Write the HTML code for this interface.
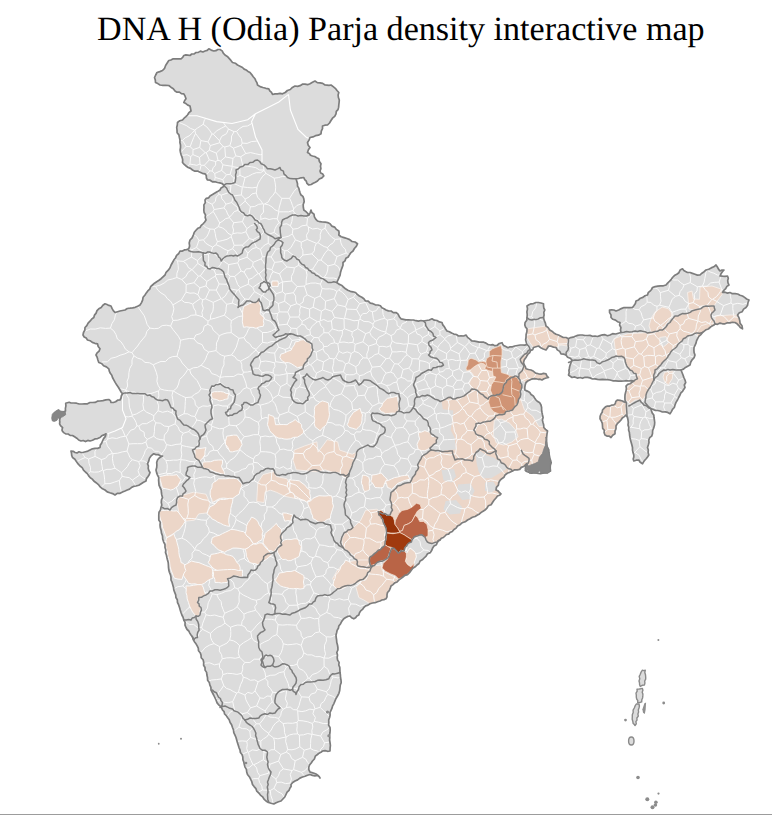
<!DOCTYPE html>
<html><head><meta charset="utf-8"><title>DNA H (Odia) Parja density interactive map</title>
<style>
html,body{margin:0;padding:0;background:#fff;}
body{width:772px;height:815px;overflow:hidden;position:relative;font-family:"Liberation Serif",serif;}
h1{position:absolute;left:0;top:9.6px;width:801.6px;text-rendering:geometricPrecision;margin:0;text-align:center;font-weight:normal;font-size:34.1px;line-height:40px;color:#000;white-space:nowrap;}
svg{position:absolute;left:0;top:0;}
.bl{position:absolute;left:0;top:813.5px;width:772px;height:1.5px;background:#9c9c9c;}
</style></head><body>
<svg width="772" height="815" viewBox="0 0 772 815">
<defs><clipPath id="c"><path d="M154.5 77.5 L155.7 75.0 L157.0 72.5 L159.8 71.6 L162.5 70.5 L164.6 68.3 L165.6 65.5 L167.2 63.0 L168.8 60.5 L170.9 60.0 L172.8 58.9 L175.0 58.8 L177.0 58.8 L179.0 58.9 L181.0 58.8 L182.7 57.4 L183.8 55.5 L185.8 54.9 L187.9 55.2 L190.0 55.5 L191.7 54.0 L194.2 53.9 L196.0 52.5 L198.3 52.4 L200.4 51.1 L202.9 52.0 L205.0 51.0 L207.2 50.4 L208.8 48.8 L211.2 50.1 L213.8 51.0 L215.9 50.7 L217.8 49.5 L220.0 49.5 L222.2 50.9 L223.3 53.2 L225.0 55.0 L227.3 56.4 L229.1 58.4 L230.9 60.4 L232.5 62.5 L235.3 63.2 L237.5 65.0 L240.0 66.2 L242.5 67.5 L244.1 69.1 L246.2 70.0 L248.0 71.4 L250.0 72.5 L251.7 74.6 L253.2 76.8 L255.0 78.8 L255.9 80.8 L257.0 82.8 L257.5 85.0 L260.1 86.6 L262.9 87.5 L265.8 88.3 L268.8 88.8 L269.8 90.8 L271.5 92.4 L272.5 94.5 L275.0 93.9 L277.5 93.8 L280.0 93.3 L282.5 93.8 L285.2 92.5 L287.4 90.5 L290.3 89.5 L292.4 87.4 L295.0 86.0 L297.6 86.3 L300.1 85.7 L302.4 84.2 L304.9 84.1 L307.6 84.7 L310.0 83.8 L312.5 82.3 L315.0 81.0 L317.3 82.6 L320.1 82.9 L322.7 83.4 L325.0 85.0 L327.0 85.2 L329.0 85.4 L331.0 85.0 L333.2 86.6 L335.3 88.3 L337.0 90.5 L338.8 92.5 L338.1 95.0 L338.4 97.5 L339.3 100.0 L339.1 102.5 L338.8 105.0 L338.6 107.4 L338.0 109.6 L336.3 111.4 L336.0 113.8 L334.7 116.3 L332.5 118.2 L331.0 120.5 L329.5 123.0 L327.5 125.0 L324.9 125.2 L322.5 126.0 L322.5 128.7 L321.3 131.1 L321.0 133.8 L318.4 135.2 L315.5 135.7 L312.9 136.9 L310.0 137.5 L309.0 140.1 L307.5 142.5 L308.2 145.3 L310.0 147.5 L308.4 149.8 L307.5 152.5 L309.3 153.4 L310.5 155.3 L312.5 156.0 L314.7 156.5 L316.7 157.7 L318.8 158.8 L319.4 161.5 L321.0 163.8 L320.5 166.1 L320.9 168.7 L320.0 171.0 L320.7 173.1 L322.8 174.1 L323.8 176.0 L321.9 177.9 L319.3 179.0 L317.5 181.0 L315.4 182.2 L313.2 183.3 L311.2 184.5 L308.8 185.0 L307.0 183.4 L306.3 181.2 L304.7 179.6 L303.8 177.5 L301.1 177.8 L298.6 178.5 L296.0 178.8 L296.8 181.2 L297.5 183.8 L297.5 186.1 L298.8 188.1 L299.3 190.3 L300.0 192.5 L300.8 194.8 L302.9 196.4 L303.8 198.8 L304.2 201.6 L303.2 204.4 L303.3 207.2 L303.8 210.0 L305.7 211.4 L307.4 213.0 L308.8 215.0 L310.2 212.6 L311.0 210.0 L311.8 212.5 L314.0 214.2 L314.4 216.9 L315.7 219.1 L317.5 221.0 L320.0 221.7 L322.5 222.0 L325.1 222.1 L327.6 222.6 L330.0 223.8 L331.8 226.1 L334.6 227.1 L336.4 229.4 L338.8 231.0 L339.1 233.0 L338.8 235.0 L341.2 236.7 L344.1 237.6 L346.9 238.5 L349.7 239.6 L352.0 241.5 L355.1 242.0 L357.5 243.8 L356.3 246.4 L354.4 248.5 L353.0 251.0 L351.0 252.6 L349.5 254.7 L348.2 257.0 L345.9 258.3 L345.0 260.9 L343.0 262.5 L343.0 265.2 L342.1 267.6 L341.2 270.0 L340.5 272.5 L340.1 275.2 L339.0 277.7 L337.9 280.1 L336.8 282.5 L338.9 284.1 L341.4 285.2 L343.4 287.0 L345.5 288.8 L347.8 290.2 L350.3 291.3 L352.9 291.8 L355.5 292.5 L357.3 294.4 L359.4 296.0 L361.8 297.2 L363.9 298.8 L365.5 301.0 L368.2 301.2 L370.3 303.1 L372.9 303.7 L375.3 304.8 L378.0 305.0 L380.4 305.7 L381.9 307.7 L384.0 308.7 L386.0 310.0 L388.4 310.9 L391.1 311.0 L393.3 312.6 L396.0 312.5 L398.1 314.2 L399.3 316.7 L401.0 318.8 L403.5 319.3 L405.9 319.8 L408.5 319.8 L411.0 320.0 L413.5 320.0 L416.0 320.7 L418.4 321.1 L421.0 320.5 L423.5 321.0 L426.4 320.5 L429.3 320.0 L432.0 318.8 L434.3 320.2 L437.0 320.5 L439.4 321.9 L442.0 322.5 L442.8 324.9 L444.4 326.8 L445.6 329.0 L447.0 331.0 L449.4 331.8 L451.6 333.1 L453.8 334.1 L456.4 334.5 L458.5 336.0 L461.0 335.9 L463.6 336.0 L466.0 335.0 L467.6 337.4 L469.8 339.2 L472.0 341.0 L474.5 341.1 L477.0 341.6 L479.2 342.1 L481.5 342.1 L483.7 342.2 L486.0 343.1 L488.0 344.5 L490.4 345.0 L492.6 344.6 L494.8 345.7 L497.0 345.5 L499.2 343.5 L502.0 342.7 L502.7 344.2 L503.6 345.5 L505.8 346.6 L508.0 347.7 L510.1 346.8 L512.5 346.8 L514.7 346.0 L517.4 345.5 L520.2 345.0 L522.4 345.0 L524.7 345.2 L526.8 344.4 L526.2 342.1 L525.6 339.9 L526.0 337.5 L526.1 334.6 L526.9 331.7 L527.0 328.8 L525.5 327.1 L524.8 325.0 L525.1 322.4 L526.8 320.2 L527.0 317.5 L527.2 314.6 L526.9 311.8 L527.5 308.9 L527.0 306.0 L528.9 304.7 L531.0 303.8 L533.5 303.6 L535.9 302.5 L538.5 302.5 L541.0 303.0 L543.5 303.8 L543.5 305.9 L543.8 308.0 L544.8 310.0 L543.8 312.4 L544.1 315.0 L543.5 317.5 L544.2 320.4 L545.4 323.1 L546.0 326.0 L548.2 327.7 L549.8 330.0 L551.9 331.2 L553.9 332.9 L556.1 334.2 L558.5 335.0 L560.9 336.2 L563.3 337.5 L566.1 337.5 L568.5 338.8 L570.7 337.6 L573.1 337.2 L575.3 336.2 L577.6 335.4 L580.0 335.0 L582.5 335.0 L585.0 335.5 L587.5 335.5 L590.0 335.4 L592.5 336.3 L595.0 336.0 L597.5 336.5 L600.0 335.6 L602.5 334.9 L605.0 334.7 L607.5 335.7 L610.0 335.0 L612.6 333.7 L615.6 334.0 L618.3 333.2 L621.0 332.5 L620.5 330.0 L620.9 327.5 L619.6 325.1 L620.0 322.5 L617.5 321.7 L615.5 320.1 L612.9 319.3 L611.0 317.5 L611.0 314.9 L609.6 312.6 L609.5 310.0 L611.7 309.8 L613.9 310.0 L616.0 311.0 L618.7 310.0 L621.3 308.6 L624.0 307.5 L626.8 307.7 L629.7 307.7 L632.5 307.5 L634.0 305.5 L635.4 303.5 L636.0 301.0 L638.4 300.0 L640.4 298.2 L642.9 297.4 L645.0 295.8 L647.5 295.0 L648.2 292.7 L650.0 291.2 L651.5 289.5 L652.5 287.5 L655.1 286.6 L657.8 286.2 L660.6 285.8 L663.4 285.8 L666.0 285.0 L667.6 283.1 L669.4 281.4 L671.1 279.6 L672.5 277.5 L674.4 275.6 L676.8 274.3 L678.9 272.7 L680.1 270.1 L682.5 268.8 L683.8 270.5 L685.6 271.5 L687.5 272.5 L690.1 272.5 L692.5 273.4 L695.0 274.2 L697.4 275.1 L700.0 275.0 L701.9 273.2 L704.1 271.7 L706.0 270.0 L708.7 269.2 L711.2 267.9 L713.8 266.8 L716.0 265.0 L717.4 267.0 L718.5 269.1 L720.0 271.0 L721.9 270.1 L724.0 270.0 L722.4 271.8 L721.0 273.8 L720.0 276.0 L722.5 276.2 L725.0 276.3 L727.5 276.0 L728.3 278.2 L727.7 280.6 L728.0 282.9 L729.0 285.0 L726.9 286.4 L725.7 288.7 L723.8 290.4 L722.5 292.5 L725.0 292.2 L727.5 293.1 L730.0 292.5 L732.4 293.7 L735.1 293.7 L737.7 294.0 L740.0 295.2 L742.5 296.0 L744.6 297.4 L746.6 299.0 L749.0 300.0 L748.0 302.5 L747.6 305.2 L746.0 307.5 L743.6 309.1 L742.2 311.7 L739.3 312.8 L737.5 315.0 L738.9 317.6 L739.7 320.4 L740.1 323.4 L742.0 325.8 L742.5 328.8 L740.3 327.6 L738.8 325.6 L737.1 323.8 L735.0 322.5 L732.4 322.3 L730.0 322.9 L727.4 322.8 L725.0 323.8 L722.5 323.8 L720.0 323.1 L717.5 324.3 L715.0 323.8 L713.6 325.3 L711.6 326.2 L710.0 327.5 L708.3 329.0 L706.1 329.7 L704.3 331.1 L702.5 332.5 L700.8 334.6 L698.8 336.4 L697.5 338.8 L696.5 340.9 L696.0 343.2 L695.0 345.4 L694.0 347.5 L693.9 350.1 L694.1 352.6 L695.0 355.0 L694.1 357.7 L692.1 359.8 L690.7 362.2 L690.0 365.0 L687.7 366.2 L685.5 367.4 L683.5 369.1 L681.0 370.0 L682.0 372.5 L683.0 375.0 L683.9 377.6 L685.0 380.0 L685.7 382.5 L684.3 385.0 L685.0 387.5 L683.7 389.4 L682.6 391.3 L680.9 392.9 L680.0 395.0 L678.7 397.5 L677.5 400.0 L676.0 402.4 L675.0 405.0 L674.3 407.5 L672.5 409.3 L671.4 411.6 L670.0 413.8 L667.7 412.4 L665.2 411.8 L662.4 412.0 L660.0 411.0 L657.7 410.5 L655.4 410.4 L653.2 409.4 L651.0 408.8 L651.5 411.0 L652.3 413.1 L653.8 415.0 L654.0 417.5 L654.4 420.0 L654.7 422.5 L654.5 425.0 L653.7 427.9 L652.6 430.7 L652.5 433.8 L651.7 436.1 L649.7 437.7 L648.8 440.0 L649.0 442.6 L648.3 445.1 L647.5 447.5 L648.3 449.9 L648.1 452.5 L648.8 455.0 L647.7 456.8 L646.4 458.5 L645.0 460.0 L643.6 461.8 L642.5 463.8 L640.2 462.3 L638.8 460.0 L636.2 460.2 L633.8 461.0 L633.2 459.0 L633.8 457.0 L633.8 455.0 L633.0 452.6 L632.5 450.1 L632.5 447.5 L631.9 445.0 L631.2 442.5 L630.5 440.0 L630.0 437.5 L629.6 435.0 L629.4 432.5 L628.6 430.1 L628.8 427.5 L628.0 425.1 L628.3 422.5 L628.0 420.0 L627.5 417.5 L626.0 415.0 L624.3 416.6 L622.3 418.0 L621.0 420.0 L619.2 421.9 L617.3 423.7 L616.0 426.0 L616.0 428.6 L615.0 431.1 L615.0 433.8 L612.7 435.3 L611.0 437.5 L609.2 436.1 L606.9 436.1 L605.0 435.0 L604.1 432.8 L604.3 430.3 L602.7 428.4 L602.5 426.0 L602.3 423.4 L601.3 421.0 L600.0 418.8 L600.1 416.4 L600.9 414.3 L602.2 412.3 L602.5 410.0 L604.0 408.4 L605.5 406.9 L607.5 406.0 L609.7 406.1 L611.6 405.2 L613.8 405.0 L615.3 403.6 L615.8 401.4 L617.5 400.0 L620.0 400.4 L622.5 401.0 L624.1 402.0 L626.0 402.5 L625.0 400.1 L624.9 397.6 L625.0 395.0 L625.5 392.8 L626.1 390.6 L626.4 388.3 L626.0 386.0 L627.7 384.4 L630.0 383.8 L631.9 382.4 L633.8 381.0 L631.3 380.6 L628.9 381.0 L626.4 380.7 L624.0 381.0 L621.2 381.2 L618.4 381.2 L615.6 380.9 L612.8 380.8 L610.0 380.0 L607.5 379.7 L605.0 379.6 L602.5 379.3 L600.0 379.7 L597.5 379.4 L595.0 378.8 L592.5 379.0 L590.0 377.9 L587.6 377.4 L585.0 377.3 L582.5 378.3 L580.0 377.5 L577.3 378.1 L574.7 376.9 L572.0 377.5 L570.2 376.3 L568.5 375.0 L569.2 372.8 L568.9 370.5 L569.4 368.2 L569.8 366.0 L570.5 364.0 L571.2 362.0 L572.0 360.0 L570.1 358.2 L567.6 357.2 L566.0 355.0 L563.6 354.1 L561.0 353.8 L559.7 351.4 L557.3 349.9 L556.0 347.5 L553.5 347.1 L551.1 346.2 L548.5 346.0 L547.4 348.1 L546.0 350.0 L543.3 349.0 L540.8 347.7 L538.5 346.0 L536.0 346.7 L533.5 347.5 L532.8 349.6 L530.6 350.5 L529.8 352.5 L528.2 353.9 L527.0 355.7 L526.0 357.5 L524.3 359.8 L523.5 362.5 L524.2 364.7 L525.3 366.6 L526.0 368.8 L528.5 369.5 L531.0 370.0 L533.5 371.3 L535.7 373.1 L538.5 373.8 L541.0 374.2 L543.5 373.4 L546.0 373.8 L546.8 375.9 L548.5 377.5 L546.2 378.0 L544.0 378.8 L542.0 380.0 L540.1 379.2 L538.0 379.3 L536.0 378.8 L533.8 378.6 L531.7 379.1 L529.8 380.0 L527.7 381.0 L526.0 382.5 L525.2 384.9 L524.8 387.4 L524.8 390.0 L527.3 391.1 L529.8 392.5 L531.1 394.6 L533.3 395.9 L534.6 398.0 L536.0 400.0 L537.7 401.6 L539.8 402.8 L541.0 405.0 L541.6 407.5 L541.6 410.0 L542.0 412.5 L542.5 415.0 L543.1 417.5 L542.4 420.1 L543.0 422.5 L543.7 425.0 L543.8 427.5 L545.5 429.4 L547.5 431.0 L547.0 433.9 L546.7 436.7 L546.5 439.6 L546.0 442.5 L546.3 445.2 L547.6 447.6 L548.8 450.0 L548.9 452.5 L549.3 455.1 L549.4 457.6 L550.5 460.0 L551.2 462.8 L550.3 465.5 L550.2 468.2 L550.5 471.0 L547.9 472.3 L545.0 473.0 L542.8 473.1 L540.5 473.6 L538.2 473.4 L536.0 473.0 L533.8 473.0 L531.6 473.2 L529.5 472.5 L527.3 471.8 L525.5 470.5 L526.1 468.8 L525.5 467.0 L526.2 465.3 L526.7 463.5 L525.2 465.0 L523.7 466.5 L521.3 467.4 L519.7 469.4 L517.3 469.8 L514.7 469.8 L512.5 471.0 L509.9 472.2 L507.3 473.3 L505.0 475.0 L503.9 477.3 L501.8 478.7 L500.0 480.4 L498.8 482.5 L498.4 485.2 L496.4 487.3 L496.0 490.0 L498.0 490.9 L499.4 492.5 L501.0 493.8 L499.5 495.3 L497.5 496.0 L495.8 498.2 L494.0 500.2 L492.5 502.5 L491.1 504.8 L488.3 505.8 L487.0 508.2 L485.0 510.0 L483.1 511.2 L481.2 512.4 L479.5 513.9 L477.5 515.0 L475.1 516.5 L472.4 517.3 L470.0 518.7 L467.5 520.0 L465.2 521.8 L462.3 522.7 L460.1 524.7 L457.5 526.0 L456.1 528.1 L454.0 529.5 L452.3 531.4 L450.0 532.5 L448.6 534.1 L446.5 534.5 L445.0 536.0 L443.4 537.5 L441.3 538.2 L440.0 540.0 L438.4 541.0 L437.3 542.5 L436.4 544.8 L434.0 546.0 L432.7 547.9 L431.8 550.2 L430.3 552.6 L427.5 553.7 L426.1 556.1 L424.1 558.0 L422.3 559.8 L420.1 561.0 L419.0 563.5 L417.0 565.0 L415.2 566.8 L412.8 568.3 L411.1 570.5 L409.5 572.7 L407.5 574.6 L404.9 575.4 L402.9 577.0 L400.8 578.6 L398.7 580.1 L397.1 582.0 L394.7 582.9 L393.0 584.6 L391.0 586.0 L390.2 588.4 L389.2 590.6 L387.5 592.5 L387.0 594.6 L387.0 596.8 L386.0 598.8 L384.0 599.6 L381.9 600.0 L380.0 601.0 L377.5 601.7 L375.1 602.7 L372.5 603.0 L370.0 603.8 L368.0 605.1 L365.6 605.9 L363.8 607.5 L362.5 609.4 L360.7 610.9 L359.5 612.8 L358.8 615.0 L356.9 616.0 L355.6 617.8 L353.8 618.8 L351.6 617.8 L350.0 616.0 L347.7 616.4 L345.7 617.5 L343.8 618.8 L341.9 621.1 L340.6 623.7 L338.8 626.0 L338.4 628.3 L337.1 630.4 L336.6 632.7 L336.0 635.0 L336.2 637.5 L336.6 640.0 L336.8 642.6 L337.5 645.0 L337.9 647.5 L337.9 650.0 L336.8 652.5 L337.5 655.0 L337.2 657.6 L337.6 660.1 L339.1 662.4 L338.8 665.0 L339.8 667.4 L339.9 669.9 L340.0 672.5 L340.4 675.0 L340.5 677.5 L341.0 680.0 L341.2 682.6 L340.3 685.0 L340.0 687.5 L339.7 690.5 L338.9 693.3 L337.5 696.0 L336.0 698.5 L334.9 701.1 L333.8 703.8 L332.6 705.9 L332.0 708.2 L331.0 710.3 L330.0 712.5 L330.1 715.1 L329.6 717.5 L328.7 720.0 L328.8 722.5 L328.6 725.1 L330.0 727.4 L330.2 729.9 L330.0 732.5 L329.6 735.0 L329.8 737.5 L329.6 740.0 L330.0 742.5 L330.4 745.3 L330.1 748.2 L330.0 751.0 L327.5 751.3 L325.0 750.6 L322.5 751.0 L320.9 752.3 L319.0 753.2 L317.5 754.5 L315.3 756.2 L314.4 759.0 L312.5 761.0 L311.2 763.0 L309.7 764.8 L308.8 767.0 L308.8 769.6 L310.0 772.0 L312.0 772.6 L314.1 773.2 L316.0 774.0 L318.4 775.6 L320.0 778.0 L319.1 776.4 L317.5 775.5 L314.9 775.8 L312.4 775.4 L310.0 774.5 L307.5 775.2 L305.0 776.2 L302.5 777.0 L299.9 778.1 L297.6 779.9 L295.0 781.0 L292.7 782.5 L291.0 784.5 L291.1 786.4 L290.0 788.0 L289.0 790.4 L287.1 792.2 L286.0 794.5 L284.8 797.0 L282.9 799.0 L281.0 801.0 L278.5 801.7 L276.1 802.7 L273.8 804.0 L271.1 803.3 L268.4 802.5 L266.0 801.0 L264.0 799.1 L262.6 796.8 L260.4 795.1 L258.8 793.0 L256.8 791.2 L255.9 788.6 L254.1 786.6 L252.5 784.5 L251.8 781.7 L250.6 779.2 L249.3 776.7 L247.5 774.5 L246.7 772.0 L246.4 769.4 L245.0 767.1 L244.3 764.6 L243.8 762.0 L242.9 759.6 L242.8 757.0 L242.0 754.6 L240.4 752.5 L240.0 750.0 L239.0 747.6 L238.2 745.1 L237.4 742.6 L236.7 740.0 L236.0 737.5 L235.0 735.1 L233.8 732.6 L233.5 730.0 L232.5 727.5 L231.6 724.8 L230.1 722.5 L229.2 719.8 L227.5 717.5 L226.3 715.6 L224.6 714.0 L224.1 711.7 L222.5 710.0 L221.3 707.2 L219.0 705.2 L217.1 702.9 L216.0 700.0 L214.8 697.5 L213.6 695.0 L212.3 692.5 L211.0 690.0 L210.9 687.3 L209.8 684.9 L209.3 682.4 L207.6 680.2 L207.5 677.5 L206.9 675.0 L206.6 672.4 L205.1 670.1 L205.0 667.5 L203.6 665.2 L203.7 662.4 L203.1 659.8 L201.2 657.7 L201.0 655.0 L200.2 652.7 L198.5 650.7 L198.3 648.1 L197.2 645.9 L196.0 643.8 L194.4 641.7 L193.2 639.6 L192.6 637.0 L191.0 635.0 L189.8 633.1 L188.8 631.0 L187.1 629.5 L186.0 627.5 L185.0 625.1 L185.1 622.3 L183.8 620.0 L183.1 617.4 L181.9 615.0 L181.0 612.5 L180.2 610.0 L179.5 607.4 L178.7 604.9 L177.5 602.5 L177.3 599.8 L175.9 597.5 L175.7 594.9 L174.7 592.4 L173.8 590.0 L173.5 587.4 L172.8 584.9 L172.1 582.4 L171.0 580.0 L171.0 577.4 L170.5 574.9 L169.5 572.5 L168.8 570.0 L168.5 567.5 L168.4 565.0 L168.2 562.4 L167.5 560.0 L166.9 557.5 L166.4 555.0 L165.5 552.6 L165.8 549.9 L165.0 547.5 L165.0 544.5 L163.6 541.8 L162.7 539.0 L162.5 536.0 L161.5 533.3 L161.1 530.5 L160.3 527.8 L160.0 525.0 L160.3 522.4 L158.8 520.1 L158.8 517.5 L158.8 515.0 L159.0 512.3 L160.4 510.1 L161.0 507.5 L161.8 505.1 L161.3 502.4 L161.5 499.9 L162.5 497.5 L161.8 495.0 L161.4 492.5 L161.2 489.9 L160.0 487.5 L159.0 485.1 L158.8 482.6 L158.6 480.1 L158.8 477.5 L157.5 475.1 L156.6 472.6 L156.0 470.0 L156.7 467.5 L156.9 465.0 L156.7 462.4 L157.5 460.0 L158.9 458.3 L160.6 457.1 L162.5 456.0 L160.2 455.9 L158.2 454.5 L155.9 454.6 L153.8 453.8 L152.3 454.8 L151.0 456.0 L149.4 458.4 L148.7 461.2 L147.5 463.8 L148.4 465.8 L148.2 468.3 L148.8 470.5 L150.0 472.5 L149.2 474.7 L147.9 476.7 L146.4 478.6 L146.0 481.0 L143.5 482.3 L141.2 483.8 L138.8 485.3 L136.0 486.0 L133.5 486.4 L131.4 487.6 L129.5 489.1 L127.2 490.0 L125.0 491.0 L122.5 492.0 L120.1 493.3 L117.2 493.4 L115.0 495.0 L112.6 493.6 L109.8 492.8 L107.2 491.9 L105.0 490.0 L102.5 488.8 L100.2 486.9 L98.4 484.6 L96.1 482.7 L93.8 481.0 L92.3 479.1 L90.3 477.7 L88.7 475.9 L87.5 473.8 L85.4 472.0 L83.5 470.1 L82.2 467.6 L80.0 466.0 L78.1 463.9 L76.4 461.6 L74.9 459.2 L72.5 457.5 L71.7 455.4 L71.5 453.2 L71.0 451.0 L73.2 451.3 L75.0 452.5 L77.0 452.9 L79.0 451.8 L81.0 452.5 L83.4 452.3 L85.6 451.7 L87.9 451.1 L90.0 450.0 L92.4 448.8 L94.9 448.4 L97.6 448.4 L100.0 447.5 L100.3 445.1 L101.6 443.2 L102.5 441.0 L103.6 438.6 L105.4 436.4 L106.0 433.8 L103.9 434.9 L101.7 435.8 L100.0 437.5 L97.6 438.6 L94.9 438.9 L92.5 440.2 L90.0 441.0 L87.8 440.4 L85.5 441.6 L83.2 440.5 L81.0 441.0 L78.7 440.0 L76.8 438.2 L74.6 436.8 L72.5 435.5 L70.1 435.4 L68.1 434.0 L65.7 433.9 L63.7 432.6 L62.1 430.8 L62.1 429.2 L62.6 427.6 L60.5 425.6 L59.6 423.9 L59.8 421.9 L59.6 420.1 L60.0 418.3 L60.5 415.4 L61.0 412.5 L63.3 412.0 L65.5 411.0 L65.4 408.4 L65.9 405.9 L65.7 403.3 L67.3 402.8 L69.2 402.3 L71.0 403.0 L73.8 403.0 L76.5 403.2 L79.2 404.0 L82.0 404.0 L84.7 403.8 L87.5 403.8 L89.9 402.5 L92.5 402.5 L95.1 402.4 L97.4 401.2 L100.0 401.0 L102.9 400.6 L105.8 399.9 L108.8 399.5 L110.4 400.6 L111.0 402.5 L113.4 402.5 L115.6 401.7 L117.6 400.2 L120.0 400.0 L121.0 398.0 L121.4 395.7 L122.5 393.8 L121.1 392.0 L120.0 390.0 L118.5 387.5 L116.8 385.1 L115.3 382.6 L113.9 380.1 L112.5 377.5 L111.8 375.2 L110.3 373.3 L109.3 371.1 L108.8 368.8 L106.4 366.9 L103.6 365.8 L101.6 363.5 L98.8 362.5 L97.9 360.0 L97.2 357.4 L96.0 355.0 L97.1 352.8 L99.1 351.1 L100.0 348.8 L98.2 346.5 L97.5 343.8 L94.8 343.3 L92.3 342.4 L90.1 340.7 L87.5 340.0 L86.2 338.1 L84.2 337.0 L83.0 335.0 L83.5 332.5 L84.8 330.1 L85.0 327.5 L86.8 325.6 L88.1 323.1 L90.0 321.2 L91.6 319.2 L93.8 317.5 L94.5 315.1 L96.1 313.1 L97.0 310.6 L98.8 308.8 L101.2 307.5 L102.9 305.3 L105.0 303.8 L107.0 304.5 L108.9 305.4 L111.0 306.0 L112.0 308.4 L113.3 310.6 L115.0 312.5 L117.5 311.7 L119.9 311.0 L122.5 310.5 L125.0 310.0 L127.3 308.5 L130.0 308.2 L132.6 307.8 L135.2 307.3 L137.6 306.2 L140.0 305.0 L141.5 302.6 L142.6 300.1 L143.1 297.2 L145.0 295.0 L146.3 292.9 L147.8 290.9 L149.7 289.1 L150.6 286.7 L152.5 285.0 L154.5 283.2 L156.7 281.7 L159.0 280.3 L161.1 278.7 L163.0 276.8 L165.0 275.0 L166.1 272.3 L168.3 270.2 L170.0 267.8 L171.1 265.0 L172.5 262.5 L173.8 260.1 L175.5 257.9 L176.6 255.3 L178.8 253.5 L180.0 251.0 L182.4 251.1 L184.4 249.9 L186.6 249.6 L188.8 248.8 L189.6 245.9 L189.2 242.9 L190.0 240.0 L192.1 237.8 L193.3 235.1 L194.3 232.3 L196.2 230.0 L197.8 228.3 L200.0 227.5 L201.2 225.4 L203.1 223.8 L204.7 222.0 L206.0 220.0 L205.2 217.6 L205.5 214.9 L204.1 212.5 L203.8 210.0 L204.0 207.5 L203.9 204.9 L205.3 202.6 L205.0 200.0 L206.3 198.3 L208.7 197.8 L210.0 196.0 L212.5 194.6 L215.0 193.1 L217.5 191.6 L220.0 190.0 L221.0 188.1 L223.0 187.0 L223.8 185.0 L221.9 183.5 L219.7 182.9 L217.5 182.5 L215.0 181.7 L212.4 181.8 L210.1 180.2 L207.5 180.0 L206.4 178.0 L206.3 175.6 L205.0 173.8 L202.4 173.3 L200.0 172.2 L197.6 171.1 L194.9 171.2 L192.5 170.0 L190.5 168.4 L188.1 167.5 L186.1 166.0 L184.2 164.4 L182.5 162.5 L182.7 159.9 L182.1 157.4 L181.2 155.0 L180.5 152.5 L180.1 150.0 L180.5 147.5 L180.5 145.0 L179.9 142.5 L180.0 140.0 L179.4 137.5 L178.9 134.9 L177.1 132.7 L177.0 130.0 L176.7 127.5 L177.3 125.0 L177.5 122.5 L179.8 120.8 L182.5 120.0 L184.1 118.2 L185.9 116.7 L187.5 115.0 L188.9 112.7 L191.0 111.0 L190.5 108.5 L190.0 106.0 L187.8 105.1 L185.9 103.6 L183.8 102.5 L184.7 100.5 L186.0 98.8 L185.1 96.2 L183.8 93.8 L181.4 93.7 L179.4 92.1 L177.0 92.2 L175.0 91.0 L173.3 88.7 L170.9 87.2 L168.8 85.5 L165.8 85.4 L162.9 85.3 L160.0 85.0 L157.8 83.6 L155.5 82.5 L155.3 79.9Z"/></clipPath></defs>
<path d="M154.5 77.5 L155.7 75.0 L157.0 72.5 L159.8 71.6 L162.5 70.5 L164.6 68.3 L165.6 65.5 L167.2 63.0 L168.8 60.5 L170.9 60.0 L172.8 58.9 L175.0 58.8 L177.0 58.8 L179.0 58.9 L181.0 58.8 L182.7 57.4 L183.8 55.5 L185.8 54.9 L187.9 55.2 L190.0 55.5 L191.7 54.0 L194.2 53.9 L196.0 52.5 L198.3 52.4 L200.4 51.1 L202.9 52.0 L205.0 51.0 L207.2 50.4 L208.8 48.8 L211.2 50.1 L213.8 51.0 L215.9 50.7 L217.8 49.5 L220.0 49.5 L222.2 50.9 L223.3 53.2 L225.0 55.0 L227.3 56.4 L229.1 58.4 L230.9 60.4 L232.5 62.5 L235.3 63.2 L237.5 65.0 L240.0 66.2 L242.5 67.5 L244.1 69.1 L246.2 70.0 L248.0 71.4 L250.0 72.5 L251.7 74.6 L253.2 76.8 L255.0 78.8 L255.9 80.8 L257.0 82.8 L257.5 85.0 L260.1 86.6 L262.9 87.5 L265.8 88.3 L268.8 88.8 L269.8 90.8 L271.5 92.4 L272.5 94.5 L275.0 93.9 L277.5 93.8 L280.0 93.3 L282.5 93.8 L285.2 92.5 L287.4 90.5 L290.3 89.5 L292.4 87.4 L295.0 86.0 L297.6 86.3 L300.1 85.7 L302.4 84.2 L304.9 84.1 L307.6 84.7 L310.0 83.8 L312.5 82.3 L315.0 81.0 L317.3 82.6 L320.1 82.9 L322.7 83.4 L325.0 85.0 L327.0 85.2 L329.0 85.4 L331.0 85.0 L333.2 86.6 L335.3 88.3 L337.0 90.5 L338.8 92.5 L338.1 95.0 L338.4 97.5 L339.3 100.0 L339.1 102.5 L338.8 105.0 L338.6 107.4 L338.0 109.6 L336.3 111.4 L336.0 113.8 L334.7 116.3 L332.5 118.2 L331.0 120.5 L329.5 123.0 L327.5 125.0 L324.9 125.2 L322.5 126.0 L322.5 128.7 L321.3 131.1 L321.0 133.8 L318.4 135.2 L315.5 135.7 L312.9 136.9 L310.0 137.5 L309.0 140.1 L307.5 142.5 L308.2 145.3 L310.0 147.5 L308.4 149.8 L307.5 152.5 L309.3 153.4 L310.5 155.3 L312.5 156.0 L314.7 156.5 L316.7 157.7 L318.8 158.8 L319.4 161.5 L321.0 163.8 L320.5 166.1 L320.9 168.7 L320.0 171.0 L320.7 173.1 L322.8 174.1 L323.8 176.0 L321.9 177.9 L319.3 179.0 L317.5 181.0 L315.4 182.2 L313.2 183.3 L311.2 184.5 L308.8 185.0 L307.0 183.4 L306.3 181.2 L304.7 179.6 L303.8 177.5 L301.1 177.8 L298.6 178.5 L296.0 178.8 L296.8 181.2 L297.5 183.8 L297.5 186.1 L298.8 188.1 L299.3 190.3 L300.0 192.5 L300.8 194.8 L302.9 196.4 L303.8 198.8 L304.2 201.6 L303.2 204.4 L303.3 207.2 L303.8 210.0 L305.7 211.4 L307.4 213.0 L308.8 215.0 L310.2 212.6 L311.0 210.0 L311.8 212.5 L314.0 214.2 L314.4 216.9 L315.7 219.1 L317.5 221.0 L320.0 221.7 L322.5 222.0 L325.1 222.1 L327.6 222.6 L330.0 223.8 L331.8 226.1 L334.6 227.1 L336.4 229.4 L338.8 231.0 L339.1 233.0 L338.8 235.0 L341.2 236.7 L344.1 237.6 L346.9 238.5 L349.7 239.6 L352.0 241.5 L355.1 242.0 L357.5 243.8 L356.3 246.4 L354.4 248.5 L353.0 251.0 L351.0 252.6 L349.5 254.7 L348.2 257.0 L345.9 258.3 L345.0 260.9 L343.0 262.5 L343.0 265.2 L342.1 267.6 L341.2 270.0 L340.5 272.5 L340.1 275.2 L339.0 277.7 L337.9 280.1 L336.8 282.5 L338.9 284.1 L341.4 285.2 L343.4 287.0 L345.5 288.8 L347.8 290.2 L350.3 291.3 L352.9 291.8 L355.5 292.5 L357.3 294.4 L359.4 296.0 L361.8 297.2 L363.9 298.8 L365.5 301.0 L368.2 301.2 L370.3 303.1 L372.9 303.7 L375.3 304.8 L378.0 305.0 L380.4 305.7 L381.9 307.7 L384.0 308.7 L386.0 310.0 L388.4 310.9 L391.1 311.0 L393.3 312.6 L396.0 312.5 L398.1 314.2 L399.3 316.7 L401.0 318.8 L403.5 319.3 L405.9 319.8 L408.5 319.8 L411.0 320.0 L413.5 320.0 L416.0 320.7 L418.4 321.1 L421.0 320.5 L423.5 321.0 L426.4 320.5 L429.3 320.0 L432.0 318.8 L434.3 320.2 L437.0 320.5 L439.4 321.9 L442.0 322.5 L442.8 324.9 L444.4 326.8 L445.6 329.0 L447.0 331.0 L449.4 331.8 L451.6 333.1 L453.8 334.1 L456.4 334.5 L458.5 336.0 L461.0 335.9 L463.6 336.0 L466.0 335.0 L467.6 337.4 L469.8 339.2 L472.0 341.0 L474.5 341.1 L477.0 341.6 L479.2 342.1 L481.5 342.1 L483.7 342.2 L486.0 343.1 L488.0 344.5 L490.4 345.0 L492.6 344.6 L494.8 345.7 L497.0 345.5 L499.2 343.5 L502.0 342.7 L502.7 344.2 L503.6 345.5 L505.8 346.6 L508.0 347.7 L510.1 346.8 L512.5 346.8 L514.7 346.0 L517.4 345.5 L520.2 345.0 L522.4 345.0 L524.7 345.2 L526.8 344.4 L526.2 342.1 L525.6 339.9 L526.0 337.5 L526.1 334.6 L526.9 331.7 L527.0 328.8 L525.5 327.1 L524.8 325.0 L525.1 322.4 L526.8 320.2 L527.0 317.5 L527.2 314.6 L526.9 311.8 L527.5 308.9 L527.0 306.0 L528.9 304.7 L531.0 303.8 L533.5 303.6 L535.9 302.5 L538.5 302.5 L541.0 303.0 L543.5 303.8 L543.5 305.9 L543.8 308.0 L544.8 310.0 L543.8 312.4 L544.1 315.0 L543.5 317.5 L544.2 320.4 L545.4 323.1 L546.0 326.0 L548.2 327.7 L549.8 330.0 L551.9 331.2 L553.9 332.9 L556.1 334.2 L558.5 335.0 L560.9 336.2 L563.3 337.5 L566.1 337.5 L568.5 338.8 L570.7 337.6 L573.1 337.2 L575.3 336.2 L577.6 335.4 L580.0 335.0 L582.5 335.0 L585.0 335.5 L587.5 335.5 L590.0 335.4 L592.5 336.3 L595.0 336.0 L597.5 336.5 L600.0 335.6 L602.5 334.9 L605.0 334.7 L607.5 335.7 L610.0 335.0 L612.6 333.7 L615.6 334.0 L618.3 333.2 L621.0 332.5 L620.5 330.0 L620.9 327.5 L619.6 325.1 L620.0 322.5 L617.5 321.7 L615.5 320.1 L612.9 319.3 L611.0 317.5 L611.0 314.9 L609.6 312.6 L609.5 310.0 L611.7 309.8 L613.9 310.0 L616.0 311.0 L618.7 310.0 L621.3 308.6 L624.0 307.5 L626.8 307.7 L629.7 307.7 L632.5 307.5 L634.0 305.5 L635.4 303.5 L636.0 301.0 L638.4 300.0 L640.4 298.2 L642.9 297.4 L645.0 295.8 L647.5 295.0 L648.2 292.7 L650.0 291.2 L651.5 289.5 L652.5 287.5 L655.1 286.6 L657.8 286.2 L660.6 285.8 L663.4 285.8 L666.0 285.0 L667.6 283.1 L669.4 281.4 L671.1 279.6 L672.5 277.5 L674.4 275.6 L676.8 274.3 L678.9 272.7 L680.1 270.1 L682.5 268.8 L683.8 270.5 L685.6 271.5 L687.5 272.5 L690.1 272.5 L692.5 273.4 L695.0 274.2 L697.4 275.1 L700.0 275.0 L701.9 273.2 L704.1 271.7 L706.0 270.0 L708.7 269.2 L711.2 267.9 L713.8 266.8 L716.0 265.0 L717.4 267.0 L718.5 269.1 L720.0 271.0 L721.9 270.1 L724.0 270.0 L722.4 271.8 L721.0 273.8 L720.0 276.0 L722.5 276.2 L725.0 276.3 L727.5 276.0 L728.3 278.2 L727.7 280.6 L728.0 282.9 L729.0 285.0 L726.9 286.4 L725.7 288.7 L723.8 290.4 L722.5 292.5 L725.0 292.2 L727.5 293.1 L730.0 292.5 L732.4 293.7 L735.1 293.7 L737.7 294.0 L740.0 295.2 L742.5 296.0 L744.6 297.4 L746.6 299.0 L749.0 300.0 L748.0 302.5 L747.6 305.2 L746.0 307.5 L743.6 309.1 L742.2 311.7 L739.3 312.8 L737.5 315.0 L738.9 317.6 L739.7 320.4 L740.1 323.4 L742.0 325.8 L742.5 328.8 L740.3 327.6 L738.8 325.6 L737.1 323.8 L735.0 322.5 L732.4 322.3 L730.0 322.9 L727.4 322.8 L725.0 323.8 L722.5 323.8 L720.0 323.1 L717.5 324.3 L715.0 323.8 L713.6 325.3 L711.6 326.2 L710.0 327.5 L708.3 329.0 L706.1 329.7 L704.3 331.1 L702.5 332.5 L700.8 334.6 L698.8 336.4 L697.5 338.8 L696.5 340.9 L696.0 343.2 L695.0 345.4 L694.0 347.5 L693.9 350.1 L694.1 352.6 L695.0 355.0 L694.1 357.7 L692.1 359.8 L690.7 362.2 L690.0 365.0 L687.7 366.2 L685.5 367.4 L683.5 369.1 L681.0 370.0 L682.0 372.5 L683.0 375.0 L683.9 377.6 L685.0 380.0 L685.7 382.5 L684.3 385.0 L685.0 387.5 L683.7 389.4 L682.6 391.3 L680.9 392.9 L680.0 395.0 L678.7 397.5 L677.5 400.0 L676.0 402.4 L675.0 405.0 L674.3 407.5 L672.5 409.3 L671.4 411.6 L670.0 413.8 L667.7 412.4 L665.2 411.8 L662.4 412.0 L660.0 411.0 L657.7 410.5 L655.4 410.4 L653.2 409.4 L651.0 408.8 L651.5 411.0 L652.3 413.1 L653.8 415.0 L654.0 417.5 L654.4 420.0 L654.7 422.5 L654.5 425.0 L653.7 427.9 L652.6 430.7 L652.5 433.8 L651.7 436.1 L649.7 437.7 L648.8 440.0 L649.0 442.6 L648.3 445.1 L647.5 447.5 L648.3 449.9 L648.1 452.5 L648.8 455.0 L647.7 456.8 L646.4 458.5 L645.0 460.0 L643.6 461.8 L642.5 463.8 L640.2 462.3 L638.8 460.0 L636.2 460.2 L633.8 461.0 L633.2 459.0 L633.8 457.0 L633.8 455.0 L633.0 452.6 L632.5 450.1 L632.5 447.5 L631.9 445.0 L631.2 442.5 L630.5 440.0 L630.0 437.5 L629.6 435.0 L629.4 432.5 L628.6 430.1 L628.8 427.5 L628.0 425.1 L628.3 422.5 L628.0 420.0 L627.5 417.5 L626.0 415.0 L624.3 416.6 L622.3 418.0 L621.0 420.0 L619.2 421.9 L617.3 423.7 L616.0 426.0 L616.0 428.6 L615.0 431.1 L615.0 433.8 L612.7 435.3 L611.0 437.5 L609.2 436.1 L606.9 436.1 L605.0 435.0 L604.1 432.8 L604.3 430.3 L602.7 428.4 L602.5 426.0 L602.3 423.4 L601.3 421.0 L600.0 418.8 L600.1 416.4 L600.9 414.3 L602.2 412.3 L602.5 410.0 L604.0 408.4 L605.5 406.9 L607.5 406.0 L609.7 406.1 L611.6 405.2 L613.8 405.0 L615.3 403.6 L615.8 401.4 L617.5 400.0 L620.0 400.4 L622.5 401.0 L624.1 402.0 L626.0 402.5 L625.0 400.1 L624.9 397.6 L625.0 395.0 L625.5 392.8 L626.1 390.6 L626.4 388.3 L626.0 386.0 L627.7 384.4 L630.0 383.8 L631.9 382.4 L633.8 381.0 L631.3 380.6 L628.9 381.0 L626.4 380.7 L624.0 381.0 L621.2 381.2 L618.4 381.2 L615.6 380.9 L612.8 380.8 L610.0 380.0 L607.5 379.7 L605.0 379.6 L602.5 379.3 L600.0 379.7 L597.5 379.4 L595.0 378.8 L592.5 379.0 L590.0 377.9 L587.6 377.4 L585.0 377.3 L582.5 378.3 L580.0 377.5 L577.3 378.1 L574.7 376.9 L572.0 377.5 L570.2 376.3 L568.5 375.0 L569.2 372.8 L568.9 370.5 L569.4 368.2 L569.8 366.0 L570.5 364.0 L571.2 362.0 L572.0 360.0 L570.1 358.2 L567.6 357.2 L566.0 355.0 L563.6 354.1 L561.0 353.8 L559.7 351.4 L557.3 349.9 L556.0 347.5 L553.5 347.1 L551.1 346.2 L548.5 346.0 L547.4 348.1 L546.0 350.0 L543.3 349.0 L540.8 347.7 L538.5 346.0 L536.0 346.7 L533.5 347.5 L532.8 349.6 L530.6 350.5 L529.8 352.5 L528.2 353.9 L527.0 355.7 L526.0 357.5 L524.3 359.8 L523.5 362.5 L524.2 364.7 L525.3 366.6 L526.0 368.8 L528.5 369.5 L531.0 370.0 L533.5 371.3 L535.7 373.1 L538.5 373.8 L541.0 374.2 L543.5 373.4 L546.0 373.8 L546.8 375.9 L548.5 377.5 L546.2 378.0 L544.0 378.8 L542.0 380.0 L540.1 379.2 L538.0 379.3 L536.0 378.8 L533.8 378.6 L531.7 379.1 L529.8 380.0 L527.7 381.0 L526.0 382.5 L525.2 384.9 L524.8 387.4 L524.8 390.0 L527.3 391.1 L529.8 392.5 L531.1 394.6 L533.3 395.9 L534.6 398.0 L536.0 400.0 L537.7 401.6 L539.8 402.8 L541.0 405.0 L541.6 407.5 L541.6 410.0 L542.0 412.5 L542.5 415.0 L543.1 417.5 L542.4 420.1 L543.0 422.5 L543.7 425.0 L543.8 427.5 L545.5 429.4 L547.5 431.0 L547.0 433.9 L546.7 436.7 L546.5 439.6 L546.0 442.5 L546.3 445.2 L547.6 447.6 L548.8 450.0 L548.9 452.5 L549.3 455.1 L549.4 457.6 L550.5 460.0 L551.2 462.8 L550.3 465.5 L550.2 468.2 L550.5 471.0 L547.9 472.3 L545.0 473.0 L542.8 473.1 L540.5 473.6 L538.2 473.4 L536.0 473.0 L533.8 473.0 L531.6 473.2 L529.5 472.5 L527.3 471.8 L525.5 470.5 L526.1 468.8 L525.5 467.0 L526.2 465.3 L526.7 463.5 L525.2 465.0 L523.7 466.5 L521.3 467.4 L519.7 469.4 L517.3 469.8 L514.7 469.8 L512.5 471.0 L509.9 472.2 L507.3 473.3 L505.0 475.0 L503.9 477.3 L501.8 478.7 L500.0 480.4 L498.8 482.5 L498.4 485.2 L496.4 487.3 L496.0 490.0 L498.0 490.9 L499.4 492.5 L501.0 493.8 L499.5 495.3 L497.5 496.0 L495.8 498.2 L494.0 500.2 L492.5 502.5 L491.1 504.8 L488.3 505.8 L487.0 508.2 L485.0 510.0 L483.1 511.2 L481.2 512.4 L479.5 513.9 L477.5 515.0 L475.1 516.5 L472.4 517.3 L470.0 518.7 L467.5 520.0 L465.2 521.8 L462.3 522.7 L460.1 524.7 L457.5 526.0 L456.1 528.1 L454.0 529.5 L452.3 531.4 L450.0 532.5 L448.6 534.1 L446.5 534.5 L445.0 536.0 L443.4 537.5 L441.3 538.2 L440.0 540.0 L438.4 541.0 L437.3 542.5 L436.4 544.8 L434.0 546.0 L432.7 547.9 L431.8 550.2 L430.3 552.6 L427.5 553.7 L426.1 556.1 L424.1 558.0 L422.3 559.8 L420.1 561.0 L419.0 563.5 L417.0 565.0 L415.2 566.8 L412.8 568.3 L411.1 570.5 L409.5 572.7 L407.5 574.6 L404.9 575.4 L402.9 577.0 L400.8 578.6 L398.7 580.1 L397.1 582.0 L394.7 582.9 L393.0 584.6 L391.0 586.0 L390.2 588.4 L389.2 590.6 L387.5 592.5 L387.0 594.6 L387.0 596.8 L386.0 598.8 L384.0 599.6 L381.9 600.0 L380.0 601.0 L377.5 601.7 L375.1 602.7 L372.5 603.0 L370.0 603.8 L368.0 605.1 L365.6 605.9 L363.8 607.5 L362.5 609.4 L360.7 610.9 L359.5 612.8 L358.8 615.0 L356.9 616.0 L355.6 617.8 L353.8 618.8 L351.6 617.8 L350.0 616.0 L347.7 616.4 L345.7 617.5 L343.8 618.8 L341.9 621.1 L340.6 623.7 L338.8 626.0 L338.4 628.3 L337.1 630.4 L336.6 632.7 L336.0 635.0 L336.2 637.5 L336.6 640.0 L336.8 642.6 L337.5 645.0 L337.9 647.5 L337.9 650.0 L336.8 652.5 L337.5 655.0 L337.2 657.6 L337.6 660.1 L339.1 662.4 L338.8 665.0 L339.8 667.4 L339.9 669.9 L340.0 672.5 L340.4 675.0 L340.5 677.5 L341.0 680.0 L341.2 682.6 L340.3 685.0 L340.0 687.5 L339.7 690.5 L338.9 693.3 L337.5 696.0 L336.0 698.5 L334.9 701.1 L333.8 703.8 L332.6 705.9 L332.0 708.2 L331.0 710.3 L330.0 712.5 L330.1 715.1 L329.6 717.5 L328.7 720.0 L328.8 722.5 L328.6 725.1 L330.0 727.4 L330.2 729.9 L330.0 732.5 L329.6 735.0 L329.8 737.5 L329.6 740.0 L330.0 742.5 L330.4 745.3 L330.1 748.2 L330.0 751.0 L327.5 751.3 L325.0 750.6 L322.5 751.0 L320.9 752.3 L319.0 753.2 L317.5 754.5 L315.3 756.2 L314.4 759.0 L312.5 761.0 L311.2 763.0 L309.7 764.8 L308.8 767.0 L308.8 769.6 L310.0 772.0 L312.0 772.6 L314.1 773.2 L316.0 774.0 L318.4 775.6 L320.0 778.0 L319.1 776.4 L317.5 775.5 L314.9 775.8 L312.4 775.4 L310.0 774.5 L307.5 775.2 L305.0 776.2 L302.5 777.0 L299.9 778.1 L297.6 779.9 L295.0 781.0 L292.7 782.5 L291.0 784.5 L291.1 786.4 L290.0 788.0 L289.0 790.4 L287.1 792.2 L286.0 794.5 L284.8 797.0 L282.9 799.0 L281.0 801.0 L278.5 801.7 L276.1 802.7 L273.8 804.0 L271.1 803.3 L268.4 802.5 L266.0 801.0 L264.0 799.1 L262.6 796.8 L260.4 795.1 L258.8 793.0 L256.8 791.2 L255.9 788.6 L254.1 786.6 L252.5 784.5 L251.8 781.7 L250.6 779.2 L249.3 776.7 L247.5 774.5 L246.7 772.0 L246.4 769.4 L245.0 767.1 L244.3 764.6 L243.8 762.0 L242.9 759.6 L242.8 757.0 L242.0 754.6 L240.4 752.5 L240.0 750.0 L239.0 747.6 L238.2 745.1 L237.4 742.6 L236.7 740.0 L236.0 737.5 L235.0 735.1 L233.8 732.6 L233.5 730.0 L232.5 727.5 L231.6 724.8 L230.1 722.5 L229.2 719.8 L227.5 717.5 L226.3 715.6 L224.6 714.0 L224.1 711.7 L222.5 710.0 L221.3 707.2 L219.0 705.2 L217.1 702.9 L216.0 700.0 L214.8 697.5 L213.6 695.0 L212.3 692.5 L211.0 690.0 L210.9 687.3 L209.8 684.9 L209.3 682.4 L207.6 680.2 L207.5 677.5 L206.9 675.0 L206.6 672.4 L205.1 670.1 L205.0 667.5 L203.6 665.2 L203.7 662.4 L203.1 659.8 L201.2 657.7 L201.0 655.0 L200.2 652.7 L198.5 650.7 L198.3 648.1 L197.2 645.9 L196.0 643.8 L194.4 641.7 L193.2 639.6 L192.6 637.0 L191.0 635.0 L189.8 633.1 L188.8 631.0 L187.1 629.5 L186.0 627.5 L185.0 625.1 L185.1 622.3 L183.8 620.0 L183.1 617.4 L181.9 615.0 L181.0 612.5 L180.2 610.0 L179.5 607.4 L178.7 604.9 L177.5 602.5 L177.3 599.8 L175.9 597.5 L175.7 594.9 L174.7 592.4 L173.8 590.0 L173.5 587.4 L172.8 584.9 L172.1 582.4 L171.0 580.0 L171.0 577.4 L170.5 574.9 L169.5 572.5 L168.8 570.0 L168.5 567.5 L168.4 565.0 L168.2 562.4 L167.5 560.0 L166.9 557.5 L166.4 555.0 L165.5 552.6 L165.8 549.9 L165.0 547.5 L165.0 544.5 L163.6 541.8 L162.7 539.0 L162.5 536.0 L161.5 533.3 L161.1 530.5 L160.3 527.8 L160.0 525.0 L160.3 522.4 L158.8 520.1 L158.8 517.5 L158.8 515.0 L159.0 512.3 L160.4 510.1 L161.0 507.5 L161.8 505.1 L161.3 502.4 L161.5 499.9 L162.5 497.5 L161.8 495.0 L161.4 492.5 L161.2 489.9 L160.0 487.5 L159.0 485.1 L158.8 482.6 L158.6 480.1 L158.8 477.5 L157.5 475.1 L156.6 472.6 L156.0 470.0 L156.7 467.5 L156.9 465.0 L156.7 462.4 L157.5 460.0 L158.9 458.3 L160.6 457.1 L162.5 456.0 L160.2 455.9 L158.2 454.5 L155.9 454.6 L153.8 453.8 L152.3 454.8 L151.0 456.0 L149.4 458.4 L148.7 461.2 L147.5 463.8 L148.4 465.8 L148.2 468.3 L148.8 470.5 L150.0 472.5 L149.2 474.7 L147.9 476.7 L146.4 478.6 L146.0 481.0 L143.5 482.3 L141.2 483.8 L138.8 485.3 L136.0 486.0 L133.5 486.4 L131.4 487.6 L129.5 489.1 L127.2 490.0 L125.0 491.0 L122.5 492.0 L120.1 493.3 L117.2 493.4 L115.0 495.0 L112.6 493.6 L109.8 492.8 L107.2 491.9 L105.0 490.0 L102.5 488.8 L100.2 486.9 L98.4 484.6 L96.1 482.7 L93.8 481.0 L92.3 479.1 L90.3 477.7 L88.7 475.9 L87.5 473.8 L85.4 472.0 L83.5 470.1 L82.2 467.6 L80.0 466.0 L78.1 463.9 L76.4 461.6 L74.9 459.2 L72.5 457.5 L71.7 455.4 L71.5 453.2 L71.0 451.0 L73.2 451.3 L75.0 452.5 L77.0 452.9 L79.0 451.8 L81.0 452.5 L83.4 452.3 L85.6 451.7 L87.9 451.1 L90.0 450.0 L92.4 448.8 L94.9 448.4 L97.6 448.4 L100.0 447.5 L100.3 445.1 L101.6 443.2 L102.5 441.0 L103.6 438.6 L105.4 436.4 L106.0 433.8 L103.9 434.9 L101.7 435.8 L100.0 437.5 L97.6 438.6 L94.9 438.9 L92.5 440.2 L90.0 441.0 L87.8 440.4 L85.5 441.6 L83.2 440.5 L81.0 441.0 L78.7 440.0 L76.8 438.2 L74.6 436.8 L72.5 435.5 L70.1 435.4 L68.1 434.0 L65.7 433.9 L63.7 432.6 L62.1 430.8 L62.1 429.2 L62.6 427.6 L60.5 425.6 L59.6 423.9 L59.8 421.9 L59.6 420.1 L60.0 418.3 L60.5 415.4 L61.0 412.5 L63.3 412.0 L65.5 411.0 L65.4 408.4 L65.9 405.9 L65.7 403.3 L67.3 402.8 L69.2 402.3 L71.0 403.0 L73.8 403.0 L76.5 403.2 L79.2 404.0 L82.0 404.0 L84.7 403.8 L87.5 403.8 L89.9 402.5 L92.5 402.5 L95.1 402.4 L97.4 401.2 L100.0 401.0 L102.9 400.6 L105.8 399.9 L108.8 399.5 L110.4 400.6 L111.0 402.5 L113.4 402.5 L115.6 401.7 L117.6 400.2 L120.0 400.0 L121.0 398.0 L121.4 395.7 L122.5 393.8 L121.1 392.0 L120.0 390.0 L118.5 387.5 L116.8 385.1 L115.3 382.6 L113.9 380.1 L112.5 377.5 L111.8 375.2 L110.3 373.3 L109.3 371.1 L108.8 368.8 L106.4 366.9 L103.6 365.8 L101.6 363.5 L98.8 362.5 L97.9 360.0 L97.2 357.4 L96.0 355.0 L97.1 352.8 L99.1 351.1 L100.0 348.8 L98.2 346.5 L97.5 343.8 L94.8 343.3 L92.3 342.4 L90.1 340.7 L87.5 340.0 L86.2 338.1 L84.2 337.0 L83.0 335.0 L83.5 332.5 L84.8 330.1 L85.0 327.5 L86.8 325.6 L88.1 323.1 L90.0 321.2 L91.6 319.2 L93.8 317.5 L94.5 315.1 L96.1 313.1 L97.0 310.6 L98.8 308.8 L101.2 307.5 L102.9 305.3 L105.0 303.8 L107.0 304.5 L108.9 305.4 L111.0 306.0 L112.0 308.4 L113.3 310.6 L115.0 312.5 L117.5 311.7 L119.9 311.0 L122.5 310.5 L125.0 310.0 L127.3 308.5 L130.0 308.2 L132.6 307.8 L135.2 307.3 L137.6 306.2 L140.0 305.0 L141.5 302.6 L142.6 300.1 L143.1 297.2 L145.0 295.0 L146.3 292.9 L147.8 290.9 L149.7 289.1 L150.6 286.7 L152.5 285.0 L154.5 283.2 L156.7 281.7 L159.0 280.3 L161.1 278.7 L163.0 276.8 L165.0 275.0 L166.1 272.3 L168.3 270.2 L170.0 267.8 L171.1 265.0 L172.5 262.5 L173.8 260.1 L175.5 257.9 L176.6 255.3 L178.8 253.5 L180.0 251.0 L182.4 251.1 L184.4 249.9 L186.6 249.6 L188.8 248.8 L189.6 245.9 L189.2 242.9 L190.0 240.0 L192.1 237.8 L193.3 235.1 L194.3 232.3 L196.2 230.0 L197.8 228.3 L200.0 227.5 L201.2 225.4 L203.1 223.8 L204.7 222.0 L206.0 220.0 L205.2 217.6 L205.5 214.9 L204.1 212.5 L203.8 210.0 L204.0 207.5 L203.9 204.9 L205.3 202.6 L205.0 200.0 L206.3 198.3 L208.7 197.8 L210.0 196.0 L212.5 194.6 L215.0 193.1 L217.5 191.6 L220.0 190.0 L221.0 188.1 L223.0 187.0 L223.8 185.0 L221.9 183.5 L219.7 182.9 L217.5 182.5 L215.0 181.7 L212.4 181.8 L210.1 180.2 L207.5 180.0 L206.4 178.0 L206.3 175.6 L205.0 173.8 L202.4 173.3 L200.0 172.2 L197.6 171.1 L194.9 171.2 L192.5 170.0 L190.5 168.4 L188.1 167.5 L186.1 166.0 L184.2 164.4 L182.5 162.5 L182.7 159.9 L182.1 157.4 L181.2 155.0 L180.5 152.5 L180.1 150.0 L180.5 147.5 L180.5 145.0 L179.9 142.5 L180.0 140.0 L179.4 137.5 L178.9 134.9 L177.1 132.7 L177.0 130.0 L176.7 127.5 L177.3 125.0 L177.5 122.5 L179.8 120.8 L182.5 120.0 L184.1 118.2 L185.9 116.7 L187.5 115.0 L188.9 112.7 L191.0 111.0 L190.5 108.5 L190.0 106.0 L187.8 105.1 L185.9 103.6 L183.8 102.5 L184.7 100.5 L186.0 98.8 L185.1 96.2 L183.8 93.8 L181.4 93.7 L179.4 92.1 L177.0 92.2 L175.0 91.0 L173.3 88.7 L170.9 87.2 L168.8 85.5 L165.8 85.4 L162.9 85.3 L160.0 85.0 L157.8 83.6 L155.5 82.5 L155.3 79.9Z" fill="#dcdcdc"/>
<g clip-path="url(#c)">
<path d="M431.0 450.0 L423.8 455.0 L418.8 462.5 L417.5 470.0 L412.5 477.5 L410.0 482.5 L397.5 486.0 L391.0 492.5 L390.0 500.0 L392.5 510.0 L390.0 515.0 L382.5 513.8 L378.2 511.6 L378.8 514.9 L381.0 516.5 L382.7 519.3 L383.8 523.7 L386.0 528.1 L386.5 533.0 L386.0 539.2 L384.9 544.5 L382.1 547.5 L378.2 550.2 L374.4 553.6 L370.0 557.0 L369.4 561.3 L370.5 565.7 L372.5 566.0 L375.5 564.0 L380.0 561.3 L384.3 560.2 L387.6 558.0 L389.3 553.6 L392.0 548.0 L395.4 549.7 L398.1 553.0 L400.9 550.3 L404.2 550.8 L405.3 547.0 L407.5 544.2 L411.4 542.0 L412.0 539.8 L414.1 537.0 L417.5 535.9 L421.9 534.8 L425.2 537.5 L427.4 542.0 L431.8 543.6 L437.3 542.0 L440.0 540.0 L445.0 536.0 L450.0 532.5 L457.5 526.0 L467.5 520.0 L477.5 515.0 L485.0 510.0 L492.5 502.5 L497.5 496.0 L501.0 493.8 L496.0 490.0 L498.8 482.5 L505.0 475.0 L512.5 471.0 L508.8 468.8 L503.8 463.8 L497.5 458.8 L496.0 451.0 L490.0 453.8 L480.0 448.8 L476.0 452.5 L472.5 461.0 L462.5 458.8 L455.0 460.0 L452.5 451.0 L440.0 451.0 L431.0 450.0Z" fill="#ecd6c8"/>
<path d="M413.1 407.9 L417.0 411.8 L422.2 417.0 L427.4 420.9 L429.9 427.4 L431.2 433.8 L437.7 437.7 L436.4 442.9 L429.9 448.1 L431.0 450.0 L440.0 451.0 L452.5 451.0 L455.0 460.0 L462.5 458.8 L472.5 461.0 L476.0 452.5 L480.0 448.8 L490.0 453.8 L496.0 451.0 L491.0 446.0 L487.5 440.0 L477.5 435.0 L473.8 430.0 L476.0 423.8 L482.6 422.3 L488.1 421.2 L493.7 419.0 L495.9 415.7 L499.2 414.5 L504.7 414.0 L507.0 411.2 L512.5 410.0 L514.7 406.8 L518.0 402.4 L520.2 397.0 L520.2 391.4 L521.9 387.0 L520.2 382.5 L518.5 378.0 L515.2 375.9 L511.4 377.5 L506.9 380.3 L503.6 385.8 L502.5 391.4 L499.2 394.7 L493.1 395.2 L490.4 396.3 L488.1 399.1 L484.8 396.9 L480.4 393.6 L477.1 390.2 L471.6 389.1 L468.3 392.5 L461.6 396.9 L455.0 399.0 L448.1 397.6 L440.3 401.5 L432.5 397.6 L427.4 395.0 L417.0 396.9 L415.7 397.6 L414.4 401.5Z" fill="#ecd6c8"/>
<path d="M476.7 449.2 L480.8 451.3 L487.0 455.5 L493.3 457.5 L503.6 463.8 L507.8 467.9 L501.6 472.0 L491.2 478.3 L482.9 478.3 L478.8 472.0 L476.7 463.8 L475.6 455.5Z" fill="#dcdcdc"/>
<path d="M441.5 470.0 L453.9 468.9 L456.0 476.2 L451.8 482.4 L443.5 480.3Z" fill="#dcdcdc"/>
<path d="M458.0 484.5 L470.5 483.4 L474.6 490.7 L470.5 499.0 L462.2 500.0 L457.0 492.8Z" fill="#dcdcdc"/>
<path d="M445.6 501.1 L456.0 500.0 L462.2 507.3 L460.1 513.5 L449.7 514.5 L443.5 509.4Z" fill="#dcdcdc"/>
<path d="M485.0 482.4 L493.3 481.4 L497.4 488.6 L491.2 492.8 L485.0 490.7Z" fill="#dcdcdc"/>
<path d="M415.5 396.4 L429.0 394.3 L441.6 401.5 L442.9 409.2 L453.3 410.5 L452.6 418.3 L450.7 430.0 L454.6 437.7 L455.9 449.4 L445.6 450.3 L438.3 452.4 L431.0 450.0 L429.9 448.1 L436.4 442.9 L437.7 437.7 L431.2 433.8 L429.9 427.4 L427.4 420.9 L422.2 417.0 L417.0 411.8 L413.1 407.9 L414.4 401.5Z" fill="#dcdcdc"/>
<path d="M294.1 450.1 L304.5 446.0 L316.9 441.8 L318.0 452.2 L327.3 439.7 L337.7 441.8 L339.7 450.1 L352.2 454.2 L356.3 452.2 L352.2 464.6 L346.0 479.1 L339.7 472.9 L331.5 471.9 L325.2 469.8 L316.9 471.9 L306.6 470.8 L296.2 469.8 L293.1 460.5Z" fill="#ecd6c8" stroke="#f7f1ee" stroke-width="0.8" stroke-linejoin="round"/>
<path d="M365.6 510.2 L377.0 509.2 L380.0 512.0 L381.0 516.5 L382.7 519.3 L383.8 523.7 L386.0 528.1 L386.5 533.0 L386.0 539.2 L384.9 544.5 L382.1 547.5 L378.0 550.2 L372.0 556.0 L368.0 565.0 L358.0 565.0 L353.0 555.0 L343.0 547.5 L341.8 539.2 L346.0 530.9 L354.2 526.8 L360.5 520.6Z" fill="#ecd6c8" stroke="#f7f1ee" stroke-width="0.8" stroke-linejoin="round"/>
<path d="M179.0 496.3 L193.5 492.2 L206.0 494.2 L210.1 503.6 L207.0 512.9 L198.7 513.9 L194.6 520.2 L185.2 521.2 L179.0 512.9 L176.9 502.5Z" fill="#ecd6c8" stroke="#f7f1ee" stroke-width="0.8" stroke-linejoin="round"/>
<path d="M257.8 482.8 L263.0 474.6 L274.4 471.5 L276.4 476.6 L286.8 478.7 L293.0 490.1 L295.1 498.4 L284.7 496.3 L276.4 492.2 L270.2 490.1 L265.0 492.2 L264.0 502.5 L256.7 501.5Z" fill="#ecd6c8" stroke="#f7f1ee" stroke-width="0.8" stroke-linejoin="round"/>
<path d="M332.5 578.8 L337.5 570.0 L345.0 562.5 L357.5 560.0 L370.0 560.0 L372.5 566.0 L381.0 565.0 L382.5 571.0 L392.5 576.0 L398.8 580.0 L391.0 586.0 L387.5 592.5 L386.0 598.8 L380.0 601.0 L370.0 603.8 L363.8 600.0 L358.8 597.5 L356.0 587.5 L365.0 577.5 L355.0 583.8 L345.0 586.0 L337.5 585.0Z" fill="#ecd6c8" stroke="#f7f1ee" stroke-width="0.8" stroke-linejoin="round"/>
<path d="M520.2 397.0 L518.0 402.4 L514.7 406.8 L512.5 410.0 L507.0 411.2 L504.7 414.0 L499.2 414.5 L495.9 415.7 L493.7 419.0 L488.1 421.2 L482.6 422.3 L476.0 423.8 L473.8 430.0 L477.5 435.0 L487.5 440.0 L491.0 446.0 L496.0 451.0 L497.5 458.8 L503.8 463.8 L508.8 468.8 L512.5 471.0 L519.7 469.4 L523.7 466.5 L526.7 463.5 L530.0 466.0 L537.5 463.8 L541.0 457.5 L543.0 451.3 L545.1 447.2 L546.1 438.9 L548.2 430.6 L543.0 426.5 L538.9 426.5 L532.6 416.1 L524.4 409.9 L522.3 403.7Z" fill="#ecd6c8" stroke="#f7f1ee" stroke-width="0.8" stroke-linejoin="round"/>
<path d="M494.3 420.2 L501.6 419.2 L509.8 423.3 L516.1 430.6 L518.1 436.8 L511.9 442.0 L503.6 445.1 L496.4 443.0 L493.3 434.7Z" fill="#dcdcdc" stroke="#f7f1ee" stroke-width="0.8" stroke-linejoin="round"/>
<path d="M529.8 352.5 L526.0 357.5 L523.5 362.5 L526.0 368.8 L531.0 370.0 L538.5 373.8 L546.0 373.8 L548.5 377.5 L542.0 380.0 L536.0 378.8 L529.8 380.0 L526.0 382.5 L522.0 380.0 L518.5 378.0 L519.0 373.7 L522.4 370.4 L524.0 366.0 L521.3 362.6 L520.2 359.3 L523.0 356.0 L526.8 353.2Z" fill="#ecd6c8" stroke="#f7f1ee" stroke-width="0.8" stroke-linejoin="round"/>
<path d="M527.0 328.8 L546.0 326.0 L549.8 330.0 L558.5 335.0 L568.5 338.8 L567.0 346.0 L561.0 345.0 L556.0 347.5 L548.5 346.0 L546.0 350.0 L538.5 346.0 L533.5 347.5 L529.8 342.5 L527.0 337.5Z" fill="#ecd6c8" stroke="#f7f1ee" stroke-width="0.8" stroke-linejoin="round"/>
<path d="M466.6 370.4 L470.5 369.8 L473.8 367.0 L477.1 364.8 L481.0 363.2 L483.7 363.7 L485.9 365.4 L484.8 368.7 L488.1 370.4 L492.6 371.5 L493.1 375.9 L495.9 377.0 L493.7 381.4 L491.5 384.7 L490.4 390.2 L492.6 395.2 L490.4 396.3 L488.1 399.1 L484.8 396.9 L480.4 393.6 L477.1 390.2 L471.6 389.1 L469.4 383.6 L470.5 379.2 L473.8 375.9 L471.6 372.6Z" fill="#ecd6c8" stroke="#f7f1ee" stroke-width="0.8" stroke-linejoin="round"/>
<path d="M613.8 338.8 L627.5 333.8 L650.0 332.5 L662.5 330.0 L670.0 322.5 L675.0 316.0 L685.0 313.8 L695.0 310.0 L706.0 306.0 L714.0 306.0 L715.0 310.0 L711.0 315.0 L714.0 321.0 L710.0 327.5 L702.5 332.5 L694.0 333.8 L687.5 336.0 L680.0 342.5 L672.5 350.0 L667.5 357.5 L662.5 362.5 L655.0 370.0 L653.8 380.0 L650.0 387.5 L646.0 395.0 L642.5 400.0 L635.0 400.0 L630.0 403.8 L626.0 400.0 L626.0 390.0 L630.0 383.8 L636.0 378.8 L636.0 373.8 L630.0 370.0 L626.0 363.8 L624.0 357.5 L616.0 356.0 L615.0 347.5Z" fill="#ecd6c8" stroke="#f7f1ee" stroke-width="0.8" stroke-linejoin="round"/>
<path d="M700.0 287.0 L712.0 286.0 L721.0 289.0 L722.5 294.0 L718.0 300.0 L714.3 305.5 L705.7 306.3 L701.0 307.1 L695.0 310.0 L689.0 309.0 L687.5 292.5 L692.0 291.0 L693.5 299.0 L699.5 299.3Z" fill="#ecd6c8" stroke="#f7f1ee" stroke-width="0.8" stroke-linejoin="round"/>
<path d="M651.3 318.0 L655.2 311.8 L662.2 307.1 L668.4 308.7 L673.1 314.9 L665.3 325.0 L660.6 331.2 L651.3 332.7 L649.0 325.8Z" fill="#ecd6c8" stroke="#f7f1ee" stroke-width="0.8" stroke-linejoin="round"/>
<path d="M715.0 316.0 L730.0 315.0 L737.5 315.0 L742.5 328.8 L735.0 322.5 L725.0 323.8 L715.0 323.8Z" fill="#ecd6c8" stroke="#f7f1ee" stroke-width="0.8" stroke-linejoin="round"/>
<path d="M701.0 325.8 L708.8 323.4 L714.3 323.4 L715.0 323.8 L710.0 327.5 L702.5 332.5 L697.5 338.8 L697.2 332.0Z" fill="#ecd6c8" stroke="#f7f1ee" stroke-width="0.8" stroke-linejoin="round"/>
<path d="M659.8 337.4 L666.0 336.6 L668.4 342.8 L663.7 346.7 L659.8 344.4Z" fill="#dcdcdc" stroke="#f7f1ee" stroke-width="0.8" stroke-linejoin="round"/>
<path d="M664.5 372.4 L673.1 370.8 L672.3 378.6 L668.4 384.8 L664.5 381.7 L663.0 377.0Z" fill="#ecd6c8" stroke="#f7f1ee" stroke-width="0.8" stroke-linejoin="round"/>
<path d="M621.0 420.0 L616.0 426.0 L615.0 433.8 L611.0 437.5 L605.0 435.0 L602.5 426.0 L600.0 418.8 L602.5 410.0 L607.5 406.0 L613.8 405.0 L617.5 400.0 L622.5 401.0 L626.0 402.5 L626.0 415.0Z" fill="#ecd6c8" stroke="#f7f1ee" stroke-width="0.8" stroke-linejoin="round"/>
<path d="M-1436.3 1073.8 L-1431.7 1072.0 L-1427.7 1068.7 L-1422.1 1069.0 L-1417.7 1066.7 L-1413.9 1062.9 L-1408.7 1062.5 L-1404.0 1060.7 L-1400.0 1057.4 L-1395.5 1055.1 L-1390.1 1055.1 L-1386.4 1051.2 L-1381.1 1050.8 L-1376.8 1048.2 L-1372.3 1046.0 L-1367.7 1044.1 L-1363.4 1041.6 L-1358.8 1039.5 L-1353.8 1038.6 L-1349.7 1035.6 L-1344.4 1035.2 L-1339.9 1033.0 L-1335.9 1029.7 L-1331.4 1027.5 L-1326.9 1025.4 L-1321.8 1024.7 L-1317.1 1022.9 L-1312.4 1021.3 L-1307.8 1019.3 L-1303.0 1017.8 L-1299.3 1013.9 L-1294.4 1012.7 L-1290.0 1010.2 L-1285.1 1009.0 L-1280.2 1007.9 L-1275.9 1005.1 L-1271.4 1003.1 L-1266.7 1001.2 L-1262.1 999.3 L-1257.7 997.0 L-1253.1 995.0 L-1248.3 993.7 L-1244.2 990.5 L-1239.7 988.5 L-1235.0 986.8 L-1230.3 984.9 L-1226.0 982.2 L-1220.8 981.8 L-1217.0 978.1 L-1212.2 976.6 L-1207.1 975.9 L-1202.7 973.4 L-1197.7 972.3 L-1193.4 969.9 L-1188.7 968.0 L-1184.0 966.4 L-1179.4 964.4 L-1175.1 961.9 L-1171.0 958.7 L-1165.7 958.4 L-1161.8 954.9 L-1156.7 954.1 L-1152.5 951.3 L-1148.0 949.2 L-1143.1 947.9 L-1139.1 944.7 L-1133.7 944.6 L-1129.5 941.8 L-1124.9 939.7 L-1120.1 938.2 L-1115.4 936.7 L-1111.0 934.3 L-1106.3 932.6 L-1102.3 929.1 L-1097.7 927.4 L-1093.1 925.2 L-1088.6 923.2 L-1083.6 922.2 L-1079.6 919.0 L-1074.1 919.1 L-1069.7 916.7 L-1065.7 913.4 L-1060.4 913.0 L-1056.0 910.6 L-1051.3 908.9 L-1047.0 906.4 L-1042.8 903.5 L-1038.1 901.9 L-1033.3 900.4 L-1029.2 897.2 L-1024.5 895.5 L-1019.9 893.6 L-1014.6 893.4 L-1010.9 889.4 L-1005.5 889.2 L-1001.1 886.9 L-996.6 884.6 L-992.3 882.2 L-987.2 881.4 L-983.0 878.4 L-978.6 876.1 L-973.4 875.4 L-969.0 873.1 L-964.9 870.0 L-960.4 868.0 L-955.7 866.2 L-950.8 865.1 L-946.1 863.3 L-941.7 860.9 L-937.1 859.0 L-932.5 857.1 L-927.6 855.9 L-922.9 854.2 L-918.8 850.9 L-914.3 849.0 L-909.8 846.8 L-904.6 846.1 L-900.5 843.1 L-896.0 841.0 L-891.8 838.0 L-886.8 837.2 L-882.3 835.0 L-877.3 834.0 L-872.8 831.7 L-868.8 828.4 L-863.5 828.2 L-859.6 824.7 L-854.9 822.8 L-850.3 821.0 L-845.5 819.5 L-841.3 816.7 L-836.3 815.6 L-831.7 813.8 L-827.5 810.8 L-823.1 808.6 L-817.7 808.4 L-813.1 806.6 L-808.9 803.6 L-804.6 800.9 L-799.3 800.7 L-795.4 797.3 L-790.4 796.1 L-785.5 794.9 L-781.5 791.6 L-776.5 790.7 L-772.3 787.7 L-767.8 785.7 L-762.8 784.6 L-758.4 782.3 L-754.4 778.9 L-749.0 778.8 L-744.9 775.9 L-740.2 774.2 L-735.3 772.9 L-730.8 770.6 L-726.4 768.2 L-721.5 767.2 L-716.9 765.3 L-712.4 763.1 L-707.7 761.3 L-703.2 759.1 L-699.0 756.4 L-694.4 754.3 L-689.6 752.9 L-685.1 750.7 L-680.4 749.0 L-675.6 747.5 L-671.3 745.1 L-667.1 742.1 L-662.7 739.8 L-657.7 738.6 L-652.8 737.5 L-648.7 734.4 L-643.6 733.6 L-639.6 730.2 L-635.1 728.1 L-630.1 727.3 L-626.2 723.7 L-621.1 723.0 L-616.4 721.1 L-612.3 718.1 L-607.3 717.1 L-602.3 716.0 L-598.1 713.2 L-593.7 710.8 L-588.8 709.6 L-584.7 706.5 L-580.2 704.4 L-575.4 703.0 L-571.2 700.1 L-565.6 700.4 L-561.1 698.4 L-556.9 695.5 L-552.1 694.0 L-547.4 692.3 L-543.8 688.1 L-538.8 687.1 L-534.5 684.5 L-529.8 682.7 L-525.4 680.2 L-520.7 678.7 L-515.8 677.4 L-511.0 676.0 L-506.7 673.4 L-501.9 672.0 L-497.8 668.8 L-493.2 667.0 L-488.5 665.2 L-484.2 662.6 L-478.6 662.9 L-474.1 660.8 L-470.3 656.9 L-465.3 655.9 L-460.6 654.3 L-456.7 650.7 L-451.2 650.9 L-447.0 648.0 L-442.5 645.9 L-438.0 643.7 L-433.5 641.7 L-428.8 640.0 L-423.9 638.7 L-419.7 635.9 L-414.7 634.8 L-410.6 631.8 L-406.2 629.3 L-401.1 628.6 L-396.6 626.5 L-391.8 625.0 L-387.8 621.6 L-383.1 619.9 L-378.8 617.4 L-374.3 615.3 L-369.5 613.7 L-364.2 613.5 L-360.1 610.4 L-355.5 608.3 L-350.7 606.9 L-346.0 605.2 L-341.9 602.3 L-337.5 599.8 L-332.5 598.8 L-327.5 597.8 L-323.2 595.2 L-318.6 593.2 L-313.9 591.6 L-310.0 588.1 L-305.1 586.9 L-300.3 585.3 L-295.4 584.0 L-291.8 579.9 L-287.0 578.3 L-282.5 576.3 L-277.4 575.4 L-272.7 573.8 L-268.7 570.4 L-264.3 568.1 L-259.6 566.3 L-254.5 565.6 L-249.8 564.0 L-245.1 562.2 L-240.9 559.3 L-235.9 558.3 L-232.1 554.7 L-226.8 554.3 L-223.1 550.3 L-217.8 549.9 L-213.5 547.4 L-208.6 546.1 L-204.4 543.2 L-199.6 541.9 L-194.7 540.7 L-190.9 536.8 L-186.4 534.6 L-181.2 534.2 L-176.4 532.6 L-172.1 530.1 L-167.7 527.5 L-163.0 525.9 L-158.8 523.0 L-154.3 520.8 L-149.1 520.5 L-145.1 517.1 L-140.0 516.3 L-135.5 514.0 L-131.2 511.6 L-126.8 509.1 L-122.3 506.9 L-117.6 505.2 L-113.0 503.4 L-108.2 501.8 L-103.9 499.3 L-99.4 497.2 L-94.3 496.4 L-89.8 494.2 L-85.3 492.1 L-81.0 489.5 L-76.4 487.4 L-71.6 486.1 L-66.8 484.6 L-62.8 481.3 L-57.6 480.8 L-53.2 478.3 L-49.1 475.4 L-44.3 473.9 L-39.9 471.4 L-35.0 470.2 L-30.0 469.2 L-25.6 466.9 L-21.1 464.7 L-16.1 463.5 L-11.7 461.2 L-7.1 459.3 L-2.7 456.9 L1.8 454.7 L6.6 453.4 L10.6 449.9 L15.1 447.8 L20.5 447.9 L25.1 445.9 L29.0 442.3 L33.5 440.2 L38.6 439.5 L43.1 437.2 L47.3 434.3 L52.2 433.2 L57.2 432.1 L61.5 429.5 L66.2 427.7 L70.5 425.1M-19.4 332.9 L-15.2 335.5 L-12.7 340.1 L-7.9 342.1 L-3.9 345.1 L-0.3 348.4 L3.1 352.0 L6.7 355.4 L10.0 359.0 L14.2 361.7 L17.0 366.0 L20.2 369.8 L24.6 372.2 L28.7 375.0 L32.7 377.9 L35.0 382.7 L39.3 385.3 L43.3 388.2 L46.8 391.7 L49.8 395.7 L53.5 399.0 L58.3 400.9 L61.9 404.3 L65.2 408.0 L68.8 411.4M70.5 425.1 L70.4 420.5 L70.1 415.9 L68.8 411.4M-953.4 1811.2 L-949.4 1808.2 L-945.5 1805.1 L-942.3 1801.0 L-938.0 1798.4 L-934.7 1794.6 L-929.8 1792.7 L-927.4 1787.8 L-923.2 1785.0 L-919.7 1781.4 L-914.5 1779.8 L-911.0 1776.2 L-907.9 1772.2 L-904.3 1768.7 L-899.7 1766.4 L-895.3 1763.8 L-891.5 1760.6 L-887.7 1757.3 L-884.4 1753.6 L-881.3 1749.5 L-876.6 1747.3 L-872.5 1744.5 L-868.5 1741.4 L-864.9 1738.0 L-861.2 1734.6 L-857.7 1731.0 L-853.5 1728.2 L-850.5 1724.1 L-846.3 1721.2 L-843.2 1717.2 L-838.5 1715.1 L-834.4 1712.2 L-830.8 1708.7 L-826.4 1706.2 L-822.6 1703.0 L-819.2 1699.2 L-815.1 1696.3 L-811.8 1692.5 L-808.2 1689.0 L-804.6 1685.5 L-799.7 1683.6 L-795.8 1680.5 L-793.6 1675.4 L-789.6 1672.3 L-784.4 1670.7 L-781.1 1667.0 L-777.4 1663.5 L-774.2 1659.7 L-769.3 1657.7 L-766.5 1653.3 L-762.9 1649.8 L-758.1 1647.8 L-754.3 1644.5 L-750.6 1641.2 L-747.3 1637.3 L-743.2 1634.5 L-739.5 1631.0 L-735.8 1627.8 L-731.4 1625.3 L-727.4 1622.3 L-723.7 1618.9 L-720.8 1614.6 L-716.6 1611.8 L-713.2 1608.1 L-708.4 1606.0 L-705.0 1602.2 L-701.4 1598.8 L-696.9 1596.4 L-694.2 1591.9 L-688.8 1590.5 L-685.0 1587.3 L-682.1 1583.0 L-677.4 1580.8 L-675.0 1576.0 L-670.4 1573.6 L-666.8 1570.2 L-663.3 1566.5 L-659.8 1562.9 L-656.0 1559.7 L-651.4 1557.5 L-647.0 1554.9 L-644.1 1550.6 L-640.1 1547.5 L-635.7 1545.1 L-632.2 1541.4 L-628.5 1538.1 L-624.1 1535.6 L-620.7 1531.9 L-616.6 1529.0 L-612.3 1526.3 L-609.7 1521.7 L-605.1 1519.4 L-601.9 1515.5 L-597.9 1512.4 L-594.2 1509.0 L-590.8 1505.4 L-586.3 1502.9 L-582.9 1499.3 L-578.9 1496.3 L-574.3 1494.0 L-570.7 1490.5 L-566.7 1487.5 L-562.7 1484.5 L-559.5 1480.5 L-554.9 1478.2 L-551.4 1474.7 L-548.3 1470.6 L-543.8 1468.2 L-541.1 1463.6 L-536.0 1462.0 L-533.5 1457.1 L-528.2 1455.7 L-525.9 1450.7 L-521.6 1448.0 L-517.6 1445.0 L-513.4 1442.2 L-510.5 1438.0 L-506.5 1435.0 L-502.4 1432.0 L-499.0 1428.3 L-494.7 1425.7 L-491.2 1422.1 L-487.7 1418.5 L-483.1 1416.2 L-479.4 1412.9 L-475.4 1409.9 L-471.2 1407.2 L-468.0 1403.1 L-463.9 1400.2 L-460.4 1396.6 L-456.7 1393.4 L-452.4 1390.7 L-447.9 1388.3 L-444.2 1384.9 L-440.4 1381.7 L-436.8 1378.2 L-433.4 1374.5 L-430.3 1370.4 L-425.5 1368.4 L-422.4 1364.2 L-417.7 1362.2 L-414.8 1357.8 L-411.3 1354.2 L-406.7 1351.9 L-402.7 1348.9 L-399.4 1345.2 L-395.2 1342.3 L-391.4 1339.2 L-386.9 1336.7 L-384.5 1331.8 L-379.7 1329.7 L-376.8 1325.5 L-371.8 1323.6 L-369.1 1319.1 L-364.3 1317.0 L-361.3 1312.8 L-357.2 1310.0 L-353.2 1307.0 L-348.5 1304.8 L-346.0 1299.9 L-341.5 1297.5 L-337.0 1295.1 L-333.5 1291.6 L-330.3 1287.6 L-327.2 1283.6 L-323.0 1280.7 L-319.1 1277.7 L-314.8 1275.0 L-311.7 1271.0 L-306.6 1269.2 L-303.4 1265.3 L-298.9 1262.9 L-295.3 1259.5 L-291.4 1256.3 L-288.7 1251.7 L-284.9 1248.5 L-280.7 1245.7 L-276.5 1243.0 L-272.3 1240.2 L-269.8 1235.5 L-265.9 1232.3 L-260.6 1230.9 L-257.4 1226.9 L-253.6 1223.7 L-249.8 1220.5 L-246.8 1216.3 L-243.0 1213.1 L-238.8 1210.3 L-234.1 1208.1 L-230.1 1205.1 L-226.4 1201.7 L-222.6 1198.5 L-220.2 1193.6 L-215.4 1191.6 L-211.8 1188.0 L-207.9 1184.9 L-203.4 1182.6 L-199.8 1179.1 L-196.1 1175.7 L-192.8 1171.9 L-189.4 1168.2 L-184.5 1166.2 L-181.8 1161.7 L-177.2 1159.4 L-172.7 1157.0 L-169.5 1153.1 L-165.4 1150.1 L-162.8 1145.5 L-158.1 1143.3 L-153.5 1141.0 L-149.7 1137.8 L-146.0 1134.4 L-143.0 1130.2 L-138.5 1127.8 L-135.4 1123.8 L-131.2 1121.1 L-127.3 1117.9 L-123.8 1114.3 L-119.5 1111.6 L-116.1 1107.9 L-112.0 1105.1 L-108.8 1101.2 L-104.9 1098.0 L-100.1 1096.0 L-96.4 1092.6 L-92.4 1089.6 L-90.1 1084.5 L-86.0 1081.6 L-81.5 1079.2 L-78.4 1075.2 L-73.8 1072.8 L-70.1 1069.5 L-65.7 1067.1 L-62.0 1063.7 L-59.0 1059.5 L-55.5 1055.9 L-51.3 1053.1 L-47.5 1049.8 L-43.3 1047.1 L-39.4 1044.0 L-36.7 1039.5 L-32.6 1036.6 L-28.5 1033.7 L-23.7 1031.7 L-19.9 1028.4 L-17.4 1023.6 L-12.6 1021.6 L-8.5 1018.7 L-5.2 1014.9 L-1.1 1012.0 L2.0 1007.9 L6.5 1005.5 L10.8 1002.8 L13.3 998.1 L17.2 994.9 L22.0 992.9 L24.8 988.5 L29.0 985.7 L32.7 982.4 L36.6 979.2 L40.4 976.0 L44.6 973.2 L48.6 970.2 L51.8 966.2 L55.6 963.0 L59.7 960.2 L63.8 957.3 L66.8 953.1 L71.8 951.2 L74.9 947.2 L79.6 945.0 L82.1 940.3 L87.0 938.4 L89.6 933.7 L94.1 931.3 L97.3 927.3 L101.3 924.3 L105.5 921.5 L109.5 918.5 L113.9 916.0 L117.8 912.9 L121.5 909.5 L124.2 905.0 L128.9 902.8 L131.7 898.4 L136.3 896.0 L140.2 892.9 L143.8 889.5 L148.1 886.9 L151.0 882.6 L155.9 880.6 L158.9 876.4 L162.7 873.2 L167.3 870.9 L170.6 867.1 L174.3 863.7 L179.0 861.6 L182.3 857.7 L185.2 853.4 L189.4 850.6 L193.9 848.2 L197.1 844.3 L201.3 841.5 L204.6 837.7 L208.5 834.6 L212.1 831.1 L216.5 828.5 L219.9 824.8 L224.4 822.4 L228.6 819.6 L232.6 816.6 L235.2 812.0 L238.7 808.4 L243.7 806.5 L246.3 801.9 L250.9 799.6 L254.3 795.9 L257.9 792.4 L262.4 790.0M550.8 3244.5 L551.3 3239.4 L549.2 3234.6 L548.8 3229.6 L549.0 3224.6 L547.7 3219.7 L546.2 3214.8 L546.1 3209.8 L547.1 3204.6 L546.2 3199.7 L543.9 3194.9 L544.0 3189.9 L543.3 3184.9 L544.6 3179.8 L543.0 3174.9 L542.0 3170.0 L542.8 3164.9 L541.7 3160.0 L540.5 3155.1 L540.9 3150.0 L539.3 3145.1 L537.7 3140.3 L539.3 3135.1 L536.5 3130.4 L538.0 3125.2 L536.8 3120.3 L534.8 3115.5 L534.6 3110.5 L534.5 3105.4 L533.5 3100.5 L534.1 3095.4 L532.5 3090.6 L531.9 3085.6 L531.4 3080.6 L530.7 3075.7 L531.8 3070.5 L529.9 3065.7 L531.1 3060.5 L529.8 3055.6 L529.7 3050.6 L529.0 3045.7 L527.9 3040.8 L527.4 3035.8 L527.2 3030.8 L525.8 3025.9 L526.5 3020.8 L523.7 3016.1 L524.6 3010.9 L523.5 3006.0 L523.4 3001.0 L523.5 2996.0 L521.0 2991.2 L520.1 2986.3 L521.2 2981.1 L519.6 2976.3 L519.8 2971.2 L519.7 2966.2 L519.4 2961.2 L518.6 2956.3 L516.5 2951.5 L516.8 2946.4 L515.2 2941.6 L516.6 2936.4 L514.8 2931.6 L513.7 2926.6 L513.4 2921.7 L513.4 2916.6 L513.2 2911.6 L512.0 2906.7 L512.2 2901.6 L511.8 2896.7 L509.6 2891.9 L510.8 2886.7 L510.1 2881.8 L508.2 2876.9 L507.1 2872.0 L507.6 2866.9 L507.4 2861.9 L505.4 2857.1 L504.7 2852.2 L506.4 2847.0 L505.4 2842.0 L504.1 2837.2 L504.8 2832.0 L502.6 2827.3 L503.5 2822.1 L503.1 2817.1 L501.0 2812.3 L500.5 2807.4 L499.4 2802.5 L500.9 2797.3 L499.7 2792.4 L499.8 2787.3 L498.1 2782.5 L498.4 2777.4 L497.8 2772.5 L495.5 2767.7 L496.4 2762.6 L495.0 2757.7 L493.6 2752.8 L495.1 2747.6 L494.0 2742.7 L492.2 2737.9 L491.7 2732.9 L491.7 2727.9 L490.9 2722.9 L490.5 2717.9 L489.9 2713.0 L488.5 2708.1 L488.6 2703.1 L488.6 2698.0 L487.7 2693.1 L487.2 2688.1 L485.5 2683.3 L485.3 2678.3 L485.1 2673.3 L483.8 2668.4 L484.1 2663.3 L483.3 2658.4 L483.8 2653.3 L482.2 2648.4 L481.5 2643.5 L480.8 2638.5 L480.9 2633.5 L480.8 2628.5 L478.9 2623.6 L480.0 2618.5 L478.1 2613.7 L478.0 2608.6 L478.7 2603.5 L476.0 2598.8 L477.1 2593.7 L474.7 2588.9 L475.0 2583.8 L474.6 2578.8 L473.8 2573.9 L474.1 2568.8 L471.9 2564.1 L471.3 2559.1 L473.0 2553.9 L472.1 2548.9 L470.8 2544.1 L469.8 2539.1 L469.5 2534.1 L469.3 2529.1 L468.9 2524.1 L467.5 2519.3 L468.2 2514.2 L466.0 2509.4 L465.9 2504.4 L464.4 2499.5 L464.4 2494.5 L464.6 2489.4 L463.4 2484.5 L463.0 2479.5 L462.1 2474.6 L462.1 2469.6 L460.8 2464.7 L461.5 2459.6 L460.2 2454.7 L459.9 2449.7 L460.2 2444.6 L458.8 2439.7 L459.0 2434.7 L456.8 2429.9 L457.0 2424.9 L455.4 2420.0 L456.8 2414.8 L456.1 2409.9 L456.1 2404.8 L455.0 2399.9 L453.8 2395.0 L452.3 2390.2 L453.0 2385.0 L452.3 2380.1 L451.7 2375.1 L450.6 2370.2 L451.5 2365.1 L450.5 2360.2 L448.7 2355.3 L447.9 2350.4 L448.8 2345.3 L448.5 2340.3 L447.3 2335.4 L445.4 2330.6 L446.0 2325.5 L444.8 2320.6 L444.1 2315.6 L445.2 2310.4 L443.2 2305.6 L444.0 2300.5 L442.2 2295.7 L440.6 2290.8 L441.8 2285.7 L440.1 2280.8 L441.2 2275.7 L440.7 2270.7 L439.8 2265.8 L437.2 2261.0 L436.6 2256.1 L436.9 2251.0 L436.7 2246.0 L435.7 2241.1 L436.3 2236.0 L435.4 2231.0 L434.1 2226.2 L433.8 2221.2 L434.4 2216.1 L433.1 2211.2 L432.1 2206.3 L431.7 2201.3 L430.4 2196.4 L430.0 2191.4 L429.6 2186.4 L429.6 2181.4 L428.7 2176.5 L428.1 2171.5 L428.2 2166.5 L425.8 2161.7 L426.0 2156.6 L426.8 2151.5 L424.4 2146.8 L425.7 2141.6 L425.1 2136.6 L422.9 2131.8 L422.4 2126.9 L421.3 2121.9 L421.8 2116.9 L421.2 2111.9 L421.3 2106.8 L420.7 2101.9 L418.4 2097.1 L418.2 2092.1 L418.5 2087.0 L419.2 2081.9 L417.5 2077.1 L415.7 2072.3 L417.2 2067.1 L414.6 2062.3 L415.7 2057.2 L413.3 2052.4 L412.7 2047.4 L412.2 2042.5 L413.1 2037.3 L412.9 2032.3 L410.6 2027.6 L411.1 2022.5 L409.3 2017.6 L410.5 2012.5 L409.4 2007.6 L407.8 2002.7 L407.8 1997.7 L406.5 1992.8 L407.9 1987.6 L406.3 1982.8 L405.1 1977.9 L405.3 1972.8 L406.1 1967.7 L403.4 1963.0 L403.7 1957.9 L402.5 1953.0 L403.0 1947.9 L401.2 1943.1 L402.4 1937.9 L401.8 1932.9 L400.4 1928.1 L400.2 1923.1 L398.0 1918.3 L398.6 1913.2 L397.9 1908.2 L396.7 1903.3 L397.5 1898.2 L396.8 1893.3 L396.3 1888.3 L396.0 1883.3 L395.7 1878.3 L395.1 1873.3 L393.3 1868.5 L392.5 1863.6 L393.4 1858.4 L391.4 1853.6 L391.2 1848.6 L391.7 1843.5 L390.0 1838.7 L389.5 1833.7 L390.1 1828.6 L388.4 1823.8 L388.8 1818.7 L387.8 1813.8 L387.6 1808.8 L385.2 1804.0 L385.5 1798.9 L384.5 1794.0 L384.7 1789.0 L383.0 1784.1 L382.2 1779.2 L383.7 1774.0 L382.0 1769.1 L382.9 1764.0 L381.9 1759.1 L380.3 1754.2 L380.7 1749.2 L380.0 1744.2 L378.5 1739.3 L377.6 1734.4 L378.5 1729.3 L376.3 1724.5 L375.4 1719.6 L376.5 1714.4 L376.2 1709.4 L374.0 1704.6 L375.3 1699.4 L374.7 1694.5 L373.0 1689.7 L373.8 1684.5 L372.5 1679.6 L372.0 1674.7 L371.4 1669.7 L371.0 1664.7 L369.8 1659.8 L368.5 1654.9 L368.9 1649.9 L366.8 1645.1 L367.0 1640.0 L366.9 1635.0 L365.5 1630.1 L366.4 1625.0 L365.8 1620.0 L364.1 1615.2 L365.1 1610.0 L363.3 1605.2 L363.9 1600.1 L363.0 1595.2 L361.0 1590.4 L362.1 1585.2 L361.8 1580.2 L360.7 1575.3 L358.6 1570.5 L359.8 1565.3 L359.3 1560.4 L357.2 1555.6 L356.9 1550.6 L356.9 1545.5 L355.8 1540.6 L354.6 1535.7 L354.1 1530.8 L354.4 1525.7 L354.5 1520.7 L352.7 1515.8 L352.9 1510.8 L350.9 1506.0 L351.4 1500.9 L351.7 1495.8 L351.2 1490.8 L350.8 1485.9 L350.5 1480.9 L349.0 1476.0 L347.1 1471.2 L347.6 1466.1 L346.0 1461.2 L346.4 1456.2 L346.8 1451.1 L346.5 1446.1 L345.1 1441.2 L343.9 1436.3 L343.6 1431.3 L344.0 1426.2 L342.4 1421.4 L341.2 1416.5 L342.6 1411.3 L341.4 1406.4 L340.7 1401.5 L338.7 1396.6 L339.0 1391.6 L337.6 1386.7 L338.8 1381.5 L337.9 1376.6 L335.7 1371.8 L336.7 1366.7 L336.7 1361.7 L335.6 1356.8 L333.8 1351.9 L334.8 1346.8 L333.5 1341.9 L332.6 1337.0 L332.2 1332.0 L332.3 1326.9 L330.5 1322.1 L330.0 1317.1 L331.1 1312.0 L330.1 1307.1 L328.4 1302.2 L328.0 1297.2 L328.0 1292.2 L325.9 1287.4 L327.1 1282.2 L325.3 1277.4 L325.5 1272.4 L324.2 1267.5 L323.9 1262.5 L323.2 1257.5 L322.4 1252.6 L322.7 1247.5 L322.8 1242.5 L321.4 1237.6 L320.7 1232.6 L320.7 1227.6 L320.2 1222.6 L318.2 1217.8 L318.9 1212.7 L319.0 1207.7 L316.2 1203.0 L316.7 1197.9 L315.5 1193.0 L315.6 1187.9 L314.7 1183.0 L314.7 1178.0 L314.4 1173.0 L312.9 1168.1 L314.0 1163.0 L311.3 1158.2 L312.5 1153.1 L312.1 1148.1 L309.7 1143.3 L309.5 1138.3 L309.5 1133.3 L309.1 1128.3 L307.8 1123.4 L307.9 1118.4 L307.5 1113.4 L306.1 1108.5 L305.6 1103.5 L306.3 1098.4 L304.6 1093.6 L304.3 1088.6 L304.7 1083.5 L303.9 1078.6 L301.4 1073.8 L302.3 1068.7 L301.3 1063.8 L299.9 1058.9 L301.3 1053.7 L300.7 1048.7 L298.6 1043.9 L297.8 1039.0 L298.3 1033.9 L296.4 1029.1 L297.4 1023.9 L297.3 1018.9 L295.6 1014.1 L296.2 1009.0 L295.2 1004.1 L293.2 999.3 L294.9 994.0 L293.4 989.2 L292.5 984.2 L291.5 979.3 L292.6 974.2 L289.9 969.4 L291.0 964.3 L288.7 959.5 L289.6 954.4 L289.3 949.4 L288.4 944.5 L288.5 939.4 L286.7 934.6 L286.9 929.5 L286.0 924.6 L284.0 919.8 L283.2 914.8 L284.1 909.7 L282.3 904.9 L282.4 899.9 L283.5 894.7 L281.0 889.9 L281.8 884.8 L279.3 880.1 L279.0 875.1 L279.5 870.0 L279.2 865.0 L279.3 859.9 L277.3 855.1 L277.5 850.1 L277.0 845.1 L274.9 840.3 L275.3 835.2 L274.0 830.4 L274.8 825.2 L273.4 820.4 L272.4 815.4 L273.2 810.3 L272.2 805.4 L272.5 800.3 L270.8 795.5 L270.3 790.5M262.4 790.0 L270.3 790.5M290.0 783.1 L293.3 786.8 L297.2 790.0 L298.9 795.0 L302.5 798.4 L305.3 802.5 L308.4 806.4 L312.1 809.7 L315.2 813.6 L318.3 817.4 L322.6 820.2 L325.6 824.2 L328.2 828.5M290.0 783.1 L285.5 783.6 L281.2 782.1 L276.7 782.5M273.9 788.4 L276.7 782.5M273.9 788.4 L277.6 791.5 L282.0 793.8 L284.7 798.1 L288.8 800.8 L292.9 803.4 L296.8 806.3 L299.9 810.1 L303.8 813.0 L308.3 815.1 L311.3 819.1 L316.3 820.6 L319.6 824.2 L323.9 826.6 L328.0 829.1 L331.2 833.0M270.3 790.5 L273.9 788.4M70.5 425.1 L76.7 428.5M74.6 443.6 L75.2 439.8 L74.9 435.9 L76.3 432.3 L76.7 428.5M328.2 828.5 L326.3 824.1 L324.5 819.6 L320.9 816.0 L319.0 811.6 L317.9 806.8 L316.8 802.1 L313.4 798.4 L312.3 793.6 L308.9 789.9 L308.5 784.8 L305.1 781.1 L304.5 776.2 L301.3 772.3M324.8 765.4 L319.8 766.1 L314.9 763.9 L309.9 764.6M301.3 772.3 L305.0 770.7 L307.6 767.8 L309.9 764.6M275.9 779.0 L276.7 782.5M262.4 790.0 L261.8 785.9 L259.5 782.5 L258.6 778.6M275.9 779.0 L268.5 773.2M268.5 773.2 L259.8 775.7M258.6 778.6 L259.8 775.7M2890.1 153.5 L2885.1 153.6 L2880.2 155.4 L2875.1 154.5 L2870.2 155.2 L2865.1 154.1 L2860.1 154.7 L2855.2 156.5 L2850.3 157.4 L2845.2 155.4 L2840.2 155.8 L2835.3 157.0 L2830.3 157.4 L2825.3 157.2 L2820.4 158.8 L2815.3 158.6 L2810.4 158.9 L2805.3 158.7 L2800.4 159.5 L2795.3 158.9 L2790.4 159.9 L2785.4 160.6 L2780.5 161.8 L2775.6 162.7 L2770.5 162.0 L2765.5 162.1 L2760.5 161.9 L2755.6 163.6 L2750.6 164.0 L2745.7 164.6 L2740.6 163.9 L2735.6 163.7 L2730.7 165.2 L2725.6 164.6 L2720.7 166.1 L2715.8 166.4 L2710.6 164.8 L2705.7 166.0 L2700.7 166.5 L2695.8 167.0 L2690.7 166.5 L2685.9 168.6 L2680.9 169.2 L2675.8 167.5 L2670.8 167.5 L2665.9 169.7 L2660.9 168.8 L2655.9 169.9 L2651.0 171.4 L2646.0 171.0 L2640.9 170.2 L2636.0 171.0 L2630.9 170.4 L2626.1 172.5 L2621.1 173.0 L2616.0 171.7 L2611.1 172.9 L2606.0 172.5 L2601.2 174.2 L2596.1 172.8 L2591.2 175.6 L2586.1 174.3 L2581.2 175.0 L2576.3 176.7 L2571.2 175.7 L2566.2 176.2 L2561.2 175.2 L2556.2 175.9 L2551.4 178.0 L2546.4 178.8 L2541.4 178.9 L2536.3 177.0 L2531.4 178.8 L2526.3 178.1 L2521.4 179.1 L2516.4 179.2 L2511.4 178.7 L2506.5 181.3 L2501.6 181.7 L2496.6 182.0 L2491.6 182.2 L2486.5 181.9 L2481.6 182.8 L2476.6 182.2 L2471.6 182.3 L2466.7 184.3 L2461.5 182.2 L2456.7 184.8 L2451.7 185.4 L2446.7 184.6 L2441.7 184.8 L2436.6 184.0 L2431.6 184.3 L2426.7 185.5 L2421.8 186.4 L2416.9 187.6 L2411.9 187.6 L2406.9 187.8 L2401.9 188.8 L2396.8 187.3 L2392.0 189.4 L2386.8 187.4 L2381.9 189.1 L2377.0 190.5 L2371.9 189.4 L2366.9 188.9 L2362.0 190.7 L2357.0 191.0 L2352.0 190.6 L2347.0 190.2 L2342.1 192.4 L2337.0 191.4 L2332.1 192.6 L2327.1 192.7 L2322.2 193.9 L2317.2 193.8 L2312.1 193.3 L2307.2 194.0 L2302.3 195.6 L2297.2 194.7 L2292.3 196.5 L2287.3 195.8 L2282.3 196.8 L2277.3 195.9 L2272.4 197.3 L2267.3 197.3 L2262.4 198.5 L2257.4 198.4 L2252.3 196.9 L2247.4 198.7 L2242.5 199.7 L2237.5 200.1 L2232.5 199.9 L2227.4 199.2 L2222.5 200.4 L2217.6 201.8 L2212.5 200.2 L2207.6 202.0 L2202.5 200.3 L2197.6 202.4 L2192.5 201.2 L2187.7 203.2 L2182.6 203.1 L2177.7 203.6 L2172.6 202.8 L2167.7 203.9 L2162.7 204.3 L2157.8 205.9 L2152.8 205.5 L2147.8 206.5 L2142.7 204.7 L2137.8 205.8 L2132.7 205.3 L2127.9 207.6 L2122.9 208.1 L2118.0 208.7 L2112.9 207.5 L2107.9 208.4 L2103.0 209.6 L2098.0 209.1 L2092.9 208.2 L2087.9 208.3 L2083.0 210.3 L2078.1 211.3 L2072.9 209.3 L2068.1 211.9 L2063.1 212.2 L2058.2 212.8 L2053.1 212.4 L2048.2 212.9 L2043.1 211.7 L2038.1 212.7 L2033.1 212.9 L2028.2 213.3 L2023.3 214.9 L2018.3 215.2 L2013.2 214.0 L2008.3 215.1 L2003.3 215.1 L1998.4 217.0 L1993.3 215.8 L1988.3 216.2 L1983.4 217.2 L1978.3 216.7 L1973.4 217.5 L1968.5 218.6 L1963.5 218.6 L1958.5 219.3 L1953.4 218.2 L1948.5 220.2 L1943.5 220.3 L1938.5 219.7 L1933.5 220.2 L1928.5 219.9 L1923.5 220.4 L1918.6 221.9 L1913.6 221.3 L1908.7 223.3 L1903.7 222.5 L1898.6 221.8 L1893.7 223.8 L1888.7 222.9 L1883.8 224.9 L1878.8 224.4 L1873.8 224.5 L1868.7 224.2 L1863.9 226.1 L1858.8 225.0 L1853.9 227.1 L1848.9 226.7 L1843.9 227.2 L1838.8 226.1 L1833.9 227.2 L1828.9 227.6 L1823.9 227.7 L1819.0 228.7 L1813.9 228.1 L1809.1 230.0 L1804.0 229.4 L1799.1 230.3 L1794.1 230.9 L1789.1 230.5 L1784.0 229.6 L1779.1 230.8 L1774.1 231.3 L1769.2 232.3 L1764.1 232.1 L1759.1 231.3 L1754.2 233.0 L1749.3 234.4 L1744.3 234.9 L1739.2 232.9 L1734.3 235.4 L1729.3 235.1 L1724.3 235.7 L1719.4 236.2 L1714.4 235.9 L1709.4 236.7 L1704.4 237.5 L1699.5 237.9 L1694.4 237.0 L1689.4 236.7 L1684.5 238.8 L1679.4 237.9 L1674.5 238.8 L1669.5 239.3 L1664.5 238.6 L1659.5 239.7 L1654.6 241.2 L1649.5 239.3 L1644.5 239.7 L1639.6 241.3 L1634.6 241.4 L1629.6 240.4 L1624.7 243.2 L1619.7 242.7 L1614.6 241.5 L1609.6 242.0 L1604.8 244.1 L1599.7 243.6 L1594.7 243.6 L1589.8 244.4 L1584.9 245.6 L1579.9 245.6 L1574.8 244.5 L1569.8 244.7 L1564.8 245.7 L1559.8 245.3 L1554.9 246.4 L1549.9 247.0 L1545.0 248.0 L1540.0 248.6 L1534.9 247.0 L1530.1 249.6 L1525.0 249.1 L1520.1 250.2 L1515.0 249.1 L1510.1 250.7 L1505.1 250.2 L1500.1 250.4 L1495.1 251.2 L1490.1 251.4 L1485.1 251.2 L1480.2 251.9 L1475.1 251.3 L1470.1 251.6 L1465.3 254.0 L1460.2 253.1 L1455.3 254.6 L1450.4 255.1 L1445.2 253.5 L1440.4 255.9 L1435.4 256.5 L1430.3 254.5 L1425.4 256.2 L1420.4 255.6 L1415.5 257.5 L1410.4 256.9 L1405.5 258.1 L1400.4 257.2 L1395.6 258.9 L1390.5 258.1 L1385.6 259.9 L1380.6 259.2 L1375.5 259.0 L1370.5 258.7 L1365.7 261.2 L1360.5 259.2 L1355.5 259.6 L1350.6 260.4 L1345.6 261.1 L1340.7 261.6 L1335.7 262.2 L1330.7 262.7 L1325.8 263.7 L1320.8 263.2 L1315.9 264.8 L1310.7 263.2 L1305.8 263.9 L1300.8 263.9 L1295.9 265.3 L1290.8 264.4 L1285.8 264.8 L1280.8 265.0 L1276.0 266.7 L1271.0 267.9 L1266.0 267.0 L1260.9 267.0 L1256.1 268.7 L1251.0 268.6 L1246.0 267.3 L1241.0 268.4 L1236.0 268.2 L1231.0 268.2 L1226.2 270.8 L1221.1 269.3 L1216.2 271.8 L1211.1 270.3 L1206.2 272.0 L1201.2 271.9 L1196.2 271.7 L1191.2 271.4 L1186.3 273.3 L1181.3 273.5 L1176.2 272.4 L1171.4 274.8 L1166.4 275.3 L1161.3 273.7 L1156.3 274.0 L1151.3 274.3 L1146.4 275.4 L1141.4 276.1 L1136.5 276.7 L1131.4 276.2 L1126.4 275.7 L1121.5 277.5 L1116.6 278.5 L1111.5 277.2 L1106.5 277.3 L1101.6 278.8 L1096.6 279.6 L1091.6 279.0 L1086.7 280.6 L1081.6 279.5 L1076.7 281.4 L1071.7 281.1 L1066.7 281.2 L1061.7 281.0 L1056.7 280.9 L1051.8 283.3 L1046.7 281.7 L1041.8 282.7 L1036.8 283.9 L1031.8 284.0 L1026.7 282.6 L1021.9 284.3 L1016.9 285.2 L1011.8 284.3 L1006.8 284.3 L1001.9 284.8 L996.9 285.6 L992.0 286.8 L986.9 286.2 L982.0 286.5 L977.0 286.9 L971.9 286.4 L967.0 287.6 L962.0 288.0 L957.1 289.2 L952.1 288.8 L947.1 289.8 L942.1 289.2 L937.2 290.9 L932.1 289.7 L927.2 290.7 L922.3 291.9 L917.3 292.5 L912.3 292.4 L907.2 291.0 L902.3 293.0 L897.2 291.7 L892.3 292.9 L887.3 293.8 L882.4 295.2 L877.4 294.0 L872.3 293.6 L867.5 296.2 L862.5 296.3 L857.5 295.8 L852.5 297.2 L847.6 297.5 L842.4 295.9 L837.5 297.0 L832.6 298.5 L827.5 297.5 L822.5 297.7 L817.5 297.8 L812.6 298.2 L807.7 300.1 L802.6 298.8 L797.6 299.7 L792.7 300.6 L787.6 299.4 L782.7 300.2 L777.8 302.5 L772.7 301.2 L767.8 301.9 L762.8 301.9 L757.8 303.2 L752.9 304.0 L747.8 302.7 L742.9 304.3 L737.8 303.3 L732.9 304.4M3000.4 705.2 L2995.3 705.5 L2990.5 704.1 L2985.8 701.6 L2980.5 703.0 L2975.9 700.4 L2971.0 699.2 L2965.9 699.4 L2960.9 699.3 L2956.3 696.6 L2951.1 697.1 L2946.4 695.1 L2941.4 694.7 L2936.2 695.1 L2931.4 693.7 L2926.5 692.4 L2921.6 691.8 L2916.7 691.0 L2911.9 689.3 L2906.8 689.1 L2901.8 688.8 L2897.1 686.7 L2892.2 685.7 L2887.1 685.8 L2882.4 683.9 L2877.5 682.8 L2872.2 684.0 L2867.4 682.4 L2862.6 681.1 L2857.6 680.5 L2852.5 680.5 L2847.7 678.8 L2842.8 677.7 L2837.7 678.3 L2832.7 677.5 L2828.0 675.8 L2822.9 675.8 L2818.0 675.0 L2813.0 674.1 L2808.2 672.7 L2803.5 670.6 L2798.2 671.7 L2793.6 669.0 L2788.6 668.5 L2783.7 667.5 L2778.5 668.3 L2774.0 665.4 L2768.9 665.1 L2763.8 665.2 L2758.9 664.6 L2754.3 661.9 L2749.0 662.9 L2744.4 660.3 L2739.5 659.1 L2734.6 658.3 L2729.4 658.8 L2724.7 656.9 L2719.4 657.9 L2714.6 656.6 L2709.7 655.7 L2704.8 654.8 L2699.9 653.6 L2695.0 652.9 L2690.1 651.6 L2684.9 652.3 L2680.1 650.7 L2675.3 649.3 L2670.2 649.4 L2665.2 648.7 L2660.7 645.7 L2655.6 645.6 L2650.6 645.2 L2645.8 643.8 L2640.8 643.5 L2635.7 643.5 L2631.1 640.9 L2626.0 641.1 L2621.0 640.7 L2616.3 638.3 L2611.1 639.1 L2606.2 637.9 L2601.4 636.6 L2596.3 636.7 L2591.5 635.2 L2586.5 634.9 L2581.6 633.6 L2576.9 631.8 L2571.9 631.0 L2566.7 632.0 L2561.9 630.0 L2556.9 630.0 L2551.9 629.5 L2547.0 628.1 L2542.2 626.7 L2537.5 624.8 L2532.4 624.9 L2527.7 622.9 L2522.6 622.9 L2517.7 621.7 L2512.6 621.7 L2507.8 620.1 L2502.9 619.6 L2497.9 618.9 L2493.2 616.9 L2488.1 616.8 L2482.9 617.6 L2478.3 615.1 L2473.2 614.9 L2468.5 613.2 L2463.5 612.7 L2458.4 612.9 L2453.5 611.5 L2448.6 610.9 L2443.7 609.7 L2438.9 608.2 L2433.9 607.4 L2429.1 606.3 L2424.0 606.2 L2418.9 606.4 L2414.1 604.9 L2409.3 603.4 L2404.1 604.1 L2399.5 601.3 L2394.3 602.0 L2389.3 601.7 L2384.6 599.7 L2379.6 598.8 L2374.7 597.7 L2369.9 596.2 L2364.7 597.1 L2359.8 596.2 L2355.0 594.7 L2350.0 594.0 L2345.2 592.3 L2340.0 593.2 L2335.2 591.8 L2330.3 590.8 L2325.5 589.2 L2320.7 587.6 L2315.6 587.6 L2310.8 586.3 L2305.8 585.6 L2300.9 584.9 L2295.8 584.7 L2291.2 582.3 L2286.0 582.8 L2281.3 580.7 L2276.0 582.2 L2271.2 580.3 L2266.2 579.8 L2261.2 579.8 L2256.3 578.6 L2251.7 576.1 L2246.6 576.2 L2241.8 574.4 L2236.8 573.8 L2231.9 572.8 L2226.8 573.2 L2221.9 572.0 L2217.2 570.2 L2212.1 570.2 L2207.2 569.1 L2202.2 568.9 L2197.3 567.9 L2192.5 566.0 L2187.3 566.9 L2182.6 564.7 L2177.7 563.5 L2172.8 562.9 L2167.6 563.2 L2163.0 561.0 L2157.7 562.0 L2153.0 559.6 L2147.9 560.2 L2143.3 557.4 L2138.4 556.2 L2133.3 556.6 L2128.3 556.1 L2123.5 554.5 L2118.5 553.9 L2113.4 554.4 L2108.6 552.6 L2103.7 551.8 L2098.7 551.5 L2093.8 550.1 L2088.9 549.4 L2084.1 547.7 L2079.2 546.7 L2074.2 546.1 L2069.2 545.7 L2064.3 544.6 L2059.2 545.1 L2054.4 543.4 L2049.7 541.2 L2044.7 540.6 L2039.5 541.5 L2034.6 540.6 L2029.8 539.1 L2025.0 537.6 L2020.1 536.4 L2015.1 536.2 L2010.0 536.1 L2005.0 535.9 L2000.1 534.6 L1995.4 532.4 L1990.5 531.5 L1985.4 531.7 L1980.4 531.4 L1975.6 529.7 L1970.6 529.1 L1965.8 527.7 L1960.6 528.2 L1955.9 526.4 L1950.9 525.6 L1945.9 525.7 L1941.0 524.1 L1936.1 523.5 L1931.2 522.4 L1926.5 520.2 L1921.4 520.1 L1916.7 518.4 L1911.6 518.3 L1906.7 517.5 L1901.8 516.6 L1896.6 517.3 L1892.0 514.1 L1886.9 514.6 L1881.9 513.9 L1877.2 512.2 L1872.0 512.4 L1867.1 511.9 L1862.5 509.0 L1857.5 508.8 L1852.4 508.6 L1847.3 508.7 L1842.4 507.6 L1837.8 505.3 L1832.9 504.4 L1827.9 503.7 L1822.8 503.8 L1817.9 502.7 L1813.2 500.7 L1808.2 500.4 L1803.1 500.2 L1798.4 498.5 L1793.4 497.9 L1788.2 498.7 L1783.4 497.2 L1778.7 495.0 L1773.5 495.6 L1768.7 493.9 L1763.8 493.0 L1758.9 492.0 L1753.9 491.6 L1748.8 491.7 L1744.1 489.3 L1739.2 488.6 L1734.2 488.0 L1729.4 486.3 L1724.1 487.6 L1719.3 486.2 L1714.3 485.9 L1709.4 485.0 L1704.5 483.7 L1699.9 481.4 L1695.0 480.4 L1689.8 481.1 L1684.8 480.7 L1680.0 478.9 L1675.1 477.9 L1670.2 477.0 L1665.1 476.8 L1660.4 475.1 L1655.5 474.0 L1650.3 474.6 L1645.4 473.6 L1640.6 472.3 L1635.5 472.4 L1630.7 470.6 L1625.7 470.1 L1620.7 469.9 L1616.0 467.9 L1611.1 466.5 L1606.0 466.7 L1601.0 466.4 L1596.2 464.7 L1591.4 463.0 L1586.5 462.1 L1581.4 462.4 L1576.3 462.3 L1571.4 461.6 L1566.8 459.0 L1561.8 458.3 L1556.7 458.3 L1552.1 456.0 L1547.0 455.8 L1542.2 454.3 L1537.1 454.4 L1532.1 453.9 L1527.3 452.4 L1522.5 450.7 L1517.6 449.8 L1512.4 450.9 L1507.7 448.4 L1502.6 448.5 L1497.8 446.8 L1492.7 447.0 L1488.0 445.1 L1482.9 445.0 L1478.1 443.9 L1473.1 443.5 L1468.2 442.0 L1463.2 441.6 L1458.2 441.6 L1453.5 439.5 L1448.6 438.4 L1443.6 438.0 L1438.5 437.9 L1433.6 437.2 L1428.8 435.6 L1423.9 434.2 L1418.8 434.4 L1414.0 432.9 L1408.9 433.1 L1404.1 431.7 L1399.3 429.8 L1394.3 429.7 L1389.2 429.5 L1384.2 429.1 L1379.6 426.3 L1374.3 427.7 L1369.5 426.2 L1364.5 425.9 L1359.8 423.4 L1354.6 424.3 L1350.1 421.3 L1345.1 420.5 L1340.2 419.5 L1335.2 419.2 L1330.2 419.1 L1325.4 417.5 L1320.4 416.7 L1315.4 416.2 L1310.4 415.7 L1305.6 414.7 L1300.6 414.3 L1295.7 413.0 L1290.7 412.7 L1285.9 410.7 L1280.7 411.6 L1276.0 409.7 L1271.0 409.0 L1266.2 407.9 L1261.3 406.6 L1256.4 405.5 L1251.2 406.2 L1246.3 405.1 L1241.4 404.3 L1236.6 403.0 L1231.5 403.1 L1226.6 401.7 L1222.0 399.1 L1216.8 400.0 L1211.9 399.1 L1206.8 398.8 L1202.2 396.6 L1196.9 397.4 L1192.1 396.0 L1187.1 395.5 L1182.6 392.5 L1177.4 393.3 L1172.6 391.3 L1167.5 391.6 L1162.7 389.7 L1157.8 388.8 L1152.8 388.7 L1147.7 388.9 L1142.9 387.3 L1137.9 386.6 L1133.0 385.8 L1128.3 383.8 L1123.3 383.1 L1118.1 383.7 L1113.4 381.7 L1108.4 381.5 L1103.7 379.0 L1098.4 380.4 L1093.8 377.7 L1088.9 376.5 L1083.8 376.6 L1079.1 375.0 L1074.2 374.0 L1069.1 374.0 L1064.2 372.9 L1059.3 372.2 L1054.3 371.7 L1049.5 370.0 L1044.5 369.2 L1039.3 370.3 L1034.6 368.1 L1029.8 366.8 L1024.7 366.7 L1019.9 364.9 L1015.1 363.7 L1010.0 363.6 L1004.9 363.8 L999.9 363.6 L995.3 360.5 L990.0 361.9 L985.5 358.6 L980.5 358.5 L975.5 357.8 L970.7 356.1 L965.7 355.7 L960.4 356.8 L955.7 355.2 L950.8 354.2 L945.8 353.3 L941.0 351.8 L936.1 350.7 L931.1 350.4 L926.3 349.0 L921.4 348.0 L916.2 348.5 L911.3 347.4 L906.7 345.2 L901.5 345.9 L896.6 344.7 L891.9 342.7 L886.8 342.5 L881.6 343.2 L877.1 340.1 L872.2 339.2 L867.2 338.7 L862.3 337.7 L857.3 337.4 L852.5 335.9 L847.5 335.1 L842.4 335.2 L837.5 334.5 L832.4 334.8 L827.6 332.9 L822.8 331.2 L817.6 332.2 L813.1 329.1 L808.1 328.6 L803.2 327.5 L797.9 328.5 L793.0 327.7 L788.1 326.9 L783.1 326.4 L778.2 325.6 L773.6 322.5 L768.4 323.2 L763.4 322.9 L758.5 322.1 L753.9 319.2 L748.9 318.8 L743.9 318.5 L739.0 317.4 L734.0 316.8M734.0 316.8 L733.3 312.7 L732.8 308.6 L732.9 304.4M110.4 328.1 L113.8 330.9 L116.0 334.7 L117.4 339.0 L120.9 341.7 L123.4 345.3 L125.4 349.1 L129.0 351.8M110.4 328.1 L105.4 328.4 L100.3 327.8 L95.4 329.1 L90.4 329.0 L85.6 330.9 L80.6 331.1 L75.6 331.6 L70.5 330.9 L65.6 332.2 L60.6 332.2 L55.8 334.1 L50.6 332.4 L45.8 334.6 L40.7 333.4 L35.7 333.7 L30.7 334.5 L25.9 335.9 L20.8 334.9 L15.9 337.3 L11.0 337.9 L5.9 337.4 L0.9 337.7M129.0 351.8 L124.7 353.9 L120.2 355.2 L115.8 357.2 L111.1 358.3 L107.4 361.8 L102.3 361.9 L98.3 364.6 L93.6 365.7 L89.5 368.0 L85.3 370.6 L80.5 371.3M68.8 411.4 L72.7 411.7 L76.6 411.5 L80.5 412.2 L84.4 410.8M84.4 410.8 L85.4 406.0 L85.7 401.0 L86.5 396.2 L87.0 391.3 L86.6 386.2 L88.5 381.5M84.4 410.8 L84.7 411.3M76.7 428.5 L81.9 426.8M84.7 411.3 L84.1 415.2 L83.4 419.1 L83.3 423.0 L81.9 426.8M270.0 764.2 L278.6 761.1M268.5 773.2 L270.0 764.2M275.9 779.0 L278.5 775.7 L279.9 771.5 L283.4 768.9M278.6 761.1 L283.4 768.9M290.0 783.1 L291.4 779.0 L290.3 774.5 L292.0 770.5M283.4 768.9 L292.0 770.5M309.9 764.6 L307.4 762.2 L305.7 759.0 L302.5 757.3M302.5 757.3 L295.2 760.8M301.3 772.3 L293.6 769.6M295.2 760.8 L293.6 769.6M292.0 770.5 L293.6 769.6M259.8 775.7 L257.5 772.2 L256.6 767.9 L253.7 764.7M270.0 764.2 L263.4 759.7M263.4 759.7 L260.2 761.4 L257.1 763.3 L253.7 764.7M1799.3 1746.1 L1796.8 1741.6 L1792.4 1738.9 L1790.0 1734.3 L1785.7 1731.5 L1783.0 1727.2 L1778.5 1724.5 L1775.3 1720.8 L1772.0 1716.9 L1768.7 1713.2 L1765.8 1709.1 L1763.0 1704.9 L1760.1 1700.8 L1755.8 1698.0 L1752.8 1694.0 L1749.3 1690.5 L1745.0 1687.5 L1743.1 1682.6 L1738.3 1680.2 L1735.9 1675.7 L1732.7 1671.8 L1728.3 1669.0 L1725.4 1665.0 L1722.2 1661.1 L1720.1 1656.4 L1715.4 1653.9 L1711.8 1650.4 L1709.5 1645.7 L1706.7 1641.6 L1702.8 1638.4 L1698.9 1635.1 L1696.8 1630.3 L1692.4 1627.5 L1688.6 1624.3 L1686.7 1619.3 L1683.1 1615.9 L1679.4 1612.4 L1675.7 1609.1 L1671.7 1606.0 L1669.4 1601.3 L1665.5 1598.2 L1662.6 1594.0 L1660.0 1589.6 L1656.1 1586.5 L1652.2 1583.2 L1649.7 1578.8 L1645.8 1575.6 L1642.7 1571.6 L1639.8 1567.5 L1635.2 1565.0 L1631.5 1561.6 L1628.9 1557.2 L1625.1 1554.0 L1622.2 1549.9 L1620.0 1545.1 L1616.7 1541.4 L1611.6 1539.3 L1608.8 1535.1 L1605.3 1531.5 L1603.3 1526.6 L1598.4 1524.3 L1595.9 1519.9 L1591.7 1516.9 L1589.3 1512.3 L1584.8 1509.7 L1583.3 1504.4 L1579.5 1501.1 L1576.4 1497.2 L1572.7 1493.7 L1569.2 1490.2 L1565.5 1486.8 L1562.3 1483.0 L1559.2 1479.0 L1555.1 1476.0 L1552.9 1471.3 L1548.7 1468.4 L1546.2 1463.9 L1543.2 1459.9 L1539.3 1456.7 L1536.6 1452.4 L1532.1 1449.8 L1529.7 1445.2 L1525.5 1442.3 L1523.1 1437.7 L1519.1 1434.6 L1515.4 1431.3 L1513.0 1426.7 L1509.4 1423.3 L1506.0 1419.6 L1503.1 1415.4 L1499.0 1412.5 L1496.5 1408.0 L1492.0 1405.4 L1488.2 1402.1 L1484.7 1398.5 L1483.0 1393.3 L1478.4 1390.8 L1475.9 1386.3 L1472.4 1382.7 L1468.3 1379.7 L1465.9 1375.2 L1462.9 1371.2 L1458.2 1368.7 L1455.2 1364.7 L1451.6 1361.2 L1448.5 1357.3 L1444.9 1353.8 L1441.7 1350.0 L1438.3 1346.3 L1434.6 1342.9 L1432.6 1338.1 L1428.6 1334.9 L1425.0 1331.5 L1421.5 1327.9 L1419.5 1323.0 L1414.8 1320.5 L1411.5 1316.8 L1408.2 1313.0 L1405.8 1308.5 L1402.4 1304.8 L1399.4 1300.8 L1395.2 1297.8 L1392.5 1293.6 L1389.6 1289.5 L1385.4 1286.6 L1381.5 1283.3 L1379.0 1278.9 L1375.5 1275.4 L1372.0 1271.8 L1369.2 1267.6 L1365.0 1264.7 L1361.4 1261.2 L1359.4 1256.3 L1355.7 1252.9 L1352.6 1249.0 L1349.5 1245.1 L1346.3 1241.3 L1341.8 1238.6 L1339.0 1234.4 L1336.1 1230.3 L1333.0 1226.4 L1327.9 1224.3 L1324.6 1220.5 L1321.9 1216.2 L1318.4 1212.7 L1315.0 1209.1 L1311.4 1205.5 L1309.5 1200.6 L1305.1 1197.8 L1301.8 1194.1 L1298.9 1190.0 L1295.1 1186.7 L1292.5 1182.3 L1288.5 1179.2 L1286.3 1174.5 L1282.8 1170.9 L1279.6 1167.1 L1274.5 1164.9 L1272.5 1160.1 L1269.7 1155.8 L1265.6 1152.8 L1261.8 1149.5 L1259.0 1145.4 L1255.9 1141.4 L1253.0 1137.4 L1248.6 1134.6 L1246.0 1130.2 L1242.5 1126.7 L1239.6 1122.5 L1234.7 1120.2 L1232.7 1115.4 L1229.0 1112.0 L1224.5 1109.3 L1222.9 1104.0 L1219.6 1100.3 L1214.8 1098.0 L1212.0 1093.7 L1209.3 1089.4 L1204.7 1086.9 L1201.1 1083.4 L1198.3 1079.2 L1195.3 1075.2 L1192.8 1070.8 L1188.6 1067.8 L1185.9 1063.5 L1182.9 1059.5 L1179.6 1055.8 L1175.8 1052.5 L1172.6 1048.6 L1168.7 1045.5 L1166.1 1041.1 L1162.3 1037.8 L1159.1 1034.0 L1154.7 1031.2 L1151.1 1027.7 L1148.9 1023.0 L1145.7 1019.2 L1142.8 1015.1 L1138.0 1012.7 L1136.0 1007.8 L1131.9 1004.7 L1129.5 1000.2 L1125.2 997.4 L1121.2 994.3 L1118.6 989.9 L1115.6 985.9 L1112.7 981.8 L1108.0 979.4 L1105.1 975.2 L1102.7 970.7 L1099.4 966.9 L1096.2 963.1 L1091.8 960.4 L1088.2 956.9 L1085.9 952.3 L1081.7 949.3 L1079.0 945.1 L1076.0 941.1 L1072.6 937.3 L1068.5 934.4 L1065.9 930.0 L1061.8 927.0 L1059.3 922.5 L1056.1 918.7 L1051.9 915.8 L1048.8 911.9 L1045.1 908.4 L1041.8 904.7 L1039.5 900.1 L1035.4 897.1 L1031.0 894.3 L1028.4 890.0 L1024.6 886.6 L1021.9 882.3 L1019.1 878.1 L1015.8 874.4 L1011.6 871.5 L1007.9 868.1 L1005.0 864.0 L1001.5 860.5 L998.5 856.5 L994.3 853.5 L991.4 849.4 L988.9 845.0 L985.6 841.3 L981.9 837.9 L977.9 834.8 L975.9 829.8 L972.2 826.4 L968.1 823.4 L964.4 820.0 L961.8 815.6 L959.1 811.4 L955.3 808.1 L951.3 805.0 L949.2 800.2 L945.3 797.0 L941.0 794.1 L938.4 789.8 L935.9 785.3 L931.8 782.3 L927.6 779.4 L925.5 774.6 L922.1 770.9 L917.6 768.2 L915.0 763.9 L912.2 759.7 L907.9 756.8 L904.7 753.0 L902.2 748.6 L898.7 745.0 L895.4 741.2 L892.0 737.6 L888.1 734.4 L885.1 730.3 L882.2 726.2 L878.0 723.4 L874.4 719.9 L872.5 714.9 L868.3 711.9 L865.3 708.0 L861.8 704.4 L858.7 700.5 L854.7 697.4 L852.1 693.0 L849.1 688.9 L845.4 685.6 L841.9 682.1 L838.9 678.0 L834.2 675.5 L831.6 671.1 L828.8 667.0 L825.5 663.2 L821.6 660.0 L818.8 655.9 L814.6 652.9 L812.2 648.4 L807.7 645.7 L805.3 641.1 L801.7 637.7 L797.6 634.7 L795.8 629.6 L791.4 626.8 L788.2 623.0 L784.9 619.3 L781.2 615.9 L779.1 611.1 L775.8 607.3 L770.7 605.2 L769.1 599.9 L765.7 596.3 L762.1 592.8 L758.6 589.2 L755.5 585.3 L752.1 581.7 L748.6 578.1 L745.7 574.1 L741.3 571.3 L737.5 568.0 L734.9 563.6 L731.3 560.1 L728.3 556.2 L724.2 553.1 L721.5 548.9 L717.8 545.5 L714.9 541.3 L712.2 537.1 L708.3 533.9 L705.5 529.7 L700.6 527.4 L697.6 523.3 L694.0 519.9 L692.1 515.0 L687.9 511.9 L684.2 508.6 L680.9 504.9 L678.1 500.7 L674.5 497.2 L671.6 493.1 L668.1 489.6 L665.1 485.6 L662.2 481.4 L657.9 478.6 L655.2 474.3 L652.1 470.4 L647.2 468.1 L644.7 463.6 L641.4 459.9 L639.1 455.3 L634.8 452.4M634.8 452.4 L639.9 446.6M639.9 446.6 L643.7 449.8 L647.7 452.8 L651.8 455.7 L656.7 457.3 L660.0 461.4 L664.3 463.9 L668.7 466.4 L673.6 468.0 L676.6 472.4 L681.2 474.6 L686.0 476.5 L689.2 480.6 L694.0 482.4 L697.1 486.8 L701.6 489.1 L705.6 492.1 L709.6 495.0 L714.6 496.6 L718.4 499.9 L722.8 502.3 L727.1 504.8 L731.0 508.0 L735.2 510.7 L738.7 514.4 L743.6 516.2 L748.0 518.5 L751.4 522.5 L755.4 525.4 L760.5 526.7 L764.4 529.9 L767.4 534.4 L772.7 535.5 L777.0 538.0 L780.1 542.3 L784.2 545.2 L789.3 546.6 L793.0 550.1 L797.0 553.1 L801.4 555.5 L805.8 557.9 L809.4 561.4 L813.5 564.3 L817.4 567.4 L822.0 569.6 L826.4 572.0 L830.9 574.3 L834.3 578.2 L837.9 581.8 L843.2 582.8 L846.6 586.8 L850.4 590.0 L854.8 592.5 L859.3 594.8 L863.3 597.7 L867.7 600.1 L872.2 602.5 L875.8 606.0 L880.5 608.0 L884.2 611.5 L888.3 614.2 L892.6 616.8 L897.0 619.2 L900.1 623.5 L904.7 625.7 L909.0 628.2 L913.5 630.4 L917.4 633.6 L921.7 636.2 L926.0 638.8 L929.1 643.0 L933.9 645.0 L938.4 647.2 L942.0 650.7 L945.5 654.6 L950.0 656.8 L954.1 659.7 L958.1 662.7 L963.0 664.3 L966.9 667.4 L971.5 669.5 L975.5 672.6 L979.9 675.0 L983.2 679.1 L987.2 682.0 L991.4 684.7 L995.8 687.1 L999.8 690.1 L1004.4 692.3 L1008.3 695.5 L1011.6 699.4 L1016.3 701.4 L1021.0 703.3 L1024.1 707.7 L1028.6 710.0 L1032.4 713.4 L1036.8 715.6 L1041.7 717.4 L1046.1 719.8 L1050.1 722.7 L1054.0 726.0 L1057.7 729.3 L1061.9 732.1 L1065.4 735.8 L1070.2 737.7 L1074.0 740.9 L1079.0 742.5 L1081.9 747.1 L1086.4 749.3 L1090.3 752.5 L1095.3 754.0 L1099.0 757.4 L1103.0 760.5 L1107.1 763.3 L1110.9 766.7 L1115.4 768.9 L1120.4 770.4 L1123.5 774.7 L1128.0 777.0 L1132.8 778.8 L1137.0 781.5 L1140.6 785.1 L1145.4 787.0 L1148.6 791.2 L1153.2 793.3 L1157.8 795.3 L1161.5 798.9 L1165.0 802.6 L1170.1 804.0 L1174.1 807.0 L1177.4 811.0 L1181.6 813.7 L1185.7 816.6 L1190.1 819.0 L1194.7 821.0 L1198.3 824.7 L1203.2 826.3 L1207.0 829.7 L1211.2 832.4 L1214.8 835.9 L1219.7 837.6 L1223.3 841.2 L1227.6 843.8 L1231.5 847.0 L1236.1 849.1 L1240.6 851.4 L1243.9 855.3 L1248.2 858.0 L1252.4 860.6 L1256.2 863.9 L1261.0 865.7 L1265.2 868.4 L1268.4 872.6 L1273.4 874.1 L1276.7 878.1 L1281.6 879.9 L1285.1 883.7 L1290.2 884.9 L1293.6 888.8 L1298.1 891.2 L1301.6 894.9 L1305.4 898.1 L1309.8 900.6 L1314.0 903.3 L1318.8 905.2 L1322.9 908.0 L1327.3 910.4 L1330.5 914.5 L1335.3 916.4 L1338.5 920.5 L1343.1 922.6 L1348.2 924.1 L1352.1 927.1 L1356.0 930.4 L1359.7 933.8 L1363.3 937.4 L1368.3 939.0 L1372.3 941.9 L1376.3 944.9 L1380.3 947.9 L1384.2 951.1 L1388.6 953.4 L1393.2 955.6 L1397.8 957.7 L1400.9 962.1 L1405.9 963.6 L1409.2 967.6 L1413.4 970.3 L1418.3 972.0 L1421.8 975.7 L1426.4 977.9 L1429.9 981.6 L1434.9 983.2 L1439.0 986.0 L1442.8 989.3 L1446.7 992.4 L1450.2 996.1 L1455.7 996.9 L1458.7 1001.4 L1462.8 1004.2 L1467.4 1006.4 L1472.3 1008.1 L1476.3 1011.1 L1479.7 1014.9 L1484.2 1017.2 L1488.2 1020.2 L1491.7 1024.1 L1496.9 1025.2 L1500.2 1029.3 L1504.0 1032.5 L1508.6 1034.7 L1513.0 1037.1 L1517.8 1038.9 L1520.9 1043.2 L1525.9 1044.8 L1529.2 1048.8 L1534.3 1050.2 L1537.4 1054.5 L1541.4 1057.5 L1546.7 1058.6 L1549.9 1062.8 L1553.9 1065.7 L1558.8 1067.5 L1562.9 1070.2 L1566.1 1074.6 L1571.6 1075.2 L1575.8 1078.0 L1579.0 1082.2 L1583.6 1084.3 L1587.8 1086.9 L1591.5 1090.5 L1595.8 1093.0 L1600.5 1094.9 L1604.4 1098.1 L1608.3 1101.3 L1612.1 1104.6 L1616.1 1107.6 L1620.9 1109.3 L1624.4 1113.1 L1629.0 1115.2 L1633.2 1118.0 L1636.7 1121.7 L1640.9 1124.4 L1645.9 1125.9 L1650.0 1128.7 L1653.0 1133.2 L1658.3 1134.3 L1661.5 1138.6 L1665.6 1141.3 L1670.0 1143.8 L1674.9 1145.5 L1678.5 1149.0 L1682.1 1152.7 L1686.9 1154.5 L1691.3 1156.8 L1695.6 1159.4 L1698.7 1163.8 L1702.9 1166.5 L1707.8 1168.1 L1712.3 1170.4 L1715.8 1174.2 L1719.7 1177.4 L1723.8 1180.2 L1728.0 1182.8 L1732.5 1185.1 L1736.6 1188.1 L1740.5 1191.1 L1744.3 1194.5 L1749.2 1196.1 L1753.0 1199.3 L1756.7 1202.8 L1761.4 1204.8 L1765.2 1208.2 L1770.1 1209.8 L1774.3 1212.4 L1778.4 1215.3 L1782.6 1218.1 L1786.2 1221.6 L1789.9 1225.1 L1793.8 1228.3 L1798.7 1229.9 L1802.9 1232.7 L1806.3 1236.6 L1810.5 1239.3 L1815.1 1241.4 L1819.7 1243.4 L1822.8 1247.9 L1827.8 1249.3 L1831.6 1252.6 L1835.6 1255.6 L1840.0 1258.0 L1843.7 1261.5 L1847.6 1264.6 L1852.0 1267.1 L1856.7 1269.0 L1860.7 1272.0 L1864.6 1275.2 L1868.3 1278.6 L1873.2 1280.2 L1877.6 1282.8 L1880.9 1286.7 L1885.9 1288.2 L1889.5 1291.8 L1893.4 1295.0 L1897.6 1297.7 L1901.6 1300.7 L1905.7 1303.5 L1910.7 1305.1 L1913.7 1309.6 L1918.7 1311.1 L1923.0 1313.7 L1927.1 1316.6 L1931.1 1319.5 L1935.0 1322.6 L1939.8 1324.5 L1943.1 1328.5 L1947.4 1331.0 L1952.3 1332.7 L1956.2 1335.8 L1960.6 1338.4 L1963.5 1343.0 L1967.5 1346.0 L1972.4 1347.6 L1976.4 1350.7 L1980.3 1353.7 L1984.4 1356.6 L1988.2 1359.9 L1993.0 1361.8M911.4 139.1 L907.7 142.3 L903.8 145.4 L901.0 149.7 L896.5 152.1 L892.4 154.9 L889.3 159.0 L885.7 162.3 L881.7 165.4 L876.7 167.1 L873.2 170.6 L870.4 174.9 L866.4 177.9 L862.5 181.0 L859.0 184.4 L855.0 187.5 L850.5 189.8 L847.7 194.2 L843.5 196.9 L838.8 199.0 L836.4 203.8 L832.6 207.0 L829.1 210.5 L824.8 213.1 L820.5 215.7 L816.9 219.2 L812.5 221.6 L810.1 226.4 L806.4 229.7 L801.5 231.5 L798.0 235.1 L793.5 237.5 L790.8 241.9 L786.9 245.0 L782.3 247.3 L779.5 251.6 L775.0 253.9 L771.3 257.3 L768.4 261.5 L764.0 263.9 L761.2 268.3 L757.4 271.5 L753.6 274.7 L749.6 277.6 L745.2 280.1 L741.6 283.5 L737.9 286.8 L733.4 289.2 L730.1 293.0M732.9 304.4 L730.9 303.0M730.1 293.0 L730.4 296.3 L731.2 299.7 L730.9 303.0M69.2 194.1 L73.8 192.5 L78.1 190.2 L83.3 190.3 L87.7 188.0 L92.2 186.0 L96.6 184.0 L100.9 181.5 L105.9 180.9 L110.0 177.9 L115.4 178.5 L119.6 175.7 L124.1 174.0 L128.4 171.4 L133.5 171.1 L138.2 169.9 L142.9 168.5 L147.0 165.6 L151.6 163.8 L156.1 161.9 L161.0 161.3 L165.0 157.8 L170.3 158.1 L174.3 155.0 L179.1 153.9M-42.3 97.8 L-37.4 98.4 L-32.4 99.0 L-27.8 101.2 L-23.0 102.7 L-17.9 102.8 L-12.8 102.4 L-8.0 103.9 L-3.1 104.7 L1.5 107.1 L6.7 106.4 L11.5 107.8 L16.4 108.7 L21.4 108.9 L26.1 110.6 L31.0 111.5 L36.0 112.0 L40.6 114.2 L45.8 113.8 L50.6 115.0 L55.2 117.4 L60.4 116.9 L65.3 117.5 L70.1 118.9 L74.9 120.3 L79.8 121.1 L84.6 122.7 L89.4 123.9 L94.7 122.9 L99.3 125.2 L104.2 126.0 L109.2 126.3 L113.9 128.0 L118.9 128.6 L123.8 129.6 L128.7 130.5 L133.8 130.3 L138.4 132.7 L143.6 131.9 L148.2 134.1 L153.2 134.5 L157.9 136.7 L163.0 136.4 L167.8 137.6 L172.6 139.2 L177.4 140.3 L182.5 140.4M182.5 140.4 L186.2 146.5M179.1 153.9 L181.6 151.6 L183.7 148.8 L186.2 146.5M258.6 778.6 L253.5 778.6 L248.9 780.6 L244.1 782.3 L238.9 781.3 L234.3 783.9 L229.5 785.0 L224.6 785.7 L219.7 786.4 L214.6 786.2 L210.0 788.6 L204.9 788.5M253.7 764.7 L252.9 764.5M252.9 764.5 L249.0 767.7 L244.0 768.5 L240.3 772.1 L235.3 772.9 L230.9 775.0 L226.8 777.7 L221.8 778.7 L218.6 783.1 L213.2 783.3 L209.4 786.6 L204.9 788.5M252.9 764.5 L251.1 760.6 L249.4 756.6 L248.5 752.3M72.4 791.7 L77.4 791.5 L81.9 788.4 L87.2 789.5 L91.6 786.1 L96.6 785.5 L101.8 786.0 L106.2 782.8 L111.2 782.2 L116.1 781.3 L121.1 780.8 L126.1 780.1 L131.0 779.0 L135.5 776.3 L140.4 775.4 L145.2 774.0 L150.2 773.4 L155.0 772.1 L159.8 770.6 L165.2 771.8 L169.9 769.7 L174.8 768.8 L179.9 768.6 L184.6 766.8 L189.3 765.2 L194.1 763.5 L199.2 763.6 L203.7 760.8 L209.1 761.9 L213.6 759.0 L218.7 759.3 L223.2 756.5 L228.3 756.3 L233.1 754.7 L237.9 753.5 L243.1 753.8 L247.8 751.9M247.8 751.9 L248.5 752.3M84.7 411.3 L89.2 411.4 L93.0 413.6 L97.1 415.2M99.5 388.4 L101.4 392.7 L100.7 397.4 L101.7 401.9 L102.8 406.4M97.1 415.2 L98.0 411.6 L101.6 409.7 L102.8 406.4M129.0 351.8 L132.0 352.7M125.9 284.2 L127.2 288.7 L129.5 292.6 L133.1 295.8 L133.7 300.7 L135.9 304.7 L138.9 308.2 L141.6 312.0 L144.2 315.7 L145.8 320.0 L147.1 324.5 L149.9 328.1M125.9 284.2 L125.0 288.9 L122.5 292.9 L120.1 297.0 L119.4 301.7 L117.9 306.1 L117.5 310.9 L115.4 315.1 L114.4 319.7 L111.9 323.7 L110.4 328.1M149.9 328.1 L146.9 331.3 L145.6 335.7 L142.8 339.1 L140.0 342.4 L137.6 346.0 L134.7 349.3 L132.0 352.7M639.2 440.4 L635.3 439.1 L631.3 438.5 L627.3 438.2 L623.2 438.4M639.9 446.6 L639.2 440.4M634.8 452.4 L630.9 453.5 L626.8 453.4 L622.7 454.0 L618.8 455.2 L614.6 454.7M734.0 316.8 L728.8 321.6M730.9 303.0 L723.6 305.6M728.8 321.6 L726.3 318.9 L723.8 316.3 L720.3 314.9M723.6 305.6 L720.3 314.9M911.4 139.1 L907.3 141.9 L903.6 145.2 L899.6 148.2 L894.8 150.0 L890.7 152.8 L887.3 156.6 L883.3 159.6 L879.7 163.1 L875.1 165.2 L871.7 169.0 L867.0 171.0 L863.0 174.0 L859.3 177.4 L855.0 179.8 L850.2 181.7 L846.2 184.7 L843.0 188.8 L839.1 191.8 L833.9 193.2 L830.6 197.0 L826.3 199.6 L822.9 203.4 L818.6 206.0 L814.2 208.3 L810.7 212.0 L806.2 214.2 L802.3 217.3 L798.6 220.7 L794.8 223.9 L789.4 224.9 L785.7 228.4 L782.2 232.0 L778.5 235.4 L773.9 237.4 L770.3 241.0 L765.4 242.7 L761.7 246.0 L757.8 249.2 L753.9 252.3 L749.8 255.1 L746.2 258.6 L741.3 260.3 L738.2 264.5 L732.9 265.6 L729.6 269.6 L725.2 271.9 L721.4 275.2M721.4 275.2 L719.1 282.1M730.1 293.0 L721.7 289.3M719.1 282.1 L721.7 289.3M723.6 305.6 L719.9 303.5 L716.4 301.2 L712.6 299.3M721.7 289.3 L719.3 293.2 L716.4 296.7 L712.6 299.3M172.9 304.9 L181.4 299.9M172.9 304.9 L170.6 301.3 L167.3 298.6 L164.8 295.1 L160.9 292.9 L157.8 290.1 L155.5 286.4M186.2 284.5 L181.8 279.5M181.8 279.5 L176.8 277.5M186.0 292.2 L181.4 299.9M186.0 292.2 L186.2 284.5M155.5 286.4 L160.0 285.2 L164.1 283.1 L167.8 280.0 L172.4 279.0 L176.8 277.5M172.9 304.9 L173.9 308.8 L173.1 312.7 L171.7 316.6 L173.0 320.4M173.0 320.4 L170.6 326.0M149.9 328.1 L154.2 328.7 L158.3 328.3 L162.2 325.6 L166.4 325.2 L170.6 326.0M155.5 286.4 L150.8 286.2 L146.6 284.7 L142.9 281.4 L138.2 281.2 L133.9 279.9 L129.8 278.1 L125.4 277.1M223.7 685.4 L221.3 678.9M214.8 701.0 L217.4 697.4 L218.5 692.8 L221.3 689.2 L223.7 685.4M67.5 793.4 L71.9 791.2 L75.7 787.9 L79.8 785.1 L84.0 782.3 L88.6 780.5 L93.3 778.5 L96.8 774.8 L101.3 772.6 L105.0 769.2 L109.1 766.2 L113.8 764.4 L117.3 760.7 L122.7 759.9 L126.6 756.7 L131.0 754.4 L134.5 750.7 L139.4 749.1 L143.5 746.4 L147.1 742.7 L151.1 739.7 L156.1 738.4 L159.8 735.0 L164.2 732.6 L169.1 731.0 L172.1 726.5 L176.4 724.0 L180.9 721.7 L184.9 718.8 L189.7 717.1 L194.4 715.3 L197.8 711.3 L202.4 709.3 L205.9 705.5 L210.6 703.7 L214.8 701.0M64.3 715.9 L68.8 713.8 L73.8 713.5 L78.8 713.5 L83.2 710.7 L88.0 709.8 L93.1 710.4 L97.4 707.2 L102.5 707.3 L107.3 706.6 L112.1 705.7 L116.6 703.2 L121.5 702.9 L126.0 700.9 L130.7 699.4 L135.7 699.1 L140.6 698.6 L145.4 697.9 L149.7 694.7 L154.7 694.5 L159.7 694.5 L164.4 693.3 L168.7 690.3 L173.7 690.1 L178.6 689.5 L183.3 688.1 L188.2 687.6 L192.5 684.6 L197.3 683.9 L202.1 683.0 L206.9 682.0 L211.5 680.0 L216.4 679.6 L221.3 678.9M81.9 426.8 L90.3 430.1M97.1 415.2 L99.3 421.9M90.3 430.1 L93.5 427.5 L96.4 424.7 L99.3 421.9M713.9 460.6 L711.1 456.7 L707.2 453.6 L704.9 449.4 L702.8 445.0 L698.7 442.0 L697.6 436.9 L694.6 433.1 L691.7 429.3 L687.6 426.4 L685.5 421.9 L681.3 419.1 L679.8 414.2 L677.5 409.9 L674.1 406.5 L670.8 403.0M916.4 526.6 L912.0 524.2 L908.1 520.9 L903.2 519.5 L899.3 516.2 L894.7 514.2 L889.6 513.2 L885.0 511.2 L881.4 507.4 L877.2 504.6 L872.5 502.8 L867.8 501.1 L864.1 497.3 L859.7 494.9 L855.3 492.7 L850.6 490.8 L846.0 488.8 L842.0 485.8 L836.7 485.1 L832.9 481.6 L828.8 478.7 L823.5 478.0 L820.3 473.4 L814.9 472.9 L811.3 469.1 L806.3 467.8 L802.6 464.3 L797.6 463.0 L792.8 461.4 L789.6 456.8 L785.1 454.6 L779.7 454.1 L775.5 451.4 L770.9 449.3 L767.5 445.1 L762.6 443.7 L758.5 440.8 L753.8 439.0 L749.2 437.0 L744.7 434.8 L740.6 431.9 L736.2 429.7 L731.7 427.4 L727.5 424.6 L723.2 422.2 L719.2 419.0 L714.1 418.0 L710.5 414.2 L705.9 412.1 L700.7 411.3 L696.8 407.9 L692.5 405.5 L688.4 402.6 L683.0 402.0 L678.7 399.4 L674.7 396.4M670.8 403.0 L674.7 396.4M697.4 286.8 L702.4 286.1M697.4 286.8 L697.0 290.9 L694.2 294.4 L694.7 298.7 L693.2 302.6M702.8 286.3 L705.1 289.5 L707.9 292.4 L708.5 296.9 L711.8 299.4M702.8 286.3 L702.4 286.1M699.8 306.4 L693.2 302.6M699.8 306.4 L707.3 305.1M707.3 305.1 L711.8 299.4M719.1 282.1 L714.8 282.3 L710.6 283.0 L707.1 286.2 L702.8 286.3M712.6 299.3 L711.8 299.4M721.4 275.2 L717.3 275.0 L713.7 273.1 L709.9 271.9 L706.5 269.8M706.5 269.8 L705.7 273.9 L704.9 278.1 L704.1 282.2 L702.4 286.1M697.9 320.8 L697.8 320.9M697.9 320.8 L698.3 316.0 L700.4 311.4 L699.8 306.4M688.6 318.4 L697.8 320.9M685.8 309.1 L688.9 303.6M688.9 303.6 L693.2 302.6M685.8 309.1 L688.6 318.4M709.4 323.7 L705.8 321.7 L701.5 322.5 L697.9 320.8M709.4 323.7 L713.1 316.8M713.1 316.8 L710.7 313.1 L709.3 309.0 L707.3 305.1M713.1 316.8 L720.3 314.9M706.5 269.8 L703.1 266.3 L702.6 261.1 L698.6 258.0 L696.6 253.7 L694.9 249.2 L693.1 244.7 L689.8 241.2M697.4 286.8 L690.2 282.6M690.2 282.6 L690.7 278.0 L689.6 273.4 L689.8 268.8 L689.0 264.2 L689.6 259.6 L690.7 255.0 L690.3 250.4 L689.9 245.8 L689.8 241.2M302.9 255.0 L311.9 253.9M302.9 255.0 L299.1 259.2M318.3 260.2 L311.9 253.9M299.1 259.2 L298.6 265.3M298.6 265.3 L306.1 270.5M318.3 260.2 L316.5 263.3 L314.6 266.2 L312.7 269.2M306.1 270.5 L312.7 269.2M-52.2 -1861.6 L-50.8 -1856.7 L-51.8 -1851.6 L-49.5 -1846.8 L-48.6 -1841.9 L-48.9 -1836.8 L-49.2 -1831.8 L-47.5 -1827.0 L-48.0 -1821.9 L-45.9 -1817.1 L-47.0 -1811.9 L-44.7 -1807.2 L-44.0 -1802.2 L-45.0 -1797.1 L-43.8 -1792.2 L-43.7 -1787.2 L-42.9 -1782.2 L-42.1 -1777.3 L-41.4 -1772.4 L-40.3 -1767.5 L-39.0 -1762.6 L-39.8 -1757.5 L-39.1 -1752.5 L-37.5 -1747.7 L-36.6 -1742.8 L-34.7 -1738.0 L-35.2 -1732.9 L-33.9 -1728.0 L-34.8 -1722.9 L-34.3 -1717.9 L-33.1 -1713.0 L-32.6 -1708.1 L-30.2 -1703.3 L-31.0 -1698.2 L-30.3 -1693.2 L-28.8 -1688.4 L-30.0 -1683.2 L-27.8 -1678.5 L-28.1 -1673.4 L-26.7 -1668.5 L-26.6 -1663.5 L-24.6 -1658.7 L-24.4 -1653.7 L-24.0 -1648.7 L-23.7 -1643.7 L-24.0 -1638.7 L-22.8 -1633.8 L-22.1 -1628.8 L-21.6 -1623.9 L-20.0 -1619.0 L-19.0 -1614.1 L-18.1 -1609.2 L-18.8 -1604.1 L-18.8 -1599.1 L-16.9 -1594.3 L-16.3 -1589.3 L-16.2 -1584.3 L-14.2 -1579.5 L-14.8 -1574.4 L-13.3 -1569.6 L-13.3 -1564.5 L-11.6 -1559.7 L-11.2 -1554.7 L-11.8 -1549.6 L-10.9 -1544.7 L-9.0 -1539.9 L-9.7 -1534.8 L-7.9 -1530.0 L-8.6 -1524.9 L-6.4 -1520.1 L-7.1 -1515.0 L-5.6 -1510.1 L-4.5 -1505.3 L-4.8 -1500.2 L-4.5 -1495.2 L-4.0 -1490.2 L-3.8 -1485.2 L-2.7 -1480.3 L-2.1 -1475.4 L-0.8 -1470.5 L-1.4 -1465.4 L0.7 -1460.6 L0.2 -1455.5 L0.5 -1450.5 L1.7 -1445.6 L2.0 -1440.6 L3.8 -1435.8 L4.9 -1430.9 L5.6 -1426.0 L6.1 -1421.0 L5.8 -1416.0 L6.7 -1411.0 L8.0 -1406.2 L7.0 -1401.0 L8.1 -1396.1 L8.4 -1391.1 L9.7 -1386.3 L11.3 -1381.4 L11.2 -1376.4 L12.9 -1371.6 L13.2 -1366.6 L12.4 -1361.4 L13.1 -1356.5 L13.4 -1351.5 L15.9 -1346.8 L16.2 -1341.8 L17.4 -1336.9 L16.2 -1331.7 L17.1 -1326.8 L18.4 -1321.9 L18.0 -1316.8 L19.2 -1312.0 L21.0 -1307.2 L20.5 -1302.0 L21.4 -1297.1 L22.3 -1292.2 L22.5 -1287.2 L24.2 -1282.4 L23.8 -1277.3 L24.5 -1272.4 L26.7 -1267.6 L27.1 -1262.6 L27.9 -1257.7 L27.0 -1252.5 L28.4 -1247.7 L29.1 -1242.8 L30.4 -1237.9 L30.0 -1232.8 L30.6 -1227.8 L32.2 -1223.0 L32.6 -1218.0 L32.7 -1213.0 L34.2 -1208.2 L32.9 -1203.0 L33.8 -1198.0 L35.3 -1193.2 L37.0 -1188.4 L35.8 -1183.2 L36.6 -1178.3 L39.1 -1173.6 L39.5 -1168.6 L38.1 -1163.4 L40.9 -1158.7 L40.0 -1153.5 L42.0 -1148.7 L43.1 -1143.9 L42.6 -1138.8 L42.2 -1133.7 L44.1 -1128.9 L44.9 -1124.0 L44.6 -1118.9 L46.7 -1114.1 L45.1 -1108.9 L46.8 -1104.1 L48.6 -1099.3 L47.8 -1094.1 L50.0 -1089.4 L48.5 -1084.1 L49.7 -1079.3 L50.8 -1074.4 L51.2 -1069.4 L53.4 -1064.6 L53.2 -1059.6 L54.5 -1054.7 L53.0 -1049.5 L54.1 -1044.6 L54.8 -1039.6 L55.3 -1034.7 L57.6 -1029.9 L56.8 -1024.8 L57.0 -1019.8 L58.3 -1014.9 L58.5 -1009.9 L59.1 -1005.0 L60.7 -1000.1 L61.4 -995.2 L60.9 -990.1 L62.0 -985.2 L62.3 -980.2 L64.5 -975.4 L64.1 -970.4 L66.1 -965.6 L65.4 -960.5 L66.6 -955.6 L65.9 -950.5 L67.5 -945.6 L69.3 -940.8 L69.7 -935.8 L70.4 -930.9 L70.6 -925.9 L72.1 -921.0 L72.8 -916.1 L71.6 -910.9 L72.0 -905.9 L74.3 -901.2 L73.8 -896.1 L75.4 -891.3 L75.5 -886.2 L76.3 -881.3 L76.7 -876.3 L78.5 -871.5 L79.1 -866.6 L79.8 -861.6 L79.0 -856.5 L79.9 -851.6 L80.9 -846.7 L81.9 -841.8 L82.4 -836.8 L82.3 -831.7 L84.5 -827.0 L83.3 -821.8 L83.8 -816.8 L85.4 -812.0 L85.0 -806.9 L87.2 -802.2 L87.5 -797.2 L88.7 -792.3 L89.0 -787.3 L89.1 -782.3 L89.1 -777.2 L89.5 -772.2 L90.9 -767.4 L91.9 -762.5 L92.5 -757.5 L91.9 -752.4 L92.8 -747.5 L94.9 -742.7 L93.9 -737.6 L96.2 -732.8 L97.2 -727.9 L96.2 -722.8 L97.6 -717.9 L99.5 -713.1 L98.2 -707.9 L99.6 -703.1 L101.4 -698.3 L100.6 -693.1 L101.8 -688.2 L102.8 -683.3 L103.4 -678.4 L104.5 -673.5 L103.3 -668.3 L105.8 -663.6 L104.4 -658.4 L107.1 -653.7 L107.8 -648.7 L106.2 -643.5 L106.8 -638.5 L108.0 -633.7 L110.3 -628.9 L109.9 -623.8 L110.3 -618.9 L110.7 -613.9 L110.7 -608.8 L111.5 -603.9 L114.2 -599.2 L113.5 -594.1 L115.6 -589.3 L116.0 -584.3 L115.3 -579.2 L116.1 -574.3 L118.2 -569.5 L118.8 -564.6 L118.0 -559.4 L118.1 -554.4 L119.3 -549.5 L120.9 -544.7 L121.4 -539.7 L122.3 -534.8 L122.1 -529.7 L124.0 -525.0 L124.2 -520.0 L123.7 -514.9 L125.1 -510.0 L124.7 -504.9 L125.3 -500.0 L127.7 -495.2 L126.4 -490.0 L127.1 -485.1 L129.9 -480.4 L129.7 -475.4 L128.9 -470.2 L129.7 -465.3 L130.7 -460.4 L132.9 -455.6 L133.4 -450.6 L132.1 -445.4 L134.2 -440.7 L135.7 -435.9 L135.5 -430.8 L135.3 -425.7 L137.4 -421.0 L137.4 -415.9 L138.1 -411.0 L138.1 -405.9 L139.5 -401.1 L138.9 -396.0 L141.0 -391.2 L141.3 -386.2 L142.9 -381.4 L142.9 -376.4 L144.3 -371.5 L144.6 -366.5 L143.3 -361.3 L146.3 -356.7 L145.6 -351.5 L146.7 -346.6 L148.0 -341.8 L147.1 -336.6 L149.5 -331.9 L149.9 -326.9 L148.9 -321.8 L150.1 -316.9 L150.6 -311.9 L150.8 -306.9 L152.3 -302.0 L154.0 -297.2 L154.2 -292.2 L153.5 -287.1 L155.8 -282.4 L155.1 -277.2 L156.3 -272.4 L155.7 -267.2 L156.5 -262.3 L157.9 -257.5 L158.7 -252.5 L158.4 -247.5 L159.5 -242.6 L159.9 -237.6 L161.6 -232.8 L161.2 -227.7 L163.3 -222.9 L163.0 -217.8 L162.8 -212.8 L163.6 -207.9 L165.0 -203.0 L165.7 -198.1 L166.4 -193.1 L167.7 -188.2 L167.4 -183.2 L167.1 -178.1 L168.2 -173.2 L168.5 -168.2 L170.7 -163.5 L170.6 -158.4 L171.1 -153.4 L172.4 -148.6 L172.2 -143.5 L174.4 -138.8 L173.5 -133.6 L175.7 -128.9 L174.9 -123.7 L175.3 -118.7 L177.2 -113.9 L177.5 -108.9 L177.3 -103.9 L177.8 -98.9 L178.2 -93.9 L179.8 -89.1 L179.7 -84.1 L180.7 -79.2 L180.7 -74.1 L181.9 -69.2 L183.9 -64.5 L183.0 -59.3 L183.7 -54.4 L185.2 -49.5 L186.8 -44.7 L187.3 -39.7 L186.6 -34.6 L186.6 -29.6 L189.1 -24.9 L189.5 -19.9 L188.9 -14.8 L191.2 -10.0 L191.5 -5.0 L192.5 -0.1 L192.9 4.9 L192.1 10.0 L192.8 15.0 L195.5 19.6 L194.8 24.8 L196.5 29.6 L197.0 34.5 L196.7 39.6 L198.7 44.4 L197.7 49.6 L199.9 54.3 L199.5 59.4 L199.6 64.4 L201.7 69.2 L202.3 74.1 L201.5 79.3 L201.5 84.3 L204.6 88.9 L204.1 94.0M204.1 94.0 L199.4 94.7 L194.7 95.5 L190.1 96.9 L185.5 98.2 L180.5 97.5 L176.2 100.4 L171.1 99.0 L166.9 101.9 L161.9 101.2 L157.3 102.5 L152.7 103.8 L148.0 104.6M204.1 94.0 L207.4 96.5 L210.7 98.9 L214.7 100.2M214.7 100.2 L215.1 100.2M280.6 -34.0 L277.8 -29.8 L277.4 -24.8 L275.9 -20.1 L274.3 -15.5 L271.7 -11.3 L268.8 -7.3 L267.3 -2.6 L264.8 1.6 L264.5 6.7 L262.9 11.3 L261.0 15.8 L258.0 19.9 L255.5 24.1 L253.7 28.6 L253.4 33.7 L251.2 38.1 L249.9 42.8 L246.8 46.8 L244.3 51.0 L243.8 56.1 L241.2 60.3 L240.5 65.2 L238.2 69.5 L236.2 74.0 L233.4 78.1 L231.5 82.6 L229.8 87.1 L229.0 92.0 L226.6 96.3M215.1 100.2 L218.7 98.2 L222.6 97.1 L226.6 96.3M324.8 765.4 L322.9 761.5 L320.8 757.7 L320.0 753.3M446.0 734.8 L441.1 734.6 L436.2 735.1 L431.5 736.9 L426.6 736.4 L421.7 736.1 L416.9 737.4 L412.0 736.9 L407.1 737.8 L402.3 738.1 L397.5 739.2 L392.5 738.3 L387.6 737.7 L382.9 739.9 L377.9 738.5 L373.0 738.7 L368.2 740.1 L363.4 740.9 L358.6 741.1 L353.7 741.1 L348.8 740.5 L343.9 740.6 L339.0 740.6 L334.2 742.2 L329.3 742.1 L324.5 742.8M320.0 753.3 L320.7 749.4 L323.5 746.5 L324.5 742.8M241.5 673.3 L236.9 674.4 L232.2 673.6 L227.5 673.3 L222.9 674.6M241.5 673.3 L242.7 669.7 L242.7 665.7 L244.8 662.4M244.8 662.4 L239.6 657.2M239.6 657.2 L235.3 658.3 L230.9 657.7 L226.5 657.9 L222.2 658.8M222.9 674.6 L222.4 670.8 L219.5 667.7 L219.5 663.8M222.2 658.8 L219.5 663.8M221.3 678.9 L222.9 674.6M180.0 662.6 L184.9 663.8 L189.9 663.0 L194.8 661.9 L199.7 664.2 L204.7 663.3 L209.6 662.8 L214.5 664.8 L219.5 663.8M285.3 294.0 L293.4 292.7M296.8 303.7 L295.6 300.1 L295.6 296.1 L293.4 292.7M296.8 303.7 L290.8 305.9M285.3 294.0 L284.6 301.3M284.6 301.3 L290.8 305.9M173.0 320.4 L177.8 320.2 L182.3 318.7 L187.0 317.9 L191.2 315.3 L196.0 314.9M181.4 299.9 L184.7 302.4 L188.9 302.7 L192.7 304.0M196.0 314.9 L195.6 311.1 L193.5 307.7 L192.7 304.0M285.3 294.0 L282.4 291.7M297.1 286.5 L293.4 292.7M282.4 291.7 L282.7 281.9M297.1 286.5 L291.7 281.0M291.7 281.0 L282.7 281.9M90.3 430.1 L91.9 433.2 L91.3 436.9 L93.0 440.0M93.0 440.0 L89.2 442.1 L84.9 443.3 L81.5 446.0M-1476.8 1306.9 L-1471.9 1305.4 L-1467.9 1302.3 L-1463.8 1299.5 L-1459.6 1296.7 L-1455.3 1294.1 L-1450.8 1292.0 L-1445.6 1291.1 L-1441.2 1288.7 L-1437.9 1284.3 L-1432.8 1283.2 L-1428.2 1281.4 L-1424.3 1278.1 L-1419.5 1276.3 L-1415.1 1274.0 L-1411.2 1270.8 L-1407.1 1267.8 L-1402.4 1265.9 L-1398.2 1263.2 L-1393.3 1261.8 L-1389.0 1259.3 L-1384.5 1257.1 L-1380.5 1253.9 L-1375.7 1252.4 L-1371.3 1250.1 L-1367.1 1247.3 L-1363.3 1243.8 L-1358.8 1241.7 L-1354.4 1239.2 L-1349.4 1238.0 L-1345.4 1235.0 L-1341.3 1232.0 L-1336.1 1231.1 L-1331.7 1228.7 L-1327.8 1225.5 L-1323.1 1223.7 L-1318.5 1221.7 L-1314.9 1217.8 L-1309.7 1217.0 L-1306.0 1213.4 L-1301.1 1211.8 L-1297.0 1208.9 L-1292.1 1207.5 L-1287.9 1204.8 L-1284.0 1201.5 L-1279.2 1199.8 L-1275.0 1197.1 L-1270.4 1195.1 L-1265.8 1193.2 L-1261.3 1190.9 L-1257.4 1187.6 L-1253.0 1185.2 L-1248.1 1183.8 L-1243.7 1181.5 L-1239.4 1178.9 L-1235.2 1176.2 L-1230.5 1174.3 L-1226.5 1171.3 L-1221.8 1169.4 L-1217.4 1167.1 L-1213.9 1163.2 L-1209.3 1161.1 L-1204.2 1160.0 L-1200.9 1155.7 L-1195.8 1154.6 L-1191.9 1151.3 L-1186.9 1150.1 L-1182.5 1147.7 L-1178.9 1143.9 L-1173.7 1143.0 L-1170.1 1139.1 L-1165.0 1138.0 L-1160.8 1135.3 L-1156.9 1132.0 L-1152.0 1130.6 L-1148.1 1127.4 L-1142.8 1126.6 L-1138.4 1124.2 L-1134.5 1121.0 L-1129.7 1119.3 L-1126.1 1115.4 L-1121.2 1114.1 L-1116.6 1112.1 L-1113.1 1108.1 L-1108.5 1106.0 L-1104.4 1103.1 L-1099.3 1102.0 L-1094.7 1100.1 L-1090.6 1097.1 L-1086.4 1094.3 L-1082.2 1091.7 L-1077.6 1089.7 L-1072.7 1088.3 L-1069.0 1084.6 L-1064.3 1082.8 L-1060.0 1080.3 L-1055.7 1077.6 L-1051.8 1074.4 L-1047.4 1072.1 L-1042.6 1070.4 L-1038.4 1067.7 L-1033.2 1066.9 L-1029.2 1063.7 L-1025.3 1060.5 L-1019.9 1059.9 L-1016.6 1055.5 L-1012.1 1053.3 L-1007.2 1051.8 L-1002.7 1049.8 L-998.6 1046.8 L-994.4 1044.1 L-990.2 1041.4 L-986.0 1038.7 L-981.1 1037.1 L-976.8 1034.7 L-972.2 1032.6 L-967.7 1030.5 L-963.7 1027.3 L-959.5 1024.6 L-954.9 1022.6 L-950.8 1019.8 L-946.0 1018.0 L-941.1 1016.7 L-937.6 1012.7 L-933.1 1010.4 L-927.8 1009.7 L-924.4 1005.5 L-919.6 1004.0 L-915.5 1001.1 L-910.9 998.9 L-906.9 995.9 L-901.6 995.2 L-897.5 992.3 L-893.5 989.1 L-889.1 986.9 L-884.3 985.2 L-880.3 982.1 L-875.7 980.2 L-870.8 978.7 L-867.0 975.1 L-862.0 973.9 L-857.8 971.2 L-854.4 967.0 L-849.0 966.4 L-845.5 962.5 L-840.2 961.7 L-836.0 959.0 L-832.1 955.8 L-827.8 953.2 L-823.4 950.9 L-819.1 948.2 L-813.9 947.5 L-809.9 944.2 L-805.7 941.5 L-801.4 938.9 L-796.2 938.1 L-791.9 935.5 L-788.0 932.2 L-783.9 929.4 L-779.9 926.4 L-774.4 926.0 L-770.9 921.8 L-765.8 920.9 L-761.2 918.9 L-757.5 915.1 L-752.8 913.5 L-748.0 911.7 L-744.0 908.7 L-739.7 906.1 L-735.7 903.1 L-730.8 901.7 L-726.4 899.2 L-722.4 896.1 L-717.6 894.4 L-713.7 891.3 L-709.5 888.4 L-704.9 886.6 L-700.2 884.7 L-695.3 883.2 L-691.2 880.4 L-687.4 876.8 L-682.2 876.0 L-678.6 872.1 L-673.5 871.1 L-669.0 868.9 L-665.1 865.6 L-660.5 863.5 L-656.7 860.1 L-651.4 859.3 L-647.4 856.3 L-643.0 854.0 L-639.2 850.5 L-633.9 849.8 L-630.4 845.8 L-626.0 843.3 L-621.4 841.4 L-617.0 839.1 L-612.1 837.7 L-607.8 835.1 L-603.7 832.1 L-599.1 830.1 L-595.4 826.4 L-591.1 824.0 L-586.4 822.1 L-581.9 819.9 L-577.1 818.3 L-573.1 815.3 L-568.1 814.0 L-563.9 811.2 L-559.4 809.0 L-555.5 805.9 L-551.7 802.3 L-546.7 801.1 L-542.7 797.9 L-538.4 795.5 L-533.3 794.4 L-529.5 791.0 L-525.4 788.0 L-520.5 786.4 L-515.8 784.7 L-511.0 783.1 L-506.7 780.5 L-502.3 778.2 L-498.4 774.8 L-493.8 772.9 L-490.1 769.3 L-484.8 768.5 L-480.9 765.3 L-476.2 763.5 L-472.6 759.6 L-468.3 757.1 L-463.1 756.2 L-459.0 753.3 L-454.3 751.4 L-450.2 748.6 L-446.2 745.4 L-441.3 744.0 L-437.2 741.0 L-433.2 738.1 L-428.0 737.0 L-423.3 735.2 L-418.9 732.9 L-414.9 729.7 L-410.2 728.1 L-406.9 723.6 L-402.5 721.2 L-397.6 719.8 L-393.0 717.8 L-388.7 715.2 L-384.7 712.1 L-379.7 710.9 L-375.1 709.0 L-371.7 704.7 L-366.8 703.3 L-362.2 701.3 L-358.5 697.6 L-353.6 696.2 L-348.8 694.5 L-345.3 690.5 L-340.4 689.1 L-335.9 686.9 L-331.8 684.0 L-327.9 680.8 L-323.1 679.0 L-318.0 678.1 L-314.3 674.3 L-309.7 672.3 L-305.5 669.6 L-301.3 667.0 L-296.6 665.2 L-292.2 662.8 L-287.3 661.2 L-283.0 658.8 L-279.0 655.7 L-274.5 653.4 L-270.2 651.0 L-265.5 649.1 L-261.3 646.4 L-257.4 643.1 L-253.0 640.8 L-248.9 637.8 L-243.6 637.1 L-239.6 633.9 L-235.4 631.3 L-230.8 629.4 L-226.2 627.2 L-221.5 625.5 L-217.0 623.2 L-213.0 620.2 L-208.4 618.3 L-204.2 615.5 L-200.7 611.5 L-195.9 609.9 L-191.8 607.0 L-187.2 604.9 L-182.4 603.4 L-178.1 600.8 L-174.2 597.5 L-170.0 594.8 L-165.2 593.1 L-161.1 590.3 L-156.0 589.2 L-151.8 586.4 L-148.0 582.9 L-142.8 581.9 L-138.5 579.4 L-134.4 576.6 L-130.2 573.9 L-124.9 573.1 L-121.8 568.5 L-117.3 566.2 L-112.4 564.8 L-108.4 561.6 L-103.6 560.1 L-98.6 558.7 L-94.5 555.9 L-91.0 551.8 L-86.0 550.7 L-81.2 548.9 L-77.5 545.3 L-72.4 544.1 L-68.2 541.5 L-63.9 538.9 L-59.9 535.9 L-55.6 533.3 L-50.9 531.5 L-46.6 528.9 L-42.0 527.0 L-38.2 523.6 L-33.5 521.7 L-28.4 520.6 L-24.9 516.5 L-20.5 514.2 L-16.0 512.1 L-11.4 510.1 L-7.1 507.5 L-3.3 504.1 L1.9 503.1 L6.3 500.8 L10.8 498.5 L14.9 495.7 L18.7 492.2 L24.1 491.7 L28.4 489.2 L31.9 485.1 L36.5 483.1 L40.8 480.6 L45.9 479.6 L50.2 476.9 L54.9 475.2 L58.6 471.5 L62.8 468.8 L68.1 468.0 L72.4 465.6 L76.2 462.1 L80.5 459.6 L85.1 457.5M81.5 446.0 L83.6 449.5 L82.7 454.0 L85.1 457.5M99.5 388.4 L103.8 389.2 L108.3 388.2 L112.7 388.3 L117.0 389.0 L121.4 389.0 L125.7 390.1M102.8 406.4 L107.3 406.9 L111.1 409.2 L114.8 411.3M114.8 411.3 L117.7 407.4 L118.7 402.6 L122.0 398.9 L123.4 394.3 L125.7 390.1M99.3 421.9 L107.2 424.9M114.8 411.3 L117.1 418.6M117.1 418.6 L116.2 420.3M107.2 424.9 L110.4 423.7 L112.6 420.7 L116.2 420.3M85.1 457.5 L88.6 459.0M88.6 459.0 L89.0 463.3 L90.5 467.4 L90.3 471.7M90.3 471.7 L86.6 475.1 L85.1 480.3 L80.1 482.6 L78.4 487.5 L74.8 491.0 L72.8 495.7 L68.7 498.8 L65.6 502.6 L63.6 507.3 L60.3 511.0 L55.9 513.9 L53.8 518.5 L50.3 522.0 L48.0 526.5 L44.6 530.1 L40.6 533.2 L38.1 537.6 L34.9 541.3 L33.1 546.2 L28.8 549.1 L26.5 553.6 L22.7 556.8 L20.5 561.4 L17.2 565.1 L13.3 568.3 L11.2 572.9 L8.2 576.9 L4.5 580.2 L2.5 585.0 L-0.4 589.0 L-3.8 592.6 L-7.6 595.9 L-9.9 600.3 L-13.2 604.0 L-15.7 608.4 L-18.9 612.2 L-23.3 614.9 L-24.9 620.0 L-28.2 623.7 L-32.1 626.8 L-35.6 630.4 L-39.1 634.0 L-42.1 637.9 L-44.8 642.0 L-47.3 646.4 L-50.7 650.0 L-52.5 654.8 L-57.0 657.6 L-60.3 661.3 L-62.6 665.8 L-66.3 669.1 L-68.6 673.6 L-71.7 677.4M299.3 386.8 L308.9 389.2M299.3 386.8 L301.0 383.3 L300.9 379.6 L300.7 375.8M300.7 375.8 L305.4 375.9 L309.9 376.5 L314.4 377.9M308.9 389.2 L310.6 385.4 L313.2 382.0 L314.4 377.9M674.3 395.2 L666.0 392.0M674.3 395.2 L678.4 388.3M678.4 388.3 L676.7 384.4M676.7 384.4 L672.8 383.2 L668.8 385.6 L664.9 384.6M666.0 392.0 L664.5 389.1M664.9 384.6 L664.5 389.1M664.7 403.0 L670.8 403.0M664.7 403.0 L663.2 401.8M663.2 401.8 L664.5 398.6 L664.6 395.1 L666.0 392.0M674.7 396.4 L674.3 395.2M782.9 418.6 L778.1 417.2 L773.7 414.8 L768.9 413.5 L763.8 413.5 L759.1 411.7 L754.7 409.2 L749.5 409.4 L744.8 407.8 L740.4 405.4 L735.0 406.0 L730.9 402.5 L725.6 403.1 L721.2 400.3 L716.5 398.9 L711.4 398.7 L707.1 395.8 L701.8 396.3 L697.5 393.5 L692.7 392.1 L688.1 390.5 L682.8 390.8 L678.4 388.3M678.6 380.1 L673.2 373.2M669.3 373.3 L673.2 373.2M678.6 380.1 L676.7 384.4M664.3 383.6 L664.9 384.6M669.3 373.3 L666.7 376.2 L666.7 380.5 L664.3 383.6M663.2 401.8 L655.5 401.9M664.9 419.6 L666.1 415.4 L665.4 411.3 L663.6 407.2 L664.7 403.0M661.2 417.5 L658.9 414.0 L657.2 410.2 L654.5 407.0M655.5 401.9 L654.5 407.0M661.2 417.5 L657.2 417.3 L653.3 418.3 L649.3 418.4 L645.4 417.2M645.4 417.2 L645.1 417.0M645.1 417.0 L645.9 411.8M654.5 407.0 L645.9 411.8M641.2 438.6 L641.7 431.5M641.2 438.6 L645.7 439.1 L650.1 440.7 L654.7 441.2 L659.3 441.6 L663.8 442.6 L668.3 443.6 L672.9 444.0 L677.5 444.9 L682.2 444.1 L686.6 446.1 L691.1 446.8M641.7 431.5 L644.7 429.8 L648.2 429.7 L651.4 428.3M651.4 428.3 L655.7 430.0 L659.9 432.1 L664.2 434.1 L668.6 435.7 L673.3 436.4 L677.9 437.5 L682.1 439.6M639.2 440.4 L641.2 438.6M645.4 417.2 L648.0 420.6 L649.4 424.6 L651.4 428.3M631.1 427.2 L633.2 423.9 L633.1 420.0 L634.0 416.4M631.1 427.2 L639.8 428.8M639.8 428.8 L639.7 424.8 L640.9 421.2 L643.0 417.9M634.0 416.4 L643.0 417.9M622.7 431.9 L631.1 427.2M641.7 431.5 L639.8 428.8M645.1 417.0 L643.0 417.9M632.5 414.6 L634.0 416.4M633.3 408.4 L632.5 414.6M645.9 411.8 L641.9 404.8M633.3 408.4 L641.9 404.8M688.6 318.4 L685.2 320.1 L683.5 323.9 L680.0 325.5M697.8 320.9 L696.4 324.8 L695.9 329.2 L693.3 332.8M680.0 325.5 L680.1 328.6M680.1 328.6 L683.4 331.2 L687.3 332.2 L691.1 333.5M691.1 333.5 L693.3 332.8M709.4 323.7 L712.2 327.9 L712.2 333.3 L715.8 337.2 L715.8 342.6 L718.5 346.9M693.3 332.8 L696.9 336.1 L701.8 337.2 L705.4 340.7 L709.6 343.0 L714.0 345.0 L718.5 346.9M728.8 321.6 L728.1 326.2 L729.3 331.0 L727.1 335.6 L727.1 340.3 L727.7 345.1 L725.9 349.7 L726.7 354.5M672.6 351.0 L673.3 345.6M679.6 342.3 L673.3 345.6M679.6 342.3 L683.9 344.8M672.6 351.0 L679.8 354.3M683.9 344.8 L683.7 348.5 L681.9 351.4 L679.8 354.3M677.2 332.2 L680.1 328.6M677.2 332.2 L676.7 335.9 L678.2 339.0 L679.6 342.3M691.1 333.5 L689.2 336.9 L688.1 340.5 L687.9 344.4M683.9 344.8 L687.9 344.4M719.4 348.1 L714.4 349.0 L709.6 346.8 L704.7 347.1 L699.8 346.5 L694.9 347.1 L690.0 346.2M687.9 344.4 L690.0 346.2M487.4 493.4 L487.3 489.3 L486.4 485.3 L486.5 481.2M523.9 498.2 L519.5 496.4 L515.0 495.7 L510.4 495.1 L505.8 494.6 L501.1 495.2 L496.6 494.0 L492.1 492.9 L487.4 493.4M506.9 479.6 L502.9 481.0 L498.8 481.4 L494.6 480.6 L490.5 479.8 L486.5 481.2M486.5 481.2 L480.4 475.1M484.5 466.7 L480.4 475.1M506.9 479.6 L505.8 475.6M484.5 466.7 L488.7 467.1 L493.0 465.9 L497.3 466.3M497.3 466.3 L500.7 468.9 L503.2 472.3 L505.8 475.6M589.0 468.7 L584.2 468.8 L579.4 467.7 L574.5 468.2 L569.7 467.3 L564.9 466.6 L560.2 465.7 L555.3 466.2 L550.6 464.6 L545.7 464.8M531.1 505.5 L533.2 501.5 L533.2 497.0 L534.5 492.7 L533.9 488.1 L534.9 483.8 L536.9 479.7 L537.2 475.3M545.7 464.8 L542.9 468.3 L540.2 471.9 L537.2 475.3M545.7 464.8 L542.7 456.9M537.2 475.3 L537.0 471.0 L535.5 467.2 L532.4 464.0 L531.7 459.9M542.7 456.9 L534.1 454.5M534.1 454.5 L531.7 459.9M524.4 498.6 L523.0 493.7 L523.1 488.7 L523.8 483.6 L523.6 478.6 L522.7 473.7 L522.2 468.7 L521.6 463.7M531.7 459.9 L528.3 461.1 L524.6 461.4 L521.6 463.7M410.9 564.3 L411.8 555.4M423.8 550.0 L420.2 552.7 L415.9 553.8 L411.8 555.4M423.8 550.0 L428.2 550.4 L431.8 553.5 L436.2 553.7M647.7 779.8 L644.8 775.7 L641.2 772.3 L637.0 769.6 L632.5 767.3 L629.4 763.3 L625.4 760.4 L621.6 757.2 L618.9 752.9 L614.6 750.4 L610.7 747.3 L607.6 743.4 L604.6 739.4 L600.9 736.1 L596.5 733.6 L592.9 730.2 L589.3 726.8 L585.5 723.7 L581.4 720.9 L579.1 716.1 L574.2 714.3 L571.9 709.4 L567.3 707.1 L563.5 704.0 L560.9 699.6 L556.2 697.4 L553.0 693.6 L548.8 690.9 L546.4 686.3 L541.6 684.2 L538.7 680.1 L534.6 677.2 L531.0 673.8 L526.9 671.0 L523.0 668.0 L520.1 663.9 L517.1 659.9 L513.4 656.6 L509.7 653.3 L506.2 649.9 L502.7 646.4 L499.1 643.1 L494.9 640.3 L490.3 638.0 L487.9 633.4 L484.5 629.8 L479.4 628.1 L475.8 624.7 L472.8 620.7 L469.6 616.9 L465.6 614.0 L462.1 610.5 L458.3 607.4 L453.9 605.0 L451.4 600.4 L448.1 596.6 L443.9 593.9 L440.5 590.4 L436.3 587.7 L432.9 584.1 L428.4 581.7 L426.3 576.7 L422.3 573.7 L418.1 571.0 L413.7 568.6 L410.9 564.3M487.4 493.4 L484.0 497.0M487.7 517.6 L486.4 513.6 L485.6 509.4 L485.7 505.2 L485.6 500.9 L484.0 497.0M297.1 286.5 L304.4 286.1M298.6 265.3 L294.4 267.8M291.7 281.0 L291.4 276.4 L293.6 272.2 L294.4 267.8M306.1 270.5 L307.0 275.1 L306.2 279.8 L306.0 284.4M304.4 286.1 L306.0 284.4M312.7 269.2 L315.8 272.5 L319.6 275.0 L323.0 278.0M306.0 284.4 L310.8 283.1 L315.6 283.0 L320.4 284.1M323.0 278.0 L320.4 284.1M176.8 277.5 L176.9 273.3 L178.4 269.2 L178.1 265.1 L177.5 260.9M154.4 234.1 L157.7 237.0 L159.9 241.0 L162.1 245.0 L165.0 248.3 L167.9 251.6 L172.5 253.5 L173.8 258.2 L177.5 260.9M179.1 153.9 L182.8 155.4 L187.0 154.7 L190.7 156.6M190.7 156.6 L189.9 164.1M189.9 164.1 L186.3 167.4 L183.8 171.6 L179.0 173.8 L177.4 178.9 L172.7 181.1 L169.4 184.6 L166.7 188.6 L163.3 192.0 L160.7 196.3 L156.8 199.2M302.5 757.3 L304.2 750.2M320.0 753.3 L317.2 750.9 L313.5 750.1 L310.4 748.4M304.2 750.2 L310.4 748.4M263.4 759.7 L264.0 752.0M248.5 752.3 L252.2 749.9 L257.0 750.5 L260.8 748.4M264.0 752.0 L260.8 748.4M267.8 556.0 L264.2 558.0 L261.9 561.8 L257.9 563.3 L254.6 565.7M267.8 556.0 L268.8 551.6 L267.0 547.1 L269.0 542.8 L268.4 538.4M242.3 546.5 L243.4 550.4 L244.4 554.3 L244.4 558.4M254.6 565.7 L251.7 562.6 L247.4 561.4 L244.4 558.4M242.3 546.5 L246.3 544.0 L249.9 541.0 L253.1 537.7 L255.9 533.8 L260.1 531.6M268.4 538.4 L265.0 536.9 L262.1 534.8 L260.1 531.6M187.4 565.3 L189.1 571.5M187.4 565.3 L182.6 564.3 L178.0 562.5 L173.0 562.7 L168.1 562.5 L163.6 559.8 L158.5 560.3 L153.7 559.7 L148.9 558.7 L144.2 557.2 L139.3 556.3 L134.5 555.4 L129.5 555.9 L124.9 553.9 L119.8 554.3 L115.1 552.7M3.8 627.8 L8.4 625.7 L13.5 625.5 L18.0 623.1 L23.4 624.2 L27.9 621.7 L32.6 619.8 L37.8 620.6 L42.3 617.8 L47.3 617.5 L52.0 615.9 L56.9 614.7 L61.9 614.3 L66.9 614.2 L71.8 613.2 L76.1 609.7 L81.3 610.0 L86.1 608.9 L90.9 607.7 L95.7 606.5 L100.3 604.1 L105.2 603.4 L110.0 602.1 L115.3 602.9 L120.0 601.1 L124.9 600.6 L129.8 599.4 L134.6 598.1 L139.1 595.5 L144.3 596.0 L148.7 593.2 L153.9 593.7 L158.5 591.4 L163.4 590.4 L168.5 590.6 L173.2 589.1 L177.8 586.7 L182.7 586.0M182.7 586.0 L184.9 582.6 L186.6 579.1 L186.8 574.9 L189.1 571.5M412.3 483.5 L416.4 482.4 L420.0 479.8 L424.6 480.0 L428.2 477.5M412.3 483.5 L412.3 493.1M412.3 493.1 L416.2 494.1 L419.5 496.7 L423.5 497.5 L427.5 497.9M428.2 477.5 L428.8 481.6 L428.5 485.7 L427.9 489.7 L427.3 493.8 L427.5 497.9M351.4 588.3 L350.5 592.1 L348.9 595.6 L348.4 599.4M351.4 588.3 L360.0 583.4M360.0 583.4 L363.6 586.1 L366.0 590.1 L370.6 591.6 L373.6 595.0M350.9 603.9 L348.4 599.4M350.9 603.9 L355.7 604.2 L360.2 606.3 L365.3 604.8 L370.1 605.1 L374.7 607.0M374.7 607.0 L374.7 602.9 L374.0 599.0 L373.6 595.0M345.6 622.3 L342.3 619.3 L338.4 617.6 L333.8 617.1 L330.6 614.0 L326.6 612.5M345.6 622.3 L347.7 617.9 L349.4 613.4 L348.5 608.2 L350.9 603.9M330.3 598.9 L328.5 603.3 L328.3 608.1 L326.6 612.5M330.3 598.9 L334.8 600.1 L339.3 598.7 L343.8 600.1 L348.4 599.4M330.3 598.9 L329.0 596.8M309.2 601.2 L311.4 605.3 L315.5 608.0 L317.5 612.2 L320.3 615.9M326.6 612.5 L320.3 615.9M309.2 601.2 L313.8 592.8M329.0 596.8 L325.0 596.3 L321.1 595.7 L317.5 594.1 L313.8 592.8M341.5 580.8 L338.2 582.3 L335.3 584.7 L331.5 585.1M341.5 580.8 L345.5 582.4 L348.6 585.2 L351.4 588.3M329.0 596.8 L330.3 593.0 L329.7 588.7 L331.5 585.1M362.8 573.4 L362.6 577.0 L359.9 579.8 L360.0 583.4M362.7 573.3 L362.8 573.4M362.7 573.3 L359.4 570.9 L356.3 568.1 L352.5 566.3 L349.7 563.2M341.5 580.8 L341.6 577.4 L340.2 573.9 L341.5 570.5M349.7 563.2 L347.2 565.9 L344.5 568.3 L341.5 570.5M290.8 305.9 L287.7 312.0M278.3 303.5 L279.3 311.9M284.6 301.3 L278.3 303.5M287.7 312.0 L279.3 311.9M186.0 292.2 L190.0 293.2 L194.1 292.9 L197.9 294.7M192.7 304.0 L200.3 298.6M197.9 294.7 L200.3 298.6M194.0 282.7 L199.9 287.8M186.2 284.5 L194.0 282.7M197.9 294.7 L199.9 287.8M231.4 320.6 L230.9 324.7 L231.2 328.7 L231.2 332.7M238.9 338.3 L231.2 332.7M243.9 337.6 L246.5 333.8 L248.4 329.4 L251.4 325.8M238.9 338.3 L243.9 337.6M231.4 320.6 L234.9 318.5 L238.5 316.6 L242.6 315.9M242.6 315.9 L244.9 319.8 L248.7 322.3 L251.4 325.8M278.9 325.1 L278.0 321.2 L276.9 317.3 L277.9 313.3M277.9 313.3 L273.8 313.8 L269.8 312.4 L265.8 312.3M275.6 327.9 L278.9 325.1M275.6 327.9 L273.3 324.0 L270.0 321.1 L265.4 319.6 L262.9 316.0M265.8 312.3 L263.3 314.1M262.9 316.0 L263.3 314.1M287.3 250.6 L290.9 247.7 L293.1 243.7 L295.4 239.8M299.1 259.2 L295.1 256.4 L291.1 253.6 L287.3 250.6M302.9 255.0 L302.9 250.7 L301.2 246.6 L301.3 242.2M295.4 239.8 L301.3 242.2M311.9 253.9 L314.4 250.8 L314.8 246.8 L316.4 243.3M316.4 243.3 L307.2 239.4M301.3 242.2 L307.2 239.4M321.6 230.2 L317.4 228.3 L312.5 229.0 L308.3 226.9M321.6 230.2 L320.2 234.3 L320.3 238.9 L318.0 242.7M318.0 242.7 L316.4 243.3M307.2 239.4 L306.4 235.2 L308.8 231.2 L308.3 226.9M249.3 238.5 L242.3 245.1M242.3 245.1 L247.8 253.3M253.0 239.7 L249.3 238.5M253.0 239.7 L256.5 247.5M256.5 247.5 L252.9 248.5 L250.2 250.6 L247.8 253.3M239.1 260.0 L247.0 257.2M237.7 262.9 L239.1 260.0M241.1 271.0 L237.7 262.9M244.1 272.1 L246.2 268.9 L250.5 268.6 L252.7 265.5M244.1 272.1 L241.1 271.0M252.7 265.5 L253.2 262.3M253.2 262.3 L247.0 257.2M232.6 248.7 L235.8 251.9 L237.8 255.7 L239.1 260.0M232.6 248.7 L234.2 245.3M234.2 245.3 L242.3 245.1M247.0 257.2 L247.8 253.3M244.1 272.1 L248.6 279.6M252.7 265.5 L258.1 273.5M248.6 279.6 L252.2 278.2 L255.1 275.7 L258.1 273.5M88.6 459.0 L95.1 456.4M93.0 440.0 L97.4 442.4M97.4 442.4 L97.6 447.2 L94.9 451.6 L95.1 456.4M102.6 470.1 L98.6 471.9 L94.5 472.2 L90.3 471.7M102.6 470.1 L102.2 466.6 L101.5 463.1 L101.4 459.6M101.4 459.6 L95.1 456.4M275.1 454.4 L275.8 458.5 L275.8 462.7 L275.7 467.0M275.1 454.4 L270.4 452.3 L265.4 451.8 L260.4 451.7M260.4 451.7 L258.6 454.7 L255.1 456.1 L253.5 459.2M275.7 467.0 L272.0 470.6M272.0 470.6 L268.7 468.1 L264.3 468.0 L260.9 465.8 L257.8 462.9 L253.6 462.3M253.5 459.2 L253.6 462.3M143.8 409.6 L140.2 411.8 L136.5 413.9 L132.4 415.2M132.4 415.2 L130.9 411.2 L129.5 407.2 L129.1 403.0 L128.9 398.7 L126.6 394.9 L126.4 390.6M143.8 409.6 L142.9 404.8 L143.6 399.9 L143.3 395.0M143.3 395.0 L138.8 394.8 L135.0 392.1 L130.5 392.0 L126.4 390.6M117.1 418.6 L120.7 417.3 L124.4 416.5 L128.3 416.9 L132.0 416.1M132.0 416.1 L132.4 415.2M125.7 390.1 L125.7 390.1M125.7 390.1 L126.4 390.6M132.0 352.7 L133.9 355.8M125.7 390.1 L127.6 386.0 L127.1 381.3 L128.7 377.2 L128.9 372.7 L129.8 368.4 L132.0 364.4 L132.0 359.9 L133.9 355.8M170.6 326.0 L173.0 329.6 L175.8 333.0 L178.5 336.4 L180.5 340.3M177.0 356.3 L178.0 352.3 L179.4 348.4 L180.1 344.4 L180.5 340.3M177.0 356.3 L172.6 356.6 L168.7 358.2 L165.5 361.6 L161.0 361.4 L157.1 363.0 L153.3 364.8M133.9 355.8 L137.6 358.1 L141.7 359.4 L145.0 362.4 L149.6 362.8 L153.3 364.8M143.8 409.6 L146.7 412.3 L150.4 413.8 L153.8 415.8M136.9 425.7 L138.9 426.2M138.9 426.2 L142.2 423.7 L146.6 423.7 L150.1 421.6 L153.6 419.6M132.0 416.1 L134.3 419.0 L136.0 422.2 L136.9 425.7M153.8 415.8 L153.6 419.6M173.1 390.9 L172.0 395.3 L172.8 399.7 L173.4 404.2 L172.6 408.6 L172.2 413.0M173.1 390.9 L168.8 390.7 L164.5 390.1 L160.4 389.0M158.4 390.9 L160.4 389.0M158.4 390.9 L158.9 395.9 L157.0 400.8 L158.7 405.9 L158.0 410.8M158.0 410.8 L162.6 412.3 L167.6 411.1 L172.2 413.0M187.9 369.3 L185.1 366.1 L182.2 363.0 L180.1 359.2 L177.0 356.3M173.3 390.9 L176.8 388.0 L178.6 384.0 L179.6 379.4 L182.9 376.4 L185.6 373.0 L187.9 369.3M173.3 390.9 L173.1 390.9M153.3 364.8 L154.9 368.7 L156.4 372.7 L157.4 376.7 L156.9 381.3 L158.1 385.3 L160.4 389.0M143.3 395.0 L147.1 394.0 L151.0 393.5 L154.7 392.3 L158.4 390.9M153.8 415.8 L158.0 410.8M102.6 470.1 L103.2 470.6M3.8 627.8 L7.1 624.2 L8.5 619.2 L11.8 615.5 L14.1 611.1 L17.1 607.3 L20.1 603.4 L23.1 599.6 L26.9 596.2 L29.5 592.1 L32.3 588.0 L34.6 583.7 L38.2 580.3 L40.8 576.1 L44.1 572.5 L45.1 567.2 L49.3 564.2 L50.5 559.0 L54.4 555.8 L57.0 551.7 L59.2 547.2 L63.1 544.0 L66.3 540.3 L69.0 536.2 L70.2 531.0 L73.7 527.5 L76.8 523.7 L79.5 519.6 L82.8 515.9 L85.5 511.9 L88.0 507.6 L90.7 503.5 L94.3 500.2 L97.4 496.3 L99.6 491.9 L101.3 487.1 L104.9 483.7M103.2 470.6 L104.1 474.9 L104.6 479.3 L104.9 483.7M291.0 468.2 L291.6 464.4 L291.4 460.5 L293.6 457.0 L293.9 453.2M291.0 468.2 L287.1 469.2 L283.4 466.6 L279.5 468.4 L275.7 467.0M279.9 449.7 L283.8 449.0 L287.7 450.2 L291.6 450.4M279.9 449.7 L275.1 454.4M291.6 450.4 L293.9 453.2M312.1 465.6 L309.5 467.9 L307.1 470.5 L304.6 472.9M312.1 465.6 L308.7 462.0 L305.1 458.4 L303.2 453.6M293.9 453.2 L303.2 453.6M291.0 468.2 L292.8 470.9M304.6 472.9 L300.5 473.0 L296.6 472.3 L292.8 470.9M271.2 480.3 L272.0 470.6M271.2 480.3 L275.5 481.2 L279.1 483.9 L283.3 484.9 L287.4 486.3M292.8 470.9 L290.9 474.6 L291.1 479.0 L287.7 482.1 L287.4 486.3M104.9 483.7 L110.0 483.6 L114.7 482.0 L119.4 480.4M125.3 523.6 L125.0 518.8 L122.9 514.2 L123.9 509.1 L123.2 504.3 L122.9 499.5 L121.9 494.7 L120.9 490.0 L119.8 485.3 L119.4 480.4M103.2 470.6 L107.0 469.3 L111.1 469.3 L115.0 468.2M115.0 468.2 L121.5 472.7M121.5 472.7 L122.1 476.3M119.4 480.4 L122.1 476.3M656.0 379.9 L664.3 383.6M656.0 379.9 L655.2 383.7 L651.7 386.0 L650.8 389.6M664.5 389.1 L661.0 391.7 L656.6 392.4 L652.9 394.5M652.9 394.5 L650.8 389.6M655.5 401.9 L652.3 397.9M652.9 394.5 L652.3 397.9M641.9 404.8 L642.9 400.2M652.3 397.9 L642.9 400.2M628.1 369.5 L633.8 365.4M628.1 369.5 L630.5 375.5M630.5 375.5 L639.7 374.8M633.8 365.4 L641.4 368.5M641.4 368.5 L639.7 374.8M609.0 417.2 L604.9 414.8 L600.8 412.2 L595.8 411.4 L592.0 408.4 L588.2 405.2 L583.0 404.8 L579.1 401.9M609.0 417.2 L609.9 416.8M609.9 416.8 L610.6 406.9M610.6 406.9 L608.9 403.5 L605.7 401.1 L604.0 397.7 L602.0 394.4M611.2 417.3 L615.1 417.2 L618.7 415.9 L622.2 414.3M611.2 417.3 L613.7 420.6 L616.3 424.0 L619.3 426.9 L621.1 430.8M622.4 431.5 L623.5 427.6 L623.8 423.6 L624.4 419.6 L623.7 415.5M623.7 415.5 L622.2 414.3M621.0 406.8 L617.5 407.8 L614.1 405.6 L610.6 406.9M621.0 406.8 L622.2 414.3M609.9 416.8 L611.2 417.3M606.9 420.3 L609.0 417.2M607.9 429.5 L606.9 420.3M607.9 429.5 L612.3 429.6 L616.8 429.3 L621.1 430.8M607.9 429.5 L604.2 432.6 L601.3 436.7 L597.0 439.1 L592.9 441.7 L588.8 444.4 L586.2 448.8 L582.1 451.5M632.5 414.6 L623.7 415.5M628.3 402.2 L623.6 402.6M621.0 406.8 L623.6 402.6M633.3 408.4 L628.3 402.2M688.9 303.6 L685.2 301.4 L682.9 297.6 L679.2 295.4M690.2 282.6 L684.1 284.9M684.1 284.9 L682.6 288.5 L680.1 291.6 L679.2 295.4M684.8 358.7 L689.6 355.8M684.8 358.7 L686.8 362.7 L688.8 366.6 L689.4 371.0M689.6 355.8 L694.3 357.2 L698.8 358.9 L703.9 359.0 L708.3 361.3 L713.3 361.5 L717.6 364.2 L722.6 364.5 L727.3 365.8 L732.0 367.1 L736.4 369.3M690.0 346.2 L689.6 355.8M681.3 357.7 L679.8 354.3M681.3 357.7 L684.8 358.7M676.1 362.3 L677.2 368.7M676.1 362.3 L681.3 357.7M677.2 368.7 L681.4 368.8 L685.1 371.4 L689.4 371.0M678.6 380.1 L682.3 378.6 L686.3 377.7 L690.0 376.3 L693.9 375.2M673.2 373.2 L677.2 368.7M505.8 475.6 L508.7 472.3 L508.9 467.8 L510.9 464.1 L512.8 460.3M521.6 463.7 L516.9 460.0M512.8 460.3 L516.9 460.0M418.0 535.0 L416.8 531.0 L413.3 528.3 L412.3 524.3M418.0 535.0 L421.4 533.1 L425.0 531.6 L428.8 531.0 L432.7 530.2M412.3 524.3 L415.2 521.6 L418.5 519.5 L422.5 518.6M422.5 518.6 L426.6 521.4 L429.6 525.4 L433.6 528.1M432.7 530.2 L433.7 528.2M433.6 528.1 L433.7 528.2M436.2 553.7 L434.5 549.2 L435.5 544.2 L432.9 539.8 L434.1 534.8 L432.7 530.2M423.8 550.0 L420.9 546.4 L420.0 541.6 L416.8 538.1M416.8 538.1 L418.0 535.0M428.7 504.6 L423.2 509.5M440.3 513.4 L436.5 510.5 L432.7 507.4 L428.7 504.6M423.2 509.5 L422.5 518.6M440.3 513.4 L438.6 517.1 L437.2 520.9 L434.8 524.2 L433.6 528.1M460.7 533.2 L456.5 531.1 L451.9 530.3 L447.0 531.9 L442.6 530.2 L438.2 529.1 L433.7 528.2M445.2 512.4 L440.3 513.4M445.2 512.4 L447.5 515.9 L450.0 519.3 L453.1 522.1 L456.7 524.4 L459.4 527.6M459.4 527.6 L460.7 533.2M365.7 498.1 L364.5 506.8M365.7 498.1 L370.6 499.0 L375.4 497.8 L380.2 497.6M380.2 497.6 L386.2 505.1M386.2 505.1 L384.2 508.8M384.2 508.8 L379.9 510.6 L375.4 511.9 L370.9 512.9M364.5 506.8 L370.9 512.9M411.8 555.4 L406.3 550.3M416.8 538.1 L408.2 541.1M406.3 550.3 L408.2 541.1M381.3 559.3 L385.4 557.9 L389.5 556.4 L393.9 556.4M381.3 559.3 L381.1 563.7 L383.8 567.6 L383.3 572.0 L383.7 576.3M393.9 556.4 L396.8 559.5 L397.7 563.6 L399.5 567.3M399.5 567.3 L396.5 571.1 L395.1 575.7 L393.3 580.2M393.3 580.2 L386.7 579.2M383.7 576.3 L386.7 579.2M371.7 558.0 L378.6 557.4M378.6 557.4 L381.3 559.3M362.7 573.3 L364.9 569.5 L367.2 565.7 L370.2 562.3 L371.7 558.0M362.8 573.4 L367.1 573.3 L371.2 574.1 L375.4 574.4 L379.6 574.9 L383.7 576.3M406.3 550.3 L402.9 551.3 L399.5 552.1 L395.9 552.0M395.9 552.0 L393.9 556.4M410.9 564.3 L406.9 564.4 L403.2 565.9 L399.5 567.3M533.8 727.1 L530.9 723.1 L526.5 720.4 L523.5 716.4 L519.2 713.6 L517.2 708.7 L513.6 705.3 L509.4 702.4 L505.5 699.3 L502.9 695.0 L499.7 691.1 L495.9 687.9 L493.6 683.2 L488.6 681.2 L486.4 676.4 L483.3 672.5 L478.3 670.4 L476.2 665.6 L472.7 662.0 L468.8 658.9 L465.5 655.2 L462.4 651.3 L458.7 648.0 L454.4 645.2 L451.8 640.9 L448.6 637.1 L444.3 634.4 L440.5 631.1 L437.7 626.9 L434.2 623.4 L431.1 619.5 L426.8 616.7 L424.4 612.2 L420.9 608.7 L417.5 605.1 L414.6 601.0 L411.4 597.2 L406.5 595.0 L403.7 590.8 L399.5 588.0 L396.3 584.2 L393.3 580.2M373.6 595.0 L376.9 592.4 L378.7 588.6 L381.6 585.7 L384.2 582.4 L386.7 579.2M371.7 558.0 L368.1 556.0 L365.1 553.2 L362.8 549.8M378.6 557.4 L378.6 553.5 L379.2 549.6 L381.1 546.0 L380.8 542.0M380.8 542.0 L376.6 542.2 L373.0 540.2 L369.4 538.2 L365.3 537.9M365.3 537.9 L363.9 539.3M362.8 549.8 L363.3 546.3 L364.1 542.9 L363.9 539.3M349.7 563.2 L349.4 558.6M362.8 549.8 L359.6 552.2 L355.6 553.5 L353.4 557.5 L349.4 558.6M470.3 495.2 L470.2 499.4 L469.4 503.5 L467.4 507.2M470.3 495.2 L468.9 492.8M468.9 492.8 L465.5 490.8 L461.3 492.3 L457.9 490.5M464.9 508.7 L460.9 508.6 L457.3 507.4 L453.9 505.6 L450.5 503.7M464.9 508.7 L467.4 507.2M457.9 490.5 L455.8 494.1 L452.2 496.4 L449.9 499.8M450.5 503.7 L449.9 499.8M487.7 517.6 L483.3 516.2 L479.5 513.6 L475.5 511.4 L471.8 508.6 L467.4 507.2M484.0 497.0 L479.3 497.3 L474.7 496.6 L470.3 495.2M480.4 475.1 L474.6 476.6M474.6 476.6 L472.0 480.2 L470.7 484.3 L470.7 488.9 L468.9 492.8M453.8 481.7 L457.9 490.5M466.3 472.5 L462.5 473.9 L460.3 477.4 L457.0 479.5 L453.8 481.7M466.3 472.5 L474.6 476.6M445.2 512.4 L446.6 509.2 L448.5 506.4 L450.5 503.7M459.4 527.6 L461.2 523.0 L462.4 518.2 L463.9 513.5 L464.9 508.7M441.1 494.6 L437.3 496.8 L432.8 497.6 L428.9 499.9M428.7 504.6 L428.9 499.9M441.1 494.6 L444.6 495.4 L447.0 498.1 L449.9 499.8M305.7 356.9 L309.2 364.4M305.7 356.9 L297.9 356.0M297.9 356.0 L295.2 359.8M295.2 359.8 L296.6 363.4 L299.5 366.2 L300.3 370.0M300.3 370.0 L303.0 367.7 L306.2 366.3 L309.2 364.4M316.2 352.2 L317.1 359.4M316.2 352.2 L323.0 348.8M323.0 348.8 L324.6 352.4 L327.9 354.8 L329.6 358.3M317.1 359.4 L323.5 361.9M329.6 358.3 L323.5 361.9M310.6 364.8 L317.1 359.4M309.2 364.4 L310.6 364.8M310.5 350.0 L316.2 352.2M310.5 350.0 L305.7 356.9M295.2 359.8 L287.6 360.8M296.9 351.4 L289.3 347.7M289.3 347.7 L285.1 349.4M297.9 356.0 L296.9 351.4M285.1 349.4 L285.7 353.2 L286.6 357.0 L287.6 360.8M276.6 342.0 L271.9 341.4 L267.3 343.0 L262.6 342.4M276.6 342.0 L277.9 337.9M277.9 337.9 L275.4 328.8M275.4 328.8 L271.4 331.1 L267.2 332.5 L262.5 332.5M262.5 332.5 L262.6 342.4M256.1 349.4 L262.6 342.4M256.1 350.1 L256.1 349.4M278.5 347.2 L274.7 353.1M258.1 352.5 L262.3 352.5 L266.4 351.8 L270.6 352.8 L274.7 353.1M256.1 350.1 L258.1 352.5M278.5 347.2 L276.6 342.0M289.3 347.7 L292.0 340.4M288.4 336.5 L292.0 340.4M278.5 347.2 L285.1 349.4M288.4 336.5 L284.9 336.8 L281.3 336.6 L277.9 337.9M254.5 325.3 L256.5 321.5 L259.3 318.4 L262.9 316.0M254.5 325.3 L257.0 327.9 L259.7 330.3 L262.5 332.5M275.6 327.9 L275.4 328.8M243.9 337.6 L246.1 341.4 L249.7 343.7 L252.1 347.4 L256.1 349.4M254.5 325.3 L251.4 325.8M334.6 342.8 L330.8 343.7 L327.6 346.3 L323.7 346.6M334.6 342.8 L333.6 338.8 L330.7 336.0 L328.5 332.9M323.7 346.6 L322.7 343.3 L319.7 341.1 L318.7 337.7M318.7 337.7 L323.9 332.7M328.5 332.9 L323.9 332.7M314.0 337.5 L310.5 334.7M314.0 337.5 L311.6 340.8 L310.3 344.5 L309.9 348.5M310.5 334.7 L306.9 335.5 L303.7 337.3 L300.4 338.7M309.9 348.5 L301.6 345.2M301.6 345.2 L300.0 339.4M300.4 338.7 L300.0 339.4M310.5 350.0 L309.9 348.5M323.0 348.8 L323.7 346.6M318.7 337.7 L314.0 337.5M296.9 351.4 L301.6 345.2M292.0 340.4 L300.0 339.4M466.3 472.5 L465.5 468.2 L462.3 465.1 L461.1 461.1M484.5 466.7 L482.1 457.6M461.1 461.1 L461.2 460.5M461.2 460.5 L465.1 458.8 L468.9 456.9 L472.0 454.0M482.1 457.6 L478.4 457.4 L475.7 454.0 L472.0 454.0M323.0 278.0 L324.2 277.3M318.3 260.2 L321.0 260.0M324.2 277.3 L326.6 273.8 L327.7 270.0 L328.0 265.9M321.0 260.0 L328.0 265.9M219.7 223.0 L217.6 219.1 L215.5 215.2 L213.2 211.5M218.3 226.7 L219.7 223.0M198.0 219.3 L201.5 216.8 L206.2 216.5 L209.8 214.1 L213.2 211.5M218.3 226.7 L214.3 229.3M198.0 219.3 L201.5 221.1 L203.2 225.1 L206.2 227.6 L210.0 229.0M210.0 229.0 L214.3 229.3M231.3 236.7 L231.5 235.2M218.3 226.7 L222.2 227.8 L225.5 230.0 L228.0 233.3 L231.5 235.2M231.3 236.7 L227.0 239.3 L222.2 240.6 L217.4 241.6M214.3 229.3 L215.2 233.4 L215.9 237.6 L217.4 241.6M228.1 250.8 L224.0 248.9 L220.2 246.5 L216.1 244.7M228.1 250.8 L232.6 248.7M231.3 236.7 L234.2 245.3M216.1 244.7 L217.4 241.6M213.2 211.5 L214.1 209.5M188.3 190.9 L192.4 192.8 L196.1 195.5 L199.6 198.6 L204.3 199.5 L208.0 202.2 L212.1 204.3M212.1 204.3 L214.1 209.5M217.0 190.6 L209.9 186.9M217.0 190.6 L219.1 194.2M212.1 204.3 L215.3 201.5 L216.1 197.1 L219.1 194.2M242.8 165.7 L240.7 156.8M242.8 165.7 L247.2 166.2 L251.5 166.8 L255.7 167.6 L259.6 170.0 L264.1 170.0M265.1 153.6 L263.7 157.6 L263.8 161.8 L263.2 165.9 L264.1 170.0M265.1 153.6 L260.2 154.8 L255.4 153.7 L250.6 152.6 L245.8 153.5M245.8 153.5 L240.7 156.8M214.7 100.2 L213.9 104.7 L210.3 107.9 L208.4 111.9 L207.8 116.6 L204.4 119.9 L203.2 124.3M148.0 104.6 L152.0 107.4 L156.5 109.3 L161.2 110.9 L164.8 114.3 L169.6 115.7 L173.4 118.8 L177.3 121.8 L181.8 123.6 L186.3 125.5 L190.3 128.3 L194.8 130.1M203.2 124.3 L200.4 126.2 L197.5 128.0 L194.8 130.1M182.5 140.4 L185.4 137.7 L189.1 135.9 L192.1 133.2 L194.8 130.1M194.8 130.1 L194.8 130.1M296.5 625.2 L297.3 629.1 L300.8 631.6 L301.3 635.7 L303.5 638.9M296.5 625.2 L301.1 618.3M301.1 618.3 L305.5 618.3 L309.9 617.3 L314.3 618.8 L318.7 618.3M318.7 618.3 L318.8 622.9 L319.2 627.4 L319.6 631.9M303.5 638.9 L307.4 637.0 L311.9 636.2 L315.2 632.8 L319.6 631.9M318.7 618.3 L320.3 615.9M349.3 632.0 L344.6 632.8 L340.0 633.9 L335.5 635.1 L331.0 637.0 L326.2 636.8M319.6 631.9 L326.2 636.8M373.5 650.1 L369.1 651.4 L364.4 650.8 L360.2 653.2 L355.4 652.2 L350.9 653.1 L346.7 655.2 L342.2 655.9 L337.4 655.0 L333.0 656.1 L328.7 658.2 L324.1 658.0M326.2 636.8 L326.4 641.1 L324.5 645.2 L324.5 649.5 L325.5 653.8 L324.1 658.0M333.2 677.0 L329.6 674.0 L327.9 669.2 L324.1 666.3M333.2 677.0 L338.0 677.9 L342.8 676.2 L347.6 676.5 L352.4 676.5 L357.2 677.0 L361.9 677.1 L366.7 676.3 L371.5 674.8 L376.3 675.8 L381.1 675.7 L385.8 675.5 L390.6 674.6 L395.4 674.2 L400.2 674.5 L405.0 674.4 L409.8 675.1 L414.5 673.7 L419.4 675.9 L424.1 673.3 L428.9 674.3M324.1 666.3 L324.0 658.0M324.1 658.0 L324.0 658.0M301.5 696.8 L296.0 688.6M301.5 696.8 L300.2 701.2 L299.0 705.7 L296.9 709.9M286.4 707.5 L290.2 707.0 L293.3 709.6 L296.9 709.9M286.4 707.5 L287.4 703.2 L285.3 698.9 L286.1 694.6 L286.6 690.3M296.0 688.6 L289.2 687.8M289.2 687.8 L286.6 690.3M265.2 678.3 L267.8 681.4 L267.9 685.8 L270.6 688.8 L272.7 692.2M272.7 692.2 L277.5 692.8 L282.1 692.0 L286.6 690.3M284.0 671.7 L279.3 672.6 L275.1 675.0 L270.3 675.3 L265.8 676.9M265.2 678.3 L265.8 676.9M284.0 671.7 L284.8 675.9 L286.6 679.7 L288.2 683.7 L289.2 687.8M317.3 689.1 L315.4 692.8 L311.2 694.0 L309.0 697.3M317.3 689.1 L326.4 691.7M326.4 691.7 L327.7 694.4M327.7 694.4 L325.7 697.5 L324.3 701.1 L321.1 703.6 L320.1 707.3M309.0 697.3 L310.1 701.6 L313.7 704.7 L314.9 708.9M320.1 707.3 L314.9 708.9M308.1 678.1 L309.4 678.3M308.1 678.1 L305.3 681.0 L301.9 683.2 L299.8 686.8 L296.0 688.6M309.4 678.3 L312.5 681.6 L315.2 685.1 L317.3 689.1M301.5 696.8 L309.0 697.3M333.2 677.0 L331.2 680.6 L330.4 684.7 L329.2 688.5 L326.4 691.7M324.1 666.3 L321.1 670.1 L317.2 672.9 L312.4 674.5 L309.4 678.3M384.6 722.4 L380.0 720.6 L375.9 717.9 L371.8 715.2 L366.7 714.6 L362.4 712.2 L358.3 709.5 L353.7 707.9 L349.7 704.9 L345.1 703.3 L340.9 700.7 L336.5 698.6 L332.3 696.1 L327.7 694.4M337.1 721.7 L333.3 719.4 L329.6 716.8 L326.6 713.5 L323.3 710.5 L320.1 707.3M297.1 664.1 L298.3 659.7 L302.3 657.1 L303.8 652.9M297.1 664.1 L293.6 665.4 L289.7 665.5 L286.2 667.3M286.2 667.3 L283.9 663.6 L281.1 660.1 L278.7 656.5M278.7 656.5 L281.2 652.6 L282.6 648.3 L283.3 643.8M283.3 643.8 L287.7 644.8 L292.3 644.4 L296.8 643.7 L301.2 645.3M303.8 652.9 L301.2 645.3M324.0 658.0 L320.1 656.6 L315.7 656.7 L311.9 654.9 L307.6 654.9 L303.8 652.9M308.1 678.1 L306.2 673.9 L303.3 670.5 L298.9 668.4 L297.1 664.1M284.0 671.7 L286.2 667.3M259.3 659.2 L261.2 656.2M261.2 656.2 L265.6 656.9 L270.0 655.3 L274.3 655.9 L278.7 656.5M265.8 676.9 L264.9 672.2 L262.8 668.0 L261.9 663.3 L259.3 659.2M261.2 656.2 L261.4 652.2 L259.9 648.4 L260.1 644.4M260.1 644.4 L264.3 642.0 L268.8 640.0 L272.4 636.5 L276.9 634.6M276.9 634.6 L279.4 637.4 L281.9 640.2 L283.3 643.8M276.9 634.6 L278.0 624.7M296.5 625.2 L291.9 625.0 L287.3 624.7 L282.7 625.1 L278.0 624.7M303.5 638.9 L301.2 645.3M244.8 662.4 L249.9 662.5 L254.3 659.2 L259.3 659.2M265.2 678.3 L258.1 681.8M241.5 673.3 L243.3 677.1M243.3 677.1 L247.0 678.3 L250.4 680.3 L254.7 679.8 L258.1 681.8M286.4 707.5 L283.2 709.1M270.9 696.3 L272.2 701.9M272.7 692.2 L270.9 696.3M283.2 709.1 L280.0 706.0 L275.6 704.8 L272.2 701.9M296.9 709.9 L297.7 710.9M314.9 708.9 L314.1 709.9M314.1 709.9 L309.9 709.1 L305.9 710.8 L301.9 711.6 L297.7 710.9M170.9 514.8 L174.7 515.3 L178.1 517.5 L182.0 517.9 L185.6 519.2M133.9 545.2 L137.1 541.6 L141.6 539.4 L145.5 536.7 L149.2 533.7 L152.0 529.5 L156.3 527.2 L159.2 523.2 L163.1 520.4 L167.4 518.1 L170.9 514.8M133.9 545.2 L138.7 544.1 L143.6 543.9 L148.5 543.8 L153.3 543.3 L157.8 540.5 L162.8 541.7 L167.7 541.4 L172.3 539.4 L177.2 539.3 L181.9 538.1M181.9 538.1 L183.6 533.5 L184.9 528.9 L185.8 524.1 L185.6 519.2M188.7 499.4 L179.2 496.4M167.9 503.3 L171.8 501.2 L175.1 498.0 L179.2 496.4M170.9 514.8 L170.6 510.8 L169.6 507.0 L167.9 503.3M188.7 499.4 L187.8 504.1 L188.2 508.9 L188.3 513.7 L186.8 518.3M185.6 519.2 L186.8 518.3M236.1 519.6 L235.5 517.2M236.1 519.6 L240.0 521.7 L244.0 523.7 L247.7 526.2 L251.6 528.1 L256.4 528.3 L259.9 531.1M235.5 517.2 L238.9 513.6 L242.7 510.3 L245.9 506.6 L249.0 502.7M259.9 531.1 L261.0 527.1 L261.8 522.9 L264.5 519.3 L264.2 514.8 L266.8 511.2 L267.1 506.9M249.0 502.7 L253.3 502.1 L257.4 502.8 L261.2 505.6 L265.4 505.2M267.1 506.9 L265.4 505.2M228.1 537.7 L232.2 539.0 L235.0 542.5 L239.2 543.5 L242.3 546.5M260.1 531.6 L259.9 531.1M228.1 537.7 L229.0 532.7 L231.9 528.6 L234.5 524.3 L236.1 519.6M178.2 663.0 L181.3 659.6 L184.2 656.0 L187.1 652.3 L188.0 647.3 L192.2 644.6 L193.9 640.1 L197.9 637.3 L199.3 632.6 L202.5 629.3M177.5 619.7 L181.8 620.0 L185.7 621.7 L189.3 624.5 L193.7 624.4 L197.2 627.3 L201.7 627.3M202.5 629.3 L201.7 627.3M177.5 619.7 L180.3 616.6 L183.2 613.5 L186.0 610.3 L189.2 607.5M206.0 614.8 L204.4 619.0 L202.8 623.1 L201.7 627.3M206.0 614.8 L204.7 612.2M204.7 612.2 L200.5 612.1 L197.3 608.8 L193.2 608.2 L189.2 607.5M182.7 586.0 L185.7 588.6 L187.9 591.8 L190.1 595.0M189.2 607.5 L189.9 603.3 L190.3 599.2 L190.1 595.0M216.9 594.7 L221.5 593.3 L225.8 591.3 L230.7 590.6 L234.7 587.7M216.9 594.7 L212.3 593.8M212.3 593.8 L211.3 592.9M211.3 592.9 L210.8 589.0 L208.7 585.4 L209.7 581.1 L208.0 577.5M234.7 587.7 L233.6 582.9 L230.3 579.2 L228.6 574.7 L227.1 570.1 L224.3 566.2M208.0 577.5 L210.3 573.5 L215.0 571.8 L216.6 567.0 L220.6 564.7M224.3 566.2 L220.6 564.7M204.7 612.2 L207.5 607.9 L208.2 602.8 L210.5 598.4 L212.3 593.8M206.0 614.8 L210.2 615.7 L214.7 615.0 L218.9 616.3 L223.2 617.3M224.6 613.3 L223.2 617.3M224.6 613.3 L223.2 609.5 L221.7 605.8 L221.1 601.6 L218.5 598.3 L216.9 594.7M190.1 595.0 L194.4 594.5 L198.6 594.1 L202.8 593.7 L206.9 592.0 L211.3 592.9M189.1 571.5 L193.5 573.9 L198.5 574.7 L203.6 575.0 L208.0 577.5M239.6 657.2 L238.3 653.4 L238.7 649.6 L239.7 645.8M260.1 644.4 L257.1 642.3 L253.8 640.7 L251.8 637.5M239.7 645.8 L243.5 642.7 L247.8 640.3 L251.8 637.5M243.9 614.2 L244.1 618.1 L242.0 621.5 L241.6 625.3M243.9 614.2 L247.7 612.4 L251.6 611.4 L255.6 610.3M263.6 619.4 L260.1 622.2 L256.8 625.2 L254.0 628.8 L250.8 631.9M255.6 610.3 L258.5 613.2 L260.6 616.7 L263.6 619.4M241.6 625.3 L245.1 627.0 L247.1 630.7 L250.8 631.9M263.6 619.4 L267.5 619.2 L271.4 619.3 L275.2 620.1M278.0 624.7 L275.2 620.1M250.8 631.9 L251.8 637.5M243.9 614.2 L237.2 606.7M237.2 606.7 L239.2 602.1 L239.0 597.1 L239.5 592.3M255.6 610.3 L254.6 606.9 L256.9 603.7 L256.2 600.3M256.2 600.3 L251.6 599.2 L247.5 597.0 L243.3 595.1 L239.5 592.3M244.4 558.4 L240.2 559.5 L236.8 562.7 L232.2 562.6 L228.0 563.7 L224.3 566.2M234.7 587.7 L237.7 588.7M254.6 565.7 L254.9 572.8M254.9 572.8 L250.9 575.4 L248.4 579.6 L244.7 582.5 L241.9 586.4 L237.7 588.7M224.6 613.3 L228.9 611.3 L233.4 609.7 L237.2 606.7M237.7 588.7 L239.5 592.3M254.9 572.8 L258.3 575.2 L260.9 578.5 L263.8 581.5 L267.3 583.7M277.6 560.5 L274.6 558.5 L271.4 556.7 L267.8 556.0M277.6 560.5 L279.9 564.7 L280.8 569.5 L283.6 573.4M283.6 573.4 L280.1 577.0 L275.6 578.8 L271.2 580.9 L267.3 583.7M256.2 600.3 L260.9 598.9 L264.3 595.2 L268.5 592.9M267.3 583.7 L268.5 592.9M429.1 476.0 L433.0 474.5 L436.0 471.7 L439.9 470.2 L442.7 467.1M429.1 476.0 L429.0 476.5M429.0 476.5 L433.5 478.6 L437.7 481.2 L441.4 484.4M447.9 469.1 L442.7 467.1M447.9 469.1 L449.5 472.8 L450.8 476.7 L451.4 480.7M451.4 480.7 L447.7 480.8 L444.4 482.2 L441.4 484.4M424.5 467.3 L429.1 476.0M424.5 467.3 L426.2 459.6M426.2 459.6 L429.6 457.9 L433.6 457.7 L436.9 455.7 L440.4 454.3M440.4 454.3 L442.1 458.4 L440.9 463.0 L442.7 467.1M411.4 465.9 L410.0 470.3 L406.7 473.6 L404.9 477.8M412.3 483.5 L404.9 477.8M428.2 477.5 L429.0 476.5M424.5 467.3 L420.3 465.6 L415.8 466.5 L411.4 465.9M428.9 499.9 L427.5 497.9M441.1 494.6 L441.2 491.2 L442.1 487.8 L441.4 484.4M461.1 461.1 L457.7 462.9 L454.1 464.4 L451.6 467.7 L447.9 469.1M453.8 481.7 L451.4 480.7M341.5 570.5 L337.3 569.4 L333.4 567.3 L329.0 567.4M331.5 585.1 L328.8 581.9 L326.1 578.6 L322.8 575.8M329.0 567.4 L326.3 569.8 L325.7 573.6 L322.8 575.8M313.8 592.8 L310.4 584.7M311.1 582.0 L316.0 576.9M310.4 584.7 L311.1 582.0M322.8 575.8 L316.0 576.9M229.8 288.8 L227.4 292.4 L225.2 296.2 L221.5 298.8M229.8 288.8 L237.3 290.2M237.3 290.2 L235.1 294.3 L233.4 298.6 L232.3 303.2M232.3 303.2 L226.7 304.3M226.7 304.3 L221.5 298.8M238.9 338.3 L237.6 342.7 L236.3 347.1 L234.1 351.2 L231.4 355.0M256.1 350.1 L252.4 353.0 L249.1 356.6 L244.9 358.8 L240.6 361.1M231.4 355.0 L234.8 356.6 L237.1 359.8 L240.6 361.1M260.7 361.8 L258.1 352.5M260.7 361.8 L258.8 368.4M240.6 361.1 L241.8 364.7 L241.9 368.7 L243.5 372.2M258.8 368.4 L254.6 368.1 L251.3 371.2 L247.5 372.0 L243.5 372.2M262.6 295.6 L269.9 301.3M262.6 295.6 L264.6 292.0 L266.7 288.6 L269.1 285.3M269.1 285.3 L271.2 288.3 L274.0 290.7 L276.1 293.7M269.1 285.3 L269.1 285.3M276.1 293.7 L273.4 300.4M273.4 300.4 L269.9 301.3M255.6 306.9 L258.1 309.3 L260.9 311.5 L263.3 314.1M261.6 295.7 L260.2 299.7 L257.4 303.1 L255.6 306.9M261.6 295.7 L262.6 295.6M265.8 312.3 L266.4 308.4 L269.5 305.3 L269.9 301.3M282.5 281.7 L282.7 281.9M282.4 291.7 L276.1 293.7M282.5 281.7 L278.4 284.2 L273.6 284.2 L269.1 285.3M278.3 303.5 L273.4 300.4M277.9 313.3 L279.3 311.9M224.3 315.2 L225.9 311.8 L226.1 308.0 L226.7 304.3M242.6 315.9 L242.9 314.1M231.4 320.6 L224.3 315.2M232.3 303.2 L238.7 305.9M238.7 305.9 L242.9 314.1M255.6 306.9 L253.2 306.6M242.9 314.1 L246.3 311.5 L249.8 309.1 L253.2 306.6M246.9 228.7 L245.9 231.8M246.9 228.7 L242.4 221.7M245.9 231.8 L241.7 233.2 L237.2 232.9 L232.8 233.7M242.4 221.7 L233.7 222.7M233.7 222.7 L232.5 226.3 L233.6 230.1 L232.8 233.7M253.0 239.7 L256.7 237.5 L260.7 235.6 L263.7 232.3M259.1 222.3 L260.0 226.0 L262.6 228.8 L263.7 232.3M259.1 222.3 L255.0 224.3 L250.6 225.9 L246.9 228.7M249.3 238.5 L245.9 231.8M231.5 235.2 L232.8 233.7M229.5 217.7 L225.7 218.6 L222.8 221.0 L219.7 223.0M229.5 217.7 L233.7 222.7M295.4 239.8 L292.3 233.9M308.3 226.9 L306.8 225.1M306.8 225.1 L302.0 225.8 L297.8 228.5 L292.9 229.2M292.3 233.9 L292.9 229.2M294.4 267.8 L286.9 267.0M282.5 281.7 L279.6 273.9M286.9 267.0 L284.2 269.1 L281.7 271.3 L279.6 273.9M268.1 234.5 L268.3 243.3M263.7 232.3 L268.1 234.5M256.5 247.5 L260.5 249.5M268.3 243.3 L265.2 244.7 L262.6 246.8 L260.5 249.5M253.2 262.3 L261.0 259.0M261.0 259.0 L262.4 256.7M260.5 249.5 L262.4 256.7M248.3 284.2 L252.8 287.4M248.3 284.2 L240.3 287.7M254.5 291.6 L252.8 287.4M254.5 291.6 L248.5 299.4M240.3 287.7 L238.9 289.6M238.9 289.6 L240.3 293.1 L242.3 296.2 L244.9 299.0M248.5 299.4 L244.9 299.0M241.1 271.0 L234.6 276.5M248.6 279.6 L248.3 284.2M234.6 276.5 L236.2 280.4 L237.6 284.4 L240.3 287.7M261.6 295.7 L254.5 291.6M253.2 306.6 L248.5 299.4M238.7 305.9 L244.9 299.0M237.3 290.2 L238.9 289.6M259.1 273.8 L263.6 281.1M259.1 273.8 L265.4 268.2M265.4 268.2 L271.9 269.6M267.3 282.4 L263.6 281.1M267.3 282.4 L269.6 279.0 L270.9 275.1 L273.0 271.6M273.0 271.6 L271.9 269.6M252.8 287.4 L256.2 285.1 L259.7 282.7 L263.6 281.1M258.1 273.5 L259.1 273.8M261.0 259.0 L263.3 261.7 L264.7 264.8 L265.4 268.2M269.1 285.3 L267.3 282.4M279.6 273.9 L273.0 271.6M107.7 439.1 L112.0 437.8 L116.6 438.5 L120.8 437.0 L125.1 436.2M107.7 439.1 L106.1 441.5M106.1 441.5 L107.4 445.9 L110.1 449.5 L112.5 453.4M127.0 451.1 L122.3 451.9 L117.7 453.2 L113.0 453.6M127.0 451.1 L128.9 444.0M112.5 453.4 L113.0 453.6M128.9 444.0 L126.2 436.7M125.1 436.2 L126.2 436.7M107.2 424.9 L107.0 429.7 L108.6 434.3 L107.7 439.1M116.2 420.3 L118.0 424.5 L121.3 427.9 L123.4 431.9 L125.1 436.2M97.4 442.4 L106.1 441.5M101.4 459.6 L105.5 458.3 L108.4 454.8 L112.5 453.4M132.4 459.7 L129.4 462.7 L127.4 466.6 L124.6 469.7 L121.5 472.7M132.4 459.7 L129.8 457.4 L128.6 454.1 L127.0 451.1M115.0 468.2 L113.2 463.5 L112.4 458.6 L113.0 453.6M132.4 459.7 L138.6 461.5M145.9 442.1 L141.8 443.7 L137.5 443.7 L133.2 443.7 L128.9 444.0M147.7 447.6 L145.9 442.1M140.4 460.9 L138.6 461.5M147.7 447.6 L145.3 450.6 L144.1 454.3 L142.5 457.7 L140.4 460.9M147.2 439.4 L144.5 436.5 L144.1 432.1 L140.2 430.0 L138.9 426.2M136.9 425.7 L134.7 428.9 L130.6 430.3 L128.4 433.5 L126.2 436.7M145.9 442.1 L147.2 439.4M229.2 425.1 L236.0 425.8M244.3 436.7 L241.2 433.3 L238.6 429.6 L236.0 425.8M223.5 428.3 L229.2 425.1M244.3 436.7 L241.8 439.9 L241.1 443.9 L239.5 447.5M223.5 428.3 L222.9 433.1 L223.5 437.7 L225.1 442.3M225.1 442.3 L228.4 444.4 L232.5 444.3 L236.0 445.8 L239.5 447.5M280.2 428.8 L274.3 435.7M280.2 428.8 L280.6 425.1 L278.6 421.8 L278.3 418.2M278.3 418.2 L274.1 418.2 L270.0 418.7 L265.8 417.4 L261.7 418.8M274.3 435.7 L269.8 436.8 L265.2 436.0 L260.7 436.8M260.7 436.8 L258.4 434.7M258.4 434.7 L258.8 430.6 L259.1 426.5 L258.3 422.4M258.3 422.4 L261.7 418.8M291.6 450.4 L292.9 446.3 L292.2 441.8 L294.9 438.0 L295.1 433.7M295.1 433.7 L291.6 432.0 L287.6 431.5 L283.9 430.2 L280.2 428.8M279.9 449.7 L278.9 446.0 L276.8 442.8 L276.3 438.9 L274.3 435.7M295.1 433.7 L299.3 431.4M297.2 416.4 L298.7 420.1 L299.1 423.8 L299.5 427.6 L299.3 431.4M288.6 411.8 L297.2 416.4M288.6 411.8 L279.9 414.9M279.9 414.9 L278.3 418.2M260.4 451.7 L260.5 446.7 L259.8 441.7 L260.7 436.8M253.5 459.2 L249.9 457.2 L246.3 455.1 L243.2 452.4 L240.0 449.8M244.3 436.7 L249.0 436.0 L253.6 434.7 L258.4 434.7M239.5 447.5 L240.0 449.8M236.0 425.8 L239.9 423.7 L242.9 420.7 L245.1 417.0M245.1 417.0 L249.9 417.7 L254.0 420.3 L258.3 422.4M147.2 439.4 L153.7 436.2M153.6 419.6 L155.8 422.8M153.7 436.2 L154.4 431.7 L154.5 427.1 L155.8 422.8M166.4 472.9 L162.2 473.8 L158.2 474.9 L154.0 475.5M166.4 472.9 L167.2 468.7 L167.2 464.5 L165.8 460.4M154.0 475.5 L151.6 472.1 L151.0 468.1 L150.5 464.2M150.5 464.2 L155.0 462.5 L157.6 458.1 L162.0 456.4M165.8 460.4 L162.0 456.4M147.7 447.6 L151.6 448.1 L154.4 451.2 L158.6 451.3 L161.6 453.9M161.6 453.9 L162.0 456.4M140.4 460.9 L144.1 461.0 L147.2 463.0 L150.5 464.2M139.6 475.1 L142.9 477.7 L146.6 479.4 L150.6 480.4M139.6 475.1 L132.3 480.1M132.3 480.1 L135.0 484.5 L136.6 489.2 L137.4 494.1 L139.4 498.7 L140.0 503.7M138.6 461.5 L140.2 465.9 L138.0 470.7 L139.6 475.1M122.1 476.3 L125.7 477.1 L129.3 477.7 L132.3 480.1M154.6 495.9 L158.1 497.5 L161.8 498.6 L164.9 500.9 L167.9 503.3M194.7 495.5 L195.8 491.4 L194.7 487.4 L193.7 483.3 L194.6 479.2M194.7 495.5 L198.7 497.9 L203.0 499.6 L207.7 500.3 L211.5 503.1 L216.2 503.7M194.6 479.2 L198.5 477.8 L202.4 477.1 L206.4 476.9 L210.6 477.9 L214.4 476.1M214.4 476.1 L215.1 480.3 L215.6 484.6 L216.2 488.9 L217.2 493.0 L219.2 497.0M219.2 497.0 L216.2 503.7M206.5 520.3 L201.6 520.0 L196.7 519.1 L191.8 518.5 L186.8 518.3M216.5 505.4 L216.2 503.7M216.5 505.4 L214.7 509.6 L212.0 513.2 L209.4 516.9 L206.5 520.3M188.7 499.4 L194.7 495.5M168.7 484.6 L176.3 487.3M168.7 484.6 L167.3 481.0 L167.3 477.2 L167.0 473.4M176.3 487.3 L179.0 483.8 L182.8 481.3 L185.2 477.6M167.0 473.4 L171.5 473.6 L175.8 471.5 L180.3 472.5M180.3 472.5 L185.2 477.6M179.2 496.4 L176.3 487.3M154.6 495.9 L157.3 492.1 L161.4 490.0 L165.1 487.3 L168.7 484.6M166.4 472.9 L167.0 473.4M194.3 478.9 L185.2 477.6M194.6 479.2 L194.3 478.9M181.1 459.7 L180.1 463.9 L180.1 468.2 L180.3 472.5M180.8 459.2 L181.1 459.7M180.8 459.2 L177.1 460.2 L173.3 460.1 L169.6 460.6 L165.8 460.4M181.1 459.7 L185.7 460.2 L190.2 461.5 L194.8 461.8M194.3 478.9 L193.8 474.6 L195.6 470.4 L193.5 466.0 L194.8 461.8M650.8 389.6 L647.4 388.6 L644.6 386.0 L640.8 385.9M642.9 400.2 L639.6 396.7M640.8 385.9 L640.3 386.3M640.3 386.3 L640.3 389.8 L639.0 393.2 L639.6 396.7M628.3 402.2 L631.7 397.7M639.6 396.7 L631.7 397.7M615.8 326.6 L619.2 334.6M619.2 334.6 L616.1 337.3 L613.3 340.3 L611.4 344.0M611.4 344.0 L603.0 338.9M603.0 338.9 L600.7 334.9 L599.2 330.6 L598.8 325.9M623.6 402.6 L621.8 398.2 L617.7 395.5 L615.6 391.3M615.7 350.0 L617.7 359.4M615.7 350.0 L622.9 348.0M625.2 349.3 L622.9 348.0M625.2 349.3 L625.9 357.6M617.7 359.4 L623.3 360.1M625.9 357.6 L623.3 360.1M612.4 348.7 L615.7 350.0M611.4 344.0 L612.4 348.7M622.2 336.7 L619.2 334.6M622.2 336.7 L621.1 340.5 L621.5 344.3 L622.9 348.0M622.2 336.7 L631.9 336.6M634.3 346.8 L635.4 341.6M631.9 336.6 L635.4 341.6M634.3 346.8 L625.2 349.3M634.3 346.8 L638.8 353.6M633.4 358.8 L638.8 353.6M633.4 358.8 L625.9 357.6M633.4 358.8 L633.8 365.4M628.1 369.5 L625.5 368.5M625.5 368.5 L623.3 360.1M631.9 336.6 L633.2 333.1 L634.6 329.6 L635.6 326.0M615.8 326.6 L619.5 325.2 L622.8 323.4 L625.9 321.0M625.9 321.0 L628.8 323.3 L632.6 323.9 L635.6 326.0M635.4 341.6 L639.1 341.2 L642.9 340.8 L646.3 338.8M646.3 338.8 L648.2 334.9M648.2 334.9 L645.3 331.8 L643.9 327.5 L640.7 324.5M635.6 326.0 L640.7 324.5M685.8 309.1 L681.0 309.2 L676.5 310.7 L672.0 312.4M679.2 295.4 L675.5 296.3M675.5 296.3 L672.1 299.3 L670.6 303.4 L668.8 307.3M668.8 307.3 L672.0 312.4M680.0 325.5 L677.6 322.2 L674.2 319.9 L671.9 316.6M671.9 316.6 L672.0 312.4M654.2 333.7 L656.5 331.1 L657.5 327.5 L660.4 325.3M654.2 333.7 L656.4 336.9 L659.4 339.6 L661.6 342.8M669.5 333.9 L666.5 340.4M669.5 333.9 L666.2 331.4 L663.6 328.2 L660.8 325.3M660.8 325.3 L660.4 325.3M666.5 340.4 L661.6 342.8M677.2 332.2 L669.5 333.9M673.3 345.6 L666.5 340.4M671.9 316.6 L668.0 319.2 L664.5 322.4 L660.8 325.3M642.6 380.4 L639.7 374.8M642.6 380.4 L652.1 377.4M644.6 366.5 L648.4 367.7M641.4 368.5 L644.6 366.5M648.4 367.7 L649.8 370.9 L650.8 374.1 L652.1 377.4M656.0 379.9 L655.2 378.7M640.8 385.9 L642.6 380.4M655.2 378.7 L652.1 377.4M566.9 343.7 L570.8 348.3M566.9 343.7 L568.6 340.3 L571.0 337.2 L571.9 333.4M571.9 333.4 L576.9 339.4M576.9 339.4 L575.6 346.8M575.6 346.8 L570.8 348.3M557.2 341.6 L558.2 337.2 L560.3 333.2 L561.6 328.9 L563.8 325.0 L566.8 321.4 L568.3 317.2M558.4 344.1 L557.2 341.6M558.4 344.1 L566.9 343.7M583.3 339.8 L586.1 336.2 L586.3 331.4 L588.3 327.5 L589.8 323.3 L593.3 320.1 L594.7 315.8M583.3 339.8 L576.9 339.4M567.3 357.9 L571.0 356.4 L575.0 357.3 L578.7 355.9M567.3 357.9 L568.1 354.5 L570.4 351.8 L570.8 348.3M579.8 349.5 L578.7 355.9M579.8 349.5 L575.6 346.8M668.8 307.3 L659.6 305.2M659.6 305.2 L661.0 301.1 L660.5 296.8 L660.3 292.6M675.5 296.3 L668.4 290.3M660.3 292.6 L668.4 290.3M684.1 284.9 L680.8 282.8 L677.7 280.0 L673.1 280.0 L670.2 277.0M668.4 290.3 L669.6 285.9 L669.8 281.4 L670.2 277.0M670.2 277.0 L667.6 272.8 L665.0 268.6 L663.3 264.0 L660.0 260.2 L659.1 255.0 L655.5 251.5 L652.9 247.2 L650.5 243.0 L648.0 238.7 L645.5 234.5 L644.8 229.3 L641.0 225.8 L639.3 221.1 L637.4 216.5 L635.5 212.0 L631.0 208.8 L628.9 204.4 L626.4 200.2 L625.9 194.9 L622.3 191.2 L619.3 187.3 L618.7 182.0 L615.8 178.0 L613.3 173.8 L609.5 170.2 L607.0 166.0 L605.1 161.5 L604.3 156.2 L601.5 152.2 L598.7 148.1 L597.1 143.4 L593.4 139.8 L592.0 135.0 L588.6 131.3 L586.9 126.6 L583.5 122.9 L581.6 118.3 L579.1 114.1 L577.5 109.4 L573.9 105.7 L572.6 100.8 L569.8 96.7 L566.8 92.8 L565.4 88.0 L562.7 83.9M542.7 456.9 L546.8 454.3 L550.3 450.8 L554.4 448.2 L558.3 445.3M606.9 420.3 L602.7 421.7 L598.1 421.8 L594.2 424.1 L590.0 425.5 L585.6 426.2 L581.2 426.9 L577.4 429.5 L573.0 430.4M516.9 460.0 L517.2 456.3 L520.7 454.1 L521.1 450.6M534.1 454.5 L533.2 452.2M521.1 450.6 L525.0 452.2 L529.0 452.8 L533.2 452.2M558.3 445.3 L553.8 444.6 L549.2 444.0 L544.5 445.1 L540.0 443.4 L535.4 443.4M533.2 452.2 L535.4 443.4M497.3 466.3 L500.3 458.2M512.8 460.3 L508.1 456.5M500.3 458.2 L508.1 456.5M517.0 443.3 L508.8 445.8M521.1 450.6 L517.0 443.3M508.1 456.5 L508.2 452.9 L507.6 449.3 L508.8 445.8M412.3 507.8 L410.5 504.5 L409.1 501.2 L408.3 497.5M412.3 507.8 L409.4 511.1 L406.2 514.2 L403.9 518.1M403.9 518.1 L401.6 514.3 L399.4 510.4 L397.1 506.6 L393.9 503.4M408.3 497.5 L404.9 498.0 L401.4 497.3 L398.0 498.2M398.0 498.2 L393.9 503.4M423.2 509.5 L419.5 509.4 L415.9 508.3 L412.3 507.8M412.3 493.1 L408.3 497.5M412.3 524.3 L403.8 521.5M403.8 521.5 L403.9 518.1M399.8 477.9 L404.9 477.8M393.4 483.7 L399.8 477.9M393.4 483.7 L393.7 487.6 L395.5 491.0 L397.6 494.3 L398.0 498.2M383.2 483.3 L386.6 483.4 L390.0 482.4 L393.4 483.7M383.2 483.3 L381.7 488.0 L382.3 493.1 L380.2 497.6M386.2 505.1 L393.9 503.4M402.5 522.6 L398.8 524.1 L395.0 523.4 L391.2 523.3 L387.5 523.3M402.5 522.6 L401.5 526.9 L401.2 531.2 L401.1 535.6M401.1 535.6 L398.3 538.3 L394.4 539.3 L391.2 541.4M385.1 525.9 L387.5 523.3M385.1 525.9 L386.4 530.3 L384.4 534.9 L385.7 539.3M385.7 539.3 L391.2 541.4M403.8 521.5 L402.5 522.6M384.2 508.8 L385.1 513.7 L386.0 518.6 L387.5 523.3M408.2 541.1 L401.1 535.6M395.9 552.0 L394.8 548.3 L391.6 545.5 L391.2 541.4M370.9 512.9 L372.0 516.7 L369.8 520.4 L370.5 524.2M370.5 524.2 L375.5 523.6 L380.3 525.1 L385.1 525.9M365.3 537.9 L366.4 528.0M366.4 528.0 L370.5 524.2M380.8 542.0 L385.7 539.3M287.7 312.0 L290.0 317.1M278.9 325.1 L287.1 324.2M287.1 324.2 L290.0 317.1M288.4 336.5 L291.2 328.2M287.1 324.2 L291.2 328.2M300.4 338.7 L298.0 335.7 L297.1 332.2 L296.8 328.5M291.2 328.2 L296.8 328.5M309.9 330.2 L310.5 334.7M309.9 330.2 L306.8 328.7 L305.2 325.3 L301.9 324.1M296.8 328.5 L301.9 324.1M274.7 353.1 L275.7 361.7M287.6 360.8 L285.4 363.1M285.4 363.1 L275.7 361.7M299.2 373.0 L300.3 370.0M299.2 373.0 L295.3 373.4 L291.3 373.5 L287.3 373.4M285.4 363.1 L286.6 366.5 L285.4 370.2 L287.3 373.4M258.8 368.4 L262.1 372.8M262.1 372.8 L265.8 372.0 L269.5 372.0 L273.2 372.9M260.7 361.8 L265.4 361.0 L270.0 361.7 L274.5 362.9M273.2 372.9 L273.3 369.5 L275.0 366.4 L274.5 362.9M274.5 362.9 L275.7 361.7M323.9 332.7 L323.7 328.5 L320.6 325.3 L319.5 321.4M309.9 330.2 L311.7 326.8 L314.4 324.1 L317.4 321.7M317.4 321.7 L319.5 321.4M322.1 288.5 L325.8 289.0 L329.7 288.8 L333.5 289.4 L336.9 291.4M322.1 288.5 L320.1 296.0M320.1 296.0 L325.5 301.2M325.5 301.2 L334.3 298.6M334.3 298.6 L336.9 291.4M337.5 304.9 L332.1 311.4M332.1 311.4 L325.1 308.9M325.1 308.9 L325.5 301.2M337.5 304.9 L334.3 298.6M321.4 311.2 L320.2 320.8M320.2 320.8 L323.9 319.5 L327.6 321.4 L331.4 320.9M325.1 308.9 L321.4 311.2M332.1 311.4 L334.5 317.5M334.5 317.5 L331.4 320.9M320.2 320.8 L319.5 321.4M328.5 332.9 L332.3 329.0M331.4 320.9 L332.3 329.0M461.2 460.5 L455.5 453.8M440.4 454.3 L440.8 453.5M455.5 453.8 L450.6 455.0 L445.7 454.4 L440.8 453.5M336.9 291.4 L338.8 290.0M320.4 284.1 L322.1 288.5M324.2 277.3 L328.9 278.1 L333.8 278.0 L338.4 279.4 L343.1 280.2M338.8 290.0 L341.2 287.2 L340.9 283.1 L343.1 280.2M328.0 265.9 L334.5 264.3M334.5 264.3 L338.4 266.8 L340.3 271.0 L342.7 275.0 L346.6 277.4M327.6 247.5 L328.0 249.6M327.6 247.5 L330.1 244.8 L333.3 242.7 L335.2 239.4M328.0 249.6 L331.5 251.2 L333.8 254.5 L337.0 256.5M335.2 239.4 L340.2 238.9M340.2 238.9 L340.9 242.8 L342.4 246.3 L345.3 249.2 L346.2 253.0M346.2 253.0 L337.0 256.5M318.0 242.7 L321.0 244.7 L324.1 246.6 L327.6 247.5M321.0 260.0 L323.0 256.3 L325.2 252.8 L328.0 249.6M325.0 228.2 L321.6 230.2M325.0 228.2 L327.1 231.4 L329.3 234.5 L331.8 237.3 L335.2 239.4M334.5 264.3 L337.0 256.5M399.2 173.0 L394.9 175.8 L392.3 180.0 L388.5 183.2 L385.3 186.9 L382.9 191.4 L379.4 194.8 L376.5 198.8 L372.4 201.8 L369.1 205.4 L365.7 209.0 L363.3 213.4 L360.3 217.4 L357.2 221.1 L353.4 224.4 L349.7 227.7 L346.4 231.2 L343.9 235.6 L340.2 238.9M325.0 228.2 L326.0 223.8 L327.7 219.7 L329.1 215.5 L333.0 212.4 L333.1 207.6 L334.9 203.6 L337.0 199.7M380.0 265.2 L375.8 263.6 L371.2 263.1 L367.5 260.2 L362.9 259.6 L358.7 258.2 L354.5 256.5 L350.0 255.7 L346.2 253.0M405.4 257.2 L403.0 261.5 L401.0 266.0 L399.7 270.8 L397.2 275.1 L394.2 279.1 L393.3 284.1 L391.5 288.7 L389.0 293.0 L386.7 297.3 L383.2 301.1 L382.2 306.0M365.6 302.4 L367.9 298.4 L369.9 294.3 L371.7 290.1 L374.1 286.2 L376.9 282.5 L378.7 278.3 L381.2 274.5 L383.9 270.7 L387.2 267.4 L389.2 263.3M365.6 302.4 L369.3 310.6M382.2 306.0 L378.5 307.3 L376.2 310.7 L372.4 311.7M369.3 310.6 L372.4 311.7M177.5 260.9 L183.3 261.4M181.8 279.5 L185.7 276.8 L188.0 272.4 L191.9 269.7M183.3 261.4 L186.5 263.9 L188.4 267.6 L191.9 269.7M194.0 282.7 L198.4 276.2M198.4 276.2 L192.1 269.7M191.9 269.7 L192.1 269.7M174.1 215.7 L176.9 219.1 L180.0 222.1 L183.0 225.3 L186.8 227.7 L189.1 231.6 L192.7 234.2 L196.6 236.5 L198.9 240.4M210.0 229.0 L208.6 233.1 L206.7 236.9 L203.4 239.8M198.9 240.4 L203.4 239.8M216.1 244.7 L212.6 247.1M203.4 239.8 L205.7 243.2 L209.1 245.3 L212.6 247.1M231.6 202.6 L225.9 204.2M231.6 202.6 L237.7 207.6M229.6 217.0 L227.6 214.0 L226.3 210.6 L223.9 207.9M229.6 217.0 L232.0 214.5 L234.2 211.7 L237.7 210.4M223.9 207.9 L225.9 204.2M237.7 210.4 L237.7 207.6M234.0 195.9 L230.3 192.0M230.3 192.0 L221.2 195.2M234.0 195.9 L231.6 202.6M221.2 195.2 L221.8 198.7 L224.1 201.3 L225.9 204.2M245.2 199.0 L241.4 194.9M234.0 195.9 L241.4 194.9M245.2 201.1 L245.2 199.0M245.2 201.1 L237.7 207.6M214.1 209.5 L223.9 207.9M229.5 217.7 L229.6 217.0M244.7 215.5 L242.4 221.7M244.7 215.5 L237.7 210.4M219.1 194.2 L221.2 195.2M214.7 173.5 L212.1 171.1M212.1 171.1 L209.8 170.8M209.9 186.9 L212.1 184.0 L214.5 181.2 L215.2 177.4M215.2 177.4 L214.7 173.5M192.9 186.1 L196.4 183.2 L200.4 180.8 L203.7 177.6 L206.9 174.3 L209.8 170.8M261.2 140.2 L260.4 136.2 L257.4 133.0 L256.4 129.0 L254.5 125.4 L254.0 121.2M261.2 140.2 L263.0 143.2 L264.1 146.6 L267.2 148.7M267.2 148.7 L271.5 148.1 L275.3 145.6 L279.9 145.7 L283.8 143.5 L288.0 142.2M288.0 142.2 L288.4 137.5 L290.0 133.1 L292.2 128.9 L294.4 124.7 L293.8 119.6 L296.0 115.4M296.0 115.4 L291.6 113.4 L287.5 110.8 L282.9 109.3 L279.7 105.1 L274.7 104.3 L270.7 101.5M270.7 101.5 L267.0 103.0 L263.7 105.3 L260.6 108.2 L256.5 109.0M256.5 109.0 L255.6 113.1 L253.9 117.0 L254.0 121.2M242.2 143.1 L247.1 143.4 L251.7 141.5 L256.5 141.2 L261.2 140.2M242.2 143.1 L241.4 138.6 L238.7 135.1 L236.5 131.4M236.5 131.4 L239.6 128.6 L243.0 126.4 L247.4 126.0 L251.0 124.0 L254.0 121.2M241.2 145.3 L245.8 153.5M242.2 143.1 L241.2 145.3M265.1 153.6 L267.2 148.7M304.5 160.4 L301.1 156.8 L297.1 153.8 L294.0 150.1 L290.6 146.5 L288.0 142.2M371.6 152.8 L366.8 153.6 L362.1 155.0 L357.1 153.6 L352.3 154.0 L347.7 156.5 L342.7 155.0 L337.9 155.7 L333.2 156.6 L328.5 158.3 L323.8 159.3 L318.8 157.8 L314.0 158.6 L309.4 160.5 L304.5 160.4M312.0 110.8 L307.8 111.1 L303.7 112.0 L299.8 113.5 L296.0 115.4M312.0 110.8 L316.1 113.4 L320.2 116.0 L323.5 119.7 L328.2 121.5 L332.2 124.3 L336.0 127.3 L340.1 129.9 L344.3 132.5 L347.1 136.9 L351.7 138.8 L356.4 140.6 L360.1 143.7 L364.2 146.4 L366.9 151.0 L371.6 152.8M312.0 110.8 L313.4 106.0 L314.9 101.2 L314.7 96.0 L315.2 91.0 L317.6 86.4 L317.8 81.4 L320.6 76.9 L320.2 71.7 L321.9 66.9 L323.6 62.2 L324.0 57.2 L324.2 52.1 L327.0 47.6 L326.2 42.3 L327.1 37.4 L330.7 33.1 L331.0 28.0 L330.4 22.8 L332.8 18.2 L332.8 13.1 L334.2 8.3 L335.5 3.4 L337.2 -1.3 L337.5 -6.3 L338.6 -11.2 L339.8 -16.0 L342.7 -20.5 L343.1 -25.5 L342.5 -30.8 L344.3 -35.5 L344.6 -40.6 L347.8 -45.0 L348.7 -49.9 L349.4 -54.9 L351.3 -59.5 L351.1 -64.7 L353.1 -69.4 L353.6 -74.4 L353.5 -79.5 L355.6 -84.1 L356.6 -89.1 L358.5 -93.7 L358.1 -98.9 L359.0 -103.9 L361.8 -108.4 L361.0 -113.6 L362.5 -118.4 L365.4 -122.9 L364.8 -128.1 L365.4 -133.1 L368.6 -137.5 L369.8 -142.4 L369.1 -147.7 L370.1 -152.6 L372.8 -157.1 L373.0 -162.1 L373.1 -167.2 L375.7 -171.8 L376.0 -176.8 L377.5 -181.6 L378.6 -186.5 L378.8 -191.5 L381.6 -196.0 L381.2 -201.2 L383.7 -205.8 L383.6 -210.9 L384.1 -215.9 L385.9 -220.7 L387.2 -225.5 L388.6 -230.3 L389.8 -235.1 L391.5 -239.9 L390.6 -245.2 L392.1 -250.0 L392.6 -255.0 L395.0 -259.6 L395.9 -264.5 L397.1 -269.3 L397.3 -274.4 L400.0 -278.9 L400.5 -283.9 L401.9 -288.7 L402.8 -293.6 L403.2 -298.6 L403.4 -303.7 L406.9 -308.1 L407.2 -313.1 L407.3 -318.2 L409.1 -322.9 L410.1 -327.8 L410.1 -332.9 L411.6 -337.7 L414.3 -342.2 L415.3 -347.1 L414.7 -352.4 L417.7 -356.8 L417.2 -362.0 L419.0 -366.8 L420.9 -371.4 L421.0 -376.5 L421.6 -381.5 L423.5 -386.2 L423.4 -391.3 L426.5 -395.8 L426.1 -401.0 L428.2 -405.6 L427.6 -410.9 L429.9 -415.5 L431.5 -420.3 L431.8 -425.3 L432.3 -430.3 L434.0 -435.0 L434.7 -440.0 L435.4 -445.0 L438.4 -449.4 L438.5 -454.5 L440.1 -459.2 L439.6 -464.5 L440.6 -469.4 L442.9 -474.0 L443.4 -479.0 L444.9 -483.8 L446.8 -488.4 L446.9 -493.5 L447.7 -498.5 L448.7 -503.4 L450.8 -508.0 L451.7 -512.9 L452.3 -517.9 L453.1 -522.9 L455.4 -527.5 L456.3 -532.4 L455.7 -537.6 L458.3 -542.2 L459.2 -547.1 L461.3 -551.7 L461.1 -556.9 L462.5 -561.7 L462.2 -566.9 L463.8 -571.6 L466.7 -576.1 L467.1 -581.1 L467.6 -586.1 L468.0 -591.2 L470.0 -595.8 L470.4 -600.9 L472.6 -605.5 L472.3 -610.7 L475.4 -615.1 L475.8 -620.1 L476.3 -625.1 L476.7 -630.2 L479.3 -634.7 L480.3 -639.6 L480.0 -644.8 L480.9 -649.7 L483.0 -654.3 L483.8 -659.3 L486.3 -663.8 L487.3 -668.7 L488.0 -673.7 L489.2 -678.5 L490.7 -683.3 L491.4 -688.3 L491.2 -693.4 L493.2 -698.1 L492.6 -703.4 L495.4 -707.8 L497.3 -712.5 L496.0 -717.9 L498.9 -722.4 L498.6 -727.6 L501.5 -732.1 L501.0 -737.3 L503.5 -741.8 L502.7 -747.1 L504.6 -751.8 L506.8 -756.5 L508.2 -761.3 L508.8 -766.3 L508.7 -771.4 L510.7 -776.0 L511.1 -781.1 L512.1 -786.0 L512.2 -791.1 L513.5 -795.9 L516.2 -800.4 L516.9 -805.4 L518.5 -810.1 L519.3 -815.1 L519.1 -820.2 L519.9 -825.2 L521.3 -830.0 L523.5 -834.6 L525.2 -839.3 L524.5 -844.6 L526.7 -849.2 L527.8 -854.1 L529.0 -858.9 L529.3 -864.0 L529.8 -869.0 L532.5 -873.5 L531.9 -878.8 L533.4 -883.6 L535.0 -888.3 L535.3 -893.4 L537.9 -897.9 L538.6 -902.8 L538.7 -908.0 L541.8 -912.4 L540.5 -917.8 L542.3 -922.5 L545.0 -927.0 L546.1 -931.9 L547.1 -936.8 L546.9 -941.9 L547.6 -946.9 L549.2 -951.6 L550.1 -956.6 L552.7 -961.1 L553.6 -966.0 L554.7 -970.9 L553.9 -976.2 L556.0 -980.8 L555.8 -986.0 L558.5 -990.5 L558.4 -995.6 L560.6 -1000.3 L561.9 -1005.1 L562.1 -1010.2 L564.4 -1014.8 L564.6 -1019.8 L566.5 -1024.5 L566.7 -1029.6 L566.8 -1034.7 L567.8 -1039.6 L569.6 -1044.3 L571.0 -1049.1 L573.4 -1053.7 L573.0 -1058.9 L575.0 -1063.6 L576.6 -1068.3 L576.0 -1073.6 L577.7 -1078.3 L578.6 -1083.2 L578.7 -1088.3 L581.1 -1092.9 L582.0 -1097.8 L584.1 -1102.4 L585.1 -1107.3 L585.8 -1112.3 L586.8 -1117.2 L586.8 -1122.3 L588.6 -1127.0 L589.4 -1132.0 L591.8 -1136.6 L590.8 -1141.9 L592.6 -1146.6 L594.5 -1151.3 L594.4 -1156.4 L595.4 -1161.3 L598.0 -1165.9 L598.4 -1170.9 L598.7 -1175.9 L600.9 -1180.6 L601.0 -1185.7 L602.7 -1190.4 L603.1 -1195.4 L604.1 -1200.3 L605.6 -1205.1 L607.4 -1209.8 L607.8 -1214.9 L609.4 -1219.6 L609.6 -1224.7 L612.2 -1229.2 L611.6 -1234.5 L613.4 -1239.2 L614.6 -1244.0 L617.0 -1248.6 L617.8 -1253.5 L618.4 -1258.5 L618.3 -1263.7 L620.7 -1268.2 L621.0 -1273.3 L622.4 -1278.1 L622.8 -1283.1 L623.7 -1288.1 L624.8 -1292.9 L627.2 -1297.5 L627.2 -1302.6 L628.6 -1307.4 L630.6 -1312.1 L631.3 -1317.0 L631.5 -1322.1 L633.9 -1326.7 L634.6 -1331.7 L635.4 -1336.6 L636.6 -1341.4 L636.8 -1346.5 L638.5 -1351.3 L640.9 -1355.8 L640.3 -1361.1 L643.1 -1365.6 L642.1 -1370.9 L643.4 -1375.7 L645.9 -1380.3 L646.6 -1385.3 L646.9 -1390.3 L647.9 -1395.2 L648.8 -1400.1 L650.5 -1404.9 L651.6 -1409.7 L651.7 -1414.8 L654.3 -1419.3 L654.6 -1424.4 L656.6 -1429.1 L657.6 -1434.0 L657.8 -1439.0 L658.5 -1444.0 L659.5 -1448.9 L660.8 -1453.7 L663.3 -1458.3 L662.4 -1463.6 L664.8 -1468.2 L665.7 -1473.1 L666.4 -1478.0 L668.4 -1482.7 L669.7 -1487.5 L670.3 -1492.5 L671.8 -1497.3 L672.7 -1502.2 L672.8 -1507.3 L673.8 -1512.2 L675.6 -1516.9 L676.1 -1521.9 L677.8 -1526.7 L677.6 -1531.8 L680.6 -1536.3 L680.4 -1541.4 L681.1 -1546.4 L682.0 -1551.3 L683.3 -1556.1 L684.7 -1560.9 L685.6 -1565.8 L688.5 -1570.3 L689.0 -1575.3 L690.8 -1580.0 L691.6 -1585.0 L692.5 -1589.9 L693.8 -1594.7 L692.9 -1600.0 L694.4 -1604.8 L696.5 -1609.5 L696.2 -1614.6 L697.4 -1619.5 L699.4 -1624.2 L700.4 -1629.1 L700.9 -1634.1 L703.3 -1638.6 L703.6 -1643.7 L704.2 -1648.7 L705.1 -1653.6 L707.2 -1658.2 L708.3 -1663.1 L709.5 -1668.0 L710.4 -1672.9 L710.7 -1677.9 L712.8 -1682.6 L714.7 -1687.3 L715.0 -1692.3 L716.7 -1697.0 L718.0 -1701.9 L719.2 -1706.7 L718.8 -1711.9 L720.0 -1716.8 L720.4 -1721.8 L723.7 -1726.2 L723.9 -1731.2 L723.4 -1736.5 L726.9 -1740.8 L726.8 -1745.9 L726.8 -1751.1 L729.2 -1755.7 L729.0 -1760.8 L730.0 -1765.7 L731.6 -1770.5 L734.3 -1775.0 L735.2 -1779.9 L735.3 -1785.0 L736.5 -1789.8 L737.1 -1794.8 L738.9 -1799.5 L740.6 -1804.3 L741.0 -1809.3 L742.8 -1814.0 L743.4 -1819.0 L744.6 -1823.8 L745.0 -1828.9 L747.0 -1833.5 L747.3 -1838.6 L748.5 -1843.4 L749.9 -1848.2 L751.0 -1853.1 L751.1 -1858.2 L752.6 -1863.0 L754.6 -1867.7 L755.5 -1872.6 L756.9 -1877.4 L758.2 -1882.2 L757.5 -1887.5 L760.4 -1891.9 L761.0 -1896.9 L761.8 -1901.9 L763.6 -1906.6 L764.9 -1911.4 L764.0 -1916.7 L765.1 -1921.6 L767.7 -1926.1 L767.4 -1931.3 L769.3 -1936.0 L771.0 -1940.7 L772.3 -1945.6 L773.7 -1950.4 L773.0 -1955.7 L774.9 -1960.4 L776.3 -1965.1 L775.7 -1970.4 L779.1 -1974.7 L780.0 -1979.7 L781.0 -1984.6 L781.3 -1989.6 L782.2 -1994.5 L782.6 -1999.6 L784.7 -2004.2 L785.7 -2009.1 L786.1 -2014.1 L787.3 -2019.0 L789.4 -2023.6 L789.2 -2028.8 L790.3 -2033.6 L792.4 -2038.3 L794.4 -2043.0 L794.2 -2048.1 L796.3 -2052.8 L796.5 -2057.9M280.6 -34.0 L279.5 -29.2 L279.7 -24.3 L280.5 -19.4 L279.0 -14.6 L279.9 -9.7 L277.5 -5.0 L278.5 -0.1 L278.3 4.8 L278.6 9.7 L277.7 14.5 L277.5 19.3 L276.4 24.1 L275.7 28.9 L275.0 33.7 L275.0 38.6 L276.1 43.5 L274.6 48.3 L275.6 53.2 L274.5 58.0 L274.2 62.8 L273.4 67.6 L271.7 72.4 L272.6 77.3 L273.0 82.2 L272.2 87.0 L272.2 91.9 L270.7 96.6 L270.7 101.5M226.6 96.3 L231.3 97.1 L235.6 98.9 L239.6 101.3 L243.5 104.0 L247.9 105.5 L252.2 107.3 L256.5 109.0M241.2 145.3 L233.4 148.2M240.7 156.8 L235.8 155.9M235.8 155.9 L233.4 148.2M234.1 131.7 L236.5 131.4M234.1 131.7 L231.6 136.0 L231.3 141.0 L229.8 145.7M233.4 148.2 L229.8 145.7M195.5 133.4 L200.9 140.6M195.5 133.4 L193.6 137.7 L191.8 142.1 L190.2 146.6M200.9 140.6 L199.7 147.4M199.7 147.4 L193.0 149.6M190.2 146.6 L193.0 149.6M186.2 146.5 L190.2 146.6M194.8 130.1 L195.5 133.4M190.7 156.6 L192.9 154.6M192.9 154.6 L193.0 149.6M223.1 146.4 L219.8 142.7M223.1 146.4 L216.3 153.1M209.3 150.2 L216.3 153.1M209.3 150.2 L210.3 145.6M219.8 142.7 L210.3 145.6M203.2 124.3 L206.8 126.9 L209.6 130.3 L212.0 133.9M200.9 140.6 L208.0 141.9M212.0 133.9 L208.0 141.9M264.1 170.3 L264.1 170.0M265.9 173.4 L274.1 178.2M264.1 170.3 L265.9 173.4M304.5 160.4 L302.7 164.5 L299.2 167.8 L297.0 171.7 L295.5 176.1M274.1 178.2 L278.4 177.6 L282.6 176.4 L286.9 176.6 L291.1 175.5 L295.5 176.1M260.8 748.4 L260.8 741.2M246.8 741.3 L247.3 744.8 L246.7 748.5 L247.8 751.9M246.8 741.3 L250.5 737.3M260.8 741.2 L257.4 739.8 L253.9 738.6 L250.5 737.3M250.5 737.3 L249.8 731.1M249.8 731.1 L246.5 728.8 L242.4 728.6 L238.9 727.1M246.8 741.3 L242.1 740.9 L237.4 741.3 L232.9 739.6 L228.3 738.2 L223.6 737.9 L218.9 738.0M238.9 727.1 L235.3 730.0 L231.3 732.3 L227.0 733.9 L222.4 734.8 L218.9 738.0M179.6 748.3 L183.7 745.8 L187.0 742.2 L191.0 739.5 L195.3 737.2 L199.4 734.8 L203.1 731.8 L206.7 728.6 L211.2 726.7 L214.2 722.6 L219.3 721.6 L223.4 719.0 L227.3 716.2 L230.2 712.1 L234.5 709.9M238.9 727.1 L240.3 722.7 L241.7 718.3 L242.5 713.7M242.5 713.7 L234.5 709.9M214.8 701.0 L219.3 700.8 L223.7 702.2 L228.2 702.7 L232.7 701.6M234.5 709.9 L232.7 701.6M223.7 685.4 L226.3 688.4 L230.1 689.5 L233.2 691.5 L236.7 693.0M232.7 701.6 L236.7 693.0M243.3 677.1 L242.4 681.0 L240.6 684.6 L239.4 688.5 L238.4 692.3M236.7 693.0 L238.4 692.3M260.8 741.2 L263.4 738.9 L266.5 737.1 L268.7 734.3M268.7 734.3 L273.6 738.0M264.0 752.0 L267.8 752.4 L270.9 749.8 L274.6 749.7M273.6 738.0 L274.5 741.9 L274.5 745.8 L274.6 749.7M278.6 761.1 L280.8 754.5M274.6 749.7 L280.8 754.5M295.2 760.8 L291.6 758.5 L289.9 754.4 L286.3 752.1M286.3 752.1 L280.8 754.5M226.1 538.4 L225.1 542.9 L222.1 546.6 L221.6 551.2 L219.4 555.3 L218.1 559.6M226.1 538.4 L222.2 535.9 L217.7 535.2 L213.7 533.1 L209.3 531.9M209.3 531.9 L206.9 535.8 L203.4 538.8 L200.9 542.6 L197.0 545.1 L194.7 549.2M218.1 559.6 L214.0 558.5 L210.1 556.9 L206.4 554.9 L202.4 553.4 L199.1 550.5 L194.9 549.8M194.9 549.8 L194.7 549.2M228.1 537.7 L226.1 538.4M220.6 564.7 L218.1 559.6M216.5 505.4 L220.1 508.2 L224.5 509.4 L228.6 511.4 L231.8 514.6 L235.5 517.2M206.5 520.3 L206.2 524.5 L208.6 528.0 L209.3 531.9M181.9 538.1 L185.9 540.0 L189.1 542.7 L192.2 545.7 L194.7 549.2M187.4 565.3 L188.9 561.2 L192.1 558.0 L192.1 553.2 L194.9 549.8M252.8 463.8 L248.6 464.4 L246.0 468.3 L242.1 469.4 L238.7 471.6 L234.6 472.4M252.8 463.8 L253.8 468.0 L252.3 472.4 L255.2 476.5 L254.4 480.8M254.4 480.8 L250.6 481.9 L248.0 485.0 L244.3 486.4 L241.1 488.4M234.6 472.4 L235.0 476.8 L237.4 480.5 L239.2 484.5 L241.0 488.4M241.0 488.4 L241.1 488.4M253.6 462.3 L252.8 463.8M271.2 480.3 L265.8 485.0M265.8 485.0 L261.6 484.8 L258.0 482.9 L254.4 480.8M265.8 485.0 L266.4 489.1 L265.7 493.1 L266.6 497.2 L265.6 501.2 L265.4 505.2M249.0 502.7 L246.9 499.2 L244.0 496.2 L244.1 491.4 L241.1 488.4M219.2 497.0 L224.0 496.4 L228.0 493.7 L232.6 492.6 L236.9 490.9 L241.0 488.4M225.0 623.2 L221.4 625.8 L217.2 627.5 L213.7 630.2 L210.5 633.4M225.0 623.2 L230.4 627.3M230.4 627.3 L230.8 631.6 L230.7 635.8 L229.6 639.9M229.6 639.9 L227.0 643.1 L223.3 644.9 L219.7 646.7M210.5 633.4 L210.6 637.2 L211.8 640.5 L214.0 643.6M214.0 643.6 L219.7 646.7M223.2 617.3 L225.0 623.2M202.5 629.3 L210.5 633.4M241.6 625.3 L237.7 625.0 L234.0 625.9 L230.4 627.3M239.7 645.8 L236.9 642.8 L233.6 640.9 L229.6 639.9M222.2 658.8 L221.6 654.7 L219.3 651.0 L219.7 646.7M180.0 662.6 L183.9 659.7 L188.6 658.0 L192.8 655.5 L196.8 652.9 L201.8 651.7 L205.1 647.7 L209.3 645.2 L214.0 643.6M275.2 620.1 L276.2 617.0M268.5 592.9 L269.0 593.3M276.2 617.0 L274.6 612.3 L273.2 607.5 L270.8 603.1 L271.5 597.7 L269.0 593.3M303.2 453.6 L305.8 449.8 L310.3 447.8 L312.9 443.9M319.7 465.1 L321.9 462.4 L323.7 459.5 L324.3 455.9M312.1 465.6 L319.7 465.1M324.3 455.9 L321.8 452.5 L318.3 450.1 L316.0 446.6 L312.9 443.9M303.5 432.0 L299.3 431.4M303.5 432.0 L306.0 435.6 L309.0 438.6 L312.9 440.7M312.9 443.9 L312.9 440.7M411.4 465.9 L407.9 459.1M394.0 465.8 L396.2 463.1 L399.3 461.3 L400.6 457.9M394.0 465.8 L396.7 469.4 L398.4 473.6 L399.8 477.9M407.9 459.1 L400.6 457.9M426.2 459.6 L423.6 456.4 L421.7 452.9 L419.9 449.3M439.1 446.2 L440.8 453.5M439.1 446.2 L434.7 445.0 L430.5 443.3 L426.2 441.9M426.2 441.9 L419.9 449.3M407.9 459.1 L409.4 455.1 L413.8 453.3 L415.5 449.4M419.9 449.3 L415.5 449.4M394.0 465.8 L384.8 464.3M383.2 483.3 L377.0 478.2M384.8 464.3 L382.0 467.3 L380.2 470.8 L379.6 475.1 L377.0 478.2M365.7 498.1 L363.3 493.7M363.3 493.7 L366.4 490.1 L369.2 486.1 L372.7 482.8 L374.5 478.1M377.0 478.2 L374.5 478.1M384.8 464.3 L381.0 456.5M381.0 456.5 L381.8 453.6M400.6 457.9 L397.7 454.3 L396.8 449.7 L394.7 445.7M381.8 453.6 L384.7 451.1 L388.3 449.7 L391.3 447.4 L394.7 445.7M407.8 441.8 L410.1 444.6 L412.1 447.7 L415.5 449.4M407.8 441.8 L403.4 442.8 L399.3 444.6 L394.8 445.3M394.7 445.7 L394.8 445.3M374.5 478.1 L371.1 474.8 L366.3 473.5 L363.2 469.8M359.1 492.2 L358.4 488.1 L355.1 485.4 L354.7 481.2 L352.1 478.1M363.3 493.7 L359.1 492.2M352.1 478.1 L356.4 476.1 L360.2 473.5 L363.2 469.8M310.6 364.8 L312.8 367.4 L314.1 370.7 L316.6 373.1M323.5 361.9 L322.4 370.0M322.4 370.0 L316.6 373.1M314.4 377.9 L315.4 377.4M300.7 375.8 L299.2 373.0M315.4 377.4 L316.6 373.1M329.6 358.3 L333.9 359.0M332.6 373.6 L329.2 372.3 L325.8 371.2 L322.4 370.0M332.6 373.6 L333.6 372.5M333.6 372.5 L332.5 368.0 L333.6 363.5 L333.9 359.0M338.9 351.3 L337.8 343.8M337.8 343.8 L334.6 342.8M338.9 351.3 L335.6 357.9M333.9 359.0 L335.6 357.9M219.3 335.7 L223.0 334.0 L227.0 332.9 L231.2 332.7M207.8 324.3 L211.6 326.3 L213.3 330.3 L216.3 332.9 L219.3 335.7M207.8 324.3 L208.0 321.2M224.3 315.2 L219.7 316.7 L215.1 318.2 L210.4 319.3M208.0 321.2 L210.4 319.3M180.5 340.3 L184.9 339.2 L189.4 338.5 L194.0 338.8M207.8 324.3 L204.1 326.3 L203.1 330.9 L200.2 333.7 L195.8 335.0 L194.0 338.8M196.0 314.9 L202.6 316.8M208.0 321.2 L202.6 316.8M200.3 298.6 L202.8 299.6M202.6 316.8 L201.9 312.5 L203.3 308.2 L201.9 303.9 L202.8 299.6M237.7 262.9 L228.7 264.6M228.1 250.8 L226.9 254.3 L225.2 257.6 L222.7 260.5M228.7 264.6 L222.7 260.5M211.2 252.3 L212.6 247.1M211.2 252.3 L215.2 254.6 L218.5 257.8 L222.2 260.5M222.7 260.5 L222.2 260.5M199.9 287.8 L206.0 285.9M198.4 276.2 L200.3 275.9M206.0 285.9 L206.8 281.4M200.3 275.9 L206.8 281.4M244.7 410.5 L241.9 407.9 L239.0 405.3 L235.2 404.2 L232.3 401.6M245.1 417.0 L244.7 410.5M229.2 425.1 L228.9 420.3 L228.7 415.5 L228.0 410.8 L227.4 406.0M227.4 406.0 L232.3 401.6M211.9 426.2 L215.6 427.6 L219.4 428.8 L223.5 428.3M211.9 426.2 L211.4 425.4M211.4 425.4 L212.9 420.6 L213.1 415.7 L212.8 410.8 L213.3 405.9M227.4 406.0 L222.7 406.0 L218.0 404.8 L213.3 405.9M246.8 387.6 L245.9 383.1 L244.4 378.9 L242.5 374.7M246.8 387.6 L243.0 389.2 L240.4 392.7 L237.0 395.0 L233.2 396.7M242.5 374.7 L237.9 374.0 L233.7 376.5 L229.1 376.6 L224.6 376.7 L220.2 377.4M233.2 396.7 L229.5 394.6 L228.4 390.0 L224.9 387.7 L222.8 384.2 L219.0 382.2M220.2 377.4 L219.0 382.2M306.8 225.1 L307.5 218.4M307.5 218.4 L310.7 214.9 L314.2 211.7 L317.8 208.6 L320.3 204.6 L323.1 200.7M299.7 186.1 L298.2 182.8 L297.0 179.4 L295.5 176.1M299.7 186.1 L303.6 188.4 L306.5 191.7 L310.1 194.4 L313.5 197.2M289.6 198.3 L291.7 194.9 L293.9 191.5 L296.5 188.5 L299.7 186.1M289.6 198.3 L291.2 201.8 L292.4 205.3 L293.7 208.9M313.5 197.2 L309.1 198.8 L306.2 202.8 L301.5 203.9 L297.0 205.4 L293.7 208.9M290.4 225.8 L286.9 223.8 L282.6 224.4 L279.0 222.6M290.4 225.8 L291.9 221.5 L292.4 216.9 L294.3 212.8M293.2 210.5 L294.3 212.8M293.2 210.5 L288.5 211.8 L283.7 211.8 L278.8 211.8M278.8 211.8 L277.3 218.8M279.0 222.6 L277.3 218.8M281.3 237.8 L274.1 232.4M281.3 237.8 L285.1 237.1 L288.9 236.1 L292.3 233.9M274.1 232.4 L275.0 228.8 L276.7 225.5 L279.0 222.6M292.9 229.2 L290.4 225.8M307.5 218.4 L303.3 216.1 L298.3 215.7 L294.3 212.8M293.7 208.9 L293.2 210.5M274.6 262.4 L282.2 261.5M274.6 262.4 L271.2 256.9M271.2 256.9 L276.1 249.2M282.2 261.5 L284.0 258.1 L284.3 254.4 L284.8 250.8M276.1 249.2 L280.9 248.5M284.8 250.8 L280.9 248.5M286.9 267.0 L282.2 261.5M271.9 269.6 L274.6 262.4M262.4 256.7 L271.2 256.9M268.3 243.3 L276.1 249.2M287.3 250.6 L284.8 250.8M268.1 234.5 L274.1 232.4M281.3 237.8 L280.0 241.4 L281.3 245.0 L280.9 248.5M213.7 450.2 L209.7 451.5 L207.5 455.6 L203.4 456.8M213.7 450.2 L217.5 450.6M217.5 450.6 L219.5 454.2 L222.5 457.2 L225.0 460.5 L226.7 464.3M203.4 456.8 L204.8 461.1 L208.0 464.4 L211.1 467.7 L213.3 471.5 L214.5 476.0M214.5 476.0 L218.7 473.5 L222.0 469.8 L226.6 467.9M226.6 467.9 L226.7 464.3M206.6 435.9 L207.7 439.8 L209.2 443.5 L212.7 446.2 L213.7 450.2M211.9 426.2 L211.2 430.0 L207.7 432.3 L206.6 435.9M225.1 442.3 L222.2 444.7 L220.1 447.9 L217.5 450.6M240.0 449.8 L237.3 454.0 L234.2 457.8 L229.9 460.5 L226.7 464.3M214.4 476.1 L214.5 476.0M200.6 456.6 L194.8 461.8M200.6 456.6 L203.4 456.8M234.6 472.4 L226.6 467.9M254.6 402.6 L254.3 397.8 L251.7 393.7 L250.4 389.2M254.6 402.6 L260.1 405.2M260.1 405.2 L264.4 404.1 L268.5 402.8 L272.2 400.4M250.4 389.2 L253.7 387.5 L257.4 387.0 L260.8 385.6M272.2 400.4 L272.8 398.5M272.8 398.5 L271.0 393.9 L268.1 390.0 L264.3 386.9M260.8 385.6 L264.3 386.9M232.3 401.6 L233.2 396.7M244.7 410.5 L248.4 408.4 L250.5 404.2 L254.6 402.6M246.8 387.6 L250.4 389.2M261.7 418.8 L261.0 414.3 L261.1 409.7 L260.1 405.2M279.9 414.9 L277.3 411.6 L276.5 407.4 L274.9 403.6 L272.2 400.4M243.5 372.2 L242.5 374.7M262.1 372.8 L260.9 377.0 L261.7 381.4 L260.8 385.6M288.6 411.8 L289.1 407.0 L292.4 403.2 L293.0 398.5M293.0 398.5 L288.1 397.4 L283.0 397.2 L278.4 394.9M278.4 394.9 L272.8 398.5M287.0 383.3 L280.5 386.7M287.0 383.3 L287.2 373.5M280.5 386.7 L274.3 380.4M287.2 373.5 L283.2 374.5 L279.1 375.2 L274.9 374.9M274.3 380.4 L274.9 374.9M293.6 398.1 L293.0 398.5M293.6 398.1 L295.9 389.2M295.9 389.2 L293.2 386.8 L289.5 386.0 L287.0 383.3M278.4 394.9 L280.5 386.7M299.3 386.8 L295.9 389.2M287.3 373.4 L287.2 373.5M264.3 386.9 L268.2 385.6 L270.4 381.7 L274.3 380.4M273.2 372.9 L274.9 374.9M161.6 453.9 L163.7 451.1 L165.7 448.1 L166.5 444.6M153.7 436.2 L156.7 438.6 L160.2 439.6 L164.0 440.0M166.5 444.6 L164.0 440.0M155.8 422.8 L160.4 423.2 L164.3 426.0 L168.8 426.6M164.0 440.0 L164.4 435.1 L167.7 431.2 L168.8 426.6M629.1 379.3 L634.8 385.7M629.1 379.3 L623.9 381.3M634.8 385.7 L629.0 390.9M623.9 381.3 L620.2 388.8M629.0 390.9 L620.2 388.8M630.5 375.5 L629.1 379.3M640.3 386.3 L634.8 385.7M631.7 397.7 L629.0 390.9M625.5 368.5 L617.2 372.1M613.2 363.0 L617.7 359.4M613.2 363.0 L612.8 367.9M612.8 367.9 L617.2 372.1M623.9 381.3 L621.3 378.9 L618.6 376.6 L617.2 373.2M608.9 385.0 L612.6 381.7 L615.3 377.7 L617.2 373.2M617.2 372.1 L617.2 373.2M578.6 367.9 L575.8 365.4 L572.4 363.6 L570.4 360.0 L566.8 358.4M578.6 367.9 L574.8 370.7 L570.4 372.7 L565.7 373.8 L561.4 375.9 L557.7 378.9M566.8 358.4 L562.8 359.5 L558.8 360.4 L555.0 362.1M578.7 355.9 L581.7 359.0M580.2 368.1 L581.7 359.0M580.2 368.1 L578.6 367.9M567.3 357.9 L566.8 358.4M576.7 402.9 L578.4 398.0 L577.9 393.0 L578.6 388.0 L579.1 383.1 L579.8 378.1 L578.9 373.0 L580.2 368.1M580.2 368.1 L580.2 368.1M558.4 344.1 L558.2 348.7 L556.7 353.1 L556.0 357.6 L555.0 362.1M600.5 365.4 L596.9 365.0 L594.1 367.8 L590.6 367.5M600.5 365.4 L604.2 370.8M604.2 370.8 L604.0 371.5M604.0 371.5 L600.0 373.4 L596.0 375.2 L592.7 378.3M592.7 378.3 L589.1 369.4M589.1 369.4 L590.6 367.5M612.8 367.9 L604.2 370.8M608.9 385.0 L607.2 380.5 L605.6 376.0 L604.0 371.5M590.0 395.5 L590.8 391.2 L591.6 386.9 L591.2 382.5 L592.7 378.3M580.2 368.1 L589.1 369.4M613.2 363.0 L605.8 356.8M600.5 365.4 L601.1 360.3M601.1 360.3 L605.8 356.8M612.4 348.7 L606.3 353.3M606.3 353.3 L605.8 356.8M603.0 338.9 L599.1 347.9M606.3 353.3 L599.1 347.9M625.9 321.0 L626.1 316.2 L626.0 311.3 L627.6 306.7M627.6 306.7 L625.8 302.2 L621.4 299.4 L618.9 295.3 L617.7 290.4 L614.0 287.1 L612.2 282.6 L609.0 279.0 L605.3 275.8 L603.3 271.4 L601.8 266.7 L597.5 263.8 L595.2 259.6 L592.8 255.5 L590.0 251.7 L587.9 247.3 L583.9 244.3 L582.0 239.8M643.6 319.9 L642.2 316.5 L641.2 312.9 L639.1 309.7M643.6 319.9 L653.3 317.8M653.3 317.8 L654.4 313.9 L656.9 310.5 L657.0 306.3M639.1 309.7 L641.2 306.6 L644.8 305.0 L647.2 302.2M657.0 306.3 L653.6 305.1 L650.9 302.4 L647.2 302.2M640.7 324.5 L643.6 319.9M627.6 306.7 L631.6 307.1 L635.1 309.5 L639.1 309.7M648.2 334.9 L654.2 333.7M660.4 325.3 L657.7 323.1 L654.8 321.2 L653.3 317.8M659.6 305.2 L657.0 306.3M660.3 292.6 L657.6 288.8 L652.7 287.4 L649.5 284.2 L646.1 281.2 L642.8 278.1 L639.8 274.5 L636.7 271.2M636.7 271.2 L637.9 275.8 L639.6 280.1 L640.3 284.8 L643.9 288.5 L644.3 293.3 L646.9 297.3 L647.2 302.2M654.5 355.8 L653.9 347.7M654.5 355.8 L650.9 355.4 L647.3 355.4 L643.7 356.6M641.3 354.2 L643.6 351.0 L646.3 348.2 L648.5 344.9M641.3 354.2 L643.7 356.6M648.5 344.9 L653.9 347.7M646.3 338.8 L648.5 344.9M638.8 353.6 L641.3 354.2M644.6 366.5 L643.7 356.6M661.6 342.8 L661.5 343.0M661.5 343.0 L653.9 347.7M655.5 364.3 L661.0 368.0M655.5 364.3 L655.4 356.6M655.4 356.6 L658.8 355.2 L662.6 356.3 L665.9 354.7M664.4 367.7 L668.2 360.6M664.4 367.7 L661.0 368.0M668.2 360.6 L666.3 354.9M666.3 354.9 L665.9 354.7M655.2 378.7 L656.8 374.9 L658.0 371.0 L661.0 368.0M648.4 367.7 L655.5 364.3M654.5 355.8 L655.4 356.6M661.5 343.0 L662.6 347.0 L665.0 350.6 L665.9 354.7M669.3 373.3 L664.4 367.7M676.1 362.3 L668.2 360.6M672.6 351.0 L666.3 354.9M544.5 392.1 L541.7 395.3 L538.1 397.3 L533.9 398.6 L531.1 401.7 L527.5 403.8M544.6 413.7 L548.8 412.8 L552.7 410.6 L557.1 410.7 L561.3 409.6 L565.7 409.5 L569.6 407.3M544.6 413.7 L540.2 412.6 L536.2 410.4 L531.6 410.1 L527.8 407.4M527.8 407.4 L527.5 403.8M534.7 386.1 L531.2 387.2 L528.4 389.9 L524.7 390.5M524.7 390.5 L524.9 394.0 L524.2 397.4 L524.5 400.9M524.5 400.9 L527.5 403.8M527.1 428.5 L530.8 424.3M527.1 428.5 L528.0 438.4M540.4 432.1 L539.1 435.9 L536.8 439.2 L535.1 442.7M540.4 432.1 L538.2 429.1 L535.5 426.6 L532.7 424.3M532.7 424.3 L530.8 424.3M528.0 438.4 L535.1 442.7M514.8 431.9 L515.7 435.4 L516.3 438.9 L517.5 442.3M517.5 442.3 L520.5 439.8 L524.1 438.8 L528.0 438.4M516.7 428.9 L514.8 431.9M516.7 428.9 L520.2 429.0 L523.6 428.0 L527.1 428.5M572.2 428.0 L567.6 428.7 L563.2 430.3 L558.7 430.9 L554.0 430.7 L549.6 431.8 L545.1 432.8 L540.4 432.1M535.4 443.4 L535.1 442.7M544.6 413.7 L542.2 417.0 L539.1 419.5 L535.1 420.9 L532.7 424.3M523.7 414.1 L527.8 407.4M523.7 414.1 L525.4 417.9 L528.9 420.6 L530.8 424.3M517.5 442.3 L517.0 443.3M514.8 431.9 L505.8 432.2M508.8 445.8 L502.3 442.4M505.8 432.2 L505.2 435.8 L504.7 439.4 L502.3 442.4M359.6 303.7 L353.4 297.3M359.6 303.7 L356.5 309.5M356.5 309.5 L346.7 309.1M348.1 299.5 L353.4 297.3M348.1 299.5 L345.5 306.7M345.5 306.7 L346.7 309.1M365.6 302.4 L359.6 303.7M362.9 274.0 L362.1 278.2 L358.7 281.4 L358.3 285.7 L356.3 289.4 L355.9 293.8 L353.4 297.3M360.4 316.7 L362.7 313.7 L366.8 313.3 L369.3 310.6M360.4 316.7 L356.5 309.5M338.8 290.0 L342.6 292.5 L345.6 295.7 L348.1 299.5M337.5 304.9 L345.5 306.7M334.5 317.5 L344.0 318.9M344.5 318.4 L344.0 318.9M344.5 318.4 L346.7 309.1M301.9 324.1 L302.1 321.4M317.4 321.7 L309.6 317.2M309.6 317.2 L302.1 321.4M290.0 317.1 L298.7 317.0M298.7 317.0 L302.1 321.4M524.5 400.9 L520.5 399.8 L516.4 399.6 L512.3 399.9M524.7 390.5 L521.5 388.9M521.5 388.9 L512.5 392.2M512.5 392.2 L512.3 399.9M455.5 453.8 L456.3 449.1 L456.0 444.2 L457.3 439.6M472.0 454.0 L471.0 444.6M471.0 444.6 L467.4 443.3 L464.6 440.3 L460.9 439.1M460.9 439.1 L457.3 439.6M443.4 439.9 L439.1 446.2M443.4 439.9 L447.7 439.6 L452.1 439.5 L456.4 438.9M456.4 438.9 L457.3 439.6M438.4 373.9 L436.4 374.8M430.0 372.8 L436.4 374.8M433.9 359.6 L429.3 363.5M430.0 372.8 L429.3 363.5M438.4 373.9 L439.5 372.2M433.9 359.6 L439.2 361.7M439.2 361.7 L438.5 365.3 L438.5 368.7 L439.5 372.2M442.7 388.4 L446.9 385.3M442.7 388.4 L435.8 385.8M435.8 385.8 L435.1 382.1 L435.8 378.4 L436.4 374.8M438.4 373.9 L446.5 379.3M446.5 379.3 L446.9 385.3M423.5 326.5 L428.5 330.4M423.5 326.5 L424.4 322.1 L424.4 317.5 L425.7 313.2 L426.1 308.6 L427.2 304.3 L428.3 299.9 L430.3 295.7 L430.8 291.2 L431.5 286.7 L433.0 282.4M428.5 330.4 L434.9 326.6M433.0 282.4 L434.2 287.3 L432.3 292.3 L433.0 297.2 L434.4 302.0 L433.5 307.0 L433.7 311.9 L434.2 316.8 L435.5 321.6 L434.9 326.6M411.4 315.5 L407.7 317.7 L406.4 322.0 L402.2 323.8 L400.4 327.7M411.4 315.5 L412.9 319.0 L412.7 323.0 L414.8 326.3 L415.8 330.0M408.6 334.7 L406.2 332.3 L403.5 330.2 L400.4 328.6M408.6 334.7 L415.6 330.5M400.4 328.6 L400.4 327.7M415.6 330.5 L415.8 330.0M424.5 256.6 L421.9 260.9 L419.2 265.1 L417.4 269.7 L414.6 273.9 L413.1 278.7 L412.0 283.6 L409.0 287.7 L405.8 291.6 L403.6 296.1 L402.7 301.2 L401.2 306.0 L397.0 309.4 L396.4 314.6 L393.7 318.8M393.7 318.8 L396.8 321.2 L397.2 325.4 L400.4 327.7M423.5 326.5 L415.8 330.0M428.4 334.5 L428.5 330.4M428.4 334.5 L422.4 337.9M422.4 337.9 L420.4 335.2 L417.0 333.8 L415.6 330.5M339.5 342.4 L344.0 342.0 L348.5 342.8 L353.0 342.3M339.5 342.4 L340.6 338.4 L342.3 334.5 L342.4 330.3M353.0 342.3 L353.6 338.7 L351.8 335.3 L352.3 331.8M352.3 331.8 L344.3 328.7M342.4 330.3 L344.3 328.7M351.3 353.4 L347.3 351.9 L342.8 353.3 L338.9 351.3M351.3 353.4 L354.5 351.4M337.8 343.8 L339.5 342.4M354.5 351.4 L355.1 344.4M355.1 344.4 L353.0 342.3M332.3 329.0 L335.6 329.8 L338.9 330.9 L342.4 330.3M344.0 318.9 L344.3 328.7M344.5 318.4 L349.2 319.3 L354.0 320.8 L358.9 320.2M352.3 331.8 L357.7 328.7M357.7 328.7 L358.9 320.2M360.4 316.7 L360.0 319.1M358.9 320.2 L360.0 319.1M154.4 234.1 L158.7 235.4 L163.1 236.6 L167.2 238.5 L170.8 241.5 L175.2 242.8 L179.3 244.6 L183.9 245.3 L187.7 248.0 L191.9 249.7M183.3 261.4 L191.5 257.1M191.9 249.7 L191.5 257.1M198.9 240.4 L196.5 247.4M191.9 249.7 L196.5 247.4M232.1 166.3 L222.9 164.8M232.1 166.3 L233.0 158.4M233.0 158.4 L225.5 156.9M225.5 156.9 L220.7 161.0M220.7 161.0 L222.9 164.8M242.8 165.7 L239.8 167.8M239.8 167.8 L232.3 166.6M232.3 166.6 L232.1 166.3M235.8 155.9 L233.0 158.4M229.8 145.7 L224.8 147.0M224.8 147.0 L225.5 156.9M223.1 146.4 L224.8 147.0M216.3 153.1 L218.0 160.3M218.0 160.3 L220.7 161.0M214.7 173.5 L221.6 170.4M212.1 171.1 L213.1 167.8 L215.6 165.1 L215.6 161.5M221.6 170.4 L222.9 164.8M218.0 160.3 L215.6 161.5M264.1 170.3 L260.7 172.7 L256.3 172.7 L252.4 174.1 L248.8 176.1 L245.0 177.6M239.8 167.8 L240.0 175.4M245.0 177.6 L240.0 175.4M257.0 187.2 L252.2 187.9 L247.5 187.5 L242.7 186.9M265.9 173.4 L262.7 176.2 L260.4 179.6 L258.3 183.1 L257.0 187.2M245.0 177.6 L242.7 186.9M241.4 194.9 L242.3 187.2M257.0 187.2 L256.3 192.9M256.3 192.9 L252.0 193.9 L249.0 197.1 L245.2 199.0M242.7 186.9 L242.3 187.2M205.2 152.6 L199.5 157.4M205.2 152.6 L206.2 152.6M206.2 152.6 L209.3 159.9M209.3 159.9 L204.2 165.4M199.5 157.4 L200.0 164.0M204.2 165.4 L201.1 165.2M200.0 164.0 L201.1 165.2M199.7 147.4 L205.2 152.6M192.9 154.6 L199.5 157.4M208.0 141.9 L210.3 145.6M209.3 150.2 L206.2 152.6M215.6 161.5 L209.3 159.9M209.8 170.8 L204.2 165.4M189.9 164.1 L193.3 164.6 L196.7 165.3 L200.0 164.0M192.9 186.1 L195.7 182.4 L195.8 177.6 L198.1 173.6 L200.1 169.6 L201.1 165.2M213.3 134.2 L219.6 140.8M213.3 134.2 L216.9 130.7 L221.2 128.3 L225.7 126.0M219.6 140.8 L221.7 136.3 L226.5 133.7 L228.5 129.0M225.7 126.0 L228.5 129.0M219.8 142.7 L219.6 140.8M212.0 133.9 L213.3 134.2M215.1 100.2 L216.9 104.5 L218.8 108.7 L219.5 113.5 L221.3 117.8 L223.0 122.1 L225.7 126.0M234.1 131.7 L228.5 129.0M262.9 203.8 L263.7 204.2M262.9 203.8 L258.6 204.3 L254.7 206.5 L250.4 206.8M263.7 204.2 L263.2 208.0 L263.6 212.0 L260.7 215.4 L260.9 219.3M249.0 214.0 L253.0 215.4 L255.8 218.8 L259.3 220.9M249.0 214.0 L250.4 206.8M259.3 220.9 L260.9 219.3M245.2 201.1 L250.4 206.8M256.3 192.9 L257.5 197.1 L260.5 200.3 L262.9 203.8M244.7 215.5 L249.0 214.0M259.1 222.3 L259.3 220.9M277.3 218.8 L273.2 218.6 L269.1 219.5 L265.0 218.1 L260.9 219.3M278.6 211.4 L275.0 209.8 L272.0 206.9 L268.6 204.9 L264.6 204.0M278.6 211.4 L279.3 207.0 L280.6 202.7 L281.7 198.3M264.6 204.0 L268.3 201.8 L270.3 198.1 L273.0 195.2 L275.3 191.8M281.7 198.3 L275.3 191.8M278.8 211.8 L278.6 211.4M263.7 204.2 L264.6 204.0M289.6 198.3 L281.7 198.3M274.1 178.2 L275.1 182.7 L275.7 187.2 L275.3 191.8M249.8 731.1 L256.4 723.8M242.5 713.7 L247.3 712.6M247.3 712.6 L251.3 715.5 L253.5 719.9 L256.4 723.8M283.2 709.1 L281.3 712.0 L280.7 715.5 L278.7 718.4M278.7 718.4 L274.5 717.4 L270.0 717.1 L266.2 714.8M272.2 701.9 L269.6 704.7 L267.3 707.8 L265.1 711.0M266.2 714.8 L265.1 711.0M279.3 720.6 L275.7 723.0 L273.1 726.2 L271.2 730.0 L268.6 733.2M278.7 718.4 L279.3 720.6M268.6 733.2 L264.9 730.6 L261.7 727.7 L259.5 723.8M266.2 714.8 L264.2 717.9 L262.0 721.0 L259.5 723.8M268.6 733.2 L268.7 734.3M259.5 723.8 L256.4 723.8M304.2 750.2 L299.8 746.7M310.4 748.4 L310.6 743.7 L310.8 739.0 L312.0 734.4M312.0 734.4 L307.7 733.5 L303.5 734.8 L299.3 735.1M299.3 735.1 L299.5 739.0 L299.6 742.9 L299.8 746.7M273.6 738.0 L277.9 738.8 L282.0 737.8 L286.1 737.0M286.3 752.1 L287.7 749.6M286.1 737.0 L285.6 741.3 L286.8 745.4 L287.7 749.6M299.8 746.7 L296.1 748.8 L292.0 749.8 L287.7 749.6M320.6 736.0 L312.2 734.3M320.6 736.0 L322.8 732.1 L326.7 729.9 L330.1 727.2 L332.5 723.5M312.2 734.3 L311.8 730.7 L312.8 727.1 L312.3 723.5M332.5 723.5 L327.8 723.6 L323.2 723.5 L318.7 722.2 L314.2 721.4M314.2 721.4 L312.3 723.5M324.5 742.8 L320.6 736.0M312.0 734.4 L312.2 734.3M314.1 709.9 L312.9 713.7 L315.4 717.5 L314.2 721.4M297.7 710.9 L298.3 720.5M298.3 720.5 L303.1 720.9 L307.8 721.8 L312.3 723.5M282.1 594.3 L284.7 597.8 L285.9 602.2 L289.0 605.4M282.1 594.3 L284.3 590.9 L287.9 589.0 L290.7 586.1M296.1 589.2 L295.8 593.2 L296.7 597.0 L296.8 601.0 L297.8 604.8M296.1 589.2 L290.7 586.1M289.0 605.4 L297.6 605.1M297.8 604.8 L297.6 605.1M276.2 617.0 L279.4 614.1 L283.1 611.8 L286.6 609.2 L289.0 605.4M269.0 593.3 L273.3 593.8 L277.7 593.9 L282.1 594.3M287.5 574.8 L283.6 573.4M287.5 574.8 L289.1 578.4 L289.1 582.5 L290.7 586.1M310.4 584.7 L306.6 584.9 L303.5 587.7 L299.5 587.4 L296.1 589.2M309.2 601.2 L305.7 603.3 L301.5 603.5 L297.8 604.8M295.6 570.7 L299.3 573.7 L302.7 577.2 L307.5 578.7 L311.1 582.0M295.6 570.7 L287.5 574.8M301.1 618.3 L299.5 614.0 L298.6 609.5 L297.6 605.1M297.2 416.4 L305.3 411.8M293.6 398.1 L297.9 398.5 L300.8 402.3 L305.0 402.9M305.0 402.9 L305.3 411.8M303.5 432.0 L307.5 429.0 L310.9 425.5 L314.0 421.8 L317.1 418.0M305.3 411.8 L309.0 414.4 L312.7 416.7 L317.1 418.0M324.0 422.0 L320.8 417.4M324.0 422.0 L324.5 426.6 L323.3 431.0 L322.5 435.4M322.5 435.4 L319.1 436.7 L315.8 438.4 L312.9 440.7M317.1 418.0 L320.8 417.4M439.6 429.0 L439.7 433.0 L443.3 435.9 L443.4 439.9M439.6 429.0 L435.7 428.5 L432.1 429.8 L428.4 430.6M426.2 441.9 L425.1 433.8M428.4 430.6 L425.1 433.8M391.5 437.5 L394.8 445.3M381.8 453.6 L380.4 449.3 L375.9 447.3 L374.4 443.1M391.5 437.5 L386.8 436.3 L382.3 434.0 L377.2 433.9M374.4 443.1 L377.2 433.9M377.7 383.8 L376.4 385.5M368.2 387.6 L376.4 385.5M377.7 383.8 L374.9 379.8 L371.9 376.0 L370.6 371.1M359.0 381.0 L361.8 383.6 L365.0 385.6 L368.2 387.6M359.0 381.0 L359.4 375.7M359.4 375.7 L363.4 374.8 L366.9 372.6 L370.6 371.1M205.5 298.8 L213.2 302.4M205.5 298.8 L209.5 290.0M216.2 290.1 L209.5 290.0M216.2 290.1 L221.2 298.7M221.2 298.7 L213.2 302.4M210.4 319.3 L210.7 315.0 L212.9 311.1 L213.4 306.8 L213.2 302.4M202.8 299.6 L205.5 298.8M206.0 285.9 L209.5 290.0M221.5 298.8 L221.2 298.7M219.1 284.0 L215.4 276.2M219.1 284.0 L226.7 284.3M226.7 284.3 L230.2 276.3M215.4 276.2 L215.8 274.5M215.8 274.5 L219.8 274.3 L223.9 274.8 L227.9 273.8M230.2 276.3 L227.9 273.8M216.2 290.1 L219.1 284.0M206.8 281.4 L209.6 279.7 L212.4 277.8 L215.4 276.2M229.8 288.8 L226.7 284.3M234.6 276.5 L230.2 276.3M214.2 270.3 L215.8 274.5M222.2 260.5 L220.5 264.6 L217.8 267.8 L214.2 270.3M228.7 264.6 L227.9 273.8M198.6 408.1 L195.4 404.9 L194.7 400.2 L191.4 397.1M198.6 408.1 L202.9 405.9 L207.8 406.3 L212.2 404.8M212.2 404.8 L212.6 400.9 L209.9 397.6 L210.1 393.7 L209.4 390.0M191.4 397.1 L194.6 394.3 L198.6 392.3 L201.0 388.7M201.0 388.7 L209.4 390.0M219.0 382.2 L216.5 385.7 L212.6 387.4 L209.4 390.0M213.3 405.9 L212.2 404.8M189.6 369.7 L191.0 374.0 L194.0 377.4 L197.2 380.7 L199.2 384.6 L201.0 388.7M187.9 369.3 L189.6 369.7M185.6 397.6 L191.4 397.1M173.3 390.9 L177.2 393.4 L181.4 395.6 L185.6 397.6M201.1 365.3 L205.1 367.5 L209.3 369.3 L211.8 373.6 L216.3 375.0 L220.1 377.4M201.1 365.3 L203.7 362.4 L205.6 359.1 L206.9 355.4 L208.7 352.0M220.1 377.4 L221.4 373.2 L222.0 368.9 L224.0 364.9 L223.9 360.5 L224.7 356.2M224.7 356.2 L221.3 355.1 L218.5 353.2 L216.1 350.6M216.1 350.6 L208.7 352.0M189.6 369.7 L193.3 367.8 L197.5 367.4 L201.1 365.3M220.2 377.4 L220.1 377.4M194.0 338.8 L197.1 342.7 L202.1 344.6 L204.4 349.4 L208.7 352.0M231.4 355.0 L224.7 356.2M219.3 335.7 L218.3 339.4 L216.5 342.9 L216.4 346.7 L216.1 350.6M200.6 456.6 L195.6 448.2M206.6 435.9 L200.4 438.1M200.4 438.1 L198.8 441.5 L197.5 445.0 L195.6 448.2M180.8 459.2 L181.8 454.7 L181.1 450.0 L181.7 445.4M195.6 448.2 L191.0 447.3 L186.3 446.5 L181.7 445.4M166.5 444.6 L171.3 445.6 L176.0 444.4 L180.7 444.0M181.7 445.4 L180.7 444.0M176.2 417.8 L175.1 423.9M176.2 417.8 L184.0 413.7M175.1 423.9 L178.1 426.8 L179.6 430.9 L183.3 433.2M184.0 413.7 L187.8 413.9 L191.2 415.9 L194.9 416.5M189.0 431.5 L183.3 433.2M189.0 431.5 L191.4 427.5 L194.5 424.1 L196.8 420.0M196.8 420.0 L194.9 416.5M172.2 413.0 L176.2 417.8M168.8 426.6 L175.1 423.9M185.6 397.6 L185.3 401.6 L185.1 405.6 L184.9 409.7 L184.0 413.7M180.7 444.0 L181.7 440.4 L181.5 436.6 L183.3 433.2M198.6 408.1 L194.9 416.5M200.4 438.1 L196.6 435.8 L192.2 434.7 L189.0 431.5M211.4 425.4 L208.0 423.4 L204.2 422.5 L200.6 420.8 L196.8 420.0M308.9 487.6 L312.7 488.1 L316.5 488.3 L320.2 486.9M304.6 472.9 L306.8 476.3 L306.0 480.5 L308.8 483.7 L308.9 487.6M319.7 465.1 L324.7 472.5M320.2 486.9 L322.3 483.7 L323.1 479.9 L322.9 475.9 L324.7 472.5M287.4 486.3 L290.2 492.4M308.9 487.6 L305.8 490.4 L302.7 492.9 L300.3 496.3M290.2 492.4 L294.0 492.6 L297.4 493.9 L300.3 496.3M267.1 506.9 L272.1 507.0M290.2 492.4 L285.9 494.6 L282.3 497.5 L278.8 500.6 L276.0 504.5 L272.1 507.0M359.1 492.2 L355.2 493.7 L351.7 496.2 L347.6 497.2 L343.9 499.1M343.1 477.5 L341.4 482.1 L340.1 486.9 L338.9 491.7 L336.1 495.9M352.1 478.1 L343.1 477.5M343.9 499.1 L336.1 495.9M364.5 506.8 L359.9 508.1 L356.3 511.3 L351.9 513.0M343.9 499.1 L346.2 502.3 L348.7 505.6 L350.3 509.2 L351.9 513.0M300.3 496.3 L300.4 500.8 L303.1 504.5 L304.1 508.7M304.1 508.7 L308.5 507.0 L313.2 508.1 L317.6 506.6 L322.2 506.8 L326.8 506.9M320.2 486.9 L323.7 488.8 L325.7 492.2 L328.8 494.5 L331.3 497.5M326.8 506.9 L327.7 503.5 L329.7 500.6 L331.3 497.5M304.1 508.7 L301.5 515.5M316.5 530.6 L313.4 527.7 L309.7 525.3 L308.4 520.7 L304.0 519.0 L301.5 515.5M316.5 530.6 L319.8 527.7 L324.3 527.2 L327.7 524.6 L331.6 522.9M326.8 506.9 L327.7 510.9 L329.3 514.8 L329.5 519.1 L331.6 522.9M340.3 473.6 L343.1 477.5M324.7 472.5 L328.7 471.8 L332.5 473.6 L336.4 473.1 L340.3 473.6M336.1 495.9 L331.3 497.5M366.4 528.0 L363.0 524.6 L359.0 522.2 L354.2 520.9 L350.2 518.4M351.9 513.0 L350.2 518.4M268.4 538.4 L274.1 537.2M272.1 507.0 L276.1 509.5 L279.2 513.1 L283.6 515.1 L286.2 519.5 L290.7 521.4M274.1 537.2 L276.7 533.3 L280.0 530.1 L284.5 528.2 L287.8 525.0 L290.7 521.4M301.5 515.5 L298.7 518.5 L294.4 519.0 L291.3 521.4M290.7 521.4 L291.3 521.4M596.8 348.5 L593.7 356.5M596.8 348.5 L590.4 344.8M590.4 344.8 L587.0 345.6M593.7 356.5 L590.8 357.5M587.0 345.6 L585.6 347.7M585.6 347.7 L588.7 356.6M590.8 357.5 L588.7 356.6M601.1 360.3 L593.7 356.5M599.1 347.9 L596.8 348.5M598.8 325.9 L596.1 329.3 L594.3 333.0 L593.2 337.0 L591.6 340.9 L590.4 344.8M583.3 339.8 L587.0 345.6M590.6 367.5 L590.8 357.5M579.8 349.5 L585.6 347.7M581.7 359.0 L588.7 356.6M516.7 428.9 L516.4 424.6 L513.1 421.1 L513.0 416.7M523.7 414.1 L520.2 414.3 L516.9 415.5 L513.4 415.8M513.0 416.7 L513.4 415.8M512.3 399.9 L508.2 404.3M513.4 415.8 L510.9 412.4 L509.9 408.2 L508.2 404.3M500.3 458.2 L498.1 455.4 L495.3 453.0 L493.6 449.8M502.3 442.4 L498.7 443.1M498.7 443.1 L493.6 449.8M482.1 457.6 L487.8 451.0M487.8 451.0 L493.6 449.8M299.4 304.6 L300.8 306.4M299.4 304.6 L303.0 302.1 L303.8 297.4 L307.2 294.8M300.8 306.4 L309.6 309.1M307.2 294.8 L314.8 298.4M314.8 298.4 L313.1 307.3M313.1 307.3 L309.6 309.1M296.8 303.7 L299.4 304.6M298.7 317.0 L299.9 313.6 L299.6 309.8 L300.8 306.4M304.4 286.1 L307.2 294.8M309.6 317.2 L309.6 309.1M320.1 296.0 L314.8 298.4M321.4 311.2 L313.1 307.3M452.4 375.0 L456.8 380.4M452.4 375.0 L446.5 379.3M446.9 385.3 L452.8 386.7M452.8 386.7 L456.8 380.4M456.4 438.9 L456.4 434.9 L454.4 431.3 L453.8 427.3 L452.8 423.5M439.6 429.0 L440.1 428.2M452.8 423.5 L448.6 425.1 L444.4 426.9 L440.1 428.2M434.9 413.2 L436.3 414.2M434.9 413.2 L427.1 418.4M428.4 430.6 L428.8 426.4 L428.1 422.4 L427.1 418.4M440.1 428.2 L439.2 423.5 L436.4 419.2 L436.3 414.2M534.7 386.1 L531.9 379.4M521.5 388.9 L519.8 381.5M531.9 379.4 L527.4 378.0M519.8 381.5 L527.4 378.0M540.8 347.6 L540.0 342.8 L535.9 339.6 L534.9 334.9M540.8 347.6 L543.2 344.2 L547.1 342.4 L549.6 339.2M534.9 334.9 L538.9 333.4 L543.0 332.2 L546.8 330.2M549.6 339.2 L546.8 330.2M532.7 333.9 L534.9 334.9M534.6 319.2 L534.6 324.2 L533.8 329.1 L532.7 333.9M551.2 320.4 L547.1 319.6 L542.8 320.8 L538.8 318.3 L534.6 319.2M551.2 320.4 L548.7 323.2 L547.3 326.5 L546.8 330.2M557.2 341.6 L549.6 339.2M534.6 319.2 L531.6 316.8M531.6 316.8 L532.6 311.9 L535.7 307.6 L536.8 302.8 L536.6 297.6 L538.7 293.0 L539.0 288.0 L541.4 283.5 L544.2 279.2 L545.4 274.3 L547.1 269.7 L546.6 264.4 L548.9 259.9 L550.8 255.3 L551.1 250.2 L553.8 245.9 L556.0 241.3 L557.2 236.5 L558.2 231.7 L559.7 226.9 L561.7 222.4 L562.1 217.3 L564.2 212.8 L563.9 207.5 L565.5 202.8 L567.5 198.2 L568.8 193.5 L570.6 188.8 L572.5 184.2 L574.4 179.6 L575.1 174.7M532.7 333.9 L524.5 335.6M513.7 331.6 L517.5 332.5 L520.7 334.9 L524.5 335.6M531.6 316.8 L527.2 317.1 L522.9 318.6 L518.5 318.8 L514.0 318.2 L509.5 316.9 L505.2 319.1 L500.8 318.7M401.6 393.2 L398.8 390.0 L397.9 385.9 L396.7 382.0M401.6 393.2 L398.0 394.4 L395.3 397.4 L391.5 398.3M391.5 398.3 L389.9 393.9 L389.2 389.2 L386.3 385.4M396.7 382.0 L393.1 382.9 L390.0 385.1 L386.3 385.4M391.5 398.3 L388.0 404.2M388.0 404.2 L379.0 403.0M379.0 403.0 L378.4 398.6 L377.5 394.3 L377.4 389.8 L376.4 385.5M377.7 383.8 L381.0 383.1M386.3 385.4 L381.0 383.1M380.3 366.4 L386.1 373.1M380.3 366.4 L386.1 358.7M394.5 363.7 L390.6 372.1M394.5 363.7 L389.6 358.1M390.6 372.1 L386.1 373.1M389.6 358.1 L386.1 358.7M381.0 383.1 L382.8 379.9 L384.0 376.2 L386.1 373.1M370.6 371.1 L372.1 367.2M372.1 367.2 L380.3 366.4M378.6 353.6 L374.8 354.6 L371.8 357.2 L368.4 358.9M378.6 353.6 L386.1 358.7M372.1 367.2 L368.4 358.9M396.7 382.0 L397.8 379.1M397.8 379.1 L395.4 376.8 L393.9 373.6 L390.6 372.1M378.6 353.6 L379.1 346.5M390.4 345.7 L386.7 347.1 L382.9 346.3 L379.1 346.5M392.1 351.9 L390.4 345.7M392.1 351.9 L389.6 358.1M426.5 351.9 L428.3 345.4M421.9 341.5 L428.3 345.4M426.5 351.9 L421.1 354.1M421.9 341.5 L417.4 344.8M421.1 354.1 L418.7 351.4 L418.1 348.1 L417.4 344.8M398.1 364.1 L394.5 363.7M398.1 364.1 L401.5 361.4 L403.8 357.7 L407.1 354.8M392.1 351.9 L396.8 351.9 L401.4 351.4 L406.1 352.2M407.1 354.8 L406.1 352.2M390.4 345.7 L392.2 341.1M392.2 341.1 L395.9 343.1 L399.9 343.4 L403.7 344.2 L407.8 343.9M406.1 352.2 L407.8 343.9M421.9 341.5 L422.4 337.9M408.6 334.7 L408.2 343.4M417.4 344.8 L408.2 343.4M391.0 335.6 L394.5 333.7 L396.5 330.0 L400.4 328.6M392.2 341.1 L391.0 335.6M408.2 343.4 L407.8 343.9M397.8 379.1 L401.0 377.4M398.1 364.1 L403.1 369.5M403.1 369.5 L401.0 377.4M355.1 344.4 L362.9 341.8M357.7 328.7 L365.7 333.6M365.7 333.6 L362.9 341.8M367.0 358.0 L368.4 358.9M379.1 346.5 L376.4 343.5M367.0 358.0 L366.8 354.0 L368.3 350.2 L368.5 346.2M376.4 343.5 L368.5 346.2M354.5 351.4 L358.2 352.6 L361.0 354.9 L363.3 357.9M363.3 357.9 L367.0 358.0M362.9 341.8 L368.5 346.2M372.4 311.7 L372.8 315.0 L373.3 318.4 L374.5 321.5M382.2 306.0 L382.7 310.2 L383.1 314.5 L384.7 318.4M384.7 318.4 L381.2 319.1 L377.8 320.3 L374.5 321.5M393.7 318.8 L387.2 320.1M384.7 318.4 L387.2 320.1M360.0 319.1 L364.1 321.5 L368.9 321.7 L373.0 324.0M374.5 321.5 L373.0 324.0M197.8 263.4 L197.5 260.6M197.8 263.4 L205.7 268.4M197.5 260.6 L203.8 254.5M205.7 268.4 L208.9 267.7M208.9 267.7 L208.0 263.3 L208.7 258.8 L208.4 254.3M208.4 254.3 L203.8 254.5M192.1 269.7 L197.8 263.4M191.5 257.1 L197.5 260.6M200.3 275.9 L205.7 268.4M196.5 247.4 L199.1 249.6 L202.1 251.3 L203.8 254.5M214.2 270.3 L208.9 267.7M211.2 252.3 L208.4 254.3M230.9 185.6 L233.5 183.4M230.9 185.6 L224.2 183.8M233.5 183.4 L233.9 178.3M222.8 179.7 L224.2 183.8M222.8 179.7 L226.5 174.7M233.9 178.3 L230.2 174.3M226.5 174.7 L230.2 174.3M230.3 192.0 L230.9 185.6M242.3 187.2 L233.5 183.4M217.0 190.6 L224.2 183.8M240.0 175.4 L233.9 178.3M215.2 177.4 L222.8 179.7M221.6 170.4 L226.5 174.7M232.3 166.6 L230.2 174.3M256.6 706.0 L250.5 707.8M256.6 706.0 L260.0 697.9M250.5 707.8 L248.0 703.8 L245.9 699.6 L244.9 694.9M260.0 697.9 L255.0 691.0M255.0 691.0 L252.1 693.5 L247.8 692.4 L244.9 694.9M247.3 712.6 L250.5 707.8M265.1 711.0 L256.6 706.0M270.9 696.3 L267.1 696.0 L263.7 698.4 L260.0 697.9M238.4 692.3 L244.9 694.9M258.1 681.8 L255.0 691.0M283.1 723.5 L284.3 728.0 L284.5 732.6 L286.2 737.0M283.1 723.5 L287.8 723.1 L292.5 723.3 L297.1 722.3M286.2 737.0 L289.7 734.9 L293.5 734.0 L297.6 733.9M297.1 722.3 L297.2 726.2 L296.8 730.0 L297.6 733.9M279.3 720.6 L283.1 723.5M286.1 737.0 L286.2 737.0M298.3 720.5 L297.1 722.3M299.3 735.1 L297.6 733.9M308.9 389.2 L313.7 396.1M305.0 402.9 L308.2 401.4 L310.1 398.0 L313.6 397.0M313.7 396.1 L313.6 397.0M320.8 417.4 L324.6 408.8M313.6 397.0 L315.8 400.4 L319.8 402.2 L321.1 406.6 L324.6 408.8M324.0 422.0 L328.0 422.4 L332.1 422.9 L335.7 425.0 L339.9 424.9 L343.5 426.8M346.0 415.3 L342.4 412.4 L338.3 410.3 L333.5 409.4 L330.2 405.9M343.5 426.8 L344.8 423.0 L345.7 419.2 L346.0 415.3M330.2 405.9 L324.6 408.8M391.5 437.5 L392.3 434.0 L394.7 431.3 L396.0 428.2M407.8 441.8 L409.5 435.2M396.0 428.2 L402.9 427.4M402.9 427.4 L405.9 429.3 L407.7 432.3 L409.5 435.2M425.1 433.8 L418.5 431.3M409.5 435.2 L418.5 431.3M322.5 435.4 L326.7 437.1 L330.7 439.1 L334.3 441.9M343.5 426.8 L345.0 430.4M345.0 430.4 L343.1 434.0 L340.2 436.7 L336.4 438.6 L334.3 441.9M340.3 473.6 L340.4 469.4 L342.5 465.6 L341.6 461.2 L342.9 457.2M324.3 455.9 L327.1 453.3 L330.6 452.3 L334.2 451.5M342.9 457.2 L340.0 455.4 L336.4 454.5 L334.2 451.5M334.2 451.5 L334.3 441.9M396.0 428.2 L393.6 425.3 L391.8 422.0 L389.7 418.9M389.7 418.9 L386.7 421.0 L383.4 422.0 L380.0 423.0M377.2 433.9 L377.1 433.6M380.0 423.0 L379.7 426.7 L378.8 430.3 L377.1 433.6M372.5 406.2 L369.6 402.7 L366.3 399.6 L364.7 395.2M372.5 406.2 L368.6 412.0M368.6 412.0 L365.4 413.3M365.4 413.3 L361.2 412.0 L357.3 409.7 L352.7 409.7M352.7 409.7 L351.7 402.7M351.7 402.7 L357.8 395.8M364.7 395.2 L357.8 395.8M379.0 403.0 L372.5 406.2M368.2 387.6 L364.7 395.2M380.0 423.0 L376.7 420.6 L373.8 418.0 L372.0 414.1 L368.6 412.0M389.7 418.9 L392.1 410.9M392.1 410.9 L388.0 404.2M377.1 433.6 L373.7 431.7 L370.1 430.3 L366.2 430.2 L362.5 429.2M362.5 429.2 L362.9 425.2 L364.9 421.4 L365.1 417.3 L365.4 413.3M346.0 415.3 L352.7 409.7M354.1 434.7 L356.2 431.8 L360.3 432.0 L362.5 429.2M345.0 430.4 L348.3 431.1 L350.8 433.8 L354.1 434.7M359.0 381.0 L354.4 385.3M354.4 385.3 L355.3 388.9 L357.2 392.1 L357.8 395.8M355.7 366.7 L356.8 373.1M355.7 366.7 L348.7 362.8M356.8 373.1 L353.4 374.7 L349.7 374.8 L346.0 374.5M348.7 362.8 L345.6 363.9M345.6 363.9 L343.4 371.8M343.4 371.8 L346.0 374.5M359.4 375.7 L356.8 373.1M363.3 357.9 L360.3 360.5 L358.9 364.4 L355.7 366.7M351.3 353.4 L348.7 362.8M335.6 357.9 L338.6 360.6 L342.7 361.2 L345.6 363.9M333.6 372.5 L343.4 371.8M342.3 524.2 L334.7 524.3M342.3 524.2 L344.1 527.7 L345.4 531.5 L348.3 534.3 L350.1 537.7M334.7 524.3 L335.5 528.8 L333.2 533.2 L333.7 537.7 L334.6 542.2 L334.0 546.7M350.1 537.7 L347.3 540.4 L344.8 543.4 L344.0 547.4 L341.7 550.5M341.7 550.5 L337.0 549.6M337.0 549.6 L334.0 546.7M350.2 518.4 L342.3 524.2M331.6 522.9 L334.7 524.3M363.9 539.3 L359.3 538.4 L354.8 537.4 L350.1 537.7M349.4 558.6 L346.2 556.5 L344.4 553.1 L341.7 550.5M329.0 567.4 L327.8 562.6M327.8 562.6 L330.4 559.6 L332.1 555.9 L335.2 553.3 L337.0 549.6M277.6 560.5 L281.3 558.7 L284.0 555.4 L287.9 553.9M274.1 537.2 L277.8 538.4 L281.4 539.8 L283.9 543.3 L287.6 544.5M287.9 553.9 L287.6 544.5M291.3 521.4 L292.9 525.9 L293.7 530.6 L296.3 534.8 L297.5 539.4M287.6 544.5 L291.0 542.9 L294.2 541.0 L297.5 539.4M505.8 432.2 L500.3 424.5M498.7 443.1 L497.1 439.0 L493.0 436.9 L490.9 433.1M490.9 433.1 L494.1 430.3 L497.3 427.5 L500.3 424.5M513.0 416.7 L508.8 418.7 L505.0 421.6 L500.5 422.9M500.3 424.5 L500.5 422.9M460.9 439.1 L462.3 435.7 L465.4 433.4 L467.3 430.4M467.3 430.4 L464.0 423.0M452.8 423.5 L453.1 423.0M464.0 423.0 L460.4 424.2 L456.8 422.5 L453.1 423.0M527.3 346.7 L522.5 351.7M527.3 346.7 L531.6 348.3 L535.9 349.8 L540.2 351.3M530.8 362.1 L528.9 358.5 L525.7 356.0 L522.5 353.6M522.5 353.6 L522.5 351.7M524.5 335.6 L525.1 339.4 L527.3 342.8 L527.3 346.7M515.8 347.0 L522.5 351.7M513.7 331.6 L514.4 335.4 L516.0 339.1 L515.1 343.2 L515.8 347.0M540.8 347.6 L540.2 351.3M527.4 378.0 L526.1 374.2 L523.8 371.1 L521.5 367.8M521.5 367.8 L524.7 366.2 L527.4 363.5 L530.8 362.1M531.9 379.4 L535.1 375.6 L537.3 371.2 L538.2 366.1 L541.1 362.1M515.2 358.7 L522.5 353.6M518.5 367.8 L515.2 358.7M521.5 367.8 L518.5 367.8M515.8 347.0 L511.4 352.2M515.2 358.7 L512.6 357.4M511.4 352.2 L512.6 357.4M503.1 322.5 L502.2 326.8 L502.0 331.1 L502.7 335.4 L503.3 339.8 L502.0 344.0 L501.9 348.3M511.4 352.2 L508.5 350.3 L504.9 350.0 L501.9 348.3M512.5 392.2 L509.9 388.7M503.9 403.8 L508.2 404.3M498.9 392.9 L499.9 389.4M498.9 392.9 L500.8 396.4 L502.6 400.0 L503.9 403.8M509.9 388.7 L506.5 388.3 L503.2 388.5 L499.9 389.4M489.6 396.4 L486.7 391.5M489.6 396.4 L498.9 392.9M489.5 385.2 L486.7 391.5M489.5 385.2 L498.4 386.7M498.4 386.7 L499.9 389.4M501.9 348.3 L498.0 354.6M512.6 357.4 L506.9 360.2M506.9 360.2 L503.4 359.1 L500.3 357.5 L498.0 354.6M517.7 368.5 L516.4 372.0 L515.7 375.6 L515.6 379.4M517.7 368.5 L509.0 368.8M509.0 368.8 L505.9 377.4M505.9 377.4 L511.2 381.1M515.6 379.4 L511.2 381.1M519.8 381.5 L515.6 379.4M518.5 367.8 L517.7 368.5M506.4 366.4 L506.9 360.2M506.4 366.4 L509.0 368.8M506.4 366.4 L498.9 367.6M497.7 369.3 L498.9 367.6M498.6 375.8 L497.7 369.3M500.8 377.9 L505.9 377.4M500.8 377.9 L498.6 375.8M500.8 377.9 L498.4 386.7M509.9 388.7 L511.2 381.1M482.1 359.7 L488.8 363.1M482.1 359.7 L484.5 357.0 L484.3 353.0 L487.0 350.6M488.8 363.1 L490.9 360.4 L493.3 357.9 L496.5 356.4M487.0 350.6 L487.5 350.5M487.5 350.5 L491.0 351.2 L494.1 352.9 L496.9 355.1M496.5 356.4 L496.9 355.1M498.9 367.6 L498.4 363.8 L497.6 360.1 L496.5 356.4M497.7 369.3 L489.4 368.1M489.4 368.1 L488.8 363.1M478.9 347.4 L480.0 342.8 L482.5 338.6 L482.2 333.6 L483.3 329.1 L485.4 324.8 L486.8 320.3 L487.7 315.6 L489.6 311.3 L489.9 306.5M478.9 347.4 L487.0 350.6M497.6 315.9 L496.6 320.3 L493.8 324.2 L493.4 328.7 L491.9 333.0 L492.1 337.7 L490.1 341.8 L489.9 346.5 L487.5 350.5M498.0 354.6 L496.9 355.1M478.9 347.4 L478.2 347.6M479.3 360.6 L482.1 359.7M479.3 360.6 L475.1 353.1M475.1 353.1 L478.2 347.6M439.5 372.2 L443.0 371.5 L445.8 368.8 L449.4 368.6M452.4 375.0 L452.8 371.1M452.8 371.1 L449.4 368.6M401.6 393.2 L402.4 393.4M401.0 377.4 L404.6 378.5 L407.7 381.0 L411.7 381.0M411.7 381.0 L412.2 382.0M402.4 393.4 L404.7 390.3 L407.1 387.5 L410.2 385.2 L412.2 382.0M408.8 368.2 L413.5 372.8M408.8 368.2 L410.7 365.3 L411.7 362.1 L412.2 358.7M412.2 358.7 L418.4 358.9M419.2 370.4 L413.5 372.8M419.2 370.4 L419.7 360.6M419.7 360.6 L418.4 358.9M403.1 369.5 L408.8 368.2M411.7 381.0 L413.5 372.8M407.1 354.8 L412.2 358.7M421.1 354.1 L418.4 358.9M430.0 372.8 L425.8 374.7M425.8 374.7 L419.2 370.4M429.3 363.5 L426.3 362.0 L423.0 361.1 L419.7 360.6M433.2 355.8 L426.5 351.9M433.9 359.6 L433.2 355.8M369.7 332.2 L371.2 335.6 L373.7 338.2 L376.7 340.4M369.7 332.2 L373.1 326.4M373.1 326.4 L377.0 329.0 L381.1 330.9 L385.7 332.0M376.7 340.4 L379.1 337.0 L382.9 335.3 L386.2 333.0M386.2 333.0 L385.7 332.0M365.7 333.6 L369.7 332.2M376.4 343.5 L376.7 340.4M373.0 324.0 L373.1 326.4M387.2 320.1 L387.6 324.2 L386.6 328.1 L385.7 332.0M391.0 335.6 L386.2 333.0M341.4 393.9 L344.7 386.2M341.4 393.9 L334.6 396.2M334.6 396.2 L330.7 393.9 L328.4 390.1 L325.7 386.8M344.6 385.8 L344.7 386.2M344.6 385.8 L340.9 382.5 L336.8 379.9 L332.3 377.8M332.3 377.8 L330.7 381.0 L328.0 383.2 L325.6 385.7M325.6 385.7 L325.7 386.8M354.4 385.3 L344.7 386.2M351.7 402.7 L348.8 399.2 L345.0 396.6 L341.4 393.9M330.2 405.9 L330.9 402.3 L332.8 399.3 L334.6 396.2M313.7 396.1 L316.6 393.7 L319.2 390.9 L322.3 388.6 L325.7 386.8M346.0 374.5 L345.5 378.3 L345.7 382.1 L344.6 385.8M332.6 373.6 L332.3 377.8M315.4 377.4 L319.2 379.8 L322.8 382.2 L325.6 385.7M407.1 420.9 L415.3 421.2M407.1 420.9 L404.7 418.1 L405.1 414.2 L403.2 411.2M417.3 408.2 L408.8 405.9M417.3 408.2 L419.5 416.4M419.5 416.4 L415.3 421.2M403.2 411.2 L408.8 405.9M418.5 431.3 L418.0 427.8 L415.2 425.0 L415.3 421.2M402.9 427.4 L407.1 420.9M392.1 410.9 L395.8 410.9 L399.5 411.2 L403.2 411.2M422.9 403.6 L417.3 408.2M434.2 409.5 L430.8 406.8 L426.7 405.5 L422.9 403.6M434.9 413.2 L434.2 409.5M427.1 418.4 L419.5 416.4M402.4 393.4 L407.4 398.0M407.4 398.0 L408.8 405.9M364.3 446.5 L361.0 445.0 L359.1 441.6 L355.7 440.3M364.3 446.5 L363.2 451.2 L365.4 455.9 L364.5 460.6M355.7 440.3 L352.7 443.9 L350.0 447.7 L347.9 451.8 L346.4 456.3M346.4 456.3 L350.5 457.9 L354.9 458.8 L359.1 460.1 L362.7 462.9M364.5 460.6 L362.7 462.9M354.1 434.7 L355.7 440.3M374.4 443.1 L371.1 444.6 L367.7 445.6 L364.3 446.5M381.0 456.5 L376.6 456.3 L372.8 458.6 L368.4 458.9 L364.5 460.6M342.9 457.2 L346.4 456.3M363.2 469.8 L362.7 462.9M297.5 539.4 L301.4 541.3M316.5 530.6 L314.8 536.6M301.4 541.3 L305.5 538.6 L310.7 538.9 L314.8 536.6M334.0 546.7 L329.1 546.7 L324.3 545.4 L319.5 544.9M314.8 536.6 L319.5 544.9M327.8 562.6 L323.3 561.2 L320.2 557.3 L315.6 556.3M319.5 544.9 L317.9 548.6 L316.4 552.3 L315.6 556.3M487.8 451.0 L484.8 447.4 L484.1 442.8 L481.8 438.8M490.9 433.1 L490.1 433.1M490.1 433.1 L486.7 434.1 L484.5 436.8 L481.8 438.8M471.0 444.6 L478.4 438.3M467.3 430.4 L474.8 430.9M478.4 438.3 L474.8 430.9M478.4 438.3 L481.8 438.8M503.9 403.8 L498.1 406.6M500.5 422.9 L493.9 415.8M498.1 406.6 L495.9 409.3 L495.2 412.7 L493.9 415.8M489.6 396.4 L488.8 400.5M498.1 406.6 L495.6 403.7 L491.4 403.3 L488.8 400.5M478.2 403.7 L480.1 405.8M477.4 391.3 L477.5 395.4 L478.1 399.5 L478.2 403.7M486.7 391.5 L477.4 391.3M488.8 400.5 L485.8 402.1 L483.3 404.5 L480.1 405.8M457.1 400.3 L453.2 398.9M457.1 400.3 L462.3 407.6M449.0 413.7 L451.8 416.0M449.0 413.7 L448.5 409.3 L449.2 404.9 L448.2 400.5M451.8 416.0 L455.6 413.9 L459.3 411.7 L462.3 408.5M462.3 407.6 L462.3 408.5M448.2 400.5 L453.2 398.9M436.3 414.2 L440.5 413.0 L444.8 413.8 L449.0 413.7M453.1 423.0 L451.8 416.0M444.0 399.0 L448.2 400.5M438.8 400.9 L444.0 399.0M434.2 409.5 L438.8 400.9M464.0 423.0 L469.7 416.3M469.7 416.3 L466.7 414.2 L465.1 410.8 L462.3 408.5M442.7 388.4 L442.3 392.0 L442.7 395.6 L444.0 399.0M452.8 386.7 L454.7 389.6M454.7 389.6 L453.2 398.9M498.6 375.8 L489.5 377.8M489.4 368.1 L487.4 370.4M487.4 370.4 L489.5 377.8M476.5 390.4 L477.9 387.2 L479.8 384.1 L480.2 380.5M477.4 391.3 L476.5 390.4M489.5 385.2 L487.5 381.2M480.2 380.5 L487.5 381.2M487.5 381.2 L489.5 377.8M478.2 347.6 L474.9 346.3 L471.7 344.9 L469.1 342.3M469.9 353.6 L465.0 346.5M475.1 353.1 L469.9 353.6M469.1 342.3 L465.0 346.5M469.1 342.3 L468.7 337.5 L471.2 333.1 L472.5 328.5 L472.9 323.8 L472.1 319.0 L474.0 314.5 L475.0 309.8 L473.7 304.9 L476.5 300.5 L476.1 295.7M434.9 326.6 L439.8 330.9M439.8 330.9 L444.1 328.7 L446.9 324.6 L450.4 321.4 L454.4 318.8 L458.4 316.2 L461.7 312.9 L464.5 308.8 L468.8 306.5M446.5 358.8 L448.0 360.3M446.5 358.8 L446.7 353.6M448.0 360.3 L452.1 359.3 L456.2 360.7 L460.3 360.1M446.7 353.6 L450.4 349.7M450.4 349.7 L459.1 353.8M459.1 353.8 L460.3 360.1M439.2 361.7 L446.5 358.8M449.4 368.6 L448.0 360.3M433.2 355.8 L438.1 349.1M438.1 349.1 L446.7 353.6M461.5 380.1 L456.8 380.4M461.5 380.1 L463.4 372.4M452.8 371.1 L459.1 368.7M463.4 372.4 L459.1 368.7M460.3 360.1 L460.7 360.5M459.1 368.7 L460.7 360.5M469.9 353.6 L466.7 360.2M464.7 346.5 L465.0 346.5M464.7 346.5 L459.1 353.8M466.7 360.2 L460.7 360.5M425.8 374.7 L424.1 379.4M412.2 382.0 L415.3 383.5M424.1 379.4 L415.3 383.5M301.9 551.0 L306.1 552.5 L308.9 556.3 L313.1 557.7M301.9 551.0 L295.1 556.7M297.5 566.9 L302.1 566.0 L306.8 565.3 L310.9 562.7M297.5 566.9 L295.7 563.7 L295.2 560.3 L295.1 556.7M310.9 562.7 L313.1 557.7M301.4 541.3 L301.9 551.0M315.6 556.3 L313.1 557.7M287.9 553.9 L295.1 556.7M295.6 570.7 L297.5 566.9M316.0 576.9 L314.5 573.4 L313.0 570.0 L311.8 566.4 L310.9 562.7M488.7 416.1 L485.2 414.0 L482.5 411.0 L480.1 407.8M488.7 416.1 L483.8 423.6M478.1 424.5 L483.8 423.6M478.1 424.5 L476.6 421.2 L473.8 418.9 L471.4 416.2M471.4 416.2 L473.6 412.7 L476.5 409.9 L480.1 407.8M493.9 415.8 L488.7 416.1M480.1 405.8 L480.1 407.8M490.1 433.1 L487.2 430.4 L486.4 426.4 L483.8 423.6M474.8 430.9 L478.1 424.5M469.7 416.3 L471.4 416.2M478.2 403.7 L469.7 402.0M469.7 402.0 L462.3 407.6M475.0 390.2 L468.2 383.1M475.0 390.2 L467.1 394.6M467.1 394.6 L465.3 394.1M465.3 394.1 L462.5 388.9M462.5 388.9 L464.7 383.4M464.7 383.4 L468.2 383.1M469.7 402.0 L467.1 394.6M476.5 390.4 L475.0 390.2M457.1 400.3 L460.1 398.5 L463.1 396.8 L465.3 394.1M454.7 389.6 L462.5 388.9M461.5 380.1 L464.7 383.4M473.3 376.3 L477.6 377.0M473.3 376.3 L469.7 371.7M477.6 377.0 L481.6 370.5M469.7 371.7 L472.0 364.6M481.6 370.5 L477.5 363.1M477.5 363.1 L472.0 364.6M468.2 383.1 L473.3 376.3M480.2 380.5 L477.6 377.0M463.4 372.4 L469.7 371.7M487.4 370.4 L481.6 370.5M466.7 360.2 L472.0 364.6M479.3 360.6 L477.5 363.1M468.8 306.5 L465.5 310.3 L463.3 314.7 L462.3 319.6 L459.7 323.8 L458.4 328.6 L455.7 332.7M464.7 346.5 L457.4 342.4M457.4 342.4 L455.7 332.7M450.4 349.7 L450.6 348.2M457.4 342.4 L450.6 348.2M440.1 334.7 L444.7 338.6M440.1 334.7 L433.0 338.1M433.0 338.1 L432.3 343.8M444.7 338.6 L444.7 339.5M444.7 339.5 L442.1 342.0 L439.6 344.5 L437.7 347.5M432.3 343.8 L437.7 347.5M455.7 332.7 L452.1 334.8 L447.9 335.9 L444.7 338.6M439.8 330.9 L440.1 334.7M428.4 334.5 L433.0 338.1M428.3 345.4 L432.3 343.8M450.6 348.2 L449.7 344.6 L447.5 341.8 L444.7 339.5M438.1 349.1 L437.7 347.5M417.6 393.1 L418.2 390.8M417.6 393.1 L423.1 401.2M418.2 390.8 L422.1 389.8 L426.0 388.9 L430.0 388.6M423.1 401.2 L426.3 399.7 L428.8 397.5 L430.9 394.7M430.9 394.7 L430.5 388.8M430.5 388.8 L430.0 388.6M407.4 398.0 L410.3 395.4 L413.8 393.9 L417.6 393.1M415.3 383.5 L418.2 390.8M422.9 403.6 L423.1 401.2M424.1 379.4 L426.6 382.1 L427.7 385.8 L430.0 388.6M438.8 400.9 L435.4 399.8 L434.2 395.9 L430.9 394.7M435.8 385.8 L430.5 388.8" fill="none" stroke="#fbfbfb" stroke-width="0.95" stroke-linejoin="round"/>
<path d="M243.5 306.6 L246.6 305.1 L249.7 303.5 L252.8 302.6 L256.0 302.4 L257.2 300.5 L259.1 299.3 L259.5 303.1 L261.1 306.6 L260.5 310.2 L260.1 313.8 L262.2 315.8 L264.2 318.0 L263.3 320.7 L263.9 323.6 L263.2 326.3 L259.5 326.8 L256.0 328.3 L252.9 327.4 L249.7 327.3 L246.6 326.8 L243.5 327.3 L242.9 324.6 L242.3 321.8 L242.5 319.0 L242.7 315.9 L242.5 312.8 L242.9 309.7Z" fill="#ecd6c8" stroke="#fbfbfb" stroke-width="0.95" stroke-linejoin="round"/>
<path d="M280.8 354.2 L284.3 353.0 L287.7 351.3 L291.2 350.1 L292.4 347.3 L294.3 344.8 L295.3 341.8 L298.2 341.5 L300.7 340.0 L303.6 339.7 L305.9 341.4 L308.4 342.5 L310.9 343.9 L311.6 347.5 L311.9 351.1 L310.6 353.6 L309.5 356.2 L307.8 358.4 L306.1 361.0 L305.0 363.9 L303.6 366.7 L300.5 366.9 L297.4 367.7 L294.3 365.6 L291.2 363.6 L288.5 362.6 L285.5 362.7 L282.9 361.5 L281.1 359.6 L279.8 357.4Z" fill="#ecd6c8" stroke="#fbfbfb" stroke-width="0.95" stroke-linejoin="round"/>
<path d="M211.4 392.6 L214.4 391.7 L217.6 391.7 L220.7 391.6 L223.5 392.0 L226.1 393.4 L229.0 393.6 L228.1 396.1 L228.0 398.8 L225.2 399.3 L222.5 400.4 L219.7 400.9 L216.2 399.4 L212.4 398.8 L211.5 395.8Z" fill="#ecd6c8" stroke="#fbfbfb" stroke-width="0.95" stroke-linejoin="round"/>
<path d="M272.0 281.0 L275.0 281.0 L278.0 281.0 L278.4 283.8 L278.0 286.5 L275.0 286.3 L272.0 286.5 L271.6 283.8Z" fill="#ecd6c8" stroke="#fbfbfb" stroke-width="0.95" stroke-linejoin="round"/>
<path d="M268.4 414.4 L271.0 415.5 L273.6 416.4 L274.7 419.1 L275.1 421.9 L275.6 424.7 L279.4 424.6 L283.2 424.5 L287.0 424.7 L289.7 422.8 L292.7 421.4 L295.3 419.5 L297.2 421.5 L299.7 422.8 L301.6 424.7 L301.7 427.6 L303.4 430.1 L303.6 433.0 L300.6 435.3 L297.4 437.2 L293.8 437.3 L290.5 438.8 L287.0 439.2 L284.2 439.0 L281.6 438.3 L278.8 438.2 L276.0 436.9 L273.9 434.7 L271.5 433.0 L269.6 430.5 L268.6 427.6 L267.4 424.7 L268.0 421.3 L268.3 417.9Z" fill="#ecd6c8" stroke="#fbfbfb" stroke-width="0.95" stroke-linejoin="round"/>
<path d="M315.0 406.1 L317.5 404.4 L319.6 402.3 L322.3 400.9 L325.5 401.7 L328.5 402.9 L328.9 406.7 L329.0 410.6 L329.5 414.4 L328.9 418.0 L327.6 421.3 L326.4 424.7 L324.2 426.6 L321.9 428.5 L320.2 430.9 L317.7 428.8 L315.0 426.8 L314.2 423.4 L314.8 419.8 L314.0 416.4 L314.5 413.0 L314.3 409.5Z" fill="#ecd6c8" stroke="#fbfbfb" stroke-width="0.95" stroke-linejoin="round"/>
<path d="M349.2 418.5 L351.3 415.4 L353.4 412.3 L356.8 410.4 L360.0 408.1 L361.0 411.6 L362.5 414.9 L362.0 417.6 L362.0 420.4 L361.5 423.2 L360.2 425.6 L358.3 427.5 L356.3 429.4 L352.7 428.3 L349.1 427.3 L347.2 424.7 L348.5 421.7Z" fill="#ecd6c8" stroke="#fbfbfb" stroke-width="0.95" stroke-linejoin="round"/>
<path d="M225.9 439.2 L228.6 437.3 L231.1 435.1 L234.6 437.0 L238.3 438.2 L239.4 441.8 L240.4 445.4 L238.9 447.7 L237.3 450.0 L234.5 450.1 L231.8 449.7 L229.0 450.0 L227.0 448.0 L225.9 445.4 L226.1 442.3Z" fill="#ecd6c8" stroke="#fbfbfb" stroke-width="0.95" stroke-linejoin="round"/>
<path d="M379.1 408.7 L381.6 406.4 L382.8 403.1 L384.9 400.6 L387.4 398.3 L390.9 397.7 L394.3 396.9 L397.8 396.2 L397.7 399.7 L398.6 403.1 L398.8 406.6 L398.4 409.7 L397.8 412.8 L394.7 413.2 L391.5 413.1 L388.4 413.5 L385.3 413.8 L383.5 412.3 L381.2 411.8Z" fill="#ecd6c8" stroke="#fbfbfb" stroke-width="0.95" stroke-linejoin="round"/>
<path d="M194.6 448.7 L198.4 448.7 L202.2 448.2 L206.0 447.6 L205.0 451.2 L204.9 454.9 L203.4 457.2 L201.7 459.2 L199.7 461.1 L197.0 460.5 L194.6 459.0 L195.0 455.6 L195.1 452.1Z" fill="#ecd6c8" stroke="#fbfbfb" stroke-width="0.95" stroke-linejoin="round"/>
<path d="M202.8 462.1 L206.7 461.8 L210.7 461.7 L214.6 460.3 L218.5 460.0 L222.5 460.0 L222.6 463.2 L221.5 466.3 L222.6 469.1 L224.1 471.6 L224.6 474.6 L221.0 473.7 L217.4 472.5 L213.6 471.3 L210.1 469.4 L206.5 468.6 L202.8 468.3 L202.5 465.2Z" fill="#ecd6c8" stroke="#fbfbfb" stroke-width="0.95" stroke-linejoin="round"/>
<path d="M226.7 436.2 L230.1 435.7 L233.5 435.1 L237.0 435.2 L238.9 438.2 L240.8 441.2 L242.2 444.5 L240.4 447.8 L238.1 450.7 L235.3 451.1 L232.6 451.9 L229.8 451.8 L228.7 449.2 L227.5 446.7 L225.6 444.5 L225.4 441.7 L226.1 438.9Z" fill="#ecd6c8" stroke="#fbfbfb" stroke-width="0.95" stroke-linejoin="round"/>
<path d="M418.3 432.5 L421.7 432.0 L424.8 430.6 L427.7 431.6 L430.6 432.5 L431.6 434.3 L431.9 436.4 L434.9 436.5 L437.7 437.7 L436.8 440.2 L436.4 442.9 L434.3 444.8 L431.8 446.0 L429.9 448.1 L427.4 449.5 L424.8 450.7 L421.4 450.6 L418.3 449.4 L417.5 446.8 L417.0 444.2 L418.2 441.6 L419.6 439.0 L418.7 435.8Z" fill="#ecd6c8" stroke="#fbfbfb" stroke-width="0.95" stroke-linejoin="round"/>
<path d="M362.5 475.0 L365.8 475.5 L368.8 477.0 L369.5 480.1 L369.2 483.3 L369.4 486.4 L369.8 489.5 L367.3 490.9 L364.6 491.6 L363.1 489.0 L362.7 486.0 L361.5 483.3 L361.6 480.5 L362.1 477.8Z" fill="#ecd6c8" stroke="#fbfbfb" stroke-width="0.95" stroke-linejoin="round"/>
<path d="M371.9 475.0 L375.1 474.7 L378.2 473.9 L381.2 472.9 L383.2 475.1 L385.0 477.3 L387.4 479.1 L385.5 481.6 L384.3 484.4 L383.3 487.4 L380.5 487.9 L377.8 487.7 L375.0 487.4 L373.2 484.1 L370.8 481.2 L371.7 478.2Z" fill="#ecd6c8" stroke="#fbfbfb" stroke-width="0.95" stroke-linejoin="round"/>
<path d="M385.3 481.2 L388.5 480.4 L391.5 478.9 L394.5 477.6 L397.8 477.0 L401.1 475.9 L404.6 475.5 L408.1 475.0 L408.9 477.2 L410.2 479.1 L407.0 479.9 L403.8 480.7 L400.9 482.2 L397.8 483.3 L395.7 485.3 L393.7 487.5 L391.6 489.5 L389.6 488.3 L387.4 487.4 L386.6 484.2Z" fill="#ecd6c8" stroke="#fbfbfb" stroke-width="0.95" stroke-linejoin="round"/>
<path d="M159.3 476.6 L162.8 475.9 L166.3 475.2 L169.8 475.1 L173.4 475.2 L176.9 474.6 L178.8 477.3 L181.1 479.7 L179.4 482.8 L178.0 486.0 L175.7 487.6 L173.4 489.2 L170.7 490.1 L168.0 489.2 L165.2 488.6 L162.4 488.0 L161.4 484.2 L160.4 480.4Z" fill="#ecd6c8" stroke="#fbfbfb" stroke-width="0.95" stroke-linejoin="round"/>
<path d="M159.3 510.8 L162.8 510.5 L166.3 510.2 L169.9 510.5 L173.4 511.0 L176.9 510.8 L179.0 512.9 L180.9 515.8 L183.0 518.5 L185.2 521.2 L183.4 524.4 L181.1 527.4 L179.0 529.9 L176.1 531.4 L173.8 533.6 L171.4 534.9 L169.0 536.3 L166.6 537.8 L165.2 534.3 L163.9 530.8 L162.4 527.4 L162.2 524.5 L161.6 521.7 L160.4 519.1 L159.8 516.4 L159.2 513.6Z" fill="#ecd6c8" stroke="#fbfbfb" stroke-width="0.95" stroke-linejoin="round"/>
<path d="M212.2 483.9 L214.2 482.0 L216.6 480.8 L218.4 478.7 L222.1 478.8 L225.8 478.8 L229.6 478.3 L233.3 478.4 L237.0 478.7 L238.7 480.8 L240.8 482.5 L242.2 484.9 L240.9 487.9 L239.9 491.0 L239.1 494.2 L235.9 496.1 L232.9 498.4 L229.8 499.0 L226.7 498.4 L223.6 498.1 L220.5 498.4 L217.6 499.5 L215.0 501.2 L212.2 502.5 L211.8 499.7 L210.6 497.0 L210.1 494.2 L210.3 490.7 L211.9 487.4Z" fill="#ecd6c8" stroke="#fbfbfb" stroke-width="0.95" stroke-linejoin="round"/>
<path d="M210.1 506.7 L213.0 505.4 L215.6 503.5 L217.6 500.9 L220.5 499.4 L223.6 499.5 L226.7 499.1 L229.8 498.3 L232.9 498.4 L232.6 501.9 L231.5 505.3 L230.8 508.8 L230.7 512.3 L229.4 515.7 L228.8 519.1 L228.8 522.8 L229.8 526.4 L226.5 525.9 L223.4 524.9 L220.5 523.3 L217.7 522.1 L215.1 520.3 L212.2 519.1 L209.9 516.2 L207.0 513.9 L208.3 510.2Z" fill="#ecd6c8" stroke="#fbfbfb" stroke-width="0.95" stroke-linejoin="round"/>
<path d="M288.9 479.7 L292.3 480.1 L295.8 480.4 L299.2 480.8 L302.0 483.0 L304.9 485.1 L307.1 488.0 L310.0 490.1 L309.7 493.4 L310.6 496.6 L310.7 499.8 L308.6 500.7 L306.6 501.9 L304.6 500.8 L302.3 500.5 L298.8 499.0 L295.1 498.4 L294.7 495.6 L293.5 492.9 L293.0 490.1 L291.8 486.6 L290.3 483.1Z" fill="#ecd6c8" stroke="#fbfbfb" stroke-width="0.95" stroke-linejoin="round"/>
<path d="M290.0 483.3 L293.2 484.1 L296.2 485.3 L298.7 487.6 L301.0 490.1 L303.5 492.5 L305.9 494.9 L308.3 497.3 L310.7 499.8 L308.5 500.5 L306.6 501.9 L304.0 500.3 L301.0 499.4 L298.3 497.8 L295.2 496.1 L293.1 493.2 L290.0 491.6 L289.5 488.8 L290.0 486.1Z" fill="#ecd6c8" stroke="#fbfbfb" stroke-width="0.95" stroke-linejoin="round"/>
<path d="M307.6 501.9 L310.7 500.9 L313.0 498.3 L316.0 496.9 L319.0 495.7 L322.1 495.9 L325.2 496.0 L328.4 495.7 L331.5 495.7 L332.5 499.1 L332.4 502.7 L333.5 506.1 L332.6 509.2 L331.6 512.2 L330.7 515.3 L330.4 518.5 L327.1 519.5 L324.4 521.6 L321.1 522.6 L318.1 521.7 L315.6 519.8 L312.8 518.5 L312.5 515.6 L311.1 513.1 L310.7 510.2 L309.4 507.5 L308.1 504.9Z" fill="#ecd6c8" stroke="#fbfbfb" stroke-width="0.95" stroke-linejoin="round"/>
<path d="M212.2 537.8 L215.6 536.2 L219.2 535.4 L222.5 533.6 L225.3 532.3 L228.1 531.0 L230.8 529.5 L234.0 529.6 L237.1 530.2 L240.2 531.1 L243.3 531.6 L245.7 533.3 L247.3 535.9 L249.5 537.8 L251.4 541.0 L253.6 544.0 L250.7 545.6 L248.4 548.0 L245.3 549.2 L242.2 548.9 L239.1 548.3 L236.0 548.1 L232.9 548.1 L230.1 549.5 L227.2 550.7 L224.6 552.3 L221.7 551.1 L218.8 550.0 L216.3 548.1 L214.0 545.3 L211.1 543.0 L211.7 540.4Z" fill="#ecd6c8" stroke="#fbfbfb" stroke-width="0.95" stroke-linejoin="round"/>
<path d="M246.4 526.4 L247.7 523.0 L249.9 520.1 L251.6 517.0 L255.0 518.6 L257.8 521.2 L259.2 524.8 L261.6 528.0 L263.0 531.6 L262.1 534.3 L262.5 537.1 L261.9 539.8 L259.1 541.2 L256.6 543.1 L253.6 544.0 L251.6 540.9 L249.5 537.8 L247.0 536.1 L245.3 533.6 L246.2 530.0Z" fill="#ecd6c8" stroke="#fbfbfb" stroke-width="0.95" stroke-linejoin="round"/>
<path d="M265.0 533.6 L267.3 531.3 L269.9 529.5 L272.3 527.4 L274.3 525.3 L276.4 523.3 L277.7 525.7 L279.7 527.6 L281.6 529.5 L281.7 532.3 L281.9 535.1 L282.6 537.8 L281.3 540.6 L280.3 543.5 L278.5 546.1 L276.0 548.9 L274.4 552.3 L271.4 550.8 L268.1 550.2 L266.9 547.5 L264.7 545.4 L263.0 543.0 L263.3 539.8 L264.5 536.8Z" fill="#ecd6c8" stroke="#fbfbfb" stroke-width="0.95" stroke-linejoin="round"/>
<path d="M245.3 549.2 L248.2 547.8 L250.7 545.5 L253.6 544.0 L256.4 544.2 L259.1 542.9 L261.9 543.0 L263.9 545.4 L265.9 547.9 L268.1 550.2 L270.2 552.3 L272.3 554.4 L270.2 556.1 L268.2 557.9 L266.1 559.5 L263.2 561.1 L260.7 563.1 L257.8 564.7 L255.2 563.5 L252.3 563.3 L249.5 562.6 L247.9 559.5 L246.4 556.4 L246.1 552.8Z" fill="#ecd6c8" stroke="#fbfbfb" stroke-width="0.95" stroke-linejoin="round"/>
<path d="M211.1 554.4 L214.3 553.9 L217.4 553.3 L220.5 552.3 L223.6 553.2 L226.6 554.7 L229.8 555.3 L232.9 556.4 L235.0 559.1 L236.7 562.2 L239.1 564.7 L240.1 567.4 L240.1 570.3 L241.2 573.0 L238.5 574.0 L235.5 573.8 L232.9 575.1 L231.8 577.5 L229.8 579.2 L227.5 577.7 L225.2 576.0 L222.5 575.1 L219.8 572.9 L217.3 570.5 L214.2 568.9 L211.9 567.1 L210.1 564.6 L208.0 562.6 L209.6 560.1 L210.1 557.1Z" fill="#ecd6c8" stroke="#fbfbfb" stroke-width="0.95" stroke-linejoin="round"/>
<path d="M184.6 565.2 L186.8 563.7 L189.2 562.4 L191.5 561.0 L195.2 562.0 L198.9 562.6 L202.1 563.9 L205.3 565.3 L208.6 566.5 L211.8 567.8 L212.8 571.2 L212.3 574.7 L213.1 578.1 L210.0 579.3 L207.1 581.0 L204.5 583.2 L201.5 584.6 L198.2 584.7 L195.0 583.8 L191.7 584.0 L188.5 583.3 L186.9 580.6 L185.1 578.1 L183.3 575.5 L183.6 572.1 L184.1 568.6Z" fill="#ecd6c8" stroke="#fbfbfb" stroke-width="0.95" stroke-linejoin="round"/>
<path d="M166.6 537.8 L169.1 536.6 L171.7 535.5 L173.8 533.6 L174.8 536.7 L176.4 539.7 L177.1 542.9 L178.0 546.1 L178.8 549.4 L178.9 552.8 L179.4 556.1 L180.6 559.3 L181.1 562.6 L183.2 563.3 L184.6 565.0 L184.8 567.8 L185.9 570.4 L184.1 573.2 L182.9 576.2 L182.0 579.4 L178.0 579.1 L174.2 578.1 L173.1 575.4 L172.1 572.7 L171.0 570.0 L170.0 566.2 L169.6 562.3 L168.7 558.5 L167.6 555.5 L167.6 552.2 L166.4 549.2 L165.5 546.1 L166.1 543.4 L165.9 540.5Z" fill="#ecd6c8" stroke="#fbfbfb" stroke-width="0.95" stroke-linejoin="round"/>
<path d="M185.9 585.9 L189.8 586.0 L193.7 585.2 L197.6 584.7 L201.5 584.6 L203.2 587.1 L204.0 590.0 L204.7 592.6 L206.0 595.0 L202.5 596.5 L198.8 597.5 L198.1 600.0 L197.5 602.5 L199.3 605.0 L201.0 607.5 L199.9 611.2 L200.0 615.0 L198.0 615.6 L196.3 617.0 L194.6 614.4 L192.5 612.0 L191.1 609.2 L189.5 605.9 L188.4 602.4 L187.2 598.9 L186.9 595.6 L186.0 592.5 L186.3 589.1Z" fill="#ecd6c8" stroke="#fbfbfb" stroke-width="0.95" stroke-linejoin="round"/>
<path d="M212.5 570.0 L216.2 570.4 L220.0 570.1 L223.8 569.8 L227.5 569.6 L231.2 569.4 L235.0 569.6 L238.8 570.6 L242.5 570.0 L242.4 573.5 L242.5 577.0 L239.6 576.9 L236.7 575.8 L233.8 576.0 L230.7 577.6 L227.5 578.8 L228.0 582.5 L224.8 582.5 L221.5 583.0 L218.2 582.4 L215.0 582.5 L214.8 579.3 L213.4 576.3 L213.5 573.0Z" fill="#ecd6c8" stroke="#fbfbfb" stroke-width="0.95" stroke-linejoin="round"/>
<path d="M282.6 512.9 L286.2 513.1 L289.6 514.1 L293.0 515.0 L291.4 517.9 L290.9 521.2 L287.8 520.6 L284.7 521.2 L283.8 518.5 L283.0 515.7Z" fill="#ecd6c8" stroke="#fbfbfb" stroke-width="0.95" stroke-linejoin="round"/>
<path d="M278.5 546.1 L280.6 544.0 L282.3 541.5 L284.7 539.8 L287.8 539.3 L291.0 539.5 L294.1 538.8 L297.2 538.8 L299.0 541.0 L299.4 543.9 L301.3 546.1 L300.8 549.6 L299.9 553.0 L299.2 556.4 L296.5 557.9 L293.7 559.2 L290.9 560.6 L288.1 560.7 L285.4 559.3 L282.6 559.5 L280.4 557.4 L279.0 554.8 L277.5 552.3 L277.6 549.1Z" fill="#ecd6c8" stroke="#fbfbfb" stroke-width="0.95" stroke-linejoin="round"/>
<path d="M279.2 573.0 L283.1 572.5 L286.9 571.5 L290.9 571.5 L294.7 570.4 L297.7 572.2 L300.8 573.8 L303.8 575.5 L304.1 578.8 L303.4 582.0 L304.1 585.2 L303.8 588.5 L300.2 589.0 L296.6 588.4 L293.1 588.8 L289.5 588.5 L286.5 587.6 L283.4 587.0 L280.5 585.9 L277.7 583.5 L275.3 580.7 L276.5 578.1 L278.0 575.6Z" fill="#ecd6c8" stroke="#fbfbfb" stroke-width="0.95" stroke-linejoin="round"/>
<path d="M335.5 575.0 L338.0 572.3 L340.0 569.3 L341.2 565.8 L344.0 563.3 L345.5 560.0 L348.9 561.5 L351.6 563.9 L354.9 565.6 L358.0 567.5 L361.0 568.6 L364.3 568.6 L367.4 569.1 L370.5 570.0 L368.6 573.2 L367.5 576.8 L365.5 580.0 L361.8 580.7 L358.6 582.8 L355.1 584.0 L351.4 584.4 L348.0 586.0 L344.8 587.6 L341.6 589.2 L338.0 590.0 L335.3 587.7 L333.0 585.0 L333.6 581.6 L335.0 578.4Z" fill="#ecd6c8" stroke="#fbfbfb" stroke-width="0.95" stroke-linejoin="round"/>
<path d="M406.4 553.6 L408.1 550.8 L410.0 548.0 L412.8 550.0 L415.2 552.5 L416.0 554.7 L416.4 556.9 L415.1 560.1 L414.1 563.5 L412.9 565.6 L410.8 566.8 L407.5 564.6 L405.3 561.3 L406.4 557.5Z" fill="#ecd6c8" stroke="#fbfbfb" stroke-width="0.95" stroke-linejoin="round"/>
<path d="M489.3 351.6 L492.6 348.8 L498.1 346.6 L500.9 345.5 L502.0 349.4 L502.0 356.0 L500.9 361.5 L500.9 368.1 L501.4 372.6 L506.9 374.2 L510.2 375.9 L513.6 376.4 L516.9 377.5 L520.2 382.5 L521.9 386.9 L520.2 391.4 L520.2 396.9 L518.0 402.4 L514.7 406.8 L512.5 410.1 L506.9 411.2 L504.7 414.0 L499.2 414.0 L493.7 411.8 L490.4 407.9 L488.7 402.4 L489.3 398.0 L492.6 395.2 L490.4 390.2 L491.5 384.7 L493.7 381.4 L495.9 377.0 L493.1 375.9 L492.6 371.5 L488.1 370.4 L484.8 368.7 L485.9 365.4 L483.7 363.7 L481.0 363.2 L477.1 364.8 L473.8 367.0 L470.5 369.8 L466.6 370.4 L466.0 368.1 L467.7 364.8 L468.3 359.9 L471.0 358.2 L476.0 359.9 L478.8 362.1 L482.6 361.5 L485.9 362.1 L486.5 358.8 L489.3 356.5Z" fill="#d09475" stroke="#f6e2d2" stroke-width="0.7" stroke-linejoin="round"/>
<path d="M395.4 520.4 L398.7 513.8 L402.0 510.5 L407.5 509.4 L411.9 507.2 L416.4 503.3 L420.2 504.4 L421.3 508.3 L417.5 511.0 L415.2 514.9 L411.9 521.5 L408.6 523.7 L404.2 525.4 L402.5 530.4 L399.8 531.5 L397.6 528.1 L394.8 524.3Z" fill="#b96446" stroke="#f6e2d2" stroke-width="0.7" stroke-linejoin="round"/>
<path d="M404.2 525.4 L408.6 523.7 L411.9 521.5 L415.2 515.4 L417.5 517.1 L419.7 521.5 L423.5 521.5 L426.9 524.3 L428.0 529.3 L428.0 535.9 L425.2 537.5 L421.9 534.8 L417.5 535.9 L414.1 537.0 L412.0 539.8 L407.5 537.0 L404.2 534.8 L399.8 532.6 L399.8 531.5 L402.5 530.4Z" fill="#b96446" stroke="#f6e2d2" stroke-width="0.7" stroke-linejoin="round"/>
<path d="M369.9 556.9 L374.4 553.6 L378.2 550.2 L382.1 547.5 L384.9 544.7 L387.6 546.4 L390.9 548.0 L389.3 553.6 L387.6 558.0 L384.3 560.2 L379.9 561.3 L375.5 564.1 L370.5 565.7 L369.4 561.3Z" fill="#b96446" stroke="#f6e2d2" stroke-width="0.7" stroke-linejoin="round"/>
<path d="M392.0 548.0 L395.4 549.7 L398.1 553.0 L400.9 550.3 L404.2 550.8 L406.4 553.6 L406.4 556.9 L405.3 561.3 L407.5 564.6 L410.8 566.8 L414.1 563.5 L413.6 567.9 L409.7 572.3 L404.2 576.8 L398.7 579.0 L395.4 575.7 L390.9 574.0 L385.4 571.2 L382.1 567.9 L383.2 563.5 L387.6 559.1 L389.3 553.6Z" fill="#b96446" stroke="#f6e2d2" stroke-width="0.7" stroke-linejoin="round"/>
<path d="M378.2 511.6 L381.0 510.5 L383.8 512.7 L386.5 515.4 L390.4 515.4 L393.1 517.1 L394.3 520.4 L394.8 524.3 L397.6 528.1 L399.8 532.0 L396.5 533.1 L390.9 533.1 L386.5 532.6 L386.0 528.1 L383.8 523.7 L382.7 519.3 L381.0 516.5 L378.8 514.9Z" fill="#973209" stroke="#f6e2d2" stroke-width="0.7" stroke-linejoin="round"/>
<path d="M386.5 533.1 L393.1 533.7 L399.8 532.6 L404.2 534.8 L407.5 537.0 L411.9 539.8 L411.4 542.0 L407.5 544.2 L405.3 546.9 L404.2 550.8 L400.9 550.3 L398.1 553.0 L395.4 549.7 L392.0 547.5 L387.6 546.4 L384.9 544.2 L386.0 539.2Z" fill="#a03a0e" stroke="#f6e2d2" stroke-width="0.7" stroke-linejoin="round"/>
<path d="M183.5 115.8 L197.0 115.8 L216.6 121.6 L232.0 123.5 L247.7 119.7 L255.5 113.8 L267.0 108.0 L278.8 102.0 L288.5 94.4 L288.5 40.0 L140.0 40.0 L140.0 116.0Z" fill="#dcdcdc"/>
<path d="M288.5 94.4 L278.8 102.0 L267.0 108.0 L255.5 113.8 L251.6 121.6 L255.5 137.0 L262.0 150.0 L262.0 162.0 L267.5 168.8 L275.0 170.0 L280.0 167.5 L287.5 177.5 L296.0 178.8 L300.0 200.0 L345.0 200.0 L345.0 80.0 L288.5 80.0Z" fill="#dcdcdc"/>
<path d="M58.0 398.0 L122.5 398.0 L122.5 410.0 L126.0 418.8 L122.5 427.5 L115.0 431.0 L107.5 433.8 L104.0 440.0 L90.0 445.0 L75.0 440.0 L58.0 425.0Z" fill="#dcdcdc"/>
<path d="M489.3 356.5 L493.1 355.4 L502.0 356.0M493.1 355.4 L492.0 361.0 L497.0 362.1 L497.5 368.1 L500.9 368.1M485.9 362.1 L487.0 367.0 L492.6 368.1 L497.5 368.1M492.6 368.1 L492.6 371.5M493.7 381.4 L499.2 382.0 L504.7 383.1M504.7 383.1 L506.4 379.2 L510.2 375.9M504.7 383.1 L502.5 391.4 L499.2 394.7M510.8 377.5 L511.9 381.4 L511.4 388.0 L511.9 394.7 L514.7 398.0 L515.2 405.7M511.4 388.0 L520.2 391.4M502.5 394.7 L511.9 396.9M492.6 395.2 L499.2 398.0 L501.4 405.7 L503.6 410.1M490.4 407.9 L499.2 406.8 L501.4 405.7M501.4 405.7 L506.9 411.2" fill="none" stroke="#f6e2d2" stroke-width="0.8"/>
<path d="M122.5 398.0 L122.5 410.0 L126.0 418.8 L122.5 427.5 L115.0 431.0 L107.5 433.8" fill="none" stroke="#fff" stroke-width="1.1"/>
<path d="M183.5 115.8 L197.0 115.8 L216.6 121.6 L232.0 123.5 L247.7 119.7 L255.5 113.8 L267.0 108.0 L278.8 102.0 L288.5 94.4M255.5 113.8 L251.6 121.6 L255.5 137.0 L262.0 150.0 L262.0 162.0M288.5 94.4 L290.4 110.0 L298.0 129.4 L306.0 137.0 L313.7 141.0 L321.5 133.0" fill="none" stroke="#fff" stroke-width="1.1"/>
</g>
<path d="M260.8 283.4 L264.0 281.4 L267.8 282.6 L270.2 285.7 L268.6 289.6 L265.5 292.0 L261.6 290.4 L259.0 288.0Z" fill="#efefef"/>
<g fill="none" stroke="#7d7d7d" stroke-width="1.5" stroke-linejoin="round" stroke-linecap="round">
<path d="M223.8 185.0 L226.4 183.8 L229.4 183.7 L232.3 183.5 L235.0 182.5 L235.5 180.0 L235.8 177.5 L235.5 175.0 L236.3 172.5 L236.0 170.0 L238.4 168.8 L240.3 166.9 L243.0 166.2 L245.0 164.4 L248.0 164.4 L250.0 162.5 L252.7 162.3 L254.9 160.6 L257.5 160.0 L259.7 161.5 L261.2 163.8 L263.8 164.9 L265.8 166.6 L267.5 168.8 L270.1 168.7 L272.5 169.3 L275.0 170.0 L277.6 168.9 L280.0 167.5 L280.9 169.9 L283.4 171.2 L283.9 173.9 L285.9 175.6 L287.5 177.5 L290.2 178.6 L293.1 178.8 L296.0 178.8"/>
<path d="M223.8 185.0 L224.9 186.7 L226.6 188.0 L227.5 190.0 L228.6 192.2 L230.4 193.8 L232.5 195.0 L233.8 197.5 L234.8 200.1 L236.7 202.3 L237.9 204.8 L239.1 207.3 L240.0 210.0 L241.4 211.9 L243.7 213.0 L245.0 215.0 L247.5 215.8 L250.0 215.0 L252.2 216.2 L253.7 218.0 L255.0 220.0 L257.3 220.7 L258.8 222.9 L261.0 223.8 L262.2 225.8 L263.0 228.1 L264.3 230.2 L265.0 232.5 L267.4 234.2 L270.1 235.5 L272.7 236.8 L275.0 238.8 L277.0 238.2 L278.9 237.6 L281.0 237.5"/>
<path d="M308.8 215.0 L306.4 216.1 L303.8 216.0 L301.0 215.6 L298.1 216.0 L295.3 214.9 L292.5 215.0 L289.9 216.1 L287.6 217.7 L284.9 218.6 L282.5 220.0 L281.6 222.5 L281.5 225.2 L280.0 227.5 L280.2 230.0 L280.3 232.5 L280.7 235.0 L281.0 237.5 L279.1 238.3 L278.0 240.0 L275.9 241.6 L274.4 243.9 L272.7 245.9 L270.5 247.5 L269.8 250.3 L267.6 252.3 L266.8 255.0 L266.1 257.5 L266.0 260.0 L265.9 262.5 L265.5 265.0 L265.5 267.5 L265.9 270.0 L265.5 272.5 L266.1 275.0 L265.5 277.5 L265.9 280.0 L266.8 282.5 L267.8 285.1 L269.0 287.6 L270.5 290.0 L272.0 292.3 L273.4 294.7 L274.0 297.5 L273.9 300.0 L273.0 302.5 L273.0 305.0 L271.7 306.7 L270.0 308.1 L269.0 310.0 L270.0 312.5 L271.0 314.9 L271.8 317.5 L272.5 319.7 L274.7 321.0 L275.9 322.9 L276.8 325.0 L277.7 327.6 L279.0 330.0 L276.9 331.5 L275.1 333.4 L273.0 335.0 L274.2 336.3 L275.5 337.5 L278.0 336.5 L280.6 335.9 L283.2 335.3 L285.5 333.8 L288.0 334.3 L290.5 333.8"/>
<path d="M336.8 282.5 L333.8 281.7 L330.9 282.6 L328.0 282.5 L325.7 280.6 L323.2 278.9 L320.3 278.0 L318.0 276.0 L315.8 275.3 L314.3 273.4 L312.0 272.8 L310.5 271.0 L308.7 270.0 L307.5 268.2 L305.5 267.5 L304.3 265.2 L301.8 264.1 L300.1 262.3 L299.0 260.0 L296.8 259.0 L295.3 256.9 L293.0 256.0 L291.4 258.3 L289.1 259.7 L286.8 261.0 L284.7 260.3 L283.1 259.2 L281.8 257.5 L281.5 255.0 L280.6 252.6 L280.7 250.0 L280.5 247.5 L282.1 245.2 L283.0 242.5 L280.7 240.9 L278.0 240.0"/>
<path d="M188.5 250.5 L190.8 251.6 L193.3 251.9 L195.8 252.1 L198.4 251.7 L200.9 252.3 L203.3 253.0 L203.0 255.3 L203.3 257.7 L203.4 260.4 L205.1 262.7 L204.9 265.5 L206.8 266.7 L208.0 268.6 L210.1 269.0 L212.1 267.5 L214.2 267.8 L216.5 268.4 L218.9 268.6 L221.4 269.9 L223.5 271.7 L224.3 274.4 L225.0 277.1 L226.6 279.5 L227.3 281.9 L228.3 284.1 L229.2 286.4 L229.7 288.8 L231.1 290.9 L232.7 292.8 L234.5 294.6 L236.0 296.6 L237.5 298.3 L239.0 300.0 L238.6 302.5 L238.7 305.1 L238.0 307.5 L240.3 305.8 L243.0 305.0 L245.0 303.1 L246.8 301.0 L249.8 300.9 L252.6 302.2 L255.5 302.5 L257.6 301.0 L259.0 298.8 L259.4 301.0 L261.2 302.8 L261.8 305.0 L262.5 307.5 L263.0 310.0 L265.0 310.7 L267.0 309.8 L269.0 310.0"/>
<path d="M203.3 253.0 L205.5 253.3 L207.4 252.1 L209.5 252.0 L211.6 252.8 L213.7 253.4 L216.0 253.0 L217.7 254.6 L218.6 256.9 L220.4 258.5 L221.2 261.0 L222.9 258.8 L225.0 257.0 L227.0 255.9 L229.1 255.7 L231.3 255.4 L233.3 256.0 L235.5 255.2 L237.5 256.0 L240.0 254.7 L242.2 253.0 L242.7 250.6 L243.7 248.4 L245.9 247.1 L248.4 246.8 L249.9 245.2 L251.5 243.7 L253.8 242.4 L256.2 241.4 L258.1 240.1 L260.0 239.0 L260.4 236.9 L260.2 234.9 L259.3 232.9 L257.4 231.6 L256.2 229.7 L257.4 228.3 L257.0 226.6 L255.9 224.9 L254.6 223.5"/>
<path d="M260.8 283.4 L262.6 282.7 L264.0 281.4 L265.7 282.6 L267.8 282.6 L269.6 283.7 L270.2 285.7 L268.7 287.4 L268.6 289.6 L266.7 290.4 L265.5 292.0 L263.3 291.9 L261.6 290.4 L260.6 288.8 L259.0 288.0 L260.4 285.9 L260.8 283.4"/>
<path d="M122.5 393.8 L124.9 392.9 L127.5 393.0 L130.0 392.5 L132.4 393.6 L135.0 393.4 L137.5 393.4 L140.0 393.8 L142.5 393.8 L145.1 393.8 L147.4 395.5 L150.0 395.0 L151.6 396.6 L154.0 397.2 L155.5 398.9 L157.5 400.0 L160.0 400.3 L162.5 400.7 L165.0 399.6 L167.5 400.0 L169.0 402.4 L170.0 405.0 L171.0 407.5 L173.0 408.3 L174.3 410.0 L176.0 411.0 L175.8 413.7 L176.6 416.2 L177.5 418.8 L180.0 420.4 L181.8 422.8 L183.8 425.0 L186.1 425.2 L188.1 426.2 L190.0 427.5 L191.9 428.7 L194.1 429.5 L195.8 430.9 L197.5 432.5 L198.7 434.4 L199.3 436.6 L200.0 438.8"/>
<path d="M200.0 438.8 L201.0 436.2 L203.4 434.7 L205.0 432.5 L206.0 430.0 L205.3 427.5 L205.0 425.0 L206.6 423.2 L208.4 421.5 L210.2 419.8 L212.5 418.8 L211.6 415.9 L211.0 413.0 L211.0 410.0 L211.9 407.6 L211.8 405.0 L210.6 402.6 L209.9 400.1 L210.3 397.3 L209.0 395.0 L210.3 392.9 L209.8 390.3 L210.8 388.2 L211.8 386.0 L214.1 386.2 L216.1 384.7 L218.4 384.5 L220.5 383.8 L222.0 385.2 L223.7 386.4 L225.5 387.5 L228.2 387.7 L230.4 389.5 L233.0 390.0 L233.8 392.7 L235.5 395.0 L235.1 397.5 L234.7 400.0 L234.0 402.5 L232.5 404.4 L231.0 406.3 L230.5 408.8 L228.4 409.4 L227.5 411.6 L225.5 412.5 L226.4 414.5 L228.0 416.0 L230.0 415.2 L232.3 415.2 L234.0 413.8 L236.9 413.2 L239.2 411.2 L241.8 410.0 L242.4 407.5 L241.8 405.0 L243.3 404.2 L244.0 402.5 L246.4 402.5 L248.5 403.6 L250.6 405.1 L253.0 405.0 L255.3 403.4 L258.0 402.5 L258.7 400.0 L259.9 397.6 L260.5 395.0 L259.4 393.0 L259.3 390.7 L258.0 388.8 L258.8 386.8 L260.6 385.5 L261.8 383.8 L264.2 382.9 L266.3 381.2 L269.0 381.0 L270.7 379.5 L271.8 377.5 L270.1 375.9 L268.0 375.0 L265.4 374.8 L263.1 376.2 L260.5 376.0 L258.0 375.2 L255.3 375.0 L253.0 373.8 L252.7 371.5 L251.9 369.3 L251.7 367.0 L250.5 365.0 L251.3 362.8 L252.7 361.0 L253.7 359.0 L255.5 357.5 L257.9 356.5 L259.6 354.7 L261.2 352.5 L263.7 351.8 L265.5 350.0 L267.4 348.4 L269.4 346.9 L271.8 345.9 L273.7 344.3 L275.5 342.5 L278.0 341.2 L280.4 339.7 L282.9 338.6 L285.5 337.5 L287.1 336.1 L288.5 334.6 L290.5 333.8"/>
<path d="M290.5 333.8 L293.1 334.2 L295.5 335.2 L298.0 336.1 L300.7 336.1 L303.0 337.5 L305.2 339.1 L307.0 341.2 L309.5 342.3 L311.8 343.8 L312.1 345.8 L312.1 348.0 L313.0 350.0 L311.7 352.5 L310.7 355.2 L309.0 357.5 L307.4 358.9 L307.1 361.1 L305.5 362.5 L304.1 364.4 L303.3 366.4 L303.0 368.8 L300.5 369.9 L298.0 371.2 L295.5 372.5 L294.9 375.3 L293.0 377.5 L295.2 378.3 L296.8 380.0 L295.2 381.4 L294.0 383.1 L293.0 385.0 L291.6 387.4 L290.5 390.0 L291.5 392.4 L291.0 395.1 L291.8 397.5 L292.4 399.6 L293.8 401.2 L295.5 402.5 L298.0 403.2 L300.5 403.2 L303.0 403.8 L304.6 402.4 L306.0 400.8 L308.0 400.0 L307.6 397.4 L309.4 395.1 L309.0 392.5 L307.7 390.1 L306.5 387.6 L305.5 385.0 L304.6 382.5 L304.6 379.8 L303.0 377.5 L305.3 376.1 L306.8 373.8 L308.4 375.8 L310.5 377.5 L312.8 379.2 L315.5 380.0 L318.0 379.2 L320.6 378.6 L323.0 377.5 L325.3 379.2 L328.0 380.0 L330.6 378.9 L332.7 376.7 L335.5 376.0 L338.0 375.4 L340.5 375.0 L341.6 377.6 L343.0 380.0 L345.4 381.5 L348.0 382.5 L350.7 382.3 L353.1 381.3 L355.5 380.0 L356.8 381.6 L357.9 383.3 L359.0 385.0 L361.0 383.7 L362.6 382.0 L364.0 380.0 L363.9 380.0 L366.1 380.0 L368.3 380.3 L370.4 380.7 L372.4 382.4 L374.7 383.8 L376.8 385.3 L378.4 386.8 L379.9 388.3 L382.0 389.1 L384.2 390.5 L386.3 392.3 L388.5 393.7 L391.0 392.6 L393.7 392.4 L396.2 393.5 L398.9 393.7 L399.2 396.4 L400.2 398.9 L399.4 401.4 L398.9 404.0 L399.2 406.4 L399.6 408.8 L398.9 411.2 L401.6 411.8 L404.0 413.1 L406.6 412.4 L409.2 412.5 L410.8 411.2 L411.9 409.5 L413.1 407.9 L414.1 405.9 L414.6 403.8 L414.4 401.5 L414.7 399.4 L415.7 397.6 L417.0 396.9"/>
<path d="M200.0 438.8 L198.9 441.0 L199.3 443.6 L198.8 446.0 L196.4 446.9 L194.8 449.0 L192.5 450.0 L193.4 452.5 L194.5 454.9 L195.0 457.5 L196.6 459.2 L198.8 460.4 L200.0 462.5 L201.4 464.9 L202.5 467.5 L199.9 467.3 L197.4 467.2 L195.0 466.0 L192.4 466.0 L189.9 466.4 L187.5 467.5 L187.5 470.1 L186.3 472.5 L186.0 475.0 L188.0 476.3 L190.0 477.5 L188.4 479.3 L186.6 480.7 L185.0 482.5 L183.5 484.1 L182.5 486.0 L184.0 487.5 L185.0 489.2 L186.0 491.0 L184.8 492.7 L183.0 493.9 L182.5 496.0 L179.8 496.1 L177.5 497.5 L176.6 499.9 L176.6 502.5 L176.0 505.0 L173.6 506.2 L171.5 507.7 L170.0 510.0 L167.7 508.6 L164.8 508.8 L162.5 507.5"/>
<path d="M202.5 467.5 L203.8 468.6 L205.5 468.8 L208.2 469.6 L210.2 471.9 L213.0 472.5 L215.5 473.8 L218.0 474.2 L220.5 475.1 L223.1 474.9 L225.5 476.0 L228.3 475.8 L230.9 476.5 L233.6 476.5 L236.3 477.5 L239.0 477.5 L240.4 479.5 L241.8 481.6 L243.0 483.8 L244.9 483.0 L246.9 482.5 L249.0 482.5 L251.2 480.5 L253.4 478.6 L254.6 475.8 L256.8 473.8 L259.2 472.9 L261.0 471.0 L263.5 470.4 L265.5 468.8 L268.0 468.3 L270.5 468.9 L273.0 468.8 L274.4 470.8 L275.0 473.2 L276.8 475.0 L279.7 475.4 L282.6 474.4 L285.5 475.0 L287.8 473.6 L290.5 473.3 L293.0 472.5 L295.6 472.5 L298.1 472.9 L300.5 473.8 L303.1 474.0 L305.6 473.6 L308.0 472.5 L310.3 470.9 L312.8 470.1 L315.5 470.0 L318.0 470.8 L320.3 471.9 L322.8 472.5 L325.5 472.5 L328.0 472.8 L330.5 472.9 L333.0 472.5 L335.5 472.5 L338.0 473.4 L340.3 474.8 L343.2 474.5 L345.5 476.0 L347.4 475.1 L349.0 473.8"/>
<path d="M349.0 473.8 L350.0 470.9 L351.3 468.2 L352.2 465.4 L353.0 462.5 L354.3 460.1 L355.6 457.7 L356.4 455.1 L356.5 452.3 L358.0 450.0 L360.3 448.4 L363.0 447.4 L365.4 446.1 L368.0 445.0 L370.2 446.6 L373.0 446.8 L375.2 445.1 L376.8 442.9 L377.6 440.7 L378.3 438.5 L379.4 436.4 L380.9 434.8 L383.0 433.9 L384.6 432.5 L385.3 429.9 L384.6 427.4 L382.5 426.5 L381.1 424.9 L379.4 423.5 L377.2 422.9 L375.2 421.6 L373.0 420.9 L372.0 419.1 L371.7 417.0 L371.3 414.9 L372.3 413.1 L374.6 413.6 L377.1 413.3 L379.4 413.8 L381.5 414.4 L383.6 415.2 L385.9 415.0 L388.5 415.1 L391.1 415.7 L393.7 415.0 L395.7 414.1 L396.8 411.9 L398.9 411.2"/>
<path d="M349.0 473.8 L348.8 476.2 L346.7 477.9 L346.0 480.2 L345.5 482.5 L346.5 484.9 L345.9 487.5 L346.7 490.0 L345.9 492.6 L346.8 495.0 L345.5 497.4 L345.7 500.1 L344.5 502.5 L344.0 505.0 L344.4 507.5 L345.1 509.9 L345.2 512.5 L345.5 515.0 L347.3 516.5 L348.9 518.3 L350.5 520.0 L350.6 522.7 L351.8 525.1 L353.0 527.5 L350.8 529.4 L348.0 530.0 L346.5 531.8 L344.1 532.8 L343.0 535.0 L341.8 537.4 L341.2 539.9 L340.5 542.5 L341.5 545.1 L343.0 547.5"/>
<path d="M343.0 547.5 L340.9 546.6 L338.9 545.5 L337.5 543.5 L335.5 542.5 L333.9 540.2 L333.2 537.4 L331.8 535.0 L330.9 532.6 L331.9 529.9 L331.1 527.5 L330.5 525.0 L327.9 524.5 L325.3 524.0 L323.0 522.5 L320.4 522.4 L317.9 522.7 L315.5 523.8 L312.9 522.7 L310.2 521.8 L308.0 520.0 L305.5 519.2 L303.0 519.4 L300.5 520.0 L298.3 518.4 L295.8 517.2 L294.0 515.0 L293.3 517.4 L292.6 519.9 L293.0 522.5 L291.3 524.6 L289.4 526.4 L287.0 527.7 L285.5 530.0 L283.5 531.7 L281.7 533.6 L280.5 536.0 L280.6 538.3 L281.6 540.4 L280.7 542.8 L281.8 545.0 L279.5 546.5 L277.5 548.3 L276.1 550.8 L274.0 552.5 L271.3 553.6 L268.1 553.4 L265.5 555.0 L263.7 556.5 L263.5 559.1 L262.3 561.0 L260.5 562.5 L259.7 564.7 L257.8 566.1 L257.1 568.3 L255.5 570.0 L253.2 570.5 L251.0 570.0 L249.8 572.5 L248.0 574.7 L247.5 577.5 L244.7 577.2 L241.9 577.6 L239.2 577.2 L236.5 576.6 L233.8 576.0 L231.8 577.2 L229.8 578.3 L227.5 578.8 L228.6 581.1 L228.6 583.5 L228.8 586.0 L227.1 587.7 L225.0 588.8 L222.6 589.6 L220.1 590.2 L217.5 589.8 L214.9 589.8 L212.5 590.9 L210.0 591.0 L208.4 593.4 L206.0 595.0 L203.6 595.9 L201.4 597.3 L198.8 597.5 L198.7 600.1 L197.5 602.5 L199.0 603.9 L199.3 606.2 L201.0 607.5 L201.4 610.1 L200.4 612.5 L200.0 615.0 L198.2 616.3 L196.0 616.0 L194.5 617.5 L192.2 618.1 L191.0 620.0 L188.6 619.5 L186.2 620.0 L183.8 620.0"/>
<path d="M196.0 616.0 L196.1 619.0 L197.8 621.6 L198.7 624.5 L198.8 627.5 L199.1 630.1 L197.7 632.4 L197.2 634.9 L197.5 637.5 L195.2 638.1 L193.8 640.0 L193.1 638.1 L192.0 636.5"/>
<path d="M274.0 552.5 L274.2 555.1 L275.2 557.5 L275.7 560.1 L276.8 562.5 L276.8 565.2 L275.0 567.4 L274.1 569.9 L273.8 572.5 L273.0 575.0 L272.9 577.5 L273.1 580.0 L272.5 582.5 L272.3 585.0 L271.8 587.5 L271.0 589.9 L271.2 592.5 L271.0 595.0 L270.3 597.5 L269.8 600.1 L268.8 602.5 L270.7 603.7 L273.0 603.9 L275.0 605.0 L275.7 607.9 L274.9 610.8 L275.0 613.8"/>
<path d="M275.0 613.8 L277.5 613.5 L280.0 613.6 L282.5 614.2 L285.0 614.0 L287.5 614.6 L290.0 615.0 L292.2 613.2 L295.0 612.5 L297.5 611.3 L299.9 609.8 L302.5 608.8 L305.2 607.8 L307.5 606.0 L309.0 604.1 L311.7 604.1 L313.1 602.2 L315.0 601.0 L315.8 598.3 L317.5 596.0 L320.0 595.6 L322.5 595.5 L324.9 594.6 L327.5 595.5 L330.0 595.0 L332.0 593.6 L333.8 592.0 L335.8 590.5 L337.5 588.8 L340.2 588.4 L342.5 586.9 L345.0 586.0 L347.5 585.5 L350.2 585.6 L352.6 584.9 L355.0 583.8 L357.2 581.7 L359.7 580.1 L362.8 579.6 L365.0 577.5 L366.8 575.5 L367.7 572.7 L370.0 571.0 L370.8 568.3 L372.5 566.0"/>
<path d="M343.0 547.5 L344.6 549.6 L347.1 550.9 L349.1 552.7 L350.5 555.0 L352.7 556.5 L354.4 558.7 L356.8 560.0 L357.5 561.9 L357.0 564.1 L358.0 566.0 L360.5 566.5 L363.0 566.8 L365.5 567.3 L368.0 567.5 L370.3 566.9 L372.5 566.0"/>
<path d="M372.5 566.0 L374.4 565.6 L375.5 564.0 L377.5 562.2 L380.0 561.3 L382.3 561.2 L384.3 560.2 L386.0 559.2 L387.6 558.0 L389.2 556.1 L389.3 553.6 L390.3 551.8 L391.0 549.8 L392.0 548.0 L394.0 548.2 L395.4 549.7 L396.8 551.3 L398.1 553.0 L400.0 552.2 L400.9 550.3 L402.4 551.3 L404.2 550.8 L404.4 548.8 L405.3 547.0 L406.8 545.9 L407.5 544.2 L409.2 542.7 L411.4 542.0 L412.0 539.8 L413.2 538.5 L414.1 537.0 L415.8 536.3 L417.5 535.9 L419.6 535.0 L421.9 534.8 L423.6 536.1 L425.2 537.5 L426.0 539.9 L427.4 542.0 L429.5 543.1 L431.8 543.6 L434.5 542.6 L437.3 542.0 L438.3 540.5 L440.0 540.0"/>
<path d="M431.0 450.0 L428.6 451.6 L426.4 453.7 L423.8 455.0 L421.9 456.5 L421.1 458.6 L419.9 460.5 L418.8 462.5 L417.6 464.9 L418.6 467.6 L417.5 470.0 L415.9 471.6 L415.4 474.0 L414.1 475.8 L412.5 477.5 L411.5 480.1 L410.0 482.5 L407.4 482.8 L404.8 483.2 L402.4 484.3 L400.1 485.6 L397.5 486.0 L396.3 488.0 L394.5 489.5 L392.9 491.2 L391.0 492.5 L390.7 495.0 L390.3 497.5 L390.0 500.0 L391.2 502.4 L391.7 504.9 L391.3 507.6 L392.5 510.0 L391.0 512.4 L390.0 515.0 L387.4 515.2 L385.1 513.6 L382.5 513.8 L380.3 512.7 L378.2 511.6 L378.7 513.2 L378.8 514.9 L381.0 516.5 L381.4 518.2 L382.7 519.3 L383.0 521.6 L383.8 523.7 L385.0 525.9 L386.0 528.1 L386.4 530.5 L386.5 533.0 L386.3 535.1 L385.6 537.1 L386.0 539.2 L385.1 541.8 L384.9 544.5 L384.0 546.4 L382.1 547.5 L380.6 549.5 L378.2 550.2 L376.5 552.1 L374.4 553.6 L372.4 555.6 L370.0 557.0 L369.3 559.1 L369.4 561.3 L369.8 563.5 L370.5 565.7 L372.5 566.0"/>
<path d="M413.1 407.9 L415.5 409.4 L417.0 411.8 L418.6 413.6 L420.6 415.2 L422.2 417.0 L423.5 418.8 L425.6 419.7 L427.4 420.9 L428.2 423.1 L428.4 425.5 L429.9 427.4 L430.7 429.5 L430.2 431.8 L431.2 433.8 L433.4 435.0 L435.4 436.6 L437.7 437.7 L436.3 440.1 L436.4 442.9 L433.9 444.3 L432.0 446.2 L429.9 448.1 L431.0 450.0"/>
<path d="M431.0 450.0 L433.2 450.3 L435.5 450.7 L437.8 450.4 L440.0 451.0 L442.5 451.7 L445.0 451.4 L447.5 451.4 L450.0 450.9 L452.5 451.0 L452.6 453.4 L453.4 455.6 L454.2 457.8 L455.0 460.0 L457.4 459.0 L460.0 459.1 L462.5 458.8 L464.8 460.0 L467.5 460.0 L470.0 460.2 L472.5 461.0 L473.6 459.0 L473.7 456.5 L474.9 454.5 L476.0 452.5 L478.3 451.0 L480.0 448.8 L482.5 450.0 L485.1 451.1 L487.2 453.2 L490.0 453.8 L492.0 452.9 L494.0 451.8 L496.0 451.0"/>
<path d="M518.5 378.0 L520.0 380.0 L520.2 382.5 L521.7 384.5 L521.9 387.0 L521.2 389.3 L520.2 391.4 L520.8 394.2 L520.2 397.0 L518.5 399.5 L518.0 402.4 L516.9 405.0 L514.7 406.8 L513.6 408.4 L512.5 410.0 L509.8 410.9 L507.0 411.2 L505.4 412.2 L504.7 414.0 L502.0 414.8 L499.2 414.5 L497.6 415.3 L495.9 415.7 L495.0 417.5 L493.7 419.0 L492.0 420.1 L490.3 421.2 L488.1 421.2 L485.4 421.8 L482.6 422.3 L480.5 423.4 L478.2 423.1 L476.0 423.8 L475.9 426.1 L474.8 428.0 L473.8 430.0 L475.1 431.6 L475.7 433.7 L477.5 435.0 L480.3 435.7 L482.8 437.0 L484.8 439.2 L487.5 440.0 L489.3 441.6 L489.3 444.3 L491.0 446.0 L492.6 447.7 L494.6 449.1 L496.0 451.0"/>
<path d="M496.0 451.0 L495.8 453.7 L496.9 456.2 L497.5 458.8 L499.9 460.0 L501.2 462.7 L503.8 463.8 L505.5 465.3 L506.8 467.4 L508.8 468.8 L511.0 469.2 L512.5 471.0"/>
<path d="M417.0 396.9 L419.7 397.1 L422.1 395.5 L424.9 396.0 L427.4 395.0 L430.1 396.0 L432.5 397.6 L434.9 399.2 L437.8 400.0 L440.3 401.5 L443.0 400.4 L445.6 399.1 L448.1 397.6 L450.6 397.3 L452.6 398.9 L455.0 399.0 L457.0 397.8 L459.4 397.6 L461.6 396.9 L464.1 395.9 L466.2 394.1 L468.3 392.5 L470.2 391.1 L471.6 389.1 L474.4 389.3 L477.1 390.2 L478.8 391.9 L480.4 393.6 L482.9 394.8 L484.8 396.9 L486.5 398.0 L488.1 399.1 L488.8 397.3 L490.4 396.3 L493.1 395.2 L495.2 395.7 L497.1 394.5 L499.2 394.7 L501.0 393.2 L502.5 391.4 L503.1 388.6 L503.6 385.8 L504.6 383.9 L506.3 382.5 L506.9 380.3 L509.3 379.1 L511.4 377.5 L513.5 377.1 L515.2 375.9 L517.1 376.5 L518.5 378.0"/>
<path d="M518.5 378.0 L518.9 375.9 L519.0 373.7 L520.8 372.1 L522.4 370.4 L523.1 368.2 L524.0 366.0 L522.8 364.2 L521.3 362.6 L520.7 361.0 L520.2 359.3 L521.6 357.6 L523.0 356.0 L524.6 354.2 L526.8 353.2 L528.0 350.9 L530.1 349.4 L529.5 347.6 L528.5 346.0 L526.8 344.4"/>
<path d="M423.5 321.0 L425.4 322.9 L425.8 325.6 L427.2 327.8 L428.5 330.0 L430.8 331.4 L432.8 333.2 L433.6 336.1 L436.0 337.5 L434.2 338.9 L432.4 340.3 L430.2 341.0 L428.5 342.5 L429.0 345.3 L431.1 347.4 L432.0 350.0 L430.2 351.3 L429.9 353.5 L428.5 355.0 L430.7 356.9 L433.4 357.8 L436.3 358.2 L438.5 360.0 L439.7 362.1 L442.3 362.9 L443.5 365.0 L441.2 366.5 L438.5 366.5 L436.0 367.5 L433.2 367.8 L431.3 370.2 L428.2 369.8 L425.9 371.2 L423.5 372.5 L421.4 373.5 L419.9 375.2 L418.0 376.4 L416.0 377.5 L415.5 380.1 L414.3 382.5 L413.5 385.0 L414.6 387.4 L415.6 389.7 L415.7 392.4 L416.5 394.6 L417.0 396.9"/>
<path d="M527.0 317.5 L529.2 319.4 L532.0 320.0 L533.9 319.3 L536.0 319.4 L538.0 319.0 L540.6 317.7 L543.5 317.5"/>
<path d="M568.5 338.8 L568.4 341.7 L568.0 344.6 L568.5 347.5 L568.0 350.1 L566.2 352.3 L566.0 355.0"/>
<path d="M621.0 332.5 L623.8 332.2 L626.6 331.5 L629.4 332.0 L632.3 331.8 L635.0 331.0 L637.5 331.5 L640.1 330.7 L642.5 331.3 L645.0 331.7 L647.4 333.0 L650.0 332.5 L652.5 332.2 L655.0 331.5 L657.6 331.3 L659.9 329.9 L662.5 330.0 L664.6 328.3 L666.4 326.4 L667.8 324.0 L670.0 322.5 L671.5 320.2 L673.2 318.1 L675.0 316.0 L677.7 316.1 L680.0 314.7 L682.3 313.6 L685.0 313.8 L687.7 313.3 L690.2 312.4 L692.4 310.7 L695.0 310.0 L697.9 309.3 L700.8 308.7 L703.2 306.8 L706.0 306.0 L708.7 306.3 L711.3 306.1 L714.0 306.0 L714.4 308.0 L715.0 310.0 L713.6 311.6 L711.9 313.0 L711.0 315.0 L711.4 317.3 L712.4 319.3 L714.0 321.0 L715.0 323.8"/>
<path d="M702.5 332.5 L699.7 333.2 L696.8 332.9 L694.0 333.8 L692.0 335.1 L689.8 335.6 L687.5 336.0 L685.7 337.8 L683.3 338.8 L682.0 341.1 L680.0 342.5 L678.0 344.3 L676.7 346.7 L674.7 348.5 L672.5 350.0 L671.0 351.7 L669.9 353.7 L668.5 355.4 L667.5 357.5 L665.9 359.2 L664.2 360.8 L662.5 362.5 L661.0 364.7 L659.1 366.6 L657.4 368.6 L655.0 370.0 L654.9 372.6 L653.8 375.0 L653.8 377.5 L653.8 380.0"/>
<path d="M681.0 370.0 L678.2 370.1 L675.5 370.1 L672.8 369.4 L670.0 370.0 L667.9 369.4 L665.8 370.3 L663.8 370.0 L661.3 371.6 L659.1 373.5 L657.5 376.0 L655.2 377.6 L653.8 380.0"/>
<path d="M653.8 380.0 L652.5 382.5 L651.3 385.0 L650.0 387.5 L648.3 389.8 L646.9 392.3 L646.0 395.0 L645.9 397.5 L645.3 400.0 L645.0 402.5 L646.9 404.7 L648.8 406.9 L651.0 408.8"/>
<path d="M568.5 362.5 L570.7 361.6 L572.7 360.4 L575.0 360.0 L578.0 360.3 L580.9 359.8 L583.8 358.8 L586.6 359.6 L589.5 360.1 L592.5 360.0 L595.3 360.6 L597.3 362.9 L600.0 363.8 L602.2 361.9 L604.9 361.1 L607.5 360.0 L609.6 359.0 L611.6 357.6 L613.9 357.1 L616.0 356.0 L618.7 356.4 L621.5 356.3 L624.0 357.5 L625.0 359.5 L625.3 361.7 L626.0 363.8 L626.9 366.1 L628.4 368.1 L630.0 370.0 L632.2 370.9 L633.7 373.1 L636.0 373.8 L636.4 376.4 L637.5 378.8 L635.5 379.6 L633.8 381.0"/>
<path d="M626.5 402.5 L626.3 405.2 L626.5 407.9 L626.7 410.6 L626.9 413.3 L627.0 416.0"/>
<path d="M628.8 406.0 L630.9 404.9 L632.9 403.7 L635.0 402.5 L637.5 401.2 L640.0 400.0 L640.9 401.9 L642.6 403.3 L643.8 405.0 L646.4 405.7 L648.5 407.7 L651.0 408.8"/>
<path d="M275.0 613.8 L272.6 614.7 L270.0 614.5 L267.4 613.9 L265.0 615.0 L264.6 617.6 L263.6 620.1 L262.5 622.5 L262.8 625.2 L263.6 627.7 L265.0 630.0 L263.1 631.5 L260.8 632.4 L259.0 634.1 L257.5 636.0 L257.8 638.9 L258.7 641.7 L258.6 644.6 L258.8 647.5 L260.0 650.0 L262.0 652.1 L262.5 655.0 L262.9 657.6 L261.0 659.9 L261.9 662.6 L261.0 665.0 L262.7 666.8 L265.0 667.5 L267.3 666.2 L270.1 666.3 L272.5 665.0 L273.4 666.4 L275.0 667.0 L277.8 666.6 L280.2 665.3 L282.5 663.8 L285.1 664.1 L287.5 665.0 L289.4 666.4 L290.1 668.7 L291.8 670.2 L292.5 672.5 L293.9 674.0 L294.8 675.8 L296.0 677.5 L296.5 680.2 L296.0 683.0 L294.7 685.1 L293.0 687.0 L292.5 689.5"/>
<path d="M265.0 667.5 L263.5 665.2 L262.9 662.5 L262.0 660.0 L263.6 658.5 L264.3 656.4 L266.0 655.0 L267.9 655.9 L270.1 655.3 L272.0 656.0 L273.5 658.3 L274.0 661.0 L273.3 663.0 L272.5 665.0"/>
<path d="M292.5 689.5 L290.0 690.3 L287.5 689.2 L285.0 689.4 L282.5 689.5 L279.9 690.9 L277.7 692.6 L276.0 695.0 L275.4 697.6 L274.9 700.3 L275.0 703.0 L276.6 704.7 L278.3 706.4 L280.0 708.0 L277.9 709.2 L276.4 711.0 L275.0 713.0 L272.5 713.5 L269.9 712.9 L267.6 714.5 L264.9 713.7 L262.5 714.5 L260.2 715.8 L258.8 718.0 L255.8 718.4 L252.9 718.4 L250.0 718.0 L247.6 719.3 L245.0 720.0"/>
<path d="M292.5 689.5 L293.3 691.4 L295.4 692.5 L296.0 694.5 L296.9 691.8 L298.5 689.5 L299.1 686.7 L301.0 684.5 L303.3 684.2 L305.3 682.5 L307.6 682.1 L310.0 682.0 L312.6 681.8 L315.1 681.5 L317.5 680.3 L320.0 680.0 L323.0 680.3 L325.9 679.8 L328.8 678.8 L329.7 676.8 L330.9 675.1 L332.5 673.8 L335.1 673.9 L337.6 673.2 L340.0 672.5"/>
<path d="M212.5 690.0 L214.1 691.7 L216.4 692.8 L217.5 695.0 L218.4 697.1 L220.4 698.5 L221.0 700.8 L222.5 702.5 L222.0 705.4 L220.0 707.5 L222.4 706.4 L225.0 706.0 L227.5 707.1 L229.9 708.3 L232.5 709.0 L234.0 710.8 L236.3 711.4 L238.3 712.4 L240.0 714.0 L241.9 715.8 L243.0 718.2 L245.0 720.0"/>
<path d="M526.7 465.3 L527.8 463.6 L528.7 461.8 L529.1 460.1 L529.0 458.3 L526.7 456.6 L524.9 455.4 L523.2 454.2 L522.3 452.3 L521.4 450.4"/>
<path d="M245.0 720.0 L246.2 722.1 L247.9 723.7 L250.0 725.0 L252.2 726.5 L253.7 728.7 L255.0 731.0 L255.9 733.2 L255.6 735.6 L256.5 737.7 L257.0 740.0 L257.6 742.2 L258.1 744.4 L259.1 746.4 L260.0 748.5 L262.3 750.2 L265.3 750.3 L267.5 752.0 L267.3 754.5 L266.8 757.0 L267.3 759.5 L268.1 762.0 L267.5 764.5 L268.1 767.2 L269.2 769.8 L271.0 772.0 L270.4 774.6 L269.3 777.0 L268.5 779.5 L267.5 782.0 L268.2 784.5 L267.3 787.0 L267.8 789.5 L268.0 792.0 L267.5 794.5 L267.7 797.0 L267.8 799.6 L268.8 802.0"/>
<path d="M154.5 77.5 L155.7 75.0 L157.0 72.5 L159.8 71.6 L162.5 70.5 L164.6 68.3 L165.6 65.5 L167.2 63.0 L168.8 60.5 L170.9 60.0 L172.8 58.9 L175.0 58.8 L177.0 58.8 L179.0 58.9 L181.0 58.8 L182.7 57.4 L183.8 55.5 L185.8 54.9 L187.9 55.2 L190.0 55.5 L191.7 54.0 L194.2 53.9 L196.0 52.5 L198.3 52.4 L200.4 51.1 L202.9 52.0 L205.0 51.0 L207.2 50.4 L208.8 48.8 L211.2 50.1 L213.8 51.0 L215.9 50.7 L217.8 49.5 L220.0 49.5 L222.2 50.9 L223.3 53.2 L225.0 55.0 L227.3 56.4 L229.1 58.4 L230.9 60.4 L232.5 62.5 L235.3 63.2 L237.5 65.0 L240.0 66.2 L242.5 67.5 L244.1 69.1 L246.2 70.0 L248.0 71.4 L250.0 72.5 L251.7 74.6 L253.2 76.8 L255.0 78.8 L255.9 80.8 L257.0 82.8 L257.5 85.0 L260.1 86.6 L262.9 87.5 L265.8 88.3 L268.8 88.8 L269.8 90.8 L271.5 92.4 L272.5 94.5 L275.0 93.9 L277.5 93.8 L280.0 93.3 L282.5 93.8 L285.2 92.5 L287.4 90.5 L290.3 89.5 L292.4 87.4 L295.0 86.0 L297.6 86.3 L300.1 85.7 L302.4 84.2 L304.9 84.1 L307.6 84.7 L310.0 83.8 L312.5 82.3 L315.0 81.0 L317.3 82.6 L320.1 82.9 L322.7 83.4 L325.0 85.0 L327.0 85.2 L329.0 85.4 L331.0 85.0 L333.2 86.6 L335.3 88.3 L337.0 90.5 L338.8 92.5 L338.1 95.0 L338.4 97.5 L339.3 100.0 L339.1 102.5 L338.8 105.0 L338.6 107.4 L338.0 109.6 L336.3 111.4 L336.0 113.8 L334.7 116.3 L332.5 118.2 L331.0 120.5 L329.5 123.0 L327.5 125.0 L324.9 125.2 L322.5 126.0 L322.5 128.7 L321.3 131.1 L321.0 133.8 L318.4 135.2 L315.5 135.7 L312.9 136.9 L310.0 137.5 L309.0 140.1 L307.5 142.5 L308.2 145.3 L310.0 147.5 L308.4 149.8 L307.5 152.5 L309.3 153.4 L310.5 155.3 L312.5 156.0 L314.7 156.5 L316.7 157.7 L318.8 158.8 L319.4 161.5 L321.0 163.8 L320.5 166.1 L320.9 168.7 L320.0 171.0 L320.7 173.1 L322.8 174.1 L323.8 176.0 L321.9 177.9 L319.3 179.0 L317.5 181.0 L315.4 182.2 L313.2 183.3 L311.2 184.5 L308.8 185.0 L307.0 183.4 L306.3 181.2 L304.7 179.6 L303.8 177.5 L301.1 177.8 L298.6 178.5 L296.0 178.8 L296.8 181.2 L297.5 183.8 L297.5 186.1 L298.8 188.1 L299.3 190.3 L300.0 192.5 L300.8 194.8 L302.9 196.4 L303.8 198.8 L304.2 201.6 L303.2 204.4 L303.3 207.2 L303.8 210.0 L305.7 211.4 L307.4 213.0 L308.8 215.0 L310.2 212.6 L311.0 210.0 L311.8 212.5 L314.0 214.2 L314.4 216.9 L315.7 219.1 L317.5 221.0 L320.0 221.7 L322.5 222.0 L325.1 222.1 L327.6 222.6 L330.0 223.8 L331.8 226.1 L334.6 227.1 L336.4 229.4 L338.8 231.0 L339.1 233.0 L338.8 235.0 L341.2 236.7 L344.1 237.6 L346.9 238.5 L349.7 239.6 L352.0 241.5 L355.1 242.0 L357.5 243.8 L356.3 246.4 L354.4 248.5 L353.0 251.0 L351.0 252.6 L349.5 254.7 L348.2 257.0 L345.9 258.3 L345.0 260.9 L343.0 262.5 L343.0 265.2 L342.1 267.6 L341.2 270.0 L340.5 272.5 L340.1 275.2 L339.0 277.7 L337.9 280.1 L336.8 282.5 L338.9 284.1 L341.4 285.2 L343.4 287.0 L345.5 288.8 L347.8 290.2 L350.3 291.3 L352.9 291.8 L355.5 292.5 L357.3 294.4 L359.4 296.0 L361.8 297.2 L363.9 298.8 L365.5 301.0 L368.2 301.2 L370.3 303.1 L372.9 303.7 L375.3 304.8 L378.0 305.0 L380.4 305.7 L381.9 307.7 L384.0 308.7 L386.0 310.0 L388.4 310.9 L391.1 311.0 L393.3 312.6 L396.0 312.5 L398.1 314.2 L399.3 316.7 L401.0 318.8 L403.5 319.3 L405.9 319.8 L408.5 319.8 L411.0 320.0 L413.5 320.0 L416.0 320.7 L418.4 321.1 L421.0 320.5 L423.5 321.0 L426.4 320.5 L429.3 320.0 L432.0 318.8 L434.3 320.2 L437.0 320.5 L439.4 321.9 L442.0 322.5 L442.8 324.9 L444.4 326.8 L445.6 329.0 L447.0 331.0 L449.4 331.8 L451.6 333.1 L453.8 334.1 L456.4 334.5 L458.5 336.0 L461.0 335.9 L463.6 336.0 L466.0 335.0 L467.6 337.4 L469.8 339.2 L472.0 341.0 L474.5 341.1 L477.0 341.6 L479.2 342.1 L481.5 342.1 L483.7 342.2 L486.0 343.1 L488.0 344.5 L490.4 345.0 L492.6 344.6 L494.8 345.7 L497.0 345.5 L499.2 343.5 L502.0 342.7 L502.7 344.2 L503.6 345.5 L505.8 346.6 L508.0 347.7 L510.1 346.8 L512.5 346.8 L514.7 346.0 L517.4 345.5 L520.2 345.0 L522.4 345.0 L524.7 345.2 L526.8 344.4 L526.2 342.1 L525.6 339.9 L526.0 337.5 L526.1 334.6 L526.9 331.7 L527.0 328.8 L525.5 327.1 L524.8 325.0 L525.1 322.4 L526.8 320.2 L527.0 317.5 L527.2 314.6 L526.9 311.8 L527.5 308.9 L527.0 306.0 L528.9 304.7 L531.0 303.8 L533.5 303.6 L535.9 302.5 L538.5 302.5 L541.0 303.0 L543.5 303.8 L543.5 305.9 L543.8 308.0 L544.8 310.0 L543.8 312.4 L544.1 315.0 L543.5 317.5 L544.2 320.4 L545.4 323.1 L546.0 326.0 L548.2 327.7 L549.8 330.0 L551.9 331.2 L553.9 332.9 L556.1 334.2 L558.5 335.0 L560.9 336.2 L563.3 337.5 L566.1 337.5 L568.5 338.8 L570.7 337.6 L573.1 337.2 L575.3 336.2 L577.6 335.4 L580.0 335.0 L582.5 335.0 L585.0 335.5 L587.5 335.5 L590.0 335.4 L592.5 336.3 L595.0 336.0 L597.5 336.5 L600.0 335.6 L602.5 334.9 L605.0 334.7 L607.5 335.7 L610.0 335.0 L612.6 333.7 L615.6 334.0 L618.3 333.2 L621.0 332.5 L620.5 330.0 L620.9 327.5 L619.6 325.1 L620.0 322.5 L617.5 321.7 L615.5 320.1 L612.9 319.3 L611.0 317.5 L611.0 314.9 L609.6 312.6 L609.5 310.0 L611.7 309.8 L613.9 310.0 L616.0 311.0 L618.7 310.0 L621.3 308.6 L624.0 307.5 L626.8 307.7 L629.7 307.7 L632.5 307.5 L634.0 305.5 L635.4 303.5 L636.0 301.0 L638.4 300.0 L640.4 298.2 L642.9 297.4 L645.0 295.8 L647.5 295.0 L648.2 292.7 L650.0 291.2 L651.5 289.5 L652.5 287.5 L655.1 286.6 L657.8 286.2 L660.6 285.8 L663.4 285.8 L666.0 285.0 L667.6 283.1 L669.4 281.4 L671.1 279.6 L672.5 277.5 L674.4 275.6 L676.8 274.3 L678.9 272.7 L680.1 270.1 L682.5 268.8 L683.8 270.5 L685.6 271.5 L687.5 272.5 L690.1 272.5 L692.5 273.4 L695.0 274.2 L697.4 275.1 L700.0 275.0 L701.9 273.2 L704.1 271.7 L706.0 270.0 L708.7 269.2 L711.2 267.9 L713.8 266.8 L716.0 265.0 L717.4 267.0 L718.5 269.1 L720.0 271.0 L721.9 270.1 L724.0 270.0 L722.4 271.8 L721.0 273.8 L720.0 276.0 L722.5 276.2 L725.0 276.3 L727.5 276.0 L728.3 278.2 L727.7 280.6 L728.0 282.9 L729.0 285.0 L726.9 286.4 L725.7 288.7 L723.8 290.4 L722.5 292.5 L725.0 292.2 L727.5 293.1 L730.0 292.5 L732.4 293.7 L735.1 293.7 L737.7 294.0 L740.0 295.2 L742.5 296.0 L744.6 297.4 L746.6 299.0 L749.0 300.0 L748.0 302.5 L747.6 305.2 L746.0 307.5 L743.6 309.1 L742.2 311.7 L739.3 312.8 L737.5 315.0 L738.9 317.6 L739.7 320.4 L740.1 323.4 L742.0 325.8 L742.5 328.8 L740.3 327.6 L738.8 325.6 L737.1 323.8 L735.0 322.5 L732.4 322.3 L730.0 322.9 L727.4 322.8 L725.0 323.8 L722.5 323.8 L720.0 323.1 L717.5 324.3 L715.0 323.8 L713.6 325.3 L711.6 326.2 L710.0 327.5 L708.3 329.0 L706.1 329.7 L704.3 331.1 L702.5 332.5 L700.8 334.6 L698.8 336.4 L697.5 338.8 L696.5 340.9 L696.0 343.2 L695.0 345.4 L694.0 347.5 L693.9 350.1 L694.1 352.6 L695.0 355.0 L694.1 357.7 L692.1 359.8 L690.7 362.2 L690.0 365.0 L687.7 366.2 L685.5 367.4 L683.5 369.1 L681.0 370.0 L682.0 372.5 L683.0 375.0 L683.9 377.6 L685.0 380.0 L685.7 382.5 L684.3 385.0 L685.0 387.5 L683.7 389.4 L682.6 391.3 L680.9 392.9 L680.0 395.0 L678.7 397.5 L677.5 400.0 L676.0 402.4 L675.0 405.0 L674.3 407.5 L672.5 409.3 L671.4 411.6 L670.0 413.8 L667.7 412.4 L665.2 411.8 L662.4 412.0 L660.0 411.0 L657.7 410.5 L655.4 410.4 L653.2 409.4 L651.0 408.8 L651.5 411.0 L652.3 413.1 L653.8 415.0 L654.0 417.5 L654.4 420.0 L654.7 422.5 L654.5 425.0 L653.7 427.9 L652.6 430.7 L652.5 433.8 L651.7 436.1 L649.7 437.7 L648.8 440.0 L649.0 442.6 L648.3 445.1 L647.5 447.5 L648.3 449.9 L648.1 452.5 L648.8 455.0 L647.7 456.8 L646.4 458.5 L645.0 460.0 L643.6 461.8 L642.5 463.8 L640.2 462.3 L638.8 460.0 L636.2 460.2 L633.8 461.0 L633.2 459.0 L633.8 457.0 L633.8 455.0 L633.0 452.6 L632.5 450.1 L632.5 447.5 L631.9 445.0 L631.2 442.5 L630.5 440.0 L630.0 437.5 L629.6 435.0 L629.4 432.5 L628.6 430.1 L628.8 427.5 L628.0 425.1 L628.3 422.5 L628.0 420.0 L627.5 417.5 L626.0 415.0 L624.3 416.6 L622.3 418.0 L621.0 420.0 L619.2 421.9 L617.3 423.7 L616.0 426.0 L616.0 428.6 L615.0 431.1 L615.0 433.8 L612.7 435.3 L611.0 437.5 L609.2 436.1 L606.9 436.1 L605.0 435.0 L604.1 432.8 L604.3 430.3 L602.7 428.4 L602.5 426.0 L602.3 423.4 L601.3 421.0 L600.0 418.8 L600.1 416.4 L600.9 414.3 L602.2 412.3 L602.5 410.0 L604.0 408.4 L605.5 406.9 L607.5 406.0 L609.7 406.1 L611.6 405.2 L613.8 405.0 L615.3 403.6 L615.8 401.4 L617.5 400.0 L620.0 400.4 L622.5 401.0 L624.1 402.0 L626.0 402.5 L625.0 400.1 L624.9 397.6 L625.0 395.0 L625.5 392.8 L626.1 390.6 L626.4 388.3 L626.0 386.0 L627.7 384.4 L630.0 383.8 L631.9 382.4 L633.8 381.0 L631.3 380.6 L628.9 381.0 L626.4 380.7 L624.0 381.0 L621.2 381.2 L618.4 381.2 L615.6 380.9 L612.8 380.8 L610.0 380.0 L607.5 379.7 L605.0 379.6 L602.5 379.3 L600.0 379.7 L597.5 379.4 L595.0 378.8 L592.5 379.0 L590.0 377.9 L587.6 377.4 L585.0 377.3 L582.5 378.3 L580.0 377.5 L577.3 378.1 L574.7 376.9 L572.0 377.5 L570.2 376.3 L568.5 375.0 L569.2 372.8 L568.9 370.5 L569.4 368.2 L569.8 366.0 L570.5 364.0 L571.2 362.0 L572.0 360.0 L570.1 358.2 L567.6 357.2 L566.0 355.0 L563.6 354.1 L561.0 353.8 L559.7 351.4 L557.3 349.9 L556.0 347.5 L553.5 347.1 L551.1 346.2 L548.5 346.0 L547.4 348.1 L546.0 350.0 L543.3 349.0 L540.8 347.7 L538.5 346.0 L536.0 346.7 L533.5 347.5 L532.8 349.6 L530.6 350.5 L529.8 352.5 L528.2 353.9 L527.0 355.7 L526.0 357.5 L524.3 359.8 L523.5 362.5 L524.2 364.7 L525.3 366.6 L526.0 368.8 L528.5 369.5 L531.0 370.0 L533.5 371.3 L535.7 373.1 L538.5 373.8 L541.0 374.2 L543.5 373.4 L546.0 373.8 L546.8 375.9 L548.5 377.5 L546.2 378.0 L544.0 378.8 L542.0 380.0 L540.1 379.2 L538.0 379.3 L536.0 378.8 L533.8 378.6 L531.7 379.1 L529.8 380.0 L527.7 381.0 L526.0 382.5 L525.2 384.9 L524.8 387.4 L524.8 390.0 L527.3 391.1 L529.8 392.5 L531.1 394.6 L533.3 395.9 L534.6 398.0 L536.0 400.0 L537.7 401.6 L539.8 402.8 L541.0 405.0 L541.6 407.5 L541.6 410.0 L542.0 412.5 L542.5 415.0 L543.1 417.5 L542.4 420.1 L543.0 422.5 L543.7 425.0 L543.8 427.5 L545.5 429.4 L547.5 431.0 L547.0 433.9 L546.7 436.7 L546.5 439.6 L546.0 442.5 L546.3 445.2 L547.6 447.6 L548.8 450.0 L548.9 452.5 L549.3 455.1 L549.4 457.6 L550.5 460.0 L551.2 462.8 L550.3 465.5 L550.2 468.2 L550.5 471.0 L547.9 472.3 L545.0 473.0 L542.8 473.1 L540.5 473.6 L538.2 473.4 L536.0 473.0 L533.8 473.0 L531.6 473.2 L529.5 472.5 L527.3 471.8 L525.5 470.5 L526.1 468.8 L525.5 467.0 L526.2 465.3 L526.7 463.5 L525.2 465.0 L523.7 466.5 L521.3 467.4 L519.7 469.4 L517.3 469.8 L514.7 469.8 L512.5 471.0 L509.9 472.2 L507.3 473.3 L505.0 475.0 L503.9 477.3 L501.8 478.7 L500.0 480.4 L498.8 482.5 L498.4 485.2 L496.4 487.3 L496.0 490.0 L498.0 490.9 L499.4 492.5 L501.0 493.8 L499.5 495.3 L497.5 496.0 L495.8 498.2 L494.0 500.2 L492.5 502.5 L491.1 504.8 L488.3 505.8 L487.0 508.2 L485.0 510.0 L483.1 511.2 L481.2 512.4 L479.5 513.9 L477.5 515.0 L475.1 516.5 L472.4 517.3 L470.0 518.7 L467.5 520.0 L465.2 521.8 L462.3 522.7 L460.1 524.7 L457.5 526.0 L456.1 528.1 L454.0 529.5 L452.3 531.4 L450.0 532.5 L448.6 534.1 L446.5 534.5 L445.0 536.0 L443.4 537.5 L441.3 538.2 L440.0 540.0 L438.4 541.0 L437.3 542.5 L436.4 544.8 L434.0 546.0 L432.7 547.9 L431.8 550.2 L430.3 552.6 L427.5 553.7 L426.1 556.1 L424.1 558.0 L422.3 559.8 L420.1 561.0 L419.0 563.5 L417.0 565.0 L415.2 566.8 L412.8 568.3 L411.1 570.5 L409.5 572.7 L407.5 574.6 L404.9 575.4 L402.9 577.0 L400.8 578.6 L398.7 580.1 L397.1 582.0 L394.7 582.9 L393.0 584.6 L391.0 586.0 L390.2 588.4 L389.2 590.6 L387.5 592.5 L387.0 594.6 L387.0 596.8 L386.0 598.8 L384.0 599.6 L381.9 600.0 L380.0 601.0 L377.5 601.7 L375.1 602.7 L372.5 603.0 L370.0 603.8 L368.0 605.1 L365.6 605.9 L363.8 607.5 L362.5 609.4 L360.7 610.9 L359.5 612.8 L358.8 615.0 L356.9 616.0 L355.6 617.8 L353.8 618.8 L351.6 617.8 L350.0 616.0 L347.7 616.4 L345.7 617.5 L343.8 618.8 L341.9 621.1 L340.6 623.7 L338.8 626.0 L338.4 628.3 L337.1 630.4 L336.6 632.7 L336.0 635.0 L336.2 637.5 L336.6 640.0 L336.8 642.6 L337.5 645.0 L337.9 647.5 L337.9 650.0 L336.8 652.5 L337.5 655.0 L337.2 657.6 L337.6 660.1 L339.1 662.4 L338.8 665.0 L339.8 667.4 L339.9 669.9 L340.0 672.5 L340.4 675.0 L340.5 677.5 L341.0 680.0 L341.2 682.6 L340.3 685.0 L340.0 687.5 L339.7 690.5 L338.9 693.3 L337.5 696.0 L336.0 698.5 L334.9 701.1 L333.8 703.8 L332.6 705.9 L332.0 708.2 L331.0 710.3 L330.0 712.5 L330.1 715.1 L329.6 717.5 L328.7 720.0 L328.8 722.5 L328.6 725.1 L330.0 727.4 L330.2 729.9 L330.0 732.5 L329.6 735.0 L329.8 737.5 L329.6 740.0 L330.0 742.5 L330.4 745.3 L330.1 748.2 L330.0 751.0 L327.5 751.3 L325.0 750.6 L322.5 751.0 L320.9 752.3 L319.0 753.2 L317.5 754.5 L315.3 756.2 L314.4 759.0 L312.5 761.0 L311.2 763.0 L309.7 764.8 L308.8 767.0 L308.8 769.6 L310.0 772.0 L312.0 772.6 L314.1 773.2 L316.0 774.0 L318.4 775.6 L320.0 778.0 L319.1 776.4 L317.5 775.5 L314.9 775.8 L312.4 775.4 L310.0 774.5 L307.5 775.2 L305.0 776.2 L302.5 777.0 L299.9 778.1 L297.6 779.9 L295.0 781.0 L292.7 782.5 L291.0 784.5 L291.1 786.4 L290.0 788.0 L289.0 790.4 L287.1 792.2 L286.0 794.5 L284.8 797.0 L282.9 799.0 L281.0 801.0 L278.5 801.7 L276.1 802.7 L273.8 804.0 L271.1 803.3 L268.4 802.5 L266.0 801.0 L264.0 799.1 L262.6 796.8 L260.4 795.1 L258.8 793.0 L256.8 791.2 L255.9 788.6 L254.1 786.6 L252.5 784.5 L251.8 781.7 L250.6 779.2 L249.3 776.7 L247.5 774.5 L246.7 772.0 L246.4 769.4 L245.0 767.1 L244.3 764.6 L243.8 762.0 L242.9 759.6 L242.8 757.0 L242.0 754.6 L240.4 752.5 L240.0 750.0 L239.0 747.6 L238.2 745.1 L237.4 742.6 L236.7 740.0 L236.0 737.5 L235.0 735.1 L233.8 732.6 L233.5 730.0 L232.5 727.5 L231.6 724.8 L230.1 722.5 L229.2 719.8 L227.5 717.5 L226.3 715.6 L224.6 714.0 L224.1 711.7 L222.5 710.0 L221.3 707.2 L219.0 705.2 L217.1 702.9 L216.0 700.0 L214.8 697.5 L213.6 695.0 L212.3 692.5 L211.0 690.0 L210.9 687.3 L209.8 684.9 L209.3 682.4 L207.6 680.2 L207.5 677.5 L206.9 675.0 L206.6 672.4 L205.1 670.1 L205.0 667.5 L203.6 665.2 L203.7 662.4 L203.1 659.8 L201.2 657.7 L201.0 655.0 L200.2 652.7 L198.5 650.7 L198.3 648.1 L197.2 645.9 L196.0 643.8 L194.4 641.7 L193.2 639.6 L192.6 637.0 L191.0 635.0 L189.8 633.1 L188.8 631.0 L187.1 629.5 L186.0 627.5 L185.0 625.1 L185.1 622.3 L183.8 620.0 L183.1 617.4 L181.9 615.0 L181.0 612.5 L180.2 610.0 L179.5 607.4 L178.7 604.9 L177.5 602.5 L177.3 599.8 L175.9 597.5 L175.7 594.9 L174.7 592.4 L173.8 590.0 L173.5 587.4 L172.8 584.9 L172.1 582.4 L171.0 580.0 L171.0 577.4 L170.5 574.9 L169.5 572.5 L168.8 570.0 L168.5 567.5 L168.4 565.0 L168.2 562.4 L167.5 560.0 L166.9 557.5 L166.4 555.0 L165.5 552.6 L165.8 549.9 L165.0 547.5 L165.0 544.5 L163.6 541.8 L162.7 539.0 L162.5 536.0 L161.5 533.3 L161.1 530.5 L160.3 527.8 L160.0 525.0 L160.3 522.4 L158.8 520.1 L158.8 517.5 L158.8 515.0 L159.0 512.3 L160.4 510.1 L161.0 507.5 L161.8 505.1 L161.3 502.4 L161.5 499.9 L162.5 497.5 L161.8 495.0 L161.4 492.5 L161.2 489.9 L160.0 487.5 L159.0 485.1 L158.8 482.6 L158.6 480.1 L158.8 477.5 L157.5 475.1 L156.6 472.6 L156.0 470.0 L156.7 467.5 L156.9 465.0 L156.7 462.4 L157.5 460.0 L158.9 458.3 L160.6 457.1 L162.5 456.0 L160.2 455.9 L158.2 454.5 L155.9 454.6 L153.8 453.8 L152.3 454.8 L151.0 456.0 L149.4 458.4 L148.7 461.2 L147.5 463.8 L148.4 465.8 L148.2 468.3 L148.8 470.5 L150.0 472.5 L149.2 474.7 L147.9 476.7 L146.4 478.6 L146.0 481.0 L143.5 482.3 L141.2 483.8 L138.8 485.3 L136.0 486.0 L133.5 486.4 L131.4 487.6 L129.5 489.1 L127.2 490.0 L125.0 491.0 L122.5 492.0 L120.1 493.3 L117.2 493.4 L115.0 495.0 L112.6 493.6 L109.8 492.8 L107.2 491.9 L105.0 490.0 L102.5 488.8 L100.2 486.9 L98.4 484.6 L96.1 482.7 L93.8 481.0 L92.3 479.1 L90.3 477.7 L88.7 475.9 L87.5 473.8 L85.4 472.0 L83.5 470.1 L82.2 467.6 L80.0 466.0 L78.1 463.9 L76.4 461.6 L74.9 459.2 L72.5 457.5 L71.7 455.4 L71.5 453.2 L71.0 451.0 L73.2 451.3 L75.0 452.5 L77.0 452.9 L79.0 451.8 L81.0 452.5 L83.4 452.3 L85.6 451.7 L87.9 451.1 L90.0 450.0 L92.4 448.8 L94.9 448.4 L97.6 448.4 L100.0 447.5 L100.3 445.1 L101.6 443.2 L102.5 441.0 L103.6 438.6 L105.4 436.4 L106.0 433.8 L103.9 434.9 L101.7 435.8 L100.0 437.5 L97.6 438.6 L94.9 438.9 L92.5 440.2 L90.0 441.0 L87.8 440.4 L85.5 441.6 L83.2 440.5 L81.0 441.0 L78.7 440.0 L76.8 438.2 L74.6 436.8 L72.5 435.5 L70.1 435.4 L68.1 434.0 L65.7 433.9 L63.7 432.6 L62.1 430.8 L62.1 429.2 L62.6 427.6 L60.5 425.6 L59.6 423.9 L59.8 421.9 L59.6 420.1 L60.0 418.3 L60.5 415.4 L61.0 412.5 L63.3 412.0 L65.5 411.0 L65.4 408.4 L65.9 405.9 L65.7 403.3 L67.3 402.8 L69.2 402.3 L71.0 403.0 L73.8 403.0 L76.5 403.2 L79.2 404.0 L82.0 404.0 L84.7 403.8 L87.5 403.8 L89.9 402.5 L92.5 402.5 L95.1 402.4 L97.4 401.2 L100.0 401.0 L102.9 400.6 L105.8 399.9 L108.8 399.5 L110.4 400.6 L111.0 402.5 L113.4 402.5 L115.6 401.7 L117.6 400.2 L120.0 400.0 L121.0 398.0 L121.4 395.7 L122.5 393.8 L121.1 392.0 L120.0 390.0 L118.5 387.5 L116.8 385.1 L115.3 382.6 L113.9 380.1 L112.5 377.5 L111.8 375.2 L110.3 373.3 L109.3 371.1 L108.8 368.8 L106.4 366.9 L103.6 365.8 L101.6 363.5 L98.8 362.5 L97.9 360.0 L97.2 357.4 L96.0 355.0 L97.1 352.8 L99.1 351.1 L100.0 348.8 L98.2 346.5 L97.5 343.8 L94.8 343.3 L92.3 342.4 L90.1 340.7 L87.5 340.0 L86.2 338.1 L84.2 337.0 L83.0 335.0 L83.5 332.5 L84.8 330.1 L85.0 327.5 L86.8 325.6 L88.1 323.1 L90.0 321.2 L91.6 319.2 L93.8 317.5 L94.5 315.1 L96.1 313.1 L97.0 310.6 L98.8 308.8 L101.2 307.5 L102.9 305.3 L105.0 303.8 L107.0 304.5 L108.9 305.4 L111.0 306.0 L112.0 308.4 L113.3 310.6 L115.0 312.5 L117.5 311.7 L119.9 311.0 L122.5 310.5 L125.0 310.0 L127.3 308.5 L130.0 308.2 L132.6 307.8 L135.2 307.3 L137.6 306.2 L140.0 305.0 L141.5 302.6 L142.6 300.1 L143.1 297.2 L145.0 295.0 L146.3 292.9 L147.8 290.9 L149.7 289.1 L150.6 286.7 L152.5 285.0 L154.5 283.2 L156.7 281.7 L159.0 280.3 L161.1 278.7 L163.0 276.8 L165.0 275.0 L166.1 272.3 L168.3 270.2 L170.0 267.8 L171.1 265.0 L172.5 262.5 L173.8 260.1 L175.5 257.9 L176.6 255.3 L178.8 253.5 L180.0 251.0 L182.4 251.1 L184.4 249.9 L186.6 249.6 L188.8 248.8 L189.6 245.9 L189.2 242.9 L190.0 240.0 L192.1 237.8 L193.3 235.1 L194.3 232.3 L196.2 230.0 L197.8 228.3 L200.0 227.5 L201.2 225.4 L203.1 223.8 L204.7 222.0 L206.0 220.0 L205.2 217.6 L205.5 214.9 L204.1 212.5 L203.8 210.0 L204.0 207.5 L203.9 204.9 L205.3 202.6 L205.0 200.0 L206.3 198.3 L208.7 197.8 L210.0 196.0 L212.5 194.6 L215.0 193.1 L217.5 191.6 L220.0 190.0 L221.0 188.1 L223.0 187.0 L223.8 185.0 L221.9 183.5 L219.7 182.9 L217.5 182.5 L215.0 181.7 L212.4 181.8 L210.1 180.2 L207.5 180.0 L206.4 178.0 L206.3 175.6 L205.0 173.8 L202.4 173.3 L200.0 172.2 L197.6 171.1 L194.9 171.2 L192.5 170.0 L190.5 168.4 L188.1 167.5 L186.1 166.0 L184.2 164.4 L182.5 162.5 L182.7 159.9 L182.1 157.4 L181.2 155.0 L180.5 152.5 L180.1 150.0 L180.5 147.5 L180.5 145.0 L179.9 142.5 L180.0 140.0 L179.4 137.5 L178.9 134.9 L177.1 132.7 L177.0 130.0 L176.7 127.5 L177.3 125.0 L177.5 122.5 L179.8 120.8 L182.5 120.0 L184.1 118.2 L185.9 116.7 L187.5 115.0 L188.9 112.7 L191.0 111.0 L190.5 108.5 L190.0 106.0 L187.8 105.1 L185.9 103.6 L183.8 102.5 L184.7 100.5 L186.0 98.8 L185.1 96.2 L183.8 93.8 L181.4 93.7 L179.4 92.1 L177.0 92.2 L175.0 91.0 L173.3 88.7 L170.9 87.2 L168.8 85.5 L165.8 85.4 L162.9 85.3 L160.0 85.0 L157.8 83.6 L155.5 82.5 L155.3 79.9Z" stroke-width="1.7"/>
</g>
<g fill="#868686" stroke="#808080" stroke-width="0.8" stroke-linejoin="round">
<path d="M545.8 437.0 L546.5 438.5 L547.1 442.0 L547.6 446.7 L548.8 452.5 L550.0 457.1 L550.5 462.4 L550.0 467.6 L550.5 471.1 L547.6 473.5 L544.1 472.9 L541.2 473.5 L539.5 470.5 L537.1 473.5 L532.5 472.9 L529.6 473.5 L527.8 470.0 L525.2 471.1 L524.9 468.2 L526.7 465.3 L529.0 465.9 L531.3 464.7 L534.8 463.6 L538.3 461.8 L539.5 457.1 L542.4 453.6 L543.6 449.6 L545.3 445.5 L546.0 440.8Z"/>
<path d="M52.3 414.2 L54.3 412.1 L57.4 410.0 L59.0 409.5 L60.5 411.1 L65.2 411.6 L65.7 414.7 L62.6 416.8 L60.0 417.8 L58.0 418.3 L56.9 420.4 L54.3 421.4 L52.3 420.9 L51.7 418.3Z"/>
</g>
<g fill="#dcdcdc" stroke="#8a8a8a" stroke-width="1.4" stroke-linejoin="round">
<path d="M642.4 670.2 L643.8 670.6 L645.3 670.2 L644.8 672.5 L645.5 674.7 L645.7 677.0 L645.7 679.1 L644.7 681.0 L644.9 683.1 L644.4 685.1 L642.2 685.3 L640.3 686.4 L639.6 684.7 L639.5 682.8 L639.0 681.0 L639.8 678.8 L639.2 676.4 L640.3 674.3 L641.1 672.1Z"/>
<path d="M637.0 689.1 L638.8 689.1 L640.6 688.8 L642.4 688.4 L642.9 690.3 L642.2 692.2 L642.9 694.0 L642.8 695.9 L642.6 697.9 L641.8 699.8 L641.7 701.9 L639.7 702.5 L637.7 702.6 L637.8 700.6 L636.7 699.0 L636.3 697.2 L636.3 695.2 L636.0 693.1 L637.2 691.2Z"/>
<path d="M636.3 704.0 L637.6 704.0 L639.0 704.0 L639.4 706.0 L639.0 708.0 L638.3 710.0 L638.6 712.0 L637.9 714.0 L638.3 716.1 L636.9 718.0 L637.0 720.1 L635.9 721.7 L636.3 723.9 L635.0 725.5 L634.3 724.4 L633.2 723.5 L632.8 721.3 L632.2 719.2 L632.3 716.9 L632.3 714.7 L633.2 712.5 L633.1 710.1 L634.3 708.0 L635.1 705.9Z"/>
<ellipse cx="631.3" cy="741" rx="2.7" ry="4"/>
</g>
<path d="M644.4 703.3 L646.1 702.6 L645.7 709.3 L644.8 714.1 L643.0 712.7 L642.4 709.3Z" fill="#8f8f8f"/>
<g fill="#8c8c8c">
<circle cx="658.4" cy="640" r="1"/>
<circle cx="663.7" cy="703" r="1.4"/>
<circle cx="625.5" cy="720.1" r="1.4"/>
<circle cx="638" cy="777.5" r="1.8"/>
<circle cx="647.3" cy="799.2" r="2"/>
<circle cx="658.5" cy="793.6" r="1.1"/>
<circle cx="655.9" cy="802.3" r="1.8"/>
<circle cx="655.4" cy="805" r="1.8"/>
<circle cx="652.5" cy="807.2" r="2"/>
<circle cx="181" cy="738.75" r="1"/>
<circle cx="158.75" cy="743.75" r="0.9"/>
<circle cx="327.5" cy="712" r="1.6"/>
<circle cx="328.75" cy="735.75" r="1.5"/>
<circle cx="246" cy="763" r="1.3"/>
</g>
</svg>
<h1>DNA H (Odia) Parja density interactive map</h1>
<div class="bl"></div>
</body></html>
